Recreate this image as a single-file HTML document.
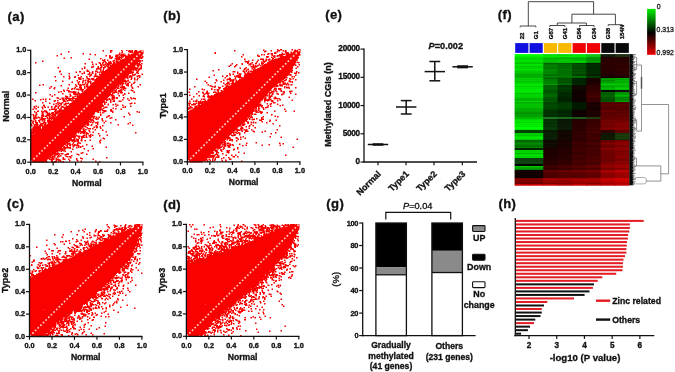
<!DOCTYPE html>
<html><head><meta charset="utf-8"><style>
html,body{margin:0;padding:0;background:#fff;width:675px;height:372px;overflow:hidden}
svg{display:block;font-family:"Liberation Sans", sans-serif}
svg{will-change:transform}
text{stroke:#111;stroke-width:0.32px}
</style></head><body>
<svg width="675" height="372" viewBox="0 0 675 372">
<rect width="675" height="372" fill="#fff"/>
<text x="7.44" y="21.3" font-size="13.1" font-weight="bold" text-anchor="start" fill="#111" stroke="#111" stroke-width="0.35" letter-spacing="0.4">(a)</text>
<text x="163.15" y="20.11" font-size="13.1" font-weight="bold" text-anchor="start" fill="#111" stroke="#111" stroke-width="0.35" letter-spacing="0.4">(b)</text>
<text x="6.94" y="207.5" font-size="13.1" font-weight="bold" text-anchor="start" fill="#111" stroke="#111" stroke-width="0.35" letter-spacing="0.4">(c)</text>
<text x="163.15" y="208.91" font-size="13.1" font-weight="bold" text-anchor="start" fill="#111" stroke="#111" stroke-width="0.35" letter-spacing="0.4">(d)</text>
<text x="325.15" y="19.01" font-size="13.1" font-weight="bold" text-anchor="start" fill="#111" stroke="#111" stroke-width="0.35" letter-spacing="0.4">(e)</text>
<text x="497.85" y="19.3" font-size="13.1" font-weight="bold" text-anchor="start" fill="#111" stroke="#111" stroke-width="0.35" letter-spacing="0.4">(f)</text>
<text x="326.35" y="208.31" font-size="13.1" font-weight="bold" text-anchor="start" fill="#111" stroke="#111" stroke-width="0.35" letter-spacing="0.4">(g)</text>
<text x="498.45" y="208.31" font-size="13.1" font-weight="bold" text-anchor="start" fill="#111" stroke="#111" stroke-width="0.35" letter-spacing="0.4">(h)</text>
<path d="M102.5 50h1.5v.5h-1.5zM110 50h2.5v.5h-2.5zM121 50h1.5v.5h-1.5zM126 50h1.5v.5h-1.5zM129 50h1.5v.5h-1.5zM131.5 50h1.5v.5h-1.5zM135 50h2v.5h-2zM140.5 50h3v.5h-3zM102.5 50.5h1.5v.5h-1.5zM110 50.5h2.5v.5h-2.5zM121 50.5h1.5v.5h-1.5zM126 50.5h1.5v.5h-1.5zM128 50.5h5v.5h-5zM134 50.5h3.5v.5h-3.5zM139.5 50.5h4v.5h-4zM68 51h1.5v.5h-1.5zM102.5 51h1.5v.5h-1.5zM110 51h2.5v.5h-2.5zM121.5 51h1.5v.5h-1.5zM128 51h5v.5h-5zM134 51h3.5v.5h-3.5zM138.5 51h5v.5h-5zM68 51.5h1.5v.5h-1.5zM110 51.5h1.5v.5h-1.5zM121.5 51.5h1.5v.5h-1.5zM128 51.5h5.5v.5h-5.5zM134 51.5h9.5v.5h-9.5zM68 52h1.5v.5h-1.5zM110 52h1.5v.5h-1.5zM121.5 52h1.5v.5h-1.5zM128.5 52h5v.5h-5zM134 52h9.5v.5h-9.5zM110 52.5h1.5v.5h-1.5zM119 52.5h1.5v.5h-1.5zM121.5 52.5h1.5v.5h-1.5zM130 52.5h1.5v.5h-1.5zM132 52.5h1.5v.5h-1.5zM134 52.5h9.5v.5h-9.5zM82.5 53h1.5v.5h-1.5zM119 53h1.5v.5h-1.5zM133.5 53h10v.5h-10zM60.5 53.5h1.5v.5h-1.5zM82.5 53.5h1.5v.5h-1.5zM89.5 53.5h1.5v.5h-1.5zM119 53.5h1.5v.5h-1.5zM121 53.5h3.5v.5h-3.5zM128 53.5h1.5v.5h-1.5zM131.5 53.5h12v.5h-12zM60.5 54h1.5v.5h-1.5zM82.5 54h1.5v.5h-1.5zM89.5 54h1.5v.5h-1.5zM94.5 54h1.5v.5h-1.5zM118.5 54h1.5v.5h-1.5zM121 54h3.5v.5h-3.5zM128 54h1.5v.5h-1.5zM131 54h12v.5h-12zM60.5 54.5h1.5v.5h-1.5zM89.5 54.5h1.5v.5h-1.5zM94.5 54.5h1.5v.5h-1.5zM115.5 54.5h10.5v.5h-10.5zM127.5 54.5h15v.5h-15zM56.5 55h1.5v.5h-1.5zM94.5 55h1.5v.5h-1.5zM105.5 55h1.5v.5h-1.5zM109 55h1.5v.5h-1.5zM115.5 55h10.5v.5h-10.5zM127.5 55h15v.5h-15zM56.5 55.5h1.5v.5h-1.5zM105.5 55.5h1.5v.5h-1.5zM109 55.5h2v.5h-2zM115 55.5h3.5v.5h-3.5zM120 55.5h7v.5h-7zM127.5 55.5h15v.5h-15zM56.5 56h1.5v.5h-1.5zM105.5 56h1.5v.5h-1.5zM109 56h2v.5h-2zM115 56h3v.5h-3zM118.5 56h1.5v.5h-1.5zM121 56h20.5v.5h-20.5zM142 56h1.5v.5h-1.5zM109 56.5h2v.5h-2zM111.5 56.5h1.5v.5h-1.5zM115 56.5h3v.5h-3zM118.5 56.5h5.5v.5h-5.5zM125 56.5h16.5v.5h-16.5zM142 56.5h1.5v.5h-1.5zM70.5 57h1.5v.5h-1.5zM109 57h1.5v.5h-1.5zM111 57h2v.5h-2zM115 57h1.5v.5h-1.5zM117 57h7v.5h-7zM125 57h18.5v.5h-18.5zM63.5 57.5h1.5v.5h-1.5zM70.5 57.5h1.5v.5h-1.5zM109 57.5h4v.5h-4zM116 57.5h6.5v.5h-6.5zM125 57.5h18v.5h-18zM63.5 58h1.5v.5h-1.5zM70.5 58h1.5v.5h-1.5zM100 58h1.5v.5h-1.5zM109 58h3.5v.5h-3.5zM114.5 58h5.5v.5h-5.5zM120.5 58h2v.5h-2zM124.5 58h18.5v.5h-18.5zM63.5 58.5h1.5v.5h-1.5zM88.5 58.5h1.5v.5h-1.5zM100 58.5h1.5v.5h-1.5zM110.5 58.5h1.5v.5h-1.5zM114.5 58.5h5.5v.5h-5.5zM120.5 58.5h1.5v.5h-1.5zM123.5 58.5h16.5v.5h-16.5zM140.5 58.5h1.5v.5h-1.5zM88.5 59h1.5v.5h-1.5zM100 59h1.5v.5h-1.5zM104 59h1.5v.5h-1.5zM114.5 59h25v.5h-25zM88.5 59.5h1.5v.5h-1.5zM102 59.5h1.5v.5h-1.5zM104 59.5h1.5v.5h-1.5zM107 59.5h1.5v.5h-1.5zM116 59.5h4.5v.5h-4.5zM122 59.5h17.5v.5h-17.5zM102 60h3.5v.5h-3.5zM107 60h1.5v.5h-1.5zM113.5 60h1.5v.5h-1.5zM116 60h25v.5h-25zM141.5 60h1.5v.5h-1.5zM42 60.5h1.5v.5h-1.5zM102 60.5h3v.5h-3zM107 60.5h1.5v.5h-1.5zM112.5 60.5h2.5v.5h-2.5zM115.5 60.5h2v.5h-2zM120 60.5h21v.5h-21zM141.5 60.5h1.5v.5h-1.5zM42 61h1.5v.5h-1.5zM103.5 61h2.5v.5h-2.5zM109.5 61h1.5v.5h-1.5zM112.5 61h2.5v.5h-2.5zM115.5 61h3v.5h-3zM119.5 61h21.5v.5h-21.5zM141.5 61h1.5v.5h-1.5zM42 61.5h1.5v.5h-1.5zM91.5 61.5h1.5v.5h-1.5zM102.5 61.5h3.5v.5h-3.5zM108 61.5h3.5v.5h-3.5zM112.5 61.5h1.5v.5h-1.5zM115.5 61.5h25.5v.5h-25.5zM35 62h1.5v.5h-1.5zM91.5 62h1.5v.5h-1.5zM98.5 62h1.5v.5h-1.5zM102.5 62h1.5v.5h-1.5zM104.5 62h2.5v.5h-2.5zM108 62h3.5v.5h-3.5zM113 62h2v.5h-2zM115.5 62h22.5v.5h-22.5zM138.5 62h2v.5h-2zM35 62.5h1.5v.5h-1.5zM91.5 62.5h1.5v.5h-1.5zM98.5 62.5h2.5v.5h-2.5zM102 62.5h2v.5h-2zM105.5 62.5h1.5v.5h-1.5zM108 62.5h4v.5h-4zM113 62.5h2v.5h-2zM115.5 62.5h22.5v.5h-22.5zM139 62.5h1.5v.5h-1.5zM35 63h1.5v.5h-1.5zM84.5 63h1.5v.5h-1.5zM98.5 63h2.5v.5h-2.5zM102 63h1.5v.5h-1.5zM105.5 63h6.5v.5h-6.5zM113 63h2v.5h-2zM115.5 63h25v.5h-25zM141 63h1.5v.5h-1.5zM84.5 63.5h1.5v.5h-1.5zM92 63.5h1.5v.5h-1.5zM95.5 63.5h1.5v.5h-1.5zM99.5 63.5h1.5v.5h-1.5zM102 63.5h1.5v.5h-1.5zM104.5 63.5h1.5v.5h-1.5zM106.5 63.5h33.5v.5h-33.5zM141 63.5h1.5v.5h-1.5zM84.5 64h1.5v.5h-1.5zM92 64h1.5v.5h-1.5zM95.5 64h1.5v.5h-1.5zM100 64h1.5v.5h-1.5zM102 64h1.5v.5h-1.5zM104.5 64h1.5v.5h-1.5zM106.5 64h4.5v.5h-4.5zM111.5 64h25v.5h-25zM137 64h5.5v.5h-5.5zM92 64.5h1.5v.5h-1.5zM95.5 64.5h1.5v.5h-1.5zM100 64.5h2.5v.5h-2.5zM103 64.5h7.5v.5h-7.5zM111.5 64.5h29.5v.5h-29.5zM100 65h2.5v.5h-2.5zM103 65h1.5v.5h-1.5zM106 65h1.5v.5h-1.5zM108 65h1.5v.5h-1.5zM110 65h25.5v.5h-25.5zM136.5 65h5.5v.5h-5.5zM92.5 65.5h1.5v.5h-1.5zM100.5 65.5h2v.5h-2zM103 65.5h6.5v.5h-6.5zM110 65.5h25.5v.5h-25.5zM136.5 65.5h3v.5h-3zM140.5 65.5h1.5v.5h-1.5zM92.5 66h1.5v.5h-1.5zM97.5 66h1.5v.5h-1.5zM100.5 66h2v.5h-2zM104.5 66h1.5v.5h-1.5zM106.5 66h3v.5h-3zM110 66h25v.5h-25zM137 66h2.5v.5h-2.5zM140.5 66h1.5v.5h-1.5zM84 66.5h1.5v.5h-1.5zM91 66.5h3v.5h-3zM97.5 66.5h1.5v.5h-1.5zM101 66.5h1.5v.5h-1.5zM104 66.5h2v.5h-2zM106.5 66.5h3v.5h-3zM110 66.5h25.5v.5h-25.5zM137.5 66.5h1.5v.5h-1.5zM140.5 66.5h1.5v.5h-1.5zM57.5 67h1.5v.5h-1.5zM84 67h1.5v.5h-1.5zM91 67h3v.5h-3zM97.5 67h1.5v.5h-1.5zM100 67h2.5v.5h-2.5zM103 67h3v.5h-3zM107 67h29.5v.5h-29.5zM137.5 67h1.5v.5h-1.5zM140.5 67h1.5v.5h-1.5zM57.5 67.5h1.5v.5h-1.5zM84 67.5h1.5v.5h-1.5zM91 67.5h1.5v.5h-1.5zM97.5 67.5h2v.5h-2zM100 67.5h2.5v.5h-2.5zM103 67.5h2.5v.5h-2.5zM108 67.5h30v.5h-30zM139.5 67.5h2.5v.5h-2.5zM57.5 68h1.5v.5h-1.5zM81.5 68h1.5v.5h-1.5zM84 68h1.5v.5h-1.5zM96.5 68h5.5v.5h-5.5zM103 68h1.5v.5h-1.5zM108 68h30v.5h-30zM139 68h3v.5h-3zM81.5 68.5h1.5v.5h-1.5zM84 68.5h1.5v.5h-1.5zM96 68.5h4.5v.5h-4.5zM103 68.5h1.5v.5h-1.5zM106.5 68.5h35.5v.5h-35.5zM81.5 69h1.5v.5h-1.5zM96 69h5.5v.5h-5.5zM103 69h1.5v.5h-1.5zM106.5 69h30.5v.5h-30.5zM137.5 69h4.5v.5h-4.5zM86.5 69.5h1.5v.5h-1.5zM96 69.5h1.5v.5h-1.5zM100 69.5h1.5v.5h-1.5zM102.5 69.5h1.5v.5h-1.5zM106.5 69.5h30.5v.5h-30.5zM137.5 69.5h2.5v.5h-2.5zM86.5 70h1.5v.5h-1.5zM100 70h1.5v.5h-1.5zM102.5 70h1.5v.5h-1.5zM105 70h27.5v.5h-27.5zM133 70h1.5v.5h-1.5zM135.5 70h1.5v.5h-1.5zM137.5 70h2.5v.5h-2.5zM59.5 70.5h1.5v.5h-1.5zM86.5 70.5h3v.5h-3zM95 70.5h2.5v.5h-2.5zM100 70.5h1.5v.5h-1.5zM102.5 70.5h1.5v.5h-1.5zM105 70.5h27.5v.5h-27.5zM133 70.5h1.5v.5h-1.5zM135.5 70.5h3.5v.5h-3.5zM59 71h2v.5h-2zM79 71h2v.5h-2zM86.5 71h3v.5h-3zM92 71h1.5v.5h-1.5zM95 71h2.5v.5h-2.5zM100 71h32.5v.5h-32.5zM136.5 71h2.5v.5h-2.5zM59 71.5h2v.5h-2zM75.5 71.5h1.5v.5h-1.5zM79 71.5h2v.5h-2zM83.5 71.5h1.5v.5h-1.5zM86.5 71.5h3v.5h-3zM92 71.5h1.5v.5h-1.5zM95 71.5h3.5v.5h-3.5zM99 71.5h1.5v.5h-1.5zM101.5 71.5h32.5v.5h-32.5zM136.5 71.5h2v.5h-2zM59 72h1.5v.5h-1.5zM75.5 72h1.5v.5h-1.5zM79 72h2v.5h-2zM83.5 72h1.5v.5h-1.5zM89 72h1.5v.5h-1.5zM92 72h1.5v.5h-1.5zM95 72h1.5v.5h-1.5zM97 72h1.5v.5h-1.5zM99 72h1.5v.5h-1.5zM101 72h33v.5h-33zM136 72h2v.5h-2zM75.5 72.5h1.5v.5h-1.5zM83.5 72.5h1.5v.5h-1.5zM89 72.5h1.5v.5h-1.5zM91.5 72.5h2v.5h-2zM97 72.5h1.5v.5h-1.5zM99 72.5h1.5v.5h-1.5zM101 72.5h33v.5h-33zM136 72.5h3v.5h-3zM68.5 73h1.5v.5h-1.5zM81.5 73h1.5v.5h-1.5zM83.5 73h1.5v.5h-1.5zM89 73h1.5v.5h-1.5zM91.5 73h2v.5h-2zM95 73h1.5v.5h-1.5zM101 73h31.5v.5h-31.5zM136 73h3v.5h-3zM60.5 73.5h1.5v.5h-1.5zM68.5 73.5h1.5v.5h-1.5zM81.5 73.5h1.5v.5h-1.5zM83.5 73.5h1.5v.5h-1.5zM87.5 73.5h2.5v.5h-2.5zM91.5 73.5h2v.5h-2zM95 73.5h1.5v.5h-1.5zM99 73.5h1.5v.5h-1.5zM101 73.5h30.5v.5h-30.5zM132 73.5h1.5v.5h-1.5zM134.5 73.5h1.5v.5h-1.5zM137.5 73.5h1.5v.5h-1.5zM141.5 73.5h1.5v.5h-1.5zM60.5 74h1.5v.5h-1.5zM68.5 74h1.5v.5h-1.5zM81.5 74h1.5v.5h-1.5zM87.5 74h2.5v.5h-2.5zM90.5 74h1.5v.5h-1.5zM95 74h1.5v.5h-1.5zM99 74h30v.5h-30zM132 74h1.5v.5h-1.5zM134 74h2v.5h-2zM141.5 74h1.5v.5h-1.5zM60.5 74.5h1.5v.5h-1.5zM77.5 74.5h1.5v.5h-1.5zM87.5 74.5h4.5v.5h-4.5zM94.5 74.5h2v.5h-2zM99 74.5h30v.5h-30zM132 74.5h4v.5h-4zM141.5 74.5h1.5v.5h-1.5zM77.5 75h1.5v.5h-1.5zM90 75h2v.5h-2zM94.5 75h2v.5h-2zM99.5 75h29.5v.5h-29.5zM129.5 75h2v.5h-2zM132 75h3.5v.5h-3.5zM138 75h2.5v.5h-2.5zM68.5 75.5h1.5v.5h-1.5zM77.5 75.5h1.5v.5h-1.5zM89 75.5h2.5v.5h-2.5zM94.5 75.5h4v.5h-4zM99.5 75.5h29v.5h-29zM129.5 75.5h3v.5h-3zM133 75.5h1.5v.5h-1.5zM136.5 75.5h4v.5h-4zM54.5 76h1.5v.5h-1.5zM63 76h1.5v.5h-1.5zM68.5 76h1.5v.5h-1.5zM74.5 76h1.5v.5h-1.5zM80.5 76h1.5v.5h-1.5zM86 76h1.5v.5h-1.5zM89 76h1.5v.5h-1.5zM93.5 76h35v.5h-35zM129 76h3.5v.5h-3.5zM136.5 76h4v.5h-4zM54.5 76.5h1.5v.5h-1.5zM63 76.5h1.5v.5h-1.5zM68.5 76.5h1.5v.5h-1.5zM74 76.5h2v.5h-2zM80.5 76.5h1.5v.5h-1.5zM86 76.5h1.5v.5h-1.5zM89 76.5h1.5v.5h-1.5zM93.5 76.5h35v.5h-35zM129 76.5h3.5v.5h-3.5zM136.5 76.5h1.5v.5h-1.5zM139 76.5h1.5v.5h-1.5zM54.5 77h1.5v.5h-1.5zM63 77h1.5v.5h-1.5zM69 77h1.5v.5h-1.5zM74 77h2v.5h-2zM78 77h1.5v.5h-1.5zM80.5 77h1.5v.5h-1.5zM86 77h1.5v.5h-1.5zM93.5 77h1.5v.5h-1.5zM97.5 77h31v.5h-31zM129 77h1.5v.5h-1.5zM131 77h1.5v.5h-1.5zM139 77h1.5v.5h-1.5zM69 77.5h1.5v.5h-1.5zM74 77.5h1.5v.5h-1.5zM78 77.5h3v.5h-3zM86.5 77.5h1.5v.5h-1.5zM96 77.5h32.5v.5h-32.5zM129 77.5h1.5v.5h-1.5zM131 77.5h1.5v.5h-1.5zM134 77.5h1.5v.5h-1.5zM137 77.5h1.5v.5h-1.5zM139 77.5h1.5v.5h-1.5zM68.5 78h2v.5h-2zM78 78h3.5v.5h-3.5zM82.5 78h1.5v.5h-1.5zM86.5 78h3v.5h-3zM91 78h3v.5h-3zM96 78h30.5v.5h-30.5zM127 78h1.5v.5h-1.5zM131 78h1.5v.5h-1.5zM134 78h1.5v.5h-1.5zM137 78h1.5v.5h-1.5zM68.5 78.5h1.5v.5h-1.5zM78.5 78.5h3v.5h-3zM82.5 78.5h1.5v.5h-1.5zM86.5 78.5h4v.5h-4zM91 78.5h3.5v.5h-3.5zM96 78.5h29v.5h-29zM127 78.5h1.5v.5h-1.5zM130.5 78.5h2v.5h-2zM134 78.5h1.5v.5h-1.5zM137 78.5h1.5v.5h-1.5zM68.5 79h1.5v.5h-1.5zM78.5 79h3v.5h-3zM82.5 79h1.5v.5h-1.5zM87.5 79h3v.5h-3zM91 79h3.5v.5h-3.5zM95 79h29.5v.5h-29.5zM130.5 79h1.5v.5h-1.5zM134 79h1.5v.5h-1.5zM136.5 79h1.5v.5h-1.5zM78.5 79.5h3v.5h-3zM85 79.5h1.5v.5h-1.5zM87.5 79.5h3v.5h-3zM91.5 79.5h34.5v.5h-34.5zM127.5 79.5h1.5v.5h-1.5zM130.5 79.5h1.5v.5h-1.5zM134 79.5h1.5v.5h-1.5zM136.5 79.5h1.5v.5h-1.5zM55 80h1.5v.5h-1.5zM76.5 80h1.5v.5h-1.5zM82.5 80h1.5v.5h-1.5zM84.5 80h2v.5h-2zM87.5 80h1.5v.5h-1.5zM92 80h34v.5h-34zM127.5 80h1.5v.5h-1.5zM134 80h1.5v.5h-1.5zM136.5 80h1.5v.5h-1.5zM55 80.5h1.5v.5h-1.5zM62 80.5h1.5v.5h-1.5zM76.5 80.5h1.5v.5h-1.5zM82.5 80.5h1.5v.5h-1.5zM84.5 80.5h2v.5h-2zM87 80.5h2v.5h-2zM89.5 80.5h1.5v.5h-1.5zM94.5 80.5h34.5v.5h-34.5zM55 81h1.5v.5h-1.5zM62 81h1.5v.5h-1.5zM76.5 81h1.5v.5h-1.5zM78.5 81h1.5v.5h-1.5zM82.5 81h1.5v.5h-1.5zM84.5 81h1.5v.5h-1.5zM87 81h4.5v.5h-4.5zM94.5 81h34.5v.5h-34.5zM62 81.5h1.5v.5h-1.5zM71.5 81.5h1.5v.5h-1.5zM78.5 81.5h1.5v.5h-1.5zM82 81.5h1.5v.5h-1.5zM87 81.5h4.5v.5h-4.5zM94 81.5h33.5v.5h-33.5zM129 81.5h1.5v.5h-1.5zM134 81.5h1.5v.5h-1.5zM71.5 82h1.5v.5h-1.5zM77.5 82h2.5v.5h-2.5zM82 82h1.5v.5h-1.5zM85 82h1.5v.5h-1.5zM87.5 82h4v.5h-4zM92.5 82h31.5v.5h-31.5zM125 82h1.5v.5h-1.5zM129 82h1.5v.5h-1.5zM134 82h1.5v.5h-1.5zM71.5 82.5h1.5v.5h-1.5zM77.5 82.5h1.5v.5h-1.5zM82 82.5h1.5v.5h-1.5zM85 82.5h1.5v.5h-1.5zM87.5 82.5h1.5v.5h-1.5zM90 82.5h1.5v.5h-1.5zM92.5 82.5h31v.5h-31zM124.5 82.5h2v.5h-2zM127.5 82.5h3v.5h-3zM133 82.5h2.5v.5h-2.5zM77.5 83h1.5v.5h-1.5zM85 83h1.5v.5h-1.5zM87 83h1.5v.5h-1.5zM90 83h1.5v.5h-1.5zM92 83h32v.5h-32zM124.5 83h2v.5h-2zM127 83h2v.5h-2zM133 83h1.5v.5h-1.5zM78 83.5h1.5v.5h-1.5zM82 83.5h1.5v.5h-1.5zM84 83.5h1.5v.5h-1.5zM87 83.5h1.5v.5h-1.5zM90 83.5h34v.5h-34zM124.5 83.5h2v.5h-2zM127 83.5h2v.5h-2zM131 83.5h1.5v.5h-1.5zM133 83.5h1.5v.5h-1.5zM42.5 84h1.5v.5h-1.5zM68.5 84h1.5v.5h-1.5zM75 84h1.5v.5h-1.5zM78 84h1.5v.5h-1.5zM80 84h1.5v.5h-1.5zM82 84h3.5v.5h-3.5zM86.5 84h2v.5h-2zM90 84h34v.5h-34zM125 84h1.5v.5h-1.5zM127 84h2v.5h-2zM131 84h1.5v.5h-1.5zM139.5 84h1.5v.5h-1.5zM39 84.5h1.5v.5h-1.5zM42.5 84.5h1.5v.5h-1.5zM68.5 84.5h1.5v.5h-1.5zM75 84.5h1.5v.5h-1.5zM78 84.5h3.5v.5h-3.5zM82 84.5h3.5v.5h-3.5zM86 84.5h2v.5h-2zM91 84.5h28v.5h-28zM119.5 84.5h1.5v.5h-1.5zM121.5 84.5h1.5v.5h-1.5zM126 84.5h3v.5h-3zM131 84.5h1.5v.5h-1.5zM139.5 84.5h1.5v.5h-1.5zM39 85h1.5v.5h-1.5zM42.5 85h1.5v.5h-1.5zM60.5 85h1.5v.5h-1.5zM68.5 85h1.5v.5h-1.5zM75 85h1.5v.5h-1.5zM79 85h3v.5h-3zM82.5 85h1.5v.5h-1.5zM86 85h2v.5h-2zM90 85h29v.5h-29zM119.5 85h1.5v.5h-1.5zM121.5 85h1.5v.5h-1.5zM126 85h3v.5h-3zM130.5 85h1.5v.5h-1.5zM139.5 85h1.5v.5h-1.5zM39 85.5h1.5v.5h-1.5zM60.5 85.5h1.5v.5h-1.5zM76 85.5h1.5v.5h-1.5zM79 85.5h3v.5h-3zM84 85.5h1.5v.5h-1.5zM86 85.5h2.5v.5h-2.5zM89.5 85.5h30v.5h-30zM121.5 85.5h1.5v.5h-1.5zM126 85.5h3v.5h-3zM130.5 85.5h1.5v.5h-1.5zM50.5 86h1.5v.5h-1.5zM60.5 86h1.5v.5h-1.5zM76 86h1.5v.5h-1.5zM79.5 86h2.5v.5h-2.5zM84 86h1.5v.5h-1.5zM86 86h2.5v.5h-2.5zM89 86h30.5v.5h-30.5zM121.5 86h3.5v.5h-3.5zM127.5 86h1.5v.5h-1.5zM130.5 86h1.5v.5h-1.5zM137.5 86h1.5v.5h-1.5zM50.5 86.5h1.5v.5h-1.5zM74.5 86.5h3v.5h-3zM79 86.5h2v.5h-2zM84 86.5h1.5v.5h-1.5zM86 86.5h31v.5h-31zM118 86.5h1.5v.5h-1.5zM120 86.5h5v.5h-5zM131.5 86.5h1.5v.5h-1.5zM137.5 86.5h1.5v.5h-1.5zM50.5 87h1.5v.5h-1.5zM54 87h1.5v.5h-1.5zM74.5 87h1.5v.5h-1.5zM79 87h3v.5h-3zM84 87h1.5v.5h-1.5zM86 87h32.5v.5h-32.5zM120 87h5v.5h-5zM131.5 87h1.5v.5h-1.5zM137.5 87h1.5v.5h-1.5zM49 87.5h1.5v.5h-1.5zM54 87.5h1.5v.5h-1.5zM67.5 87.5h1.5v.5h-1.5zM74.5 87.5h1.5v.5h-1.5zM79 87.5h3v.5h-3zM84 87.5h1.5v.5h-1.5zM87 87.5h32.5v.5h-32.5zM120 87.5h6.5v.5h-6.5zM131.5 87.5h2v.5h-2zM49 88h1.5v.5h-1.5zM53.5 88h2v.5h-2zM67.5 88h1.5v.5h-1.5zM72 88h1.5v.5h-1.5zM74 88h1.5v.5h-1.5zM79.5 88h2.5v.5h-2.5zM84 88h1.5v.5h-1.5zM87 88h32.5v.5h-32.5zM121.5 88h5v.5h-5zM131.5 88h2v.5h-2zM49 88.5h1.5v.5h-1.5zM53.5 88.5h1.5v.5h-1.5zM67.5 88.5h1.5v.5h-1.5zM71 88.5h2.5v.5h-2.5zM74 88.5h1.5v.5h-1.5zM76 88.5h3v.5h-3zM79.5 88.5h3v.5h-3zM84 88.5h1.5v.5h-1.5zM86.5 88.5h29.5v.5h-29.5zM117 88.5h2.5v.5h-2.5zM120.5 88.5h1.5v.5h-1.5zM122.5 88.5h4v.5h-4zM132 88.5h1.5v.5h-1.5zM53.5 89h1.5v.5h-1.5zM71 89h2.5v.5h-2.5zM74 89h1.5v.5h-1.5zM76 89h8v.5h-8zM86 89h29v.5h-29zM115.5 89h1.5v.5h-1.5zM120.5 89h1.5v.5h-1.5zM122.5 89h1.5v.5h-1.5zM63 89.5h1.5v.5h-1.5zM66.5 89.5h1.5v.5h-1.5zM71 89.5h1.5v.5h-1.5zM76 89.5h3.5v.5h-3.5zM80 89.5h4v.5h-4zM85.5 89.5h29v.5h-29zM115.5 89.5h1.5v.5h-1.5zM119.5 89.5h2.5v.5h-2.5zM122.5 89.5h3v.5h-3zM130.5 89.5h1.5v.5h-1.5zM63 90h1.5v.5h-1.5zM66.5 90h3v.5h-3zM78 90h1.5v.5h-1.5zM80 90h4v.5h-4zM84.5 90h32.5v.5h-32.5zM118 90h4.5v.5h-4.5zM124 90h1.5v.5h-1.5zM130.5 90h3v.5h-3zM63 90.5h2v.5h-2zM66.5 90.5h3v.5h-3zM81.5 90.5h1.5v.5h-1.5zM84.5 90.5h29v.5h-29zM114 90.5h2.5v.5h-2.5zM118 90.5h4.5v.5h-4.5zM124 90.5h1.5v.5h-1.5zM130.5 90.5h3v.5h-3zM60.5 91h1.5v.5h-1.5zM63.5 91h1.5v.5h-1.5zM68 91h3.5v.5h-3.5zM73 91h2.5v.5h-2.5zM81.5 91h1.5v.5h-1.5zM84 91h29.5v.5h-29.5zM114 91h2.5v.5h-2.5zM118 91h4.5v.5h-4.5zM132 91h1.5v.5h-1.5zM58 91.5h1.5v.5h-1.5zM60.5 91.5h1.5v.5h-1.5zM63.5 91.5h1.5v.5h-1.5zM68 91.5h8.5v.5h-8.5zM77.5 91.5h1.5v.5h-1.5zM81.5 91.5h32.5v.5h-32.5zM114.5 91.5h3v.5h-3zM118 91.5h4v.5h-4zM133.5 91.5h1.5v.5h-1.5zM35 92h1.5v.5h-1.5zM58 92h1.5v.5h-1.5zM60.5 92h1.5v.5h-1.5zM68 92h8.5v.5h-8.5zM77.5 92h1.5v.5h-1.5zM82.5 92h29.5v.5h-29.5zM112.5 92h5v.5h-5zM118 92h5v.5h-5zM133.5 92h1.5v.5h-1.5zM35 92.5h1.5v.5h-1.5zM58 92.5h1.5v.5h-1.5zM71.5 92.5h5v.5h-5zM77.5 92.5h2v.5h-2zM82 92.5h29.5v.5h-29.5zM112 92.5h5.5v.5h-5.5zM120 92.5h3v.5h-3zM128 92.5h1.5v.5h-1.5zM133.5 92.5h1.5v.5h-1.5zM35 93h1.5v.5h-1.5zM62 93h1.5v.5h-1.5zM73 93h3.5v.5h-3.5zM77.5 93h3v.5h-3zM81 93h30v.5h-30zM112 93h3v.5h-3zM117.5 93h1.5v.5h-1.5zM120 93h3v.5h-3zM124 93h1.5v.5h-1.5zM128 93h1.5v.5h-1.5zM62 93.5h1.5v.5h-1.5zM69.5 93.5h1.5v.5h-1.5zM73 93.5h7.5v.5h-7.5zM81 93.5h30v.5h-30zM112 93.5h1.5v.5h-1.5zM117.5 93.5h1.5v.5h-1.5zM124 93.5h1.5v.5h-1.5zM128 93.5h1.5v.5h-1.5zM49.5 94h1.5v.5h-1.5zM54 94h1.5v.5h-1.5zM62 94h1.5v.5h-1.5zM69.5 94h1.5v.5h-1.5zM73 94h40.5v.5h-40.5zM117.5 94h1.5v.5h-1.5zM124 94h1.5v.5h-1.5zM49.5 94.5h1.5v.5h-1.5zM54 94.5h1.5v.5h-1.5zM69.5 94.5h1.5v.5h-1.5zM73.5 94.5h4.5v.5h-4.5zM78.5 94.5h34.5v.5h-34.5zM122.5 94.5h3v.5h-3zM49.5 95h1.5v.5h-1.5zM54 95h1.5v.5h-1.5zM70 95h1.5v.5h-1.5zM76.5 95h1.5v.5h-1.5zM78.5 95h31.5v.5h-31.5zM110.5 95h4v.5h-4zM118.5 95h1.5v.5h-1.5zM122.5 95h1.5v.5h-1.5zM51.5 95.5h1.5v.5h-1.5zM65 95.5h1.5v.5h-1.5zM69.5 95.5h2v.5h-2zM74.5 95.5h1.5v.5h-1.5zM76.5 95.5h33.5v.5h-33.5zM110.5 95.5h4v.5h-4zM118.5 95.5h1.5v.5h-1.5zM122.5 95.5h1.5v.5h-1.5zM51.5 96h1.5v.5h-1.5zM65 96h3v.5h-3zM69.5 96h2v.5h-2zM74.5 96h1.5v.5h-1.5zM76.5 96h33v.5h-33zM110.5 96h4v.5h-4zM118.5 96h1.5v.5h-1.5zM51.5 96.5h1.5v.5h-1.5zM65 96.5h3v.5h-3zM69.5 96.5h1.5v.5h-1.5zM72 96.5h4v.5h-4zM76.5 96.5h32.5v.5h-32.5zM112 96.5h3v.5h-3zM56.5 97h1.5v.5h-1.5zM66 97h2v.5h-2zM72 97h2.5v.5h-2.5zM76.5 97h32v.5h-32zM111.5 97h3.5v.5h-3.5zM115.5 97h2v.5h-2zM123 97h1.5v.5h-1.5zM130 97h1.5v.5h-1.5zM56.5 97.5h2.5v.5h-2.5zM61.5 97.5h3v.5h-3zM65 97.5h4.5v.5h-4.5zM72 97.5h2.5v.5h-2.5zM76.5 97.5h31.5v.5h-31.5zM111.5 97.5h3.5v.5h-3.5zM115.5 97.5h2.5v.5h-2.5zM123 97.5h1.5v.5h-1.5zM130 97.5h1.5v.5h-1.5zM133 97.5h1.5v.5h-1.5zM56.5 98h2.5v.5h-2.5zM61.5 98h3v.5h-3zM65 98h43v.5h-43zM108.5 98h1.5v.5h-1.5zM111.5 98h3.5v.5h-3.5zM115.5 98h2.5v.5h-2.5zM123 98h1.5v.5h-1.5zM127 98h1.5v.5h-1.5zM130 98h2.5v.5h-2.5zM133 98h3v.5h-3zM32 98.5h1.5v.5h-1.5zM42.5 98.5h1.5v.5h-1.5zM45 98.5h1.5v.5h-1.5zM49 98.5h1.5v.5h-1.5zM57.5 98.5h1.5v.5h-1.5zM59.5 98.5h1.5v.5h-1.5zM61.5 98.5h3v.5h-3zM65 98.5h42v.5h-42zM108.5 98.5h2v.5h-2zM111.5 98.5h3.5v.5h-3.5zM116.5 98.5h1.5v.5h-1.5zM127 98.5h1.5v.5h-1.5zM131 98.5h1.5v.5h-1.5zM133 98.5h3v.5h-3zM32 99h1.5v.5h-1.5zM40 99h1.5v.5h-1.5zM42.5 99h1.5v.5h-1.5zM45 99h1.5v.5h-1.5zM49 99h1.5v.5h-1.5zM59.5 99h1.5v.5h-1.5zM61.5 99h3v.5h-3zM65.5 99h1.5v.5h-1.5zM68.5 99h5v.5h-5zM74.5 99h36v.5h-36zM111.5 99h2v.5h-2zM122 99h1.5v.5h-1.5zM127 99h1.5v.5h-1.5zM131 99h1.5v.5h-1.5zM134.5 99h1.5v.5h-1.5zM32 99.5h1.5v.5h-1.5zM40 99.5h1.5v.5h-1.5zM42.5 99.5h1.5v.5h-1.5zM45 99.5h1.5v.5h-1.5zM49 99.5h1.5v.5h-1.5zM59.5 99.5h1.5v.5h-1.5zM62.5 99.5h2.5v.5h-2.5zM65.5 99.5h1.5v.5h-1.5zM68 99.5h3v.5h-3zM72 99.5h1.5v.5h-1.5zM75 99.5h33.5v.5h-33.5zM109 99.5h2.5v.5h-2.5zM112 99.5h3v.5h-3zM122 99.5h1.5v.5h-1.5zM128.5 99.5h1.5v.5h-1.5zM34.5 100h1.5v.5h-1.5zM40 100h1.5v.5h-1.5zM54.5 100h1.5v.5h-1.5zM57 100h1.5v.5h-1.5zM62.5 100h2.5v.5h-2.5zM65.5 100h40v.5h-40zM106 100h2.5v.5h-2.5zM110 100h1.5v.5h-1.5zM113.5 100h1.5v.5h-1.5zM122 100h1.5v.5h-1.5zM128.5 100h1.5v.5h-1.5zM34.5 100.5h1.5v.5h-1.5zM45 100.5h1.5v.5h-1.5zM53.5 100.5h2.5v.5h-2.5zM57 100.5h1.5v.5h-1.5zM62.5 100.5h3v.5h-3zM67 100.5h5.5v.5h-5.5zM73 100.5h31.5v.5h-31.5zM106 100.5h1.5v.5h-1.5zM110 100.5h1.5v.5h-1.5zM112.5 100.5h2.5v.5h-2.5zM118.5 100.5h3v.5h-3zM128.5 100.5h1.5v.5h-1.5zM34.5 101h1.5v.5h-1.5zM45 101h1.5v.5h-1.5zM53.5 101h2.5v.5h-2.5zM57 101h1.5v.5h-1.5zM63 101h3.5v.5h-3.5zM67 101h1.5v.5h-1.5zM71 101h1.5v.5h-1.5zM73 101h32v.5h-32zM110 101h1.5v.5h-1.5zM112.5 101h2.5v.5h-2.5zM118.5 101h3v.5h-3zM45 101.5h1.5v.5h-1.5zM53.5 101.5h1.5v.5h-1.5zM63 101.5h3.5v.5h-3.5zM72 101.5h33v.5h-33zM105.5 101.5h1.5v.5h-1.5zM110 101.5h1.5v.5h-1.5zM112.5 101.5h2.5v.5h-2.5zM118.5 101.5h3v.5h-3zM42 102h1.5v.5h-1.5zM57 102h1.5v.5h-1.5zM62 102h1.5v.5h-1.5zM65 102h1.5v.5h-1.5zM72 102h33v.5h-33zM105.5 102h1.5v.5h-1.5zM110 102h1.5v.5h-1.5zM42 102.5h1.5v.5h-1.5zM49 102.5h1.5v.5h-1.5zM57 102.5h3v.5h-3zM60.5 102.5h3v.5h-3zM67.5 102.5h1.5v.5h-1.5zM71 102.5h32.5v.5h-32.5zM104 102.5h3v.5h-3zM110 102.5h1.5v.5h-1.5zM131 102.5h1.5v.5h-1.5zM134 102.5h1.5v.5h-1.5zM42 103h1.5v.5h-1.5zM49 103h1.5v.5h-1.5zM55.5 103h8v.5h-8zM64.5 103h4.5v.5h-4.5zM69.5 103h33.5v.5h-33.5zM104 103h1.5v.5h-1.5zM129.5 103h3v.5h-3zM134 103h1.5v.5h-1.5zM49 103.5h1.5v.5h-1.5zM53 103.5h1.5v.5h-1.5zM55.5 103.5h1.5v.5h-1.5zM58.5 103.5h3.5v.5h-3.5zM64.5 103.5h4.5v.5h-4.5zM69.5 103.5h33v.5h-33zM104 103.5h1.5v.5h-1.5zM107.5 103.5h1.5v.5h-1.5zM115 103.5h1.5v.5h-1.5zM129.5 103.5h3v.5h-3zM134 103.5h1.5v.5h-1.5zM53 104h1.5v.5h-1.5zM55.5 104h1.5v.5h-1.5zM57.5 104h1.5v.5h-1.5zM59.5 104h2.5v.5h-2.5zM63.5 104h4v.5h-4zM69 104h34v.5h-34zM104 104h1.5v.5h-1.5zM107.5 104h1.5v.5h-1.5zM112.5 104h1.5v.5h-1.5zM115 104h1.5v.5h-1.5zM129.5 104h1.5v.5h-1.5zM43 104.5h1.5v.5h-1.5zM53 104.5h1.5v.5h-1.5zM57.5 104.5h1.5v.5h-1.5zM60.5 104.5h1.5v.5h-1.5zM63.5 104.5h2.5v.5h-2.5zM69 104.5h34v.5h-34zM104 104.5h1.5v.5h-1.5zM107.5 104.5h1.5v.5h-1.5zM112.5 104.5h1.5v.5h-1.5zM115 104.5h1.5v.5h-1.5zM117 104.5h1.5v.5h-1.5zM122 104.5h1.5v.5h-1.5zM43 105h2v.5h-2zM55 105h1.5v.5h-1.5zM57.5 105h4.5v.5h-4.5zM63.5 105h1.5v.5h-1.5zM65.5 105h1.5v.5h-1.5zM68.5 105h35.5v.5h-35.5zM107.5 105h1.5v.5h-1.5zM112.5 105h1.5v.5h-1.5zM117 105h1.5v.5h-1.5zM122 105h1.5v.5h-1.5zM35.5 105.5h1.5v.5h-1.5zM43 105.5h2v.5h-2zM55 105.5h2v.5h-2zM59 105.5h1.5v.5h-1.5zM65.5 105.5h1.5v.5h-1.5zM68 105.5h36v.5h-36zM115.5 105.5h3v.5h-3zM122 105.5h1.5v.5h-1.5zM130 105.5h1.5v.5h-1.5zM33.5 106h1.5v.5h-1.5zM35.5 106h1.5v.5h-1.5zM43.5 106h1.5v.5h-1.5zM51 106h1.5v.5h-1.5zM54.5 106h2.5v.5h-2.5zM57.5 106h3v.5h-3zM61.5 106h2v.5h-2zM65.5 106h38.5v.5h-38.5zM115.5 106h1.5v.5h-1.5zM124.5 106h1.5v.5h-1.5zM130 106h1.5v.5h-1.5zM33.5 106.5h1.5v.5h-1.5zM35.5 106.5h1.5v.5h-1.5zM37.5 106.5h1.5v.5h-1.5zM41.5 106.5h1.5v.5h-1.5zM43.5 106.5h2.5v.5h-2.5zM47.5 106.5h1.5v.5h-1.5zM51 106.5h1.5v.5h-1.5zM54.5 106.5h2.5v.5h-2.5zM57.5 106.5h1.5v.5h-1.5zM61 106.5h3.5v.5h-3.5zM66 106.5h37.5v.5h-37.5zM104.5 106.5h3v.5h-3zM115.5 106.5h1.5v.5h-1.5zM122.5 106.5h1.5v.5h-1.5zM124.5 106.5h1.5v.5h-1.5zM130 106.5h1.5v.5h-1.5zM33.5 107h2v.5h-2zM37.5 107h1.5v.5h-1.5zM41.5 107h1.5v.5h-1.5zM43.5 107h2.5v.5h-2.5zM47.5 107h1.5v.5h-1.5zM51 107h1.5v.5h-1.5zM54 107h2v.5h-2zM57.5 107h1.5v.5h-1.5zM60.5 107h41.5v.5h-41.5zM104.5 107h3v.5h-3zM122.5 107h1.5v.5h-1.5zM124.5 107h1.5v.5h-1.5zM34 107.5h1.5v.5h-1.5zM37.5 107.5h1.5v.5h-1.5zM41.5 107.5h1.5v.5h-1.5zM44.5 107.5h1.5v.5h-1.5zM47.5 107.5h1.5v.5h-1.5zM51 107.5h1.5v.5h-1.5zM54 107.5h1.5v.5h-1.5zM57.5 107.5h1.5v.5h-1.5zM60.5 107.5h2v.5h-2zM63 107.5h38.5v.5h-38.5zM103 107.5h4.5v.5h-4.5zM112.5 107.5h1.5v.5h-1.5zM122.5 107.5h1.5v.5h-1.5zM124.5 107.5h1.5v.5h-1.5zM34 108h3v.5h-3zM42 108h1.5v.5h-1.5zM54 108h1.5v.5h-1.5zM57.5 108h1.5v.5h-1.5zM60.5 108h1.5v.5h-1.5zM63.5 108h38v.5h-38zM103 108h1.5v.5h-1.5zM112.5 108h1.5v.5h-1.5zM115 108h1.5v.5h-1.5zM32.5 108.5h1.5v.5h-1.5zM35.5 108.5h1.5v.5h-1.5zM42 108.5h1.5v.5h-1.5zM51 108.5h4v.5h-4zM55.5 108.5h1.5v.5h-1.5zM57.5 108.5h4v.5h-4zM64 108.5h40.5v.5h-40.5zM112.5 108.5h1.5v.5h-1.5zM115 108.5h1.5v.5h-1.5zM120.5 108.5h1.5v.5h-1.5zM32.5 109h1.5v.5h-1.5zM35.5 109h1.5v.5h-1.5zM42 109h1.5v.5h-1.5zM49 109h1.5v.5h-1.5zM51 109h6v.5h-6zM59 109h2.5v.5h-2.5zM64 109h39v.5h-39zM110.5 109h1.5v.5h-1.5zM115 109h1.5v.5h-1.5zM120.5 109h1.5v.5h-1.5zM32.5 109.5h1.5v.5h-1.5zM49 109.5h1.5v.5h-1.5zM51 109.5h6v.5h-6zM59 109.5h44.5v.5h-44.5zM110 109.5h2v.5h-2zM120.5 109.5h1.5v.5h-1.5zM44 110h1.5v.5h-1.5zM49 110h1.5v.5h-1.5zM54.5 110h2.5v.5h-2.5zM58.5 110h43v.5h-43zM102 110h4.5v.5h-4.5zM110 110h2v.5h-2zM37 110.5h2v.5h-2zM41 110.5h1.5v.5h-1.5zM44 110.5h3v.5h-3zM55 110.5h1.5v.5h-1.5zM57 110.5h44v.5h-44zM102 110.5h4.5v.5h-4.5zM110 110.5h3.5v.5h-3.5zM34 111h1.5v.5h-1.5zM37 111h2v.5h-2zM41 111h1.5v.5h-1.5zM43 111h4v.5h-4zM54 111h2.5v.5h-2.5zM57 111h42v.5h-42zM102.5 111h4v.5h-4zM110.5 111h3v.5h-3zM136.5 111h1.5v.5h-1.5zM34 111.5h1.5v.5h-1.5zM37 111.5h2v.5h-2zM41 111.5h3.5v.5h-3.5zM45 111.5h3v.5h-3zM54 111.5h45v.5h-45zM99.5 111.5h1.5v.5h-1.5zM103.5 111.5h3v.5h-3zM110.5 111.5h3v.5h-3zM136.5 111.5h1.5v.5h-1.5zM138.5 111.5h1.5v.5h-1.5zM34 112h3v.5h-3zM41.5 112h3v.5h-3zM45.5 112h2.5v.5h-2.5zM51.5 112h7.5v.5h-7.5zM59.5 112h36v.5h-36zM96.5 112h2.5v.5h-2.5zM99.5 112h1.5v.5h-1.5zM102 112h3v.5h-3zM112 112h1.5v.5h-1.5zM136.5 112h1.5v.5h-1.5zM138.5 112h1.5v.5h-1.5zM35.5 112.5h1.5v.5h-1.5zM41.5 112.5h2v.5h-2zM45.5 112.5h2.5v.5h-2.5zM48.5 112.5h1.5v.5h-1.5zM51 112.5h3v.5h-3zM55 112.5h40v.5h-40zM97.5 112.5h1.5v.5h-1.5zM99.5 112.5h1.5v.5h-1.5zM102 112.5h1.5v.5h-1.5zM112 112.5h1.5v.5h-1.5zM128 112.5h1.5v.5h-1.5zM138.5 112.5h1.5v.5h-1.5zM35.5 113h1.5v.5h-1.5zM41.5 113h2v.5h-2zM45.5 113h4.5v.5h-4.5zM51 113h3v.5h-3zM54.5 113h4v.5h-4zM59 113h36v.5h-36zM102 113h1.5v.5h-1.5zM128 113h1.5v.5h-1.5zM36 113.5h1.5v.5h-1.5zM41.5 113.5h2v.5h-2zM47 113.5h7v.5h-7zM54.5 113.5h40v.5h-40zM100 113.5h1.5v.5h-1.5zM128 113.5h1.5v.5h-1.5zM30.5 114h1v.5h-1zM32.5 114h1.5v.5h-1.5zM35.5 114h2v.5h-2zM42 114h2v.5h-2zM47 114h4v.5h-4zM51.5 114h5v.5h-5zM57.5 114h37v.5h-37zM100 114h1.5v.5h-1.5zM129 114h1.5v.5h-1.5zM30.5 114.5h1v.5h-1zM32.5 114.5h2v.5h-2zM35.5 114.5h2v.5h-2zM41.5 114.5h2.5v.5h-2.5zM46 114.5h5v.5h-5zM51.5 114.5h5v.5h-5zM57.5 114.5h37v.5h-37zM100 114.5h1.5v.5h-1.5zM129 114.5h1.5v.5h-1.5zM30.5 115h1v.5h-1zM32.5 115h2v.5h-2zM35 115h2v.5h-2zM41 115h3v.5h-3zM46 115h4.5v.5h-4.5zM51 115h2v.5h-2zM53.5 115h3v.5h-3zM57.5 115h37v.5h-37zM100 115h1.5v.5h-1.5zM108.5 115h1.5v.5h-1.5zM129 115h1.5v.5h-1.5zM33 115.5h1.5v.5h-1.5zM35 115.5h1.5v.5h-1.5zM41 115.5h3.5v.5h-3.5zM45 115.5h5.5v.5h-5.5zM51 115.5h5v.5h-5zM57 115.5h36v.5h-36zM100 115.5h1.5v.5h-1.5zM107.5 115.5h2.5v.5h-2.5zM33 116h1.5v.5h-1.5zM35 116h1.5v.5h-1.5zM41 116h3.5v.5h-3.5zM45 116h2.5v.5h-2.5zM48.5 116h2v.5h-2zM51 116h3v.5h-3zM54.5 116h1.5v.5h-1.5zM56.5 116h39v.5h-39zM107.5 116h2.5v.5h-2.5zM123.5 116h1.5v.5h-1.5zM33 116.5h1.5v.5h-1.5zM35 116.5h1.5v.5h-1.5zM37.5 116.5h1.5v.5h-1.5zM41.5 116.5h3v.5h-3zM45 116.5h2.5v.5h-2.5zM48.5 116.5h2.5v.5h-2.5zM52 116.5h43.5v.5h-43.5zM96 116.5h1.5v.5h-1.5zM98.5 116.5h1.5v.5h-1.5zM106 116.5h3v.5h-3zM123.5 116.5h1.5v.5h-1.5zM33.5 117h3v.5h-3zM37.5 117h2.5v.5h-2.5zM40.5 117h2.5v.5h-2.5zM46.5 117h1.5v.5h-1.5zM48.5 117h6.5v.5h-6.5zM55.5 117h40v.5h-40zM96 117h1.5v.5h-1.5zM98.5 117h1.5v.5h-1.5zM106 117h1.5v.5h-1.5zM111 117h1.5v.5h-1.5zM123.5 117h1.5v.5h-1.5zM33 117.5h7v.5h-7zM40.5 117.5h2.5v.5h-2.5zM46.5 117.5h1.5v.5h-1.5zM49 117.5h43.5v.5h-43.5zM93 117.5h1.5v.5h-1.5zM96 117.5h1.5v.5h-1.5zM98.5 117.5h1.5v.5h-1.5zM106 117.5h1.5v.5h-1.5zM109.5 117.5h3v.5h-3zM33 118h4.5v.5h-4.5zM38.5 118h1.5v.5h-1.5zM40.5 118h5.5v.5h-5.5zM46.5 118h2v.5h-2zM49 118h43.5v.5h-43.5zM93 118h1.5v.5h-1.5zM95 118h1.5v.5h-1.5zM97.5 118h1.5v.5h-1.5zM101.5 118h1.5v.5h-1.5zM109.5 118h3v.5h-3zM33 118.5h2.5v.5h-2.5zM36 118.5h1.5v.5h-1.5zM40.5 118.5h5.5v.5h-5.5zM47 118.5h44v.5h-44zM93 118.5h1.5v.5h-1.5zM95 118.5h4v.5h-4zM101.5 118.5h1.5v.5h-1.5zM109.5 118.5h1.5v.5h-1.5zM33.5 119h2v.5h-2zM39.5 119h6.5v.5h-6.5zM47 119h3v.5h-3zM50.5 119h1.5v.5h-1.5zM52.5 119h40.5v.5h-40.5zM95 119h4v.5h-4zM101.5 119h1.5v.5h-1.5zM115 119h1.5v.5h-1.5zM33.5 119.5h2v.5h-2zM39.5 119.5h5.5v.5h-5.5zM48.5 119.5h1.5v.5h-1.5zM50.5 119.5h1.5v.5h-1.5zM52.5 119.5h41.5v.5h-41.5zM96 119.5h1.5v.5h-1.5zM101.5 119.5h1.5v.5h-1.5zM115 119.5h1.5v.5h-1.5zM30.5 120h2v.5h-2zM35 120h1.5v.5h-1.5zM38 120h3v.5h-3zM41.5 120h1.5v.5h-1.5zM43.5 120h2v.5h-2zM47 120h5v.5h-5zM52.5 120h36.5v.5h-36.5zM90 120h4v.5h-4zM101.5 120h2v.5h-2zM115 120h1.5v.5h-1.5zM30.5 120.5h2v.5h-2zM33 120.5h1.5v.5h-1.5zM35 120.5h1.5v.5h-1.5zM38 120.5h2v.5h-2zM41.5 120.5h1.5v.5h-1.5zM43.5 120.5h2v.5h-2zM47 120.5h4v.5h-4zM52 120.5h38.5v.5h-38.5zM91 120.5h3v.5h-3zM102 120.5h1.5v.5h-1.5zM105 120.5h1.5v.5h-1.5zM30.5 121h2v.5h-2zM33 121h1.5v.5h-1.5zM35 121h1.5v.5h-1.5zM38 121h2v.5h-2zM41.5 121h1.5v.5h-1.5zM43.5 121h2v.5h-2zM47 121h43.5v.5h-43.5zM91 121h1.5v.5h-1.5zM93 121h1.5v.5h-1.5zM102 121h1.5v.5h-1.5zM105 121h1.5v.5h-1.5zM32 121.5h2.5v.5h-2.5zM35 121.5h1.5v.5h-1.5zM39 121.5h1.5v.5h-1.5zM43.5 121.5h1.5v.5h-1.5zM47 121.5h44.5v.5h-44.5zM93 121.5h1.5v.5h-1.5zM97 121.5h1.5v.5h-1.5zM105 121.5h1.5v.5h-1.5zM32 122h1.5v.5h-1.5zM35 122h3v.5h-3zM39 122h1.5v.5h-1.5zM43 122h3.5v.5h-3.5zM47 122h44.5v.5h-44.5zM92 122h2.5v.5h-2.5zM95 122h3.5v.5h-3.5zM103.5 122h1.5v.5h-1.5zM110 122h1.5v.5h-1.5zM129.5 122h1.5v.5h-1.5zM32 122.5h2v.5h-2zM35 122.5h3v.5h-3zM39 122.5h1.5v.5h-1.5zM42.5 122.5h4v.5h-4zM48 122.5h41v.5h-41zM90 122.5h1.5v.5h-1.5zM92 122.5h1.5v.5h-1.5zM95 122.5h3.5v.5h-3.5zM103.5 122.5h1.5v.5h-1.5zM110 122.5h1.5v.5h-1.5zM129.5 122.5h1.5v.5h-1.5zM30.5 123h1v.5h-1zM32.5 123h1.5v.5h-1.5zM35.5 123h2.5v.5h-2.5zM40.5 123h6v.5h-6zM48 123h41v.5h-41zM92 123h1.5v.5h-1.5zM95 123h3.5v.5h-3.5zM103.5 123h1.5v.5h-1.5zM110 123h1.5v.5h-1.5zM127.5 123h1.5v.5h-1.5zM129.5 123h1.5v.5h-1.5zM30.5 123.5h1.5v.5h-1.5zM32.5 123.5h1.5v.5h-1.5zM35.5 123.5h2.5v.5h-2.5zM40 123.5h4v.5h-4zM44.5 123.5h2v.5h-2zM47.5 123.5h41.5v.5h-41.5zM97 123.5h1.5v.5h-1.5zM127.5 123.5h1.5v.5h-1.5zM30.5 124h1.5v.5h-1.5zM33.5 124h5v.5h-5zM39.5 124h3.5v.5h-3.5zM43.5 124h3v.5h-3zM47 124h42.5v.5h-42.5zM91 124h1.5v.5h-1.5zM97 124h1.5v.5h-1.5zM117.5 124h1.5v.5h-1.5zM127.5 124h1.5v.5h-1.5zM30.5 124.5h2v.5h-2zM33.5 124.5h5v.5h-5zM39.5 124.5h3v.5h-3zM43.5 124.5h3v.5h-3zM47 124.5h39v.5h-39zM86.5 124.5h3v.5h-3zM90.5 124.5h2v.5h-2zM97 124.5h1.5v.5h-1.5zM117.5 124.5h1.5v.5h-1.5zM132 124.5h1.5v.5h-1.5zM30.5 125h2v.5h-2zM33.5 125h5v.5h-5zM39 125h4v.5h-4zM43.5 125h42.5v.5h-42.5zM86.5 125h3v.5h-3zM90.5 125h2v.5h-2zM95.5 125h2v.5h-2zM102 125h1.5v.5h-1.5zM117.5 125h1.5v.5h-1.5zM132 125h1.5v.5h-1.5zM30.5 125.5h2v.5h-2zM34 125.5h1.5v.5h-1.5zM36 125.5h2.5v.5h-2.5zM39 125.5h4v.5h-4zM43.5 125.5h41.5v.5h-41.5zM86.5 125.5h2v.5h-2zM90.5 125.5h1.5v.5h-1.5zM95.5 125.5h2v.5h-2zM102 125.5h1.5v.5h-1.5zM132 125.5h1.5v.5h-1.5zM30.5 126h1.5v.5h-1.5zM33.5 126h53v.5h-53zM95.5 126h2v.5h-2zM99.5 126h1.5v.5h-1.5zM102 126h1.5v.5h-1.5zM32.5 126.5h8.5v.5h-8.5zM42 126.5h42.5v.5h-42.5zM85 126.5h1.5v.5h-1.5zM93.5 126.5h1.5v.5h-1.5zM95.5 126.5h2.5v.5h-2.5zM99.5 126.5h1.5v.5h-1.5zM32.5 127h8.5v.5h-8.5zM42 127h42.5v.5h-42.5zM85 127h3v.5h-3zM93.5 127h1.5v.5h-1.5zM95.5 127h2.5v.5h-2.5zM99.5 127h1.5v.5h-1.5zM32.5 127.5h8.5v.5h-8.5zM42 127.5h41v.5h-41zM86.5 127.5h1.5v.5h-1.5zM93.5 127.5h1.5v.5h-1.5zM96 127.5h2v.5h-2zM100 127.5h1.5v.5h-1.5zM32.5 128h8.5v.5h-8.5zM42 128h42.5v.5h-42.5zM86.5 128h4.5v.5h-4.5zM92 128h1.5v.5h-1.5zM96 128h1.5v.5h-1.5zM100 128h1.5v.5h-1.5zM30.5 128.5h1v.5h-1zM32 128.5h9v.5h-9zM41.5 128.5h40.5v.5h-40.5zM83 128.5h1.5v.5h-1.5zM87.5 128.5h3.5v.5h-3.5zM92 128.5h1.5v.5h-1.5zM100 128.5h1.5v.5h-1.5zM30.5 129h51v.5h-51zM82.5 129h2v.5h-2zM85 129h1.5v.5h-1.5zM87.5 129h3.5v.5h-3.5zM92 129h1.5v.5h-1.5zM94.5 129h1.5v.5h-1.5zM30.5 129.5h51v.5h-51zM82.5 129.5h4v.5h-4zM94.5 129.5h1.5v.5h-1.5zM102 129.5h1.5v.5h-1.5zM31.5 130h49.5v.5h-49.5zM82.5 130h4v.5h-4zM88.5 130h1.5v.5h-1.5zM94.5 130h1.5v.5h-1.5zM102 130h1.5v.5h-1.5zM30.5 130.5h1.5v.5h-1.5zM32.5 130.5h48.5v.5h-48.5zM83 130.5h2v.5h-2zM88.5 130.5h1.5v.5h-1.5zM102 130.5h1.5v.5h-1.5zM30.5 131h55.5v.5h-55.5zM88.5 131h2v.5h-2zM105.5 131h1.5v.5h-1.5zM30.5 131.5h55.5v.5h-55.5zM89 131.5h1.5v.5h-1.5zM92.5 131.5h1.5v.5h-1.5zM105.5 131.5h1.5v.5h-1.5zM30.5 132h49v.5h-49zM80.5 132h7v.5h-7zM89 132h1.5v.5h-1.5zM92.5 132h1.5v.5h-1.5zM105.5 132h1.5v.5h-1.5zM135 132h1.5v.5h-1.5zM30.5 132.5h47v.5h-47zM78 132.5h1.5v.5h-1.5zM80 132.5h5v.5h-5zM85.5 132.5h2v.5h-2zM92.5 132.5h1.5v.5h-1.5zM135 132.5h1.5v.5h-1.5zM30.5 133h4v.5h-4zM35 133h42v.5h-42zM78 133h1.5v.5h-1.5zM80 133h1.5v.5h-1.5zM82.5 133h2.5v.5h-2.5zM85.5 133h3.5v.5h-3.5zM98 133h1.5v.5h-1.5zM135 133h1.5v.5h-1.5zM30.5 133.5h46v.5h-46zM80 133.5h1.5v.5h-1.5zM82.5 133.5h2.5v.5h-2.5zM85.5 133.5h3.5v.5h-3.5zM98 133.5h1.5v.5h-1.5zM30.5 134h2v.5h-2zM33 134h43.5v.5h-43.5zM85.5 134h3.5v.5h-3.5zM90 134h1.5v.5h-1.5zM98 134h1.5v.5h-1.5zM30.5 134.5h46v.5h-46zM83.5 134.5h1.5v.5h-1.5zM85.5 134.5h1.5v.5h-1.5zM90 134.5h1.5v.5h-1.5zM92 134.5h1.5v.5h-1.5zM106.5 134.5h1.5v.5h-1.5zM30.5 135h47v.5h-47zM82.5 135h2.5v.5h-2.5zM85.5 135h1.5v.5h-1.5zM88.5 135h3v.5h-3zM92 135h1.5v.5h-1.5zM99 135h1.5v.5h-1.5zM106.5 135h1.5v.5h-1.5zM30.5 135.5h45v.5h-45zM76 135.5h4.5v.5h-4.5zM82.5 135.5h2.5v.5h-2.5zM85.5 135.5h1.5v.5h-1.5zM88.5 135.5h3v.5h-3zM92 135.5h1.5v.5h-1.5zM99 135.5h1.5v.5h-1.5zM106.5 135.5h1.5v.5h-1.5zM30.5 136h50v.5h-50zM81 136h3v.5h-3zM85.5 136h1.5v.5h-1.5zM88.5 136h3v.5h-3zM99 136h1.5v.5h-1.5zM30.5 136.5h45.5v.5h-45.5zM77.5 136.5h3v.5h-3zM81 136.5h4v.5h-4zM85.5 136.5h2v.5h-2zM89.5 136.5h2v.5h-2zM30.5 137h45.5v.5h-45.5zM78 137h1.5v.5h-1.5zM81 137h4v.5h-4zM85.5 137h2v.5h-2zM89.5 137h1.5v.5h-1.5zM30.5 137.5h45v.5h-45zM78.5 137.5h1.5v.5h-1.5zM81 137.5h4v.5h-4zM85.5 137.5h2v.5h-2zM89.5 137.5h1.5v.5h-1.5zM102.5 137.5h1.5v.5h-1.5zM30.5 138h41.5v.5h-41.5zM73 138h2.5v.5h-2.5zM78.5 138h1.5v.5h-1.5zM81 138h1.5v.5h-1.5zM102.5 138h2.5v.5h-2.5zM30.5 138.5h41.5v.5h-41.5zM74 138.5h1.5v.5h-1.5zM76 138.5h1.5v.5h-1.5zM78.5 138.5h1.5v.5h-1.5zM81 138.5h1.5v.5h-1.5zM102.5 138.5h2.5v.5h-2.5zM30.5 139h41.5v.5h-41.5zM72.5 139h3v.5h-3zM76 139h3v.5h-3zM81 139h1.5v.5h-1.5zM103.5 139h1.5v.5h-1.5zM30.5 139.5h45v.5h-45zM76 139.5h3v.5h-3zM80.5 139.5h2v.5h-2zM89.5 139.5h1.5v.5h-1.5zM100 139.5h1.5v.5h-1.5zM30.5 140h45v.5h-45zM76.5 140h2.5v.5h-2.5zM80.5 140h2v.5h-2zM84.5 140h1.5v.5h-1.5zM89.5 140h1.5v.5h-1.5zM100 140h1.5v.5h-1.5zM30.5 140.5h48.5v.5h-48.5zM80.5 140.5h2v.5h-2zM84.5 140.5h1.5v.5h-1.5zM89.5 140.5h1.5v.5h-1.5zM99 140.5h2.5v.5h-2.5zM30.5 141h39.5v.5h-39.5zM71.5 141h5v.5h-5zM77 141h2v.5h-2zM81 141h1.5v.5h-1.5zM84.5 141h1.5v.5h-1.5zM99 141h1.5v.5h-1.5zM30.5 141.5h39.5v.5h-39.5zM71.5 141.5h1.5v.5h-1.5zM73.5 141.5h3v.5h-3zM77 141.5h2v.5h-2zM99 141.5h1.5v.5h-1.5zM30.5 142h38.5v.5h-38.5zM73.5 142h1.5v.5h-1.5zM77 142h2.5v.5h-2.5zM99.5 142h1.5v.5h-1.5zM30.5 142.5h37.5v.5h-37.5zM69 142.5h1.5v.5h-1.5zM72.5 142.5h1.5v.5h-1.5zM78 142.5h3v.5h-3zM99.5 142.5h1.5v.5h-1.5zM30.5 143h40v.5h-40zM72.5 143h1.5v.5h-1.5zM77 143h4v.5h-4zM99.5 143h1.5v.5h-1.5zM30.5 143.5h36v.5h-36zM67 143.5h3.5v.5h-3.5zM72.5 143.5h1.5v.5h-1.5zM77 143.5h1.5v.5h-1.5zM79.5 143.5h1.5v.5h-1.5zM30.5 144h35.5v.5h-35.5zM67 144h2.5v.5h-2.5zM70 144h1.5v.5h-1.5zM72 144h1.5v.5h-1.5zM74 144h1.5v.5h-1.5zM77 144h1.5v.5h-1.5zM86 144h1.5v.5h-1.5zM30.5 144.5h38v.5h-38zM69 144.5h2.5v.5h-2.5zM72 144.5h1.5v.5h-1.5zM74 144.5h4.5v.5h-4.5zM86 144.5h1.5v.5h-1.5zM30.5 145h34v.5h-34zM65.5 145h2.5v.5h-2.5zM69 145h2.5v.5h-2.5zM72 145h7.5v.5h-7.5zM86 145h1.5v.5h-1.5zM30.5 145.5h33.5v.5h-33.5zM65.5 145.5h2.5v.5h-2.5zM69 145.5h2v.5h-2zM73 145.5h2v.5h-2zM75.5 145.5h4v.5h-4zM82 145.5h1.5v.5h-1.5zM91.5 145.5h1.5v.5h-1.5zM30.5 146h34.5v.5h-34.5zM66.5 146h1.5v.5h-1.5zM69.5 146h1.5v.5h-1.5zM72.5 146h2.5v.5h-2.5zM76.5 146h3v.5h-3zM80 146h1.5v.5h-1.5zM82 146h1.5v.5h-1.5zM91.5 146h1.5v.5h-1.5zM30.5 146.5h32.5v.5h-32.5zM63.5 146.5h2v.5h-2zM66.5 146.5h2v.5h-2zM72.5 146.5h1.5v.5h-1.5zM78 146.5h1.5v.5h-1.5zM80 146.5h1.5v.5h-1.5zM82 146.5h1.5v.5h-1.5zM91.5 146.5h1.5v.5h-1.5zM105.5 146.5h1.5v.5h-1.5zM30.5 147h32v.5h-32zM63 147h8v.5h-8zM72.5 147h1.5v.5h-1.5zM76 147h1.5v.5h-1.5zM78 147h1.5v.5h-1.5zM80 147h1.5v.5h-1.5zM105.5 147h1.5v.5h-1.5zM30.5 147.5h31.5v.5h-31.5zM63 147.5h8v.5h-8zM76 147.5h1.5v.5h-1.5zM78 147.5h1.5v.5h-1.5zM80 147.5h1.5v.5h-1.5zM105.5 147.5h1.5v.5h-1.5zM30.5 148h40.5v.5h-40.5zM76 148h1.5v.5h-1.5zM83.5 148h1.5v.5h-1.5zM92.5 148h1.5v.5h-1.5zM30.5 148.5h32.5v.5h-32.5zM63.5 148.5h2.5v.5h-2.5zM69.5 148.5h1.5v.5h-1.5zM72 148.5h1.5v.5h-1.5zM83.5 148.5h1.5v.5h-1.5zM92.5 148.5h1.5v.5h-1.5zM30.5 149h32.5v.5h-32.5zM63.5 149h2.5v.5h-2.5zM72 149h1.5v.5h-1.5zM83.5 149h1.5v.5h-1.5zM92.5 149h1.5v.5h-1.5zM30.5 149.5h34.5v.5h-34.5zM72 149.5h1.5v.5h-1.5zM30.5 150h34.5v.5h-34.5zM87.5 150h1.5v.5h-1.5zM30.5 150.5h29.5v.5h-29.5zM60.5 150.5h5.5v.5h-5.5zM87.5 150.5h1.5v.5h-1.5zM30.5 151h27.5v.5h-27.5zM58.5 151h1.5v.5h-1.5zM60.5 151h1.5v.5h-1.5zM62.5 151h1.5v.5h-1.5zM64.5 151h1.5v.5h-1.5zM70.5 151h1.5v.5h-1.5zM87.5 151h1.5v.5h-1.5zM30.5 151.5h28v.5h-28zM60.5 151.5h1.5v.5h-1.5zM64.5 151.5h1.5v.5h-1.5zM70.5 151.5h1.5v.5h-1.5zM30.5 152h26v.5h-26zM57 152h1.5v.5h-1.5zM70.5 152h1.5v.5h-1.5zM82 152h1.5v.5h-1.5zM30.5 152.5h26v.5h-26zM57 152.5h1.5v.5h-1.5zM80.5 152.5h3v.5h-3zM30.5 153h29v.5h-29zM60.5 153h3v.5h-3zM67 153h1.5v.5h-1.5zM80.5 153h3v.5h-3zM30.5 153.5h29.5v.5h-29.5zM60.5 153.5h3v.5h-3zM66 153.5h3v.5h-3zM76.5 153.5h1.5v.5h-1.5zM80.5 153.5h1.5v.5h-1.5zM86 153.5h1.5v.5h-1.5zM30.5 154h29.5v.5h-29.5zM60.5 154h3v.5h-3zM64.5 154h4.5v.5h-4.5zM76.5 154h3v.5h-3zM86 154h1.5v.5h-1.5zM30.5 154.5h23v.5h-23zM54 154.5h4v.5h-4zM58.5 154.5h1.5v.5h-1.5zM64.5 154.5h4.5v.5h-4.5zM76.5 154.5h3v.5h-3zM86 154.5h1.5v.5h-1.5zM30.5 155h22v.5h-22zM54 155h3v.5h-3zM57.5 155h1.5v.5h-1.5zM59.5 155h2v.5h-2zM64.5 155h1.5v.5h-1.5zM71 155h1.5v.5h-1.5zM78 155h1.5v.5h-1.5zM30.5 155.5h25v.5h-25zM57.5 155.5h1.5v.5h-1.5zM59.5 155.5h2v.5h-2zM65.5 155.5h1.5v.5h-1.5zM71 155.5h1.5v.5h-1.5zM30.5 156h21v.5h-21zM52 156h3.5v.5h-3.5zM57 156h4.5v.5h-4.5zM65.5 156h3v.5h-3zM69 156h3.5v.5h-3.5zM30.5 156.5h21v.5h-21zM52 156.5h3.5v.5h-3.5zM57 156.5h2.5v.5h-2.5zM65.5 156.5h3v.5h-3zM69 156.5h2v.5h-2zM30.5 157h19v.5h-19zM50 157h3v.5h-3zM53.5 157h2v.5h-2zM57 157h2.5v.5h-2.5zM62.5 157h1.5v.5h-1.5zM67 157h1.5v.5h-1.5zM69 157h2.5v.5h-2.5zM106 157h1.5v.5h-1.5zM30.5 157.5h24v.5h-24zM55.5 157.5h1.5v.5h-1.5zM62.5 157.5h1.5v.5h-1.5zM70 157.5h1.5v.5h-1.5zM80 157.5h1.5v.5h-1.5zM106 157.5h1.5v.5h-1.5zM30.5 158h19.5v.5h-19.5zM51 158h3.5v.5h-3.5zM55.5 158h1.5v.5h-1.5zM62.5 158h1.5v.5h-1.5zM70 158h1.5v.5h-1.5zM76 158h1.5v.5h-1.5zM80 158h3v.5h-3zM106 158h1.5v.5h-1.5zM30.5 158.5h20.5v.5h-20.5zM51.5 158.5h3v.5h-3zM55.5 158.5h3.5v.5h-3.5zM62.5 158.5h3v.5h-3zM68 158.5h1.5v.5h-1.5zM76 158.5h1.5v.5h-1.5zM80 158.5h3v.5h-3zM92.5 158.5h1.5v.5h-1.5zM30.5 159h18v.5h-18zM49 159h5.5v.5h-5.5zM55.5 159h4v.5h-4zM62.5 159h3v.5h-3zM68 159h1.5v.5h-1.5zM76 159h1.5v.5h-1.5zM81.5 159h1.5v.5h-1.5zM92.5 159h1.5v.5h-1.5zM30.5 159.5h16.5v.5h-16.5zM49 159.5h5.5v.5h-5.5zM55.5 159.5h5.5v.5h-5.5zM62.5 159.5h3v.5h-3zM68 159.5h1.5v.5h-1.5zM76 159.5h1.5v.5h-1.5zM92.5 159.5h1.5v.5h-1.5zM30.5 160h16.5v.5h-16.5zM50.5 160h2.5v.5h-2.5zM55.5 160h1.5v.5h-1.5zM57.5 160h3.5v.5h-3.5zM69 160h1.5v.5h-1.5zM76 160h2.5v.5h-2.5zM30.5 160.5h16.5v.5h-16.5zM51 160.5h2v.5h-2zM55.5 160.5h1.5v.5h-1.5zM57.5 160.5h4v.5h-4zM69 160.5h1.5v.5h-1.5zM77 160.5h1.5v.5h-1.5zM80.5 160.5h1.5v.5h-1.5zM95 160.5h1.5v.5h-1.5zM30.5 161h17v.5h-17zM51 161h2v.5h-2zM53.5 161h3.5v.5h-3.5zM57.5 161h4v.5h-4zM62.5 161h1.5v.5h-1.5zM69 161h1.5v.5h-1.5zM77 161h1.5v.5h-1.5zM80.5 161h1.5v.5h-1.5zM95 161h1.5v.5h-1.5zM99 161h1.5v.5h-1.5zM30.5 161.5h17v.5h-17zM51 161.5h2v.5h-2zM53.5 161.5h3.5v.5h-3.5zM60 161.5h1.5v.5h-1.5zM62.5 161.5h1.5v.5h-1.5zM80.5 161.5h1.5v.5h-1.5zM95 161.5h1.5v.5h-1.5zM99 161.5h1.5v.5h-1.5zM30.5 162h14v.5h-14zM45 162h2.5v.5h-2.5zM51.5 162h1.5v.5h-1.5zM53.5 162h2.5v.5h-2.5zM62.5 162h1.5v.5h-1.5zM99 162h1.5v.5h-1.5z" fill="#fa0000"/>
<path d="M30.60 161.35a.95 .95 0 1 0 1.9 0a.95 .95 0 1 0 -1.9 0M33.23 158.73a.95 .95 0 1 0 1.9 0a.95 .95 0 1 0 -1.9 0M35.87 156.10a.95 .95 0 1 0 1.9 0a.95 .95 0 1 0 -1.9 0M38.50 153.47a.95 .95 0 1 0 1.9 0a.95 .95 0 1 0 -1.9 0M41.14 150.84a.95 .95 0 1 0 1.9 0a.95 .95 0 1 0 -1.9 0M43.77 148.22a.95 .95 0 1 0 1.9 0a.95 .95 0 1 0 -1.9 0M46.40 145.59a.95 .95 0 1 0 1.9 0a.95 .95 0 1 0 -1.9 0M49.04 142.96a.95 .95 0 1 0 1.9 0a.95 .95 0 1 0 -1.9 0M51.67 140.34a.95 .95 0 1 0 1.9 0a.95 .95 0 1 0 -1.9 0M54.31 137.71a.95 .95 0 1 0 1.9 0a.95 .95 0 1 0 -1.9 0M56.94 135.08a.95 .95 0 1 0 1.9 0a.95 .95 0 1 0 -1.9 0M59.57 132.46a.95 .95 0 1 0 1.9 0a.95 .95 0 1 0 -1.9 0M62.21 129.83a.95 .95 0 1 0 1.9 0a.95 .95 0 1 0 -1.9 0M64.84 127.20a.95 .95 0 1 0 1.9 0a.95 .95 0 1 0 -1.9 0M67.48 124.58a.95 .95 0 1 0 1.9 0a.95 .95 0 1 0 -1.9 0M70.11 121.95a.95 .95 0 1 0 1.9 0a.95 .95 0 1 0 -1.9 0M72.74 119.32a.95 .95 0 1 0 1.9 0a.95 .95 0 1 0 -1.9 0M75.38 116.70a.95 .95 0 1 0 1.9 0a.95 .95 0 1 0 -1.9 0M78.01 114.07a.95 .95 0 1 0 1.9 0a.95 .95 0 1 0 -1.9 0M80.64 111.44a.95 .95 0 1 0 1.9 0a.95 .95 0 1 0 -1.9 0M83.28 108.81a.95 .95 0 1 0 1.9 0a.95 .95 0 1 0 -1.9 0M85.91 106.19a.95 .95 0 1 0 1.9 0a.95 .95 0 1 0 -1.9 0M88.55 103.56a.95 .95 0 1 0 1.9 0a.95 .95 0 1 0 -1.9 0M91.18 100.93a.95 .95 0 1 0 1.9 0a.95 .95 0 1 0 -1.9 0M93.81 98.31a.95 .95 0 1 0 1.9 0a.95 .95 0 1 0 -1.9 0M96.45 95.68a.95 .95 0 1 0 1.9 0a.95 .95 0 1 0 -1.9 0M99.08 93.05a.95 .95 0 1 0 1.9 0a.95 .95 0 1 0 -1.9 0M101.72 90.43a.95 .95 0 1 0 1.9 0a.95 .95 0 1 0 -1.9 0M104.35 87.80a.95 .95 0 1 0 1.9 0a.95 .95 0 1 0 -1.9 0M106.98 85.17a.95 .95 0 1 0 1.9 0a.95 .95 0 1 0 -1.9 0M109.62 82.55a.95 .95 0 1 0 1.9 0a.95 .95 0 1 0 -1.9 0M112.25 79.92a.95 .95 0 1 0 1.9 0a.95 .95 0 1 0 -1.9 0M114.89 77.29a.95 .95 0 1 0 1.9 0a.95 .95 0 1 0 -1.9 0M117.52 74.66a.95 .95 0 1 0 1.9 0a.95 .95 0 1 0 -1.9 0M120.15 72.04a.95 .95 0 1 0 1.9 0a.95 .95 0 1 0 -1.9 0M122.79 69.41a.95 .95 0 1 0 1.9 0a.95 .95 0 1 0 -1.9 0M125.42 66.78a.95 .95 0 1 0 1.9 0a.95 .95 0 1 0 -1.9 0M128.06 64.16a.95 .95 0 1 0 1.9 0a.95 .95 0 1 0 -1.9 0M130.69 61.53a.95 .95 0 1 0 1.9 0a.95 .95 0 1 0 -1.9 0M133.32 58.90a.95 .95 0 1 0 1.9 0a.95 .95 0 1 0 -1.9 0M135.96 56.28a.95 .95 0 1 0 1.9 0a.95 .95 0 1 0 -1.9 0M138.59 53.65a.95 .95 0 1 0 1.9 0a.95 .95 0 1 0 -1.9 0M141.23 51.02a.95 .95 0 1 0 1.9 0a.95 .95 0 1 0 -1.9 0" fill="#fcd4d4"/>
<line x1="30.7" y1="49.699999999999996" x2="30.7" y2="162.79999999999998" stroke="#111" stroke-width="1.3" />
<line x1="30.099999999999998" y1="162.2" x2="143.5" y2="162.2" stroke="#111" stroke-width="1.3" />
<line x1="27.2" y1="162.2" x2="30.7" y2="162.2" stroke="#111" stroke-width="1.2" />
<line x1="30.7" y1="162.2" x2="30.7" y2="165.5" stroke="#111" stroke-width="1.2" />
<text x="26.4" y="164.25" font-size="7.3" font-weight="bold" text-anchor="end" fill="#111" >0.0</text>
<text x="30.7" y="173.8" font-size="7.3" font-weight="bold" text-anchor="middle" fill="#111" >0.0</text>
<line x1="27.2" y1="139.82" x2="30.7" y2="139.82" stroke="#111" stroke-width="1.2" />
<line x1="53.14" y1="162.2" x2="53.14" y2="165.5" stroke="#111" stroke-width="1.2" />
<text x="26.4" y="141.87" font-size="7.3" font-weight="bold" text-anchor="end" fill="#111" >0.2</text>
<text x="53.14" y="173.8" font-size="7.3" font-weight="bold" text-anchor="middle" fill="#111" >0.2</text>
<line x1="27.2" y1="117.44" x2="30.7" y2="117.44" stroke="#111" stroke-width="1.2" />
<line x1="75.58" y1="162.2" x2="75.58" y2="165.5" stroke="#111" stroke-width="1.2" />
<text x="26.4" y="119.49" font-size="7.3" font-weight="bold" text-anchor="end" fill="#111" >0.4</text>
<text x="75.58" y="173.8" font-size="7.3" font-weight="bold" text-anchor="middle" fill="#111" >0.4</text>
<line x1="27.2" y1="95.05999999999999" x2="30.7" y2="95.05999999999999" stroke="#111" stroke-width="1.2" />
<line x1="98.02000000000001" y1="162.2" x2="98.02000000000001" y2="165.5" stroke="#111" stroke-width="1.2" />
<text x="26.4" y="97.11" font-size="7.3" font-weight="bold" text-anchor="end" fill="#111" >0.6</text>
<text x="98.02" y="173.8" font-size="7.3" font-weight="bold" text-anchor="middle" fill="#111" >0.6</text>
<line x1="27.2" y1="72.67999999999999" x2="30.7" y2="72.67999999999999" stroke="#111" stroke-width="1.2" />
<line x1="120.46000000000001" y1="162.2" x2="120.46000000000001" y2="165.5" stroke="#111" stroke-width="1.2" />
<text x="26.4" y="74.73" font-size="7.3" font-weight="bold" text-anchor="end" fill="#111" >0.8</text>
<text x="120.46" y="173.8" font-size="7.3" font-weight="bold" text-anchor="middle" fill="#111" >0.8</text>
<line x1="27.2" y1="50.3" x2="30.7" y2="50.3" stroke="#111" stroke-width="1.2" />
<line x1="142.9" y1="162.2" x2="142.9" y2="165.5" stroke="#111" stroke-width="1.2" />
<text x="26.4" y="52.35" font-size="7.3" font-weight="bold" text-anchor="end" fill="#111" >1.0</text>
<text x="142.9" y="173.8" font-size="7.3" font-weight="bold" text-anchor="middle" fill="#111" >1.0</text>
<text x="86.8" y="185.7" font-size="8.6" font-weight="bold" text-anchor="middle" fill="#111" >Normal</text>
<text x="0" y="0" font-size="9.0" font-weight="bold" text-anchor="middle" fill="#111" transform="translate(9.3 106.25) rotate(-90)">Normal</text>
<path d="M277 49h1.5v.5h-1.5zM280 49h2v.5h-2zM291.5 49h1.5v.5h-1.5zM298.5 49h2v.5h-2zM263 49.5h1.5v.5h-1.5zM277 49.5h1.5v.5h-1.5zM280 49.5h2v.5h-2zM291.5 49.5h1.5v.5h-1.5zM294.5 49.5h1.5v.5h-1.5zM297.5 49.5h3v.5h-3zM234 50h1.5v.5h-1.5zM263 50h1.5v.5h-1.5zM270.5 50h1.5v.5h-1.5zM277 50h5v.5h-5zM282.5 50h1.5v.5h-1.5zM285 50h1.5v.5h-1.5zM291.5 50h1.5v.5h-1.5zM294 50h2v.5h-2zM296.5 50h4v.5h-4zM234 50.5h1.5v.5h-1.5zM263 50.5h1.5v.5h-1.5zM265 50.5h1.5v.5h-1.5zM270.5 50.5h1.5v.5h-1.5zM277.5 50.5h2.5v.5h-2.5zM282.5 50.5h1.5v.5h-1.5zM284.5 50.5h2v.5h-2zM294 50.5h6.5v.5h-6.5zM234 51h1.5v.5h-1.5zM264 51h2.5v.5h-2.5zM270.5 51h1.5v.5h-1.5zM276.5 51h3.5v.5h-3.5zM282.5 51h1.5v.5h-1.5zM284.5 51h2v.5h-2zM293.5 51h7v.5h-7zM264 51.5h2.5v.5h-2.5zM276.5 51.5h1.5v.5h-1.5zM284.5 51.5h2.5v.5h-2.5zM290.5 51.5h1.5v.5h-1.5zM293.5 51.5h7v.5h-7zM214.5 52h1.5v.5h-1.5zM264 52h1.5v.5h-1.5zM274.5 52h1.5v.5h-1.5zM276.5 52h1.5v.5h-1.5zM285 52h3.5v.5h-3.5zM290.5 52h1.5v.5h-1.5zM292.5 52h8v.5h-8zM214.5 52.5h1.5v.5h-1.5zM274 52.5h2.5v.5h-2.5zM281.5 52.5h1.5v.5h-1.5zM285 52.5h4v.5h-4zM290.5 52.5h1.5v.5h-1.5zM292.5 52.5h8v.5h-8zM214.5 53h1.5v.5h-1.5zM268 53h1.5v.5h-1.5zM270.5 53h2.5v.5h-2.5zM274 53h2.5v.5h-2.5zM281.5 53h1.5v.5h-1.5zM285.5 53h3.5v.5h-3.5zM290.5 53h9.5v.5h-9.5zM214.5 53.5h1.5v.5h-1.5zM267 53.5h2.5v.5h-2.5zM270.5 53.5h2.5v.5h-2.5zM274 53.5h2.5v.5h-2.5zM281.5 53.5h4v.5h-4zM286 53.5h14v.5h-14zM242.5 54h1.5v.5h-1.5zM261 54h1.5v.5h-1.5zM263.5 54h1.5v.5h-1.5zM267 54h2.5v.5h-2.5zM270.5 54h2.5v.5h-2.5zM279 54h6.5v.5h-6.5zM286 54h14.5v.5h-14.5zM242.5 54.5h1.5v.5h-1.5zM257 54.5h1.5v.5h-1.5zM261 54.5h1.5v.5h-1.5zM263.5 54.5h1.5v.5h-1.5zM267 54.5h1.5v.5h-1.5zM271.5 54.5h1.5v.5h-1.5zM279 54.5h6.5v.5h-6.5zM286 54.5h14.5v.5h-14.5zM242.5 55h1.5v.5h-1.5zM257 55h1.5v.5h-1.5zM261 55h1.5v.5h-1.5zM263.5 55h1.5v.5h-1.5zM271.5 55h1.5v.5h-1.5zM274 55h1.5v.5h-1.5zM277 55h6.5v.5h-6.5zM286 55h14.5v.5h-14.5zM257 55.5h3v.5h-3zM271.5 55.5h4v.5h-4zM276.5 55.5h6.5v.5h-6.5zM285 55.5h14.5v.5h-14.5zM241 56h1.5v.5h-1.5zM257.5 56h2.5v.5h-2.5zM266 56h3v.5h-3zM273 56h2.5v.5h-2.5zM276.5 56h22v.5h-22zM241 56.5h1.5v.5h-1.5zM257.5 56.5h2.5v.5h-2.5zM266 56.5h3v.5h-3zM271 56.5h1.5v.5h-1.5zM273 56.5h2.5v.5h-2.5zM276.5 56.5h1.5v.5h-1.5zM280 56.5h18.5v.5h-18.5zM241 57h1.5v.5h-1.5zM266 57h3v.5h-3zM271 57h1.5v.5h-1.5zM274 57h1.5v.5h-1.5zM280 57h19v.5h-19zM266.5 57.5h1.5v.5h-1.5zM271 57.5h4.5v.5h-4.5zM278.5 57.5h20.5v.5h-20.5zM272 58h2v.5h-2zM277.5 58h21.5v.5h-21.5zM244 58.5h1.5v.5h-1.5zM260 58.5h4v.5h-4zM265.5 58.5h1.5v.5h-1.5zM269 58.5h1.5v.5h-1.5zM272 58.5h2v.5h-2zM275 58.5h23v.5h-23zM244 59h1.5v.5h-1.5zM260 59h4v.5h-4zM265.5 59h2v.5h-2zM268 59h2.5v.5h-2.5zM272 59h1.5v.5h-1.5zM274 59h24v.5h-24zM244 59.5h1.5v.5h-1.5zM252 59.5h1.5v.5h-1.5zM257.5 59.5h1.5v.5h-1.5zM260 59.5h4v.5h-4zM265.5 59.5h2v.5h-2zM268 59.5h2.5v.5h-2.5zM271 59.5h26.5v.5h-26.5zM252 60h1.5v.5h-1.5zM257.5 60h1.5v.5h-1.5zM262.5 60h1.5v.5h-1.5zM265.5 60h2v.5h-2zM268 60h1.5v.5h-1.5zM271 60h26.5v.5h-26.5zM244.5 60.5h1.5v.5h-1.5zM248 60.5h1.5v.5h-1.5zM252 60.5h1.5v.5h-1.5zM257.5 60.5h1.5v.5h-1.5zM262.5 60.5h4.5v.5h-4.5zM268.5 60.5h29v.5h-29zM244.5 61h5v.5h-5zM256.5 61h1.5v.5h-1.5zM262.5 61h4.5v.5h-4.5zM268.5 61h27.5v.5h-27.5zM244.5 61.5h5v.5h-5zM256.5 61.5h1.5v.5h-1.5zM261 61.5h1.5v.5h-1.5zM263 61.5h3v.5h-3zM268.5 61.5h27.5v.5h-27.5zM296.5 61.5h1.5v.5h-1.5zM245 62h4v.5h-4zM251.5 62h1.5v.5h-1.5zM256.5 62h1.5v.5h-1.5zM261 62h1.5v.5h-1.5zM263.5 62h1.5v.5h-1.5zM267.5 62h28.5v.5h-28.5zM296.5 62h3v.5h-3zM247 62.5h2v.5h-2zM251.5 62.5h1.5v.5h-1.5zM255.5 62.5h1.5v.5h-1.5zM261 62.5h4v.5h-4zM267 62.5h29v.5h-29zM296.5 62.5h3v.5h-3zM231.5 63h1.5v.5h-1.5zM241.5 63h1.5v.5h-1.5zM247 63h2v.5h-2zM250 63h3v.5h-3zM255 63h2v.5h-2zM261 63h3v.5h-3zM267 63h29v.5h-29zM298 63h1.5v.5h-1.5zM231.5 63.5h1.5v.5h-1.5zM241.5 63.5h1.5v.5h-1.5zM247 63.5h1.5v.5h-1.5zM249 63.5h2.5v.5h-2.5zM255 63.5h2v.5h-2zM258.5 63.5h1.5v.5h-1.5zM261 63.5h3v.5h-3zM265 63.5h30v.5h-30zM231.5 64h1.5v.5h-1.5zM236 64h1.5v.5h-1.5zM241.5 64h1.5v.5h-1.5zM248.5 64h3v.5h-3zM252.5 64h1.5v.5h-1.5zM255 64h1.5v.5h-1.5zM258.5 64h1.5v.5h-1.5zM261 64h2v.5h-2zM264 64h31.5v.5h-31.5zM298.5 64h1.5v.5h-1.5zM230 64.5h1.5v.5h-1.5zM236 64.5h1.5v.5h-1.5zM241.5 64.5h1.5v.5h-1.5zM248.5 64.5h3v.5h-3zM252.5 64.5h1.5v.5h-1.5zM258.5 64.5h1.5v.5h-1.5zM261.5 64.5h35v.5h-35zM298.5 64.5h1.5v.5h-1.5zM230 65h1.5v.5h-1.5zM235 65h2.5v.5h-2.5zM248.5 65h3v.5h-3zM252.5 65h1.5v.5h-1.5zM254.5 65h1.5v.5h-1.5zM257 65h4.5v.5h-4.5zM262.5 65h34v.5h-34zM298.5 65h1.5v.5h-1.5zM228.5 65.5h3v.5h-3zM235 65.5h1.5v.5h-1.5zM252.5 65.5h1.5v.5h-1.5zM254.5 65.5h4v.5h-4zM260 65.5h1.5v.5h-1.5zM262 65.5h32v.5h-32zM295 65.5h1.5v.5h-1.5zM228.5 66h1.5v.5h-1.5zM234 66h2.5v.5h-2.5zM250.5 66h3.5v.5h-3.5zM254.5 66h4v.5h-4zM260 66h33.5v.5h-33.5zM297 66h1.5v.5h-1.5zM228.5 66.5h1.5v.5h-1.5zM234 66.5h1.5v.5h-1.5zM250.5 66.5h7v.5h-7zM261.5 66.5h31.5v.5h-31.5zM297 66.5h1.5v.5h-1.5zM234 67h1.5v.5h-1.5zM245.5 67h1.5v.5h-1.5zM250.5 67h6.5v.5h-6.5zM260 67h33v.5h-33zM297 67h1.5v.5h-1.5zM239.5 67.5h1.5v.5h-1.5zM245.5 67.5h1.5v.5h-1.5zM252.5 67.5h3v.5h-3zM259 67.5h34v.5h-34zM295.5 67.5h1.5v.5h-1.5zM239.5 68h1.5v.5h-1.5zM244 68h3v.5h-3zM251.5 68h4v.5h-4zM257.5 68h35.5v.5h-35.5zM295.5 68h1.5v.5h-1.5zM239.5 68.5h1.5v.5h-1.5zM244 68.5h2v.5h-2zM247.5 68.5h1.5v.5h-1.5zM251.5 68.5h1.5v.5h-1.5zM254 68.5h1.5v.5h-1.5zM257 68.5h36v.5h-36zM295.5 68.5h1.5v.5h-1.5zM218 69h1.5v.5h-1.5zM243.5 69h2.5v.5h-2.5zM247.5 69h1.5v.5h-1.5zM251.5 69h40.5v.5h-40.5zM218 69.5h1.5v.5h-1.5zM243.5 69.5h1.5v.5h-1.5zM246 69.5h3v.5h-3zM253 69.5h1.5v.5h-1.5zM255 69.5h38v.5h-38zM212.5 70h1.5v.5h-1.5zM218 70h1.5v.5h-1.5zM243.5 70h1.5v.5h-1.5zM246 70h1.5v.5h-1.5zM253 70h40v.5h-40zM212.5 70.5h1.5v.5h-1.5zM242.5 70.5h1.5v.5h-1.5zM245.5 70.5h2v.5h-2zM248 70.5h1.5v.5h-1.5zM250 70.5h2.5v.5h-2.5zM253 70.5h40v.5h-40zM212.5 71h1.5v.5h-1.5zM232.5 71h3v.5h-3zM242.5 71h2.5v.5h-2.5zM245.5 71h1.5v.5h-1.5zM248 71h1.5v.5h-1.5zM250 71h42.5v.5h-42.5zM296 71h1.5v.5h-1.5zM232.5 71.5h3v.5h-3zM237 71.5h1.5v.5h-1.5zM242.5 71.5h2.5v.5h-2.5zM245.5 71.5h1.5v.5h-1.5zM247.5 71.5h2v.5h-2zM250 71.5h42.5v.5h-42.5zM296 71.5h1.5v.5h-1.5zM232.5 72h3v.5h-3zM237 72h1.5v.5h-1.5zM243.5 72h2v.5h-2zM247.5 72h1.5v.5h-1.5zM251.5 72h41v.5h-41zM296 72h1.5v.5h-1.5zM298 72h1.5v.5h-1.5zM237 72.5h1.5v.5h-1.5zM244 72.5h1.5v.5h-1.5zM247 72.5h43.5v.5h-43.5zM291 72.5h1.5v.5h-1.5zM294 72.5h3v.5h-3zM298 72.5h1.5v.5h-1.5zM229 73h1.5v.5h-1.5zM237 73h1.5v.5h-1.5zM239 73h1.5v.5h-1.5zM244 73h2v.5h-2zM247 73h43v.5h-43zM294 73h3v.5h-3zM298 73h1.5v.5h-1.5zM229 73.5h1.5v.5h-1.5zM232.5 73.5h1.5v.5h-1.5zM237 73.5h1.5v.5h-1.5zM239 73.5h2.5v.5h-2.5zM244.5 73.5h45.5v.5h-45.5zM294 73.5h3v.5h-3zM229 74h1.5v.5h-1.5zM232.5 74h1.5v.5h-1.5zM239 74h2.5v.5h-2.5zM244.5 74h47v.5h-47zM213.5 74.5h1.5v.5h-1.5zM229.5 74.5h1.5v.5h-1.5zM232.5 74.5h1.5v.5h-1.5zM237.5 74.5h4v.5h-4zM244.5 74.5h47v.5h-47zM295 74.5h1.5v.5h-1.5zM213.5 75h1.5v.5h-1.5zM226.5 75h1.5v.5h-1.5zM229.5 75h1.5v.5h-1.5zM236 75h5v.5h-5zM244 75h47.5v.5h-47.5zM295 75h1.5v.5h-1.5zM213.5 75.5h1.5v.5h-1.5zM222 75.5h1.5v.5h-1.5zM226 75.5h2v.5h-2zM229.5 75.5h1.5v.5h-1.5zM234 75.5h1.5v.5h-1.5zM236 75.5h3v.5h-3zM239.5 75.5h1.5v.5h-1.5zM244 75.5h44v.5h-44zM290 75.5h1.5v.5h-1.5zM295 75.5h1.5v.5h-1.5zM222 76h1.5v.5h-1.5zM226 76h2v.5h-2zM234 76h1.5v.5h-1.5zM236 76h5v.5h-5zM244 76h43.5v.5h-43.5zM291.5 76h1.5v.5h-1.5zM293.5 76h1.5v.5h-1.5zM208.5 76.5h1.5v.5h-1.5zM222 76.5h1.5v.5h-1.5zM226 76.5h1.5v.5h-1.5zM234 76.5h2.5v.5h-2.5zM237 76.5h4.5v.5h-4.5zM243.5 76.5h43v.5h-43zM291.5 76.5h1.5v.5h-1.5zM293.5 76.5h1.5v.5h-1.5zM208.5 77h1.5v.5h-1.5zM224.5 77h1.5v.5h-1.5zM235 77h1.5v.5h-1.5zM237 77h5.5v.5h-5.5zM243.5 77h44v.5h-44zM291.5 77h1.5v.5h-1.5zM293.5 77h1.5v.5h-1.5zM208.5 77.5h1.5v.5h-1.5zM224.5 77.5h1.5v.5h-1.5zM229 77.5h1.5v.5h-1.5zM235 77.5h1.5v.5h-1.5zM238 77.5h49.5v.5h-49.5zM224.5 78h1.5v.5h-1.5zM229 78h2v.5h-2zM234.5 78h1.5v.5h-1.5zM241 78h46.5v.5h-46.5zM289 78h1.5v.5h-1.5zM292.5 78h1.5v.5h-1.5zM196 78.5h1.5v.5h-1.5zM227 78.5h4v.5h-4zM234.5 78.5h1.5v.5h-1.5zM239 78.5h46v.5h-46zM289 78.5h2.5v.5h-2.5zM292.5 78.5h1.5v.5h-1.5zM196 79h1.5v.5h-1.5zM215.5 79h1.5v.5h-1.5zM226.5 79h5v.5h-5zM232.5 79h1.5v.5h-1.5zM234.5 79h1.5v.5h-1.5zM239 79h45v.5h-45zM285.5 79h1.5v.5h-1.5zM289 79h2.5v.5h-2.5zM292.5 79h1.5v.5h-1.5zM295 79h1.5v.5h-1.5zM196 79.5h1.5v.5h-1.5zM215.5 79.5h1.5v.5h-1.5zM223 79.5h1.5v.5h-1.5zM226.5 79.5h8v.5h-8zM235.5 79.5h1.5v.5h-1.5zM239 79.5h45v.5h-45zM284.5 79.5h2.5v.5h-2.5zM290 79.5h1.5v.5h-1.5zM295 79.5h1.5v.5h-1.5zM215.5 80h2v.5h-2zM223 80h1.5v.5h-1.5zM226.5 80h1.5v.5h-1.5zM229.5 80h5v.5h-5zM235.5 80h1.5v.5h-1.5zM238 80h44.5v.5h-44.5zM284 80h3v.5h-3zM289 80h1.5v.5h-1.5zM295 80h1.5v.5h-1.5zM204.5 80.5h1.5v.5h-1.5zM216 80.5h1.5v.5h-1.5zM223 80.5h1.5v.5h-1.5zM229.5 80.5h5v.5h-5zM235.5 80.5h1.5v.5h-1.5zM237.5 80.5h48.5v.5h-48.5zM288.5 80.5h2v.5h-2zM204.5 81h1.5v.5h-1.5zM216 81h1.5v.5h-1.5zM220.5 81h1.5v.5h-1.5zM229.5 81h1.5v.5h-1.5zM231.5 81h2.5v.5h-2.5zM235.5 81h50v.5h-50zM288.5 81h2.5v.5h-2.5zM291.5 81h1.5v.5h-1.5zM204.5 81.5h1.5v.5h-1.5zM220.5 81.5h1.5v.5h-1.5zM227 81.5h1.5v.5h-1.5zM229.5 81.5h1.5v.5h-1.5zM231.5 81.5h2.5v.5h-2.5zM235.5 81.5h46v.5h-46zM282 81.5h2v.5h-2zM288.5 81.5h2.5v.5h-2.5zM291.5 81.5h1.5v.5h-1.5zM206 82h1.5v.5h-1.5zM214.5 82h1.5v.5h-1.5zM220.5 82h1.5v.5h-1.5zM227 82h2.5v.5h-2.5zM231.5 82h2.5v.5h-2.5zM235 82h46.5v.5h-46.5zM282 82h2v.5h-2zM289.5 82h1.5v.5h-1.5zM291.5 82h1.5v.5h-1.5zM206 82.5h1.5v.5h-1.5zM214.5 82.5h1.5v.5h-1.5zM223 82.5h1.5v.5h-1.5zM227 82.5h2.5v.5h-2.5zM232 82.5h2v.5h-2zM234.5 82.5h46.5v.5h-46.5zM282.5 82.5h3.5v.5h-3.5zM287 82.5h1.5v.5h-1.5zM291.5 82.5h1.5v.5h-1.5zM206 83h1.5v.5h-1.5zM214.5 83h1.5v.5h-1.5zM223 83h1.5v.5h-1.5zM226 83h3.5v.5h-3.5zM230.5 83h48.5v.5h-48.5zM282.5 83h3.5v.5h-3.5zM286.5 83h2v.5h-2zM223 83.5h1.5v.5h-1.5zM226 83.5h4v.5h-4zM230.5 83.5h47.5v.5h-47.5zM279 83.5h2.5v.5h-2.5zM282.5 83.5h3.5v.5h-3.5zM286.5 83.5h2v.5h-2zM207.5 84h1.5v.5h-1.5zM224.5 84h3v.5h-3zM228.5 84h1.5v.5h-1.5zM230.5 84h47v.5h-47zM279 84h2.5v.5h-2.5zM282.5 84h7v.5h-7zM290.5 84h2v.5h-2zM207.5 84.5h1.5v.5h-1.5zM224.5 84.5h1.5v.5h-1.5zM226.5 84.5h1.5v.5h-1.5zM228.5 84.5h1.5v.5h-1.5zM231.5 84.5h46v.5h-46zM279 84.5h6.5v.5h-6.5zM286 84.5h1.5v.5h-1.5zM288 84.5h1.5v.5h-1.5zM290.5 84.5h2v.5h-2zM207.5 85h1.5v.5h-1.5zM209.5 85h1.5v.5h-1.5zM224.5 85h1.5v.5h-1.5zM226.5 85h1.5v.5h-1.5zM230.5 85h48v.5h-48zM279 85h4v.5h-4zM286 85h1.5v.5h-1.5zM288 85h1.5v.5h-1.5zM290.5 85h2v.5h-2zM209.5 85.5h3v.5h-3zM214.5 85.5h1.5v.5h-1.5zM222 85.5h1.5v.5h-1.5zM226 85.5h52.5v.5h-52.5zM279.5 85.5h3.5v.5h-3.5zM194 86h1.5v.5h-1.5zM209.5 86h4v.5h-4zM214.5 86h1.5v.5h-1.5zM222 86h1.5v.5h-1.5zM226 86h52.5v.5h-52.5zM279.5 86h3.5v.5h-3.5zM284 86h1.5v.5h-1.5zM194 86.5h1.5v.5h-1.5zM211 86.5h2.5v.5h-2.5zM214 86.5h2v.5h-2zM218 86.5h1.5v.5h-1.5zM222 86.5h1.5v.5h-1.5zM225 86.5h50v.5h-50zM275.5 86.5h3v.5h-3zM284 86.5h1.5v.5h-1.5zM286 86.5h1.5v.5h-1.5zM288 86.5h1.5v.5h-1.5zM194 87h1.5v.5h-1.5zM212 87h1.5v.5h-1.5zM214 87h1.5v.5h-1.5zM218 87h3v.5h-3zM225 87h50v.5h-50zM284 87h1.5v.5h-1.5zM286 87h3.5v.5h-3.5zM295 87h1.5v.5h-1.5zM214 87.5h1.5v.5h-1.5zM218 87.5h3v.5h-3zM224 87.5h3v.5h-3zM227.5 87.5h45.5v.5h-45.5zM275 87.5h1.5v.5h-1.5zM284 87.5h1.5v.5h-1.5zM286 87.5h4v.5h-4zM295 87.5h1.5v.5h-1.5zM211 88h1.5v.5h-1.5zM218.5 88h2.5v.5h-2.5zM223 88h49.5v.5h-49.5zM274 88h2.5v.5h-2.5zM278 88h3.5v.5h-3.5zM284 88h1.5v.5h-1.5zM286.5 88h1.5v.5h-1.5zM288.5 88h1.5v.5h-1.5zM295 88h1.5v.5h-1.5zM189 88.5h1.5v.5h-1.5zM201.5 88.5h1.5v.5h-1.5zM211 88.5h1.5v.5h-1.5zM218.5 88.5h1.5v.5h-1.5zM223 88.5h49v.5h-49zM274 88.5h3v.5h-3zM278 88.5h3.5v.5h-3.5zM288.5 88.5h1.5v.5h-1.5zM189 89h1.5v.5h-1.5zM201.5 89h1.5v.5h-1.5zM203.5 89h1.5v.5h-1.5zM211 89h1.5v.5h-1.5zM214 89h1.5v.5h-1.5zM216.5 89h3v.5h-3zM223 89h48.5v.5h-48.5zM273.5 89h3.5v.5h-3.5zM278 89h3.5v.5h-3.5zM189 89.5h1.5v.5h-1.5zM201.5 89.5h1.5v.5h-1.5zM203.5 89.5h1.5v.5h-1.5zM211 89.5h1.5v.5h-1.5zM214 89.5h1.5v.5h-1.5zM216.5 89.5h3v.5h-3zM223.5 89.5h48v.5h-48zM273.5 89.5h1.5v.5h-1.5zM275.5 89.5h1.5v.5h-1.5zM278.5 89.5h2.5v.5h-2.5zM203.5 90h1.5v.5h-1.5zM214 90h1.5v.5h-1.5zM216.5 90h3v.5h-3zM220.5 90h1.5v.5h-1.5zM223.5 90h48v.5h-48zM273.5 90h3v.5h-3zM279.5 90h2.5v.5h-2.5zM206.5 90.5h1.5v.5h-1.5zM217 90.5h1.5v.5h-1.5zM220.5 90.5h51v.5h-51zM272.5 90.5h1.5v.5h-1.5zM275 90.5h1.5v.5h-1.5zM280.5 90.5h1.5v.5h-1.5zM289.5 90.5h3v.5h-3zM198 91h1.5v.5h-1.5zM206.5 91h1.5v.5h-1.5zM217.5 91h1.5v.5h-1.5zM220.5 91h49.5v.5h-49.5zM271 91h3.5v.5h-3.5zM275 91h2.5v.5h-2.5zM280.5 91h1.5v.5h-1.5zM282.5 91h2v.5h-2zM289 91h3.5v.5h-3.5zM188.5 91.5h1.5v.5h-1.5zM198 91.5h1.5v.5h-1.5zM202 91.5h1.5v.5h-1.5zM206 91.5h2v.5h-2zM213 91.5h3.5v.5h-3.5zM217.5 91.5h1.5v.5h-1.5zM221 91.5h48.5v.5h-48.5zM271 91.5h3.5v.5h-3.5zM276 91.5h1.5v.5h-1.5zM280.5 91.5h1.5v.5h-1.5zM282.5 91.5h2.5v.5h-2.5zM289 91.5h3.5v.5h-3.5zM188.5 92h1.5v.5h-1.5zM198 92h1.5v.5h-1.5zM202 92h1.5v.5h-1.5zM206 92h2v.5h-2zM213 92h3.5v.5h-3.5zM217.5 92h2v.5h-2zM220 92h52.5v.5h-52.5zM273 92h1.5v.5h-1.5zM276 92h1.5v.5h-1.5zM282.5 92h2.5v.5h-2.5zM289 92h1.5v.5h-1.5zM188.5 92.5h1.5v.5h-1.5zM202 92.5h2v.5h-2zM205.5 92.5h4v.5h-4zM213 92.5h55.5v.5h-55.5zM269 92.5h4.5v.5h-4.5zM283.5 92.5h1.5v.5h-1.5zM290 92.5h1.5v.5h-1.5zM196 93h1.5v.5h-1.5zM202.5 93h1.5v.5h-1.5zM205.5 93h4v.5h-4zM215.5 93h52.5v.5h-52.5zM269 93h4.5v.5h-4.5zM276.5 93h1.5v.5h-1.5zM283 93h1.5v.5h-1.5zM290 93h1.5v.5h-1.5zM196 93.5h1.5v.5h-1.5zM202.5 93.5h7v.5h-7zM215.5 93.5h52.5v.5h-52.5zM268.5 93.5h2v.5h-2zM272 93.5h1.5v.5h-1.5zM276.5 93.5h2.5v.5h-2.5zM281.5 93.5h3v.5h-3zM290 93.5h1.5v.5h-1.5zM295 93.5h1.5v.5h-1.5zM196 94h1.5v.5h-1.5zM204 94h1.5v.5h-1.5zM207 94h1.5v.5h-1.5zM214 94h53.5v.5h-53.5zM268.5 94h1.5v.5h-1.5zM272 94h1.5v.5h-1.5zM276.5 94h2.5v.5h-2.5zM281 94h3.5v.5h-3.5zM295 94h1.5v.5h-1.5zM189 94.5h1.5v.5h-1.5zM203 94.5h2.5v.5h-2.5zM207 94.5h2v.5h-2zM214 94.5h53.5v.5h-53.5zM268.5 94.5h1.5v.5h-1.5zM271 94.5h2.5v.5h-2.5zM277.5 94.5h1.5v.5h-1.5zM281 94.5h2v.5h-2zM295 94.5h1.5v.5h-1.5zM189 95h1.5v.5h-1.5zM198.5 95h1.5v.5h-1.5zM203 95h1.5v.5h-1.5zM207.5 95h1.5v.5h-1.5zM211 95h1.5v.5h-1.5zM213.5 95h54.5v.5h-54.5zM268.5 95h1.5v.5h-1.5zM271 95h1.5v.5h-1.5zM281 95h1.5v.5h-1.5zM189 95.5h1.5v.5h-1.5zM198.5 95.5h1.5v.5h-1.5zM202.5 95.5h2v.5h-2zM207.5 95.5h3v.5h-3zM211 95.5h57v.5h-57zM268.5 95.5h4v.5h-4zM193 96h1.5v.5h-1.5zM198.5 96h1.5v.5h-1.5zM202.5 96h2.5v.5h-2.5zM207 96h58.5v.5h-58.5zM266.5 96h1.5v.5h-1.5zM268.5 96h4v.5h-4zM193 96.5h1.5v.5h-1.5zM202.5 96.5h2.5v.5h-2.5zM207 96.5h59.5v.5h-59.5zM268.5 96.5h4v.5h-4zM274.5 96.5h1.5v.5h-1.5zM288.5 96.5h1.5v.5h-1.5zM193 97h1.5v.5h-1.5zM203.5 97h1.5v.5h-1.5zM207 97h59.5v.5h-59.5zM268.5 97h2.5v.5h-2.5zM274.5 97h1.5v.5h-1.5zM288.5 97h1.5v.5h-1.5zM208 97.5h56.5v.5h-56.5zM265 97.5h1.5v.5h-1.5zM268.5 97.5h2.5v.5h-2.5zM273.5 97.5h3.5v.5h-3.5zM288.5 97.5h1.5v.5h-1.5zM208 98h58.5v.5h-58.5zM268.5 98h1.5v.5h-1.5zM273.5 98h4.5v.5h-4.5zM278.5 98h1.5v.5h-1.5zM191 98.5h1.5v.5h-1.5zM201 98.5h1.5v.5h-1.5zM203 98.5h2.5v.5h-2.5zM209.5 98.5h53.5v.5h-53.5zM263.5 98.5h3v.5h-3zM268.5 98.5h3v.5h-3zM273.5 98.5h4.5v.5h-4.5zM278.5 98.5h1.5v.5h-1.5zM191 99h1.5v.5h-1.5zM201 99h1.5v.5h-1.5zM203 99h2.5v.5h-2.5zM207.5 99h55.5v.5h-55.5zM263.5 99h3v.5h-3zM267 99h4.5v.5h-4.5zM274 99h1.5v.5h-1.5zM276.5 99h1.5v.5h-1.5zM278.5 99h2.5v.5h-2.5zM191 99.5h1.5v.5h-1.5zM196 99.5h1.5v.5h-1.5zM201 99.5h1.5v.5h-1.5zM203 99.5h2.5v.5h-2.5zM207.5 99.5h55.5v.5h-55.5zM264 99.5h7.5v.5h-7.5zM279.5 99.5h1.5v.5h-1.5zM291.5 99.5h1.5v.5h-1.5zM196 100h1.5v.5h-1.5zM204.5 100h1.5v.5h-1.5zM207.5 100h55.5v.5h-55.5zM264 100h5.5v.5h-5.5zM270.5 100h3v.5h-3zM277 100h1.5v.5h-1.5zM279.5 100h1.5v.5h-1.5zM291.5 100h1.5v.5h-1.5zM189 100.5h1.5v.5h-1.5zM193 100.5h1.5v.5h-1.5zM195 100.5h2.5v.5h-2.5zM200 100.5h1.5v.5h-1.5zM204.5 100.5h1.5v.5h-1.5zM206.5 100.5h55v.5h-55zM264 100.5h5.5v.5h-5.5zM270.5 100.5h3v.5h-3zM277 100.5h1.5v.5h-1.5zM291.5 100.5h1.5v.5h-1.5zM189 101h1.5v.5h-1.5zM193 101h1.5v.5h-1.5zM195 101h2.5v.5h-2.5zM198 101h1.5v.5h-1.5zM200 101h1.5v.5h-1.5zM202 101h59.5v.5h-59.5zM264 101h1.5v.5h-1.5zM267 101h1.5v.5h-1.5zM270.5 101h3v.5h-3zM277 101h1.5v.5h-1.5zM187.5 101.5h0.5v.5h-0.5zM189 101.5h1.5v.5h-1.5zM193 101.5h1.5v.5h-1.5zM195 101.5h2.5v.5h-2.5zM198 101.5h63v.5h-63zM264 101.5h1.5v.5h-1.5zM271.5 101.5h2v.5h-2zM187.5 102h0.5v.5h-0.5zM198 102h62.5v.5h-62.5zM264 102h1.5v.5h-1.5zM271.5 102h4v.5h-4zM187.5 102.5h3.5v.5h-3.5zM195.5 102.5h1.5v.5h-1.5zM197.5 102.5h5.5v.5h-5.5zM203.5 102.5h57v.5h-57zM273 102.5h2.5v.5h-2.5zM188 103h3v.5h-3zM193 103h1.5v.5h-1.5zM195.5 103h1.5v.5h-1.5zM197.5 103h62v.5h-62zM266.5 103h1.5v.5h-1.5zM270.5 103h1.5v.5h-1.5zM273 103h2.5v.5h-2.5zM188 103.5h3v.5h-3zM193 103.5h4v.5h-4zM197.5 103.5h64v.5h-64zM266.5 103.5h1.5v.5h-1.5zM269.5 103.5h2.5v.5h-2.5zM277 103.5h1.5v.5h-1.5zM188.5 104h1.5v.5h-1.5zM191 104h5v.5h-5zM198.5 104h1.5v.5h-1.5zM201 104h60.5v.5h-60.5zM266.5 104h1.5v.5h-1.5zM269.5 104h2.5v.5h-2.5zM277 104h1.5v.5h-1.5zM188.5 104.5h1.5v.5h-1.5zM191 104.5h5v.5h-5zM197.5 104.5h2.5v.5h-2.5zM200.5 104.5h61v.5h-61zM269.5 104.5h1.5v.5h-1.5zM277 104.5h1.5v.5h-1.5zM282 104.5h1.5v.5h-1.5zM188.5 105h1.5v.5h-1.5zM191 105h3.5v.5h-3.5zM197.5 105h65.5v.5h-65.5zM267.5 105h1.5v.5h-1.5zM279.5 105h1.5v.5h-1.5zM282 105h1.5v.5h-1.5zM188.5 105.5h1.5v.5h-1.5zM194.5 105.5h68.5v.5h-68.5zM267.5 105.5h1.5v.5h-1.5zM270 105.5h1.5v.5h-1.5zM279.5 105.5h1.5v.5h-1.5zM282 105.5h1.5v.5h-1.5zM188.5 106h3v.5h-3zM194.5 106h3v.5h-3zM198 106h65v.5h-65zM267.5 106h1.5v.5h-1.5zM270 106h1.5v.5h-1.5zM279.5 106h1.5v.5h-1.5zM190 106.5h1.5v.5h-1.5zM194.5 106.5h65v.5h-65zM261 106.5h1.5v.5h-1.5zM266.5 106.5h2v.5h-2zM270 106.5h1.5v.5h-1.5zM188.5 107h4.5v.5h-4.5zM194.5 107h62.5v.5h-62.5zM258 107h1.5v.5h-1.5zM261 107h3v.5h-3zM265 107h3.5v.5h-3.5zM188 107.5h5v.5h-5zM194 107.5h63v.5h-63zM258 107.5h1.5v.5h-1.5zM262.5 107.5h1.5v.5h-1.5zM265 107.5h3.5v.5h-3.5zM188 108h5v.5h-5zM193.5 108h61.5v.5h-61.5zM255.5 108h1.5v.5h-1.5zM258 108h2v.5h-2zM262.5 108h1.5v.5h-1.5zM265 108h1.5v.5h-1.5zM187.5 108.5h3v.5h-3zM193 108.5h64v.5h-64zM258 108.5h2v.5h-2zM263 108.5h1.5v.5h-1.5zM284 108.5h1.5v.5h-1.5zM187.5 109h3v.5h-3zM192.5 109h64v.5h-64zM258 109h2v.5h-2zM263 109h1.5v.5h-1.5zM284 109h1.5v.5h-1.5zM187.5 109.5h1.5v.5h-1.5zM190.5 109.5h63.5v.5h-63.5zM255 109.5h2v.5h-2zM257.5 109.5h1.5v.5h-1.5zM263 109.5h1.5v.5h-1.5zM284 109.5h1.5v.5h-1.5zM190 110h65v.5h-65zM255.5 110h1.5v.5h-1.5zM257.5 110h1.5v.5h-1.5zM189 110.5h68v.5h-68zM257.5 110.5h3v.5h-3zM274 110.5h1.5v.5h-1.5zM285 110.5h1.5v.5h-1.5zM293.5 110.5h1.5v.5h-1.5zM187.5 111h70v.5h-70zM259 111h2.5v.5h-2.5zM274 111h1.5v.5h-1.5zM285 111h1.5v.5h-1.5zM293.5 111h1.5v.5h-1.5zM187.5 111.5h66.5v.5h-66.5zM255 111.5h8v.5h-8zM274 111.5h1.5v.5h-1.5zM285 111.5h1.5v.5h-1.5zM293.5 111.5h1.5v.5h-1.5zM187.5 112h65.5v.5h-65.5zM255.5 112h3.5v.5h-3.5zM259.5 112h3.5v.5h-3.5zM266.5 112h1.5v.5h-1.5zM187.5 112.5h65.5v.5h-65.5zM255.5 112.5h1.5v.5h-1.5zM257.5 112.5h1.5v.5h-1.5zM259.5 112.5h3.5v.5h-3.5zM266.5 112.5h1.5v.5h-1.5zM187.5 113h65.5v.5h-65.5zM260.5 113h1.5v.5h-1.5zM266.5 113h1.5v.5h-1.5zM187.5 113.5h65.5v.5h-65.5zM253.5 113.5h3v.5h-3zM260.5 113.5h1.5v.5h-1.5zM187.5 114h65.5v.5h-65.5zM253.5 114h3v.5h-3zM271 114h1.5v.5h-1.5zM187.5 114.5h63v.5h-63zM251.5 114.5h1.5v.5h-1.5zM253.5 114.5h3v.5h-3zM271 114.5h1.5v.5h-1.5zM187.5 115h64.5v.5h-64.5zM271 115h1.5v.5h-1.5zM187.5 115.5h62.5v.5h-62.5zM250.5 115.5h1.5v.5h-1.5zM274.5 115.5h1.5v.5h-1.5zM187.5 116h62.5v.5h-62.5zM250.5 116h1.5v.5h-1.5zM262.5 116h1.5v.5h-1.5zM274.5 116h1.5v.5h-1.5zM277 116h1.5v.5h-1.5zM187.5 116.5h65.5v.5h-65.5zM262.5 116.5h1.5v.5h-1.5zM274.5 116.5h1.5v.5h-1.5zM277 116.5h1.5v.5h-1.5zM187.5 117h65.5v.5h-65.5zM261 117h3v.5h-3zM277 117h1.5v.5h-1.5zM187.5 117.5h59.5v.5h-59.5zM247.5 117.5h1.5v.5h-1.5zM250 117.5h3v.5h-3zM261 117.5h1.5v.5h-1.5zM187.5 118h59.5v.5h-59.5zM247.5 118h3v.5h-3zM256 118h1.5v.5h-1.5zM261 118h1.5v.5h-1.5zM187.5 118.5h60.5v.5h-60.5zM249 118.5h1.5v.5h-1.5zM251.5 118.5h1.5v.5h-1.5zM253.5 118.5h1.5v.5h-1.5zM256 118.5h1.5v.5h-1.5zM261 118.5h3v.5h-3zM187.5 119h60.5v.5h-60.5zM249 119h1.5v.5h-1.5zM251.5 119h3.5v.5h-3.5zM256 119h1.5v.5h-1.5zM261 119h3v.5h-3zM187.5 119.5h60.5v.5h-60.5zM249 119.5h1.5v.5h-1.5zM251.5 119.5h3.5v.5h-3.5zM259 119.5h5v.5h-5zM269.5 119.5h1.5v.5h-1.5zM275.5 119.5h1.5v.5h-1.5zM187.5 120h59.5v.5h-59.5zM252 120h1.5v.5h-1.5zM259 120h3v.5h-3zM269.5 120h1.5v.5h-1.5zM275.5 120h1.5v.5h-1.5zM187.5 120.5h60v.5h-60zM259 120.5h3v.5h-3zM269 120.5h2v.5h-2zM275.5 120.5h1.5v.5h-1.5zM187.5 121h58v.5h-58zM246 121h1.5v.5h-1.5zM261.5 121h1.5v.5h-1.5zM269 121h1.5v.5h-1.5zM187.5 121.5h58v.5h-58zM246 121.5h3v.5h-3zM250.5 121.5h1.5v.5h-1.5zM253 121.5h1.5v.5h-1.5zM261.5 121.5h1.5v.5h-1.5zM269 121.5h1.5v.5h-1.5zM187.5 122h57.5v.5h-57.5zM247 122h2v.5h-2zM250.5 122h1.5v.5h-1.5zM252.5 122h2v.5h-2zM255 122h1.5v.5h-1.5zM261.5 122h1.5v.5h-1.5zM266 122h1.5v.5h-1.5zM187.5 122.5h57v.5h-57zM247 122.5h2v.5h-2zM250.5 122.5h1.5v.5h-1.5zM252.5 122.5h2v.5h-2zM255 122.5h1.5v.5h-1.5zM266 122.5h1.5v.5h-1.5zM187.5 123h57v.5h-57zM247 123h2v.5h-2zM252.5 123h1.5v.5h-1.5zM255 123h1.5v.5h-1.5zM266 123h1.5v.5h-1.5zM272.5 123h1.5v.5h-1.5zM187.5 123.5h56v.5h-56zM244 123.5h1.5v.5h-1.5zM247.5 123.5h1.5v.5h-1.5zM250.5 123.5h1.5v.5h-1.5zM272.5 123.5h1.5v.5h-1.5zM187.5 124h58v.5h-58zM250.5 124h1.5v.5h-1.5zM272.5 124h1.5v.5h-1.5zM187.5 124.5h54v.5h-54zM242 124.5h3.5v.5h-3.5zM250.5 124.5h1.5v.5h-1.5zM187.5 125h54v.5h-54zM242 125h2.5v.5h-2.5zM249 125h1.5v.5h-1.5zM252.5 125h1.5v.5h-1.5zM279 125h1.5v.5h-1.5zM187.5 125.5h54v.5h-54zM242 125.5h2.5v.5h-2.5zM248.5 125.5h2v.5h-2zM252.5 125.5h1.5v.5h-1.5zM279 125.5h1.5v.5h-1.5zM187.5 126h54v.5h-54zM245.5 126h1.5v.5h-1.5zM248.5 126h2v.5h-2zM252.5 126h1.5v.5h-1.5zM279 126h1.5v.5h-1.5zM187.5 126.5h51.5v.5h-51.5zM241 126.5h1.5v.5h-1.5zM245.5 126.5h1.5v.5h-1.5zM248.5 126.5h1.5v.5h-1.5zM187.5 127h51v.5h-51zM240.5 127h2.5v.5h-2.5zM245.5 127h1.5v.5h-1.5zM254.5 127h1.5v.5h-1.5zM187.5 127.5h50v.5h-50zM240.5 127.5h3v.5h-3zM248.5 127.5h1.5v.5h-1.5zM254.5 127.5h1.5v.5h-1.5zM187.5 128h50v.5h-50zM240 128h3.5v.5h-3.5zM248.5 128h1.5v.5h-1.5zM254.5 128h1.5v.5h-1.5zM187.5 128.5h50v.5h-50zM240 128.5h3.5v.5h-3.5zM248.5 128.5h1.5v.5h-1.5zM187.5 129h51v.5h-51zM240 129h2.5v.5h-2.5zM243.5 129h1.5v.5h-1.5zM246 129h1.5v.5h-1.5zM251 129h1.5v.5h-1.5zM276.5 129h1.5v.5h-1.5zM187.5 129.5h53v.5h-53zM241 129.5h1.5v.5h-1.5zM243.5 129.5h4v.5h-4zM251 129.5h1.5v.5h-1.5zM276.5 129.5h1.5v.5h-1.5zM187.5 130h53v.5h-53zM241 130h1.5v.5h-1.5zM243.5 130h4v.5h-4zM251 130h1.5v.5h-1.5zM276.5 130h1.5v.5h-1.5zM187.5 130.5h47.5v.5h-47.5zM236.5 130.5h4v.5h-4zM241 130.5h2v.5h-2zM245 130.5h3.5v.5h-3.5zM252.5 130.5h1.5v.5h-1.5zM264.5 130.5h1.5v.5h-1.5zM187.5 131h47v.5h-47zM236.5 131h1.5v.5h-1.5zM241.5 131h1.5v.5h-1.5zM245 131h3.5v.5h-3.5zM252.5 131h2.5v.5h-2.5zM264.5 131h1.5v.5h-1.5zM187.5 131.5h46.5v.5h-46.5zM234.5 131.5h1.5v.5h-1.5zM236.5 131.5h1.5v.5h-1.5zM241.5 131.5h1.5v.5h-1.5zM245 131.5h3.5v.5h-3.5zM252.5 131.5h2.5v.5h-2.5zM261.5 131.5h1.5v.5h-1.5zM264.5 131.5h1.5v.5h-1.5zM187.5 132h46.5v.5h-46.5zM234.5 132h2.5v.5h-2.5zM238 132h1.5v.5h-1.5zM244 132h1.5v.5h-1.5zM253.5 132h1.5v.5h-1.5zM261.5 132h1.5v.5h-1.5zM275 132h1.5v.5h-1.5zM187.5 132.5h53v.5h-53zM244 132.5h1.5v.5h-1.5zM261.5 132.5h1.5v.5h-1.5zM275 132.5h1.5v.5h-1.5zM187.5 133h44.5v.5h-44.5zM232.5 133h2v.5h-2zM235.5 133h5v.5h-5zM244 133h1.5v.5h-1.5zM270.5 133h1.5v.5h-1.5zM275 133h1.5v.5h-1.5zM187.5 133.5h44.5v.5h-44.5zM233 133.5h1.5v.5h-1.5zM236.5 133.5h1.5v.5h-1.5zM239 133.5h1.5v.5h-1.5zM270.5 133.5h1.5v.5h-1.5zM187.5 134h43.5v.5h-43.5zM233 134h3v.5h-3zM239 134h1.5v.5h-1.5zM270.5 134h1.5v.5h-1.5zM187.5 134.5h45v.5h-45zM233.5 134.5h2.5v.5h-2.5zM239 134.5h1.5v.5h-1.5zM187.5 135h42.5v.5h-42.5zM231 135h5v.5h-5zM239 135h1.5v.5h-1.5zM187.5 135.5h42v.5h-42zM231 135.5h4.5v.5h-4.5zM187.5 136h42v.5h-42zM232 136h1.5v.5h-1.5zM242.5 136h1.5v.5h-1.5zM269.5 136h1.5v.5h-1.5zM187.5 136.5h41.5v.5h-41.5zM240 136.5h1.5v.5h-1.5zM242.5 136.5h1.5v.5h-1.5zM269.5 136.5h1.5v.5h-1.5zM280.5 136.5h1.5v.5h-1.5zM187.5 137h43v.5h-43zM235.5 137h1.5v.5h-1.5zM240 137h1.5v.5h-1.5zM242.5 137h1.5v.5h-1.5zM269.5 137h1.5v.5h-1.5zM280.5 137h1.5v.5h-1.5zM187.5 137.5h43v.5h-43zM235.5 137.5h2.5v.5h-2.5zM240 137.5h1.5v.5h-1.5zM244.5 137.5h1.5v.5h-1.5zM280.5 137.5h1.5v.5h-1.5zM187.5 138h43v.5h-43zM235.5 138h2.5v.5h-2.5zM244.5 138h1.5v.5h-1.5zM187.5 138.5h38.5v.5h-38.5zM226.5 138.5h4.5v.5h-4.5zM236.5 138.5h2.5v.5h-2.5zM240 138.5h1.5v.5h-1.5zM244.5 138.5h1.5v.5h-1.5zM296.5 138.5h1.5v.5h-1.5zM187.5 139h38.5v.5h-38.5zM226.5 139h2v.5h-2zM229.5 139h3.5v.5h-3.5zM237.5 139h1.5v.5h-1.5zM240 139h1.5v.5h-1.5zM296.5 139h1.5v.5h-1.5zM187.5 139.5h38.5v.5h-38.5zM226.5 139.5h1.5v.5h-1.5zM229 139.5h4v.5h-4zM237.5 139.5h1.5v.5h-1.5zM240 139.5h1.5v.5h-1.5zM296.5 139.5h1.5v.5h-1.5zM187.5 140h37.5v.5h-37.5zM226.5 140h1.5v.5h-1.5zM229 140h4v.5h-4zM236 140h1.5v.5h-1.5zM187.5 140.5h38v.5h-38zM229 140.5h2v.5h-2zM231.5 140.5h1.5v.5h-1.5zM236 140.5h1.5v.5h-1.5zM187.5 141h38.5v.5h-38.5zM231.5 141h1.5v.5h-1.5zM236 141h1.5v.5h-1.5zM187.5 141.5h36v.5h-36zM224 141.5h2v.5h-2zM187.5 142h38.5v.5h-38.5zM255.5 142h1.5v.5h-1.5zM187.5 142.5h38v.5h-38zM226.5 142.5h3v.5h-3zM246 142.5h1.5v.5h-1.5zM255.5 142.5h1.5v.5h-1.5zM279 142.5h1.5v.5h-1.5zM187.5 143h38.5v.5h-38.5zM226.5 143h3v.5h-3zM246 143h1.5v.5h-1.5zM255.5 143h1.5v.5h-1.5zM279 143h1.5v.5h-1.5zM282.5 143h1.5v.5h-1.5zM187.5 143.5h35v.5h-35zM224 143.5h2v.5h-2zM226.5 143.5h4.5v.5h-4.5zM239 143.5h1.5v.5h-1.5zM246 143.5h1.5v.5h-1.5zM279 143.5h1.5v.5h-1.5zM282.5 143.5h1.5v.5h-1.5zM187.5 144h39v.5h-39zM229.5 144h1.5v.5h-1.5zM231.5 144h1.5v.5h-1.5zM239 144h1.5v.5h-1.5zM268.5 144h1.5v.5h-1.5zM282.5 144h1.5v.5h-1.5zM187.5 144.5h33.5v.5h-33.5zM222.5 144.5h4v.5h-4zM227 144.5h4v.5h-4zM231.5 144.5h2.5v.5h-2.5zM239 144.5h1.5v.5h-1.5zM245.5 144.5h1.5v.5h-1.5zM261.5 144.5h1.5v.5h-1.5zM268.5 144.5h1.5v.5h-1.5zM279.5 144.5h1.5v.5h-1.5zM187.5 145h33.5v.5h-33.5zM222.5 145h4v.5h-4zM227 145h4v.5h-4zM231.5 145h2.5v.5h-2.5zM242 145h1.5v.5h-1.5zM245.5 145h1.5v.5h-1.5zM261.5 145h1.5v.5h-1.5zM268.5 145h1.5v.5h-1.5zM279.5 145h1.5v.5h-1.5zM187.5 145.5h33v.5h-33zM221.5 145.5h1.5v.5h-1.5zM224 145.5h2.5v.5h-2.5zM227 145.5h4v.5h-4zM232.5 145.5h1.5v.5h-1.5zM242 145.5h1.5v.5h-1.5zM245.5 145.5h1.5v.5h-1.5zM261.5 145.5h1.5v.5h-1.5zM279.5 145.5h1.5v.5h-1.5zM187.5 146h33v.5h-33zM221.5 146h1.5v.5h-1.5zM224 146h2.5v.5h-2.5zM227.5 146h2.5v.5h-2.5zM242 146h1.5v.5h-1.5zM187.5 146.5h38v.5h-38zM227.5 146.5h3v.5h-3zM292.5 146.5h1.5v.5h-1.5zM187.5 147h34.5v.5h-34.5zM223 147h1.5v.5h-1.5zM227.5 147h3v.5h-3zM237 147h1.5v.5h-1.5zM292.5 147h1.5v.5h-1.5zM187.5 147.5h34.5v.5h-34.5zM223 147.5h2v.5h-2zM228.5 147.5h2v.5h-2zM237 147.5h1.5v.5h-1.5zM292.5 147.5h1.5v.5h-1.5zM187.5 148h33v.5h-33zM223.5 148h1.5v.5h-1.5zM237 148h1.5v.5h-1.5zM187.5 148.5h29v.5h-29zM217.5 148.5h3v.5h-3zM222.5 148.5h2.5v.5h-2.5zM233.5 148.5h1.5v.5h-1.5zM237 148.5h1.5v.5h-1.5zM187.5 149h28v.5h-28zM217.5 149h1.5v.5h-1.5zM220 149h1.5v.5h-1.5zM222.5 149h1.5v.5h-1.5zM233 149h2v.5h-2zM237 149h1.5v.5h-1.5zM187.5 149.5h30v.5h-30zM220 149.5h2v.5h-2zM222.5 149.5h1.5v.5h-1.5zM233 149.5h2v.5h-2zM187.5 150h30v.5h-30zM220 150h2v.5h-2zM226.5 150h1.5v.5h-1.5zM228.5 150h1.5v.5h-1.5zM233 150h1.5v.5h-1.5zM187.5 150.5h30.5v.5h-30.5zM220.5 150.5h2v.5h-2zM226.5 150.5h3.5v.5h-3.5zM187.5 151h26v.5h-26zM215 151h3v.5h-3zM221 151h1.5v.5h-1.5zM226.5 151h3.5v.5h-3.5zM187.5 151.5h26v.5h-26zM215 151.5h3v.5h-3zM221 151.5h1.5v.5h-1.5zM226.5 151.5h2.5v.5h-2.5zM238 151.5h1.5v.5h-1.5zM187.5 152h26.5v.5h-26.5zM216 152h3v.5h-3zM226.5 152h3v.5h-3zM238 152h1.5v.5h-1.5zM187.5 152.5h26.5v.5h-26.5zM216 152.5h3v.5h-3zM226.5 152.5h3v.5h-3zM238 152.5h1.5v.5h-1.5zM243.5 152.5h1.5v.5h-1.5zM187.5 153h26.5v.5h-26.5zM216 153h3v.5h-3zM222 153h1.5v.5h-1.5zM228 153h1.5v.5h-1.5zM243.5 153h1.5v.5h-1.5zM187.5 153.5h26v.5h-26zM215.5 153.5h1.5v.5h-1.5zM222 153.5h1.5v.5h-1.5zM243.5 153.5h1.5v.5h-1.5zM187.5 154h23v.5h-23zM212 154h1.5v.5h-1.5zM214.5 154h3.5v.5h-3.5zM222 154h1.5v.5h-1.5zM187.5 154.5h24v.5h-24zM214.5 154.5h4v.5h-4zM225.5 154.5h1.5v.5h-1.5zM231 154.5h1.5v.5h-1.5zM235 154.5h1.5v.5h-1.5zM285 154.5h1.5v.5h-1.5zM187.5 155h28.5v.5h-28.5zM216.5 155h2.5v.5h-2.5zM225.5 155h1.5v.5h-1.5zM231 155h1.5v.5h-1.5zM235 155h1.5v.5h-1.5zM285 155h1.5v.5h-1.5zM187.5 155.5h27.5v.5h-27.5zM217 155.5h2.5v.5h-2.5zM225.5 155.5h1.5v.5h-1.5zM231 155.5h1.5v.5h-1.5zM235 155.5h1.5v.5h-1.5zM285 155.5h1.5v.5h-1.5zM187.5 156h21.5v.5h-21.5zM209.5 156h5.5v.5h-5.5zM217.5 156h2v.5h-2zM232.5 156h2.5v.5h-2.5zM237 156h1.5v.5h-1.5zM187.5 156.5h27.5v.5h-27.5zM215.5 156.5h4v.5h-4zM232.5 156.5h2.5v.5h-2.5zM237 156.5h1.5v.5h-1.5zM187.5 157h26.5v.5h-26.5zM215.5 157h4v.5h-4zM223 157h1.5v.5h-1.5zM228 157h1.5v.5h-1.5zM232.5 157h2.5v.5h-2.5zM237 157h1.5v.5h-1.5zM187.5 157.5h24v.5h-24zM212.5 157.5h1.5v.5h-1.5zM214.5 157.5h5v.5h-5zM223 157.5h1.5v.5h-1.5zM228 157.5h1.5v.5h-1.5zM187.5 158h19.5v.5h-19.5zM212.5 158h1.5v.5h-1.5zM214.5 158h1.5v.5h-1.5zM221 158h1.5v.5h-1.5zM223 158h1.5v.5h-1.5zM228 158h1.5v.5h-1.5zM187.5 158.5h20v.5h-20zM208.5 158.5h1.5v.5h-1.5zM212 158.5h1.5v.5h-1.5zM214.5 158.5h1.5v.5h-1.5zM221 158.5h1.5v.5h-1.5zM229 158.5h2.5v.5h-2.5zM187.5 159h20v.5h-20zM208.5 159h1.5v.5h-1.5zM212 159h1.5v.5h-1.5zM214.5 159h1.5v.5h-1.5zM221 159h1.5v.5h-1.5zM229 159h2.5v.5h-2.5zM187.5 159.5h20v.5h-20zM208.5 159.5h2.5v.5h-2.5zM212 159.5h1.5v.5h-1.5zM214 159.5h2v.5h-2zM225 159.5h1.5v.5h-1.5zM229 159.5h2.5v.5h-2.5zM187.5 160h18.5v.5h-18.5zM206.5 160h1.5v.5h-1.5zM209.5 160h1.5v.5h-1.5zM212 160h1.5v.5h-1.5zM214 160h1.5v.5h-1.5zM221.5 160h1.5v.5h-1.5zM225 160h1.5v.5h-1.5zM187.5 160.5h18.5v.5h-18.5zM206.5 160.5h2v.5h-2zM209.5 160.5h1.5v.5h-1.5zM212 160.5h1.5v.5h-1.5zM214 160.5h1.5v.5h-1.5zM221.5 160.5h1.5v.5h-1.5zM225 160.5h2v.5h-2zM241 160.5h1.5v.5h-1.5zM187.5 161h16v.5h-16zM204.5 161h1.5v.5h-1.5zM206.5 161h2v.5h-2zM212 161h1.5v.5h-1.5zM221.5 161h1.5v.5h-1.5zM225.5 161h1.5v.5h-1.5zM241 161h1.5v.5h-1.5zM187.5 161.5h15v.5h-15zM207 161.5h1.5v.5h-1.5zM212 161.5h1.5v.5h-1.5zM225.5 161.5h1.5v.5h-1.5zM241 161.5h1.5v.5h-1.5zM189.5 162h13v.5h-13z" fill="#fa0000"/>
<path d="M187.30 160.95a.95 .95 0 1 0 1.9 0a.95 .95 0 1 0 -1.9 0M189.93 158.33a.95 .95 0 1 0 1.9 0a.95 .95 0 1 0 -1.9 0M192.57 155.70a.95 .95 0 1 0 1.9 0a.95 .95 0 1 0 -1.9 0M195.20 153.07a.95 .95 0 1 0 1.9 0a.95 .95 0 1 0 -1.9 0M197.84 150.44a.95 .95 0 1 0 1.9 0a.95 .95 0 1 0 -1.9 0M200.47 147.82a.95 .95 0 1 0 1.9 0a.95 .95 0 1 0 -1.9 0M203.10 145.19a.95 .95 0 1 0 1.9 0a.95 .95 0 1 0 -1.9 0M205.74 142.56a.95 .95 0 1 0 1.9 0a.95 .95 0 1 0 -1.9 0M208.37 139.94a.95 .95 0 1 0 1.9 0a.95 .95 0 1 0 -1.9 0M211.01 137.31a.95 .95 0 1 0 1.9 0a.95 .95 0 1 0 -1.9 0M213.64 134.68a.95 .95 0 1 0 1.9 0a.95 .95 0 1 0 -1.9 0M216.27 132.06a.95 .95 0 1 0 1.9 0a.95 .95 0 1 0 -1.9 0M218.91 129.43a.95 .95 0 1 0 1.9 0a.95 .95 0 1 0 -1.9 0M221.54 126.80a.95 .95 0 1 0 1.9 0a.95 .95 0 1 0 -1.9 0M224.17 124.18a.95 .95 0 1 0 1.9 0a.95 .95 0 1 0 -1.9 0M226.81 121.55a.95 .95 0 1 0 1.9 0a.95 .95 0 1 0 -1.9 0M229.44 118.92a.95 .95 0 1 0 1.9 0a.95 .95 0 1 0 -1.9 0M232.08 116.29a.95 .95 0 1 0 1.9 0a.95 .95 0 1 0 -1.9 0M234.71 113.67a.95 .95 0 1 0 1.9 0a.95 .95 0 1 0 -1.9 0M237.34 111.04a.95 .95 0 1 0 1.9 0a.95 .95 0 1 0 -1.9 0M239.98 108.41a.95 .95 0 1 0 1.9 0a.95 .95 0 1 0 -1.9 0M242.61 105.79a.95 .95 0 1 0 1.9 0a.95 .95 0 1 0 -1.9 0M245.25 103.16a.95 .95 0 1 0 1.9 0a.95 .95 0 1 0 -1.9 0M247.88 100.53a.95 .95 0 1 0 1.9 0a.95 .95 0 1 0 -1.9 0M250.51 97.91a.95 .95 0 1 0 1.9 0a.95 .95 0 1 0 -1.9 0M253.15 95.28a.95 .95 0 1 0 1.9 0a.95 .95 0 1 0 -1.9 0M255.78 92.65a.95 .95 0 1 0 1.9 0a.95 .95 0 1 0 -1.9 0M258.42 90.03a.95 .95 0 1 0 1.9 0a.95 .95 0 1 0 -1.9 0M261.05 87.40a.95 .95 0 1 0 1.9 0a.95 .95 0 1 0 -1.9 0M263.68 84.77a.95 .95 0 1 0 1.9 0a.95 .95 0 1 0 -1.9 0M266.32 82.14a.95 .95 0 1 0 1.9 0a.95 .95 0 1 0 -1.9 0M268.95 79.52a.95 .95 0 1 0 1.9 0a.95 .95 0 1 0 -1.9 0M271.59 76.89a.95 .95 0 1 0 1.9 0a.95 .95 0 1 0 -1.9 0M274.22 74.26a.95 .95 0 1 0 1.9 0a.95 .95 0 1 0 -1.9 0M276.85 71.64a.95 .95 0 1 0 1.9 0a.95 .95 0 1 0 -1.9 0M279.49 69.01a.95 .95 0 1 0 1.9 0a.95 .95 0 1 0 -1.9 0M282.12 66.38a.95 .95 0 1 0 1.9 0a.95 .95 0 1 0 -1.9 0M284.76 63.76a.95 .95 0 1 0 1.9 0a.95 .95 0 1 0 -1.9 0M287.39 61.13a.95 .95 0 1 0 1.9 0a.95 .95 0 1 0 -1.9 0M290.02 58.50a.95 .95 0 1 0 1.9 0a.95 .95 0 1 0 -1.9 0M292.66 55.88a.95 .95 0 1 0 1.9 0a.95 .95 0 1 0 -1.9 0M295.29 53.25a.95 .95 0 1 0 1.9 0a.95 .95 0 1 0 -1.9 0M297.93 50.62a.95 .95 0 1 0 1.9 0a.95 .95 0 1 0 -1.9 0" fill="#fcd4d4"/>
<line x1="187.4" y1="49.0" x2="187.4" y2="162.4" stroke="#111" stroke-width="1.3" />
<line x1="186.8" y1="161.8" x2="300.5" y2="161.8" stroke="#111" stroke-width="1.3" />
<line x1="183.9" y1="161.8" x2="187.4" y2="161.8" stroke="#111" stroke-width="1.2" />
<line x1="187.4" y1="161.8" x2="187.4" y2="165.10000000000002" stroke="#111" stroke-width="1.2" />
<text x="183.1" y="163.85" font-size="7.3" font-weight="bold" text-anchor="end" fill="#111" >0.0</text>
<text x="187.4" y="173.4" font-size="7.3" font-weight="bold" text-anchor="middle" fill="#111" >0.0</text>
<line x1="183.9" y1="139.36" x2="187.4" y2="139.36" stroke="#111" stroke-width="1.2" />
<line x1="209.9" y1="161.8" x2="209.9" y2="165.10000000000002" stroke="#111" stroke-width="1.2" />
<text x="183.1" y="141.41" font-size="7.3" font-weight="bold" text-anchor="end" fill="#111" >0.2</text>
<text x="209.9" y="173.4" font-size="7.3" font-weight="bold" text-anchor="middle" fill="#111" >0.2</text>
<line x1="183.9" y1="116.92" x2="187.4" y2="116.92" stroke="#111" stroke-width="1.2" />
<line x1="232.4" y1="161.8" x2="232.4" y2="165.10000000000002" stroke="#111" stroke-width="1.2" />
<text x="183.1" y="118.97" font-size="7.3" font-weight="bold" text-anchor="end" fill="#111" >0.4</text>
<text x="232.4" y="173.4" font-size="7.3" font-weight="bold" text-anchor="middle" fill="#111" >0.4</text>
<line x1="183.9" y1="94.47999999999999" x2="187.4" y2="94.47999999999999" stroke="#111" stroke-width="1.2" />
<line x1="254.9" y1="161.8" x2="254.9" y2="165.10000000000002" stroke="#111" stroke-width="1.2" />
<text x="183.1" y="96.53" font-size="7.3" font-weight="bold" text-anchor="end" fill="#111" >0.6</text>
<text x="254.9" y="173.4" font-size="7.3" font-weight="bold" text-anchor="middle" fill="#111" >0.6</text>
<line x1="183.9" y1="72.03999999999999" x2="187.4" y2="72.03999999999999" stroke="#111" stroke-width="1.2" />
<line x1="277.4" y1="161.8" x2="277.4" y2="165.10000000000002" stroke="#111" stroke-width="1.2" />
<text x="183.1" y="74.09" font-size="7.3" font-weight="bold" text-anchor="end" fill="#111" >0.8</text>
<text x="277.4" y="173.4" font-size="7.3" font-weight="bold" text-anchor="middle" fill="#111" >0.8</text>
<line x1="183.9" y1="49.599999999999994" x2="187.4" y2="49.599999999999994" stroke="#111" stroke-width="1.2" />
<line x1="299.9" y1="161.8" x2="299.9" y2="165.10000000000002" stroke="#111" stroke-width="1.2" />
<text x="183.1" y="51.65" font-size="7.3" font-weight="bold" text-anchor="end" fill="#111" >1.0</text>
<text x="299.9" y="173.4" font-size="7.3" font-weight="bold" text-anchor="middle" fill="#111" >1.0</text>
<text x="243.65" y="185.3" font-size="8.6" font-weight="bold" text-anchor="middle" fill="#111" >Normal</text>
<text x="0" y="0" font-size="9.0" font-weight="bold" text-anchor="middle" fill="#111" transform="translate(166.0 105.7) rotate(-90)">Type1</text>
<path d="M106.5 224h1.5v.5h-1.5zM125 224h1.5v.5h-1.5zM135.5 224h7v.5h-7zM106.5 224.5h1.5v.5h-1.5zM113.5 224.5h1.5v.5h-1.5zM125 224.5h1.5v.5h-1.5zM134 224.5h8.5v.5h-8.5zM106.5 225h1.5v.5h-1.5zM113.5 225h2.5v.5h-2.5zM120 225h1.5v.5h-1.5zM124.5 225h2v.5h-2zM128.5 225h2.5v.5h-2.5zM134 225h2v.5h-2zM136.5 225h6v.5h-6zM113.5 225.5h4v.5h-4zM120 225.5h1.5v.5h-1.5zM124.5 225.5h1.5v.5h-1.5zM128.5 225.5h4v.5h-4zM134 225.5h8.5v.5h-8.5zM107.5 226h1.5v.5h-1.5zM114.5 226h3v.5h-3zM120 226h1.5v.5h-1.5zM124.5 226h1.5v.5h-1.5zM128.5 226h4v.5h-4zM134 226h8.5v.5h-8.5zM107.5 226.5h1.5v.5h-1.5zM114 226.5h3.5v.5h-3.5zM124 226.5h2v.5h-2zM127.5 226.5h2.5v.5h-2.5zM131 226.5h1.5v.5h-1.5zM134 226.5h8.5v.5h-8.5zM107.5 227h2.5v.5h-2.5zM114 227h1.5v.5h-1.5zM122 227h1.5v.5h-1.5zM124 227h2v.5h-2zM127.5 227h1.5v.5h-1.5zM133.5 227h9v.5h-9zM108.5 227.5h1.5v.5h-1.5zM114 227.5h1.5v.5h-1.5zM118.5 227.5h1.5v.5h-1.5zM120.5 227.5h3v.5h-3zM124 227.5h3v.5h-3zM127.5 227.5h4v.5h-4zM133.5 227.5h9v.5h-9zM108.5 228h1.5v.5h-1.5zM116 228h1.5v.5h-1.5zM118.5 228h1.5v.5h-1.5zM120.5 228h3v.5h-3zM124 228h3v.5h-3zM129 228h2.5v.5h-2.5zM132.5 228h10v.5h-10zM84.5 228.5h1.5v.5h-1.5zM115.5 228.5h7.5v.5h-7.5zM124 228.5h3v.5h-3zM129 228.5h13.5v.5h-13.5zM84.5 229h1.5v.5h-1.5zM95.5 229h1.5v.5h-1.5zM107 229h1.5v.5h-1.5zM113.5 229h12.5v.5h-12.5zM127 229h2.5v.5h-2.5zM130 229h12v.5h-12zM82 229.5h1.5v.5h-1.5zM84.5 229.5h1.5v.5h-1.5zM95.5 229.5h1.5v.5h-1.5zM107 229.5h1.5v.5h-1.5zM113.5 229.5h12.5v.5h-12.5zM126.5 229.5h15.5v.5h-15.5zM78 230h1.5v.5h-1.5zM82 230h1.5v.5h-1.5zM95 230h2v.5h-2zM100 230h2v.5h-2zM107 230h1.5v.5h-1.5zM113.5 230h5v.5h-5zM120.5 230h4.5v.5h-4.5zM126.5 230h15.5v.5h-15.5zM78 230.5h1.5v.5h-1.5zM82 230.5h1.5v.5h-1.5zM95 230.5h1.5v.5h-1.5zM99.5 230.5h2.5v.5h-2.5zM104 230.5h4v.5h-4zM112.5 230.5h2.5v.5h-2.5zM117.5 230.5h1.5v.5h-1.5zM121 230.5h20.5v.5h-20.5zM70.5 231h1.5v.5h-1.5zM78 231h1.5v.5h-1.5zM83.5 231h1.5v.5h-1.5zM94.5 231h2v.5h-2zM98 231h4v.5h-4zM104 231h4v.5h-4zM112.5 231h1.5v.5h-1.5zM117.5 231h2v.5h-2zM121 231h2v.5h-2zM123.5 231h18v.5h-18zM70.5 231.5h1.5v.5h-1.5zM83.5 231.5h1.5v.5h-1.5zM94.5 231.5h1.5v.5h-1.5zM98 231.5h3v.5h-3zM104 231.5h4v.5h-4zM112.5 231.5h3v.5h-3zM117.5 231.5h2v.5h-2zM121 231.5h20.5v.5h-20.5zM70.5 232h1.5v.5h-1.5zM83.5 232h1.5v.5h-1.5zM89 232h1.5v.5h-1.5zM94.5 232h1.5v.5h-1.5zM98 232h2v.5h-2zM110.5 232h1.5v.5h-1.5zM113.5 232h2v.5h-2zM118 232h1.5v.5h-1.5zM121 232h20v.5h-20zM89 232.5h1.5v.5h-1.5zM97.5 232.5h2.5v.5h-2.5zM110.5 232.5h1.5v.5h-1.5zM112.5 232.5h3v.5h-3zM116 232.5h1.5v.5h-1.5zM118 232.5h1.5v.5h-1.5zM120 232.5h22.5v.5h-22.5zM89 233h1.5v.5h-1.5zM97.5 233h1.5v.5h-1.5zM110.5 233h1.5v.5h-1.5zM112.5 233h30v.5h-30zM86.5 233.5h1.5v.5h-1.5zM97.5 233.5h1.5v.5h-1.5zM112.5 233.5h1.5v.5h-1.5zM114.5 233.5h28v.5h-28zM54 234h1.5v.5h-1.5zM62.5 234h1.5v.5h-1.5zM76.5 234h1.5v.5h-1.5zM86.5 234h1.5v.5h-1.5zM97.5 234h1.5v.5h-1.5zM102 234h1.5v.5h-1.5zM107.5 234h1.5v.5h-1.5zM114.5 234h27v.5h-27zM54 234.5h1.5v.5h-1.5zM62.5 234.5h1.5v.5h-1.5zM76.5 234.5h1.5v.5h-1.5zM86.5 234.5h1.5v.5h-1.5zM89 234.5h1.5v.5h-1.5zM93.5 234.5h1.5v.5h-1.5zM97.5 234.5h1.5v.5h-1.5zM102 234.5h3v.5h-3zM107.5 234.5h4v.5h-4zM112.5 234.5h1.5v.5h-1.5zM116 234.5h26v.5h-26zM54 235h1.5v.5h-1.5zM62.5 235h1.5v.5h-1.5zM76.5 235h1.5v.5h-1.5zM89 235h1.5v.5h-1.5zM93.5 235h3v.5h-3zM97.5 235h3v.5h-3zM102 235h3v.5h-3zM107.5 235h4v.5h-4zM112.5 235h1.5v.5h-1.5zM115.5 235h26.5v.5h-26.5zM89 235.5h1.5v.5h-1.5zM93.5 235.5h3v.5h-3zM97.5 235.5h3v.5h-3zM102.5 235.5h2.5v.5h-2.5zM108 235.5h3.5v.5h-3.5zM112.5 235.5h29.5v.5h-29.5zM82 236h1.5v.5h-1.5zM93.5 236h3v.5h-3zM99 236h3v.5h-3zM102.5 236h2v.5h-2zM108 236h33v.5h-33zM61.5 236.5h1.5v.5h-1.5zM82 236.5h1.5v.5h-1.5zM90.5 236.5h1.5v.5h-1.5zM97 236.5h1.5v.5h-1.5zM100.5 236.5h3.5v.5h-3.5zM108 236.5h33v.5h-33zM61.5 237h1.5v.5h-1.5zM82 237h1.5v.5h-1.5zM89.5 237h2.5v.5h-2.5zM97 237h1.5v.5h-1.5zM99.5 237h3v.5h-3zM107.5 237h31.5v.5h-31.5zM140.5 237h1.5v.5h-1.5zM61.5 237.5h1.5v.5h-1.5zM82.5 237.5h1.5v.5h-1.5zM86.5 237.5h1.5v.5h-1.5zM89.5 237.5h2.5v.5h-2.5zM97 237.5h1.5v.5h-1.5zM99.5 237.5h3v.5h-3zM107.5 237.5h2v.5h-2zM110 237.5h29v.5h-29zM140.5 237.5h1.5v.5h-1.5zM72 238h1.5v.5h-1.5zM82.5 238h1.5v.5h-1.5zM86.5 238h1.5v.5h-1.5zM89.5 238h1.5v.5h-1.5zM98 238h3.5v.5h-3.5zM102 238h5v.5h-5zM107.5 238h1.5v.5h-1.5zM110 238h28.5v.5h-28.5zM139 238h3v.5h-3zM72 238.5h1.5v.5h-1.5zM82.5 238.5h1.5v.5h-1.5zM86.5 238.5h1.5v.5h-1.5zM96.5 238.5h4v.5h-4zM102 238.5h36.5v.5h-36.5zM139 238.5h1.5v.5h-1.5zM72 239h1.5v.5h-1.5zM76 239h1.5v.5h-1.5zM96.5 239h4.5v.5h-4.5zM102 239h39.5v.5h-39.5zM46 239.5h1.5v.5h-1.5zM76 239.5h1.5v.5h-1.5zM80.5 239.5h1.5v.5h-1.5zM96.5 239.5h1.5v.5h-1.5zM99.5 239.5h3v.5h-3zM104 239.5h35.5v.5h-35.5zM140 239.5h1.5v.5h-1.5zM46 240h1.5v.5h-1.5zM68.5 240h1.5v.5h-1.5zM76 240h1.5v.5h-1.5zM80.5 240h1.5v.5h-1.5zM95.5 240h1.5v.5h-1.5zM99.5 240h3v.5h-3zM104 240h35.5v.5h-35.5zM140 240h1.5v.5h-1.5zM46 240.5h1.5v.5h-1.5zM65 240.5h2v.5h-2zM68.5 240.5h1.5v.5h-1.5zM77 240.5h1.5v.5h-1.5zM80.5 240.5h1.5v.5h-1.5zM87 240.5h1.5v.5h-1.5zM92 240.5h1.5v.5h-1.5zM95.5 240.5h1.5v.5h-1.5zM100.5 240.5h38.5v.5h-38.5zM140 240.5h1.5v.5h-1.5zM60 241h1.5v.5h-1.5zM62 241h1.5v.5h-1.5zM65 241h2v.5h-2zM68.5 241h1.5v.5h-1.5zM75.5 241h3v.5h-3zM84 241h1.5v.5h-1.5zM87 241h1.5v.5h-1.5zM91.5 241h2v.5h-2zM95.5 241h1.5v.5h-1.5zM102.5 241h36.5v.5h-36.5zM140.5 241h1.5v.5h-1.5zM60 241.5h1.5v.5h-1.5zM62 241.5h1.5v.5h-1.5zM65 241.5h2v.5h-2zM75.5 241.5h3v.5h-3zM84 241.5h4.5v.5h-4.5zM91.5 241.5h3.5v.5h-3.5zM99.5 241.5h1.5v.5h-1.5zM102.5 241.5h34.5v.5h-34.5zM137.5 241.5h1.5v.5h-1.5zM140.5 241.5h1.5v.5h-1.5zM60 242h1.5v.5h-1.5zM62 242h1.5v.5h-1.5zM75.5 242h1.5v.5h-1.5zM84 242h4v.5h-4zM91.5 242h1.5v.5h-1.5zM93.5 242h3v.5h-3zM98.5 242h38.5v.5h-38.5zM137.5 242h1.5v.5h-1.5zM140.5 242h1.5v.5h-1.5zM69 242.5h1.5v.5h-1.5zM79 242.5h1.5v.5h-1.5zM85 242.5h4v.5h-4zM90.5 242.5h1.5v.5h-1.5zM93.5 242.5h3.5v.5h-3.5zM98.5 242.5h38.5v.5h-38.5zM137.5 242.5h1.5v.5h-1.5zM53.5 243h1.5v.5h-1.5zM69 243h1.5v.5h-1.5zM79 243h3v.5h-3zM85 243h1.5v.5h-1.5zM87.5 243h1.5v.5h-1.5zM90.5 243h1.5v.5h-1.5zM95 243h2v.5h-2zM98.5 243h40.5v.5h-40.5zM53.5 243.5h1.5v.5h-1.5zM63.5 243.5h1.5v.5h-1.5zM69 243.5h1.5v.5h-1.5zM79 243.5h3v.5h-3zM85 243.5h2v.5h-2zM87.5 243.5h1.5v.5h-1.5zM90.5 243.5h4v.5h-4zM95.5 243.5h1.5v.5h-1.5zM98.5 243.5h42v.5h-42zM53.5 244h2.5v.5h-2.5zM63.5 244h1.5v.5h-1.5zM73.5 244h1.5v.5h-1.5zM80.5 244h1.5v.5h-1.5zM85.5 244h1.5v.5h-1.5zM87.5 244h1.5v.5h-1.5zM90.5 244h6.5v.5h-6.5zM97.5 244h43v.5h-43zM46 244.5h1.5v.5h-1.5zM54.5 244.5h1.5v.5h-1.5zM63.5 244.5h1.5v.5h-1.5zM73.5 244.5h1.5v.5h-1.5zM79.5 244.5h3.5v.5h-3.5zM84 244.5h3v.5h-3zM87.5 244.5h53v.5h-53zM141 244.5h1.5v.5h-1.5zM46 245h1.5v.5h-1.5zM54.5 245h1.5v.5h-1.5zM73.5 245h3v.5h-3zM79.5 245h1.5v.5h-1.5zM81.5 245h1.5v.5h-1.5zM84 245h1.5v.5h-1.5zM87.5 245h50.5v.5h-50.5zM139 245h1.5v.5h-1.5zM141 245h1.5v.5h-1.5zM46 245.5h1.5v.5h-1.5zM74.5 245.5h3.5v.5h-3.5zM79.5 245.5h1.5v.5h-1.5zM81.5 245.5h1.5v.5h-1.5zM84 245.5h1.5v.5h-1.5zM88.5 245.5h3.5v.5h-3.5zM93 245.5h1.5v.5h-1.5zM95 245.5h45v.5h-45zM141 245.5h1.5v.5h-1.5zM74.5 246h3.5v.5h-3.5zM88.5 246h4v.5h-4zM93 246h47v.5h-47zM36 246.5h1.5v.5h-1.5zM71.5 246.5h1.5v.5h-1.5zM76 246.5h3.5v.5h-3.5zM86 246.5h1.5v.5h-1.5zM88.5 246.5h47v.5h-47zM137 246.5h3v.5h-3zM36 247h1.5v.5h-1.5zM67.5 247h1.5v.5h-1.5zM71.5 247h2.5v.5h-2.5zM76 247h3.5v.5h-3.5zM83 247h2.5v.5h-2.5zM86 247h1.5v.5h-1.5zM89.5 247h46v.5h-46zM136 247h1.5v.5h-1.5zM139.5 247h1.5v.5h-1.5zM36 247.5h1.5v.5h-1.5zM56.5 247.5h1.5v.5h-1.5zM67.5 247.5h1.5v.5h-1.5zM71.5 247.5h2.5v.5h-2.5zM76 247.5h3.5v.5h-3.5zM82.5 247.5h3v.5h-3zM86 247.5h2.5v.5h-2.5zM89.5 247.5h45.5v.5h-45.5zM136 247.5h1.5v.5h-1.5zM139.5 247.5h1.5v.5h-1.5zM56.5 248h1.5v.5h-1.5zM67.5 248h3v.5h-3zM72.5 248h3v.5h-3zM82.5 248h3v.5h-3zM87 248h1.5v.5h-1.5zM89.5 248h48v.5h-48zM139.5 248h1.5v.5h-1.5zM48.5 248.5h1.5v.5h-1.5zM56.5 248.5h1.5v.5h-1.5zM69 248.5h1.5v.5h-1.5zM74 248.5h1.5v.5h-1.5zM82.5 248.5h2v.5h-2zM87 248.5h1.5v.5h-1.5zM89 248.5h48v.5h-48zM48.5 249h1.5v.5h-1.5zM69 249h1.5v.5h-1.5zM71 249h1.5v.5h-1.5zM74 249h1.5v.5h-1.5zM76.5 249h1.5v.5h-1.5zM80 249h1.5v.5h-1.5zM83 249h1.5v.5h-1.5zM88 249h49v.5h-49zM48.5 249.5h1.5v.5h-1.5zM71 249.5h1.5v.5h-1.5zM73.5 249.5h1.5v.5h-1.5zM76.5 249.5h1.5v.5h-1.5zM80 249.5h1.5v.5h-1.5zM83 249.5h1.5v.5h-1.5zM86 249.5h48v.5h-48zM135.5 249.5h1.5v.5h-1.5zM51 250h3v.5h-3zM58 250h3v.5h-3zM69.5 250h3v.5h-3zM73.5 250h1.5v.5h-1.5zM76.5 250h1.5v.5h-1.5zM80 250h1.5v.5h-1.5zM83.5 250h50.5v.5h-50.5zM136 250h1.5v.5h-1.5zM139.5 250h1.5v.5h-1.5zM44.5 250.5h1.5v.5h-1.5zM51 250.5h3v.5h-3zM58 250.5h3v.5h-3zM69 250.5h3.5v.5h-3.5zM73.5 250.5h1.5v.5h-1.5zM75.5 250.5h2v.5h-2zM78.5 250.5h1.5v.5h-1.5zM83.5 250.5h54v.5h-54zM139.5 250.5h1.5v.5h-1.5zM44.5 251h1.5v.5h-1.5zM51 251h3v.5h-3zM58 251h3v.5h-3zM65 251h1.5v.5h-1.5zM69 251h8.5v.5h-8.5zM78.5 251h2.5v.5h-2.5zM83.5 251h50v.5h-50zM134 251h3.5v.5h-3.5zM139.5 251h1.5v.5h-1.5zM44.5 251.5h1.5v.5h-1.5zM57 251.5h1.5v.5h-1.5zM65 251.5h1.5v.5h-1.5zM69 251.5h8.5v.5h-8.5zM78.5 251.5h3v.5h-3zM83 251.5h50.5v.5h-50.5zM134 251.5h2.5v.5h-2.5zM57 252h1.5v.5h-1.5zM65 252h1.5v.5h-1.5zM72.5 252h3.5v.5h-3.5zM78.5 252h3.5v.5h-3.5zM82.5 252h51v.5h-51zM134 252h1.5v.5h-1.5zM45.5 252.5h1.5v.5h-1.5zM57 252.5h1.5v.5h-1.5zM65 252.5h1.5v.5h-1.5zM71.5 252.5h3.5v.5h-3.5zM78.5 252.5h54.5v.5h-54.5zM134 252.5h1.5v.5h-1.5zM45.5 253h1.5v.5h-1.5zM51.5 253h1.5v.5h-1.5zM59 253h1.5v.5h-1.5zM64.5 253h2v.5h-2zM71 253h5.5v.5h-5.5zM77.5 253h56.5v.5h-56.5zM137 253h3.5v.5h-3.5zM45.5 253.5h1.5v.5h-1.5zM51.5 253.5h1.5v.5h-1.5zM59 253.5h1.5v.5h-1.5zM64.5 253.5h2v.5h-2zM71 253.5h3.5v.5h-3.5zM75 253.5h1.5v.5h-1.5zM77 253.5h57v.5h-57zM137 253.5h3.5v.5h-3.5zM46.5 254h1.5v.5h-1.5zM51.5 254h1.5v.5h-1.5zM59 254h1.5v.5h-1.5zM64.5 254h1.5v.5h-1.5zM71 254h3.5v.5h-3.5zM75 254h59v.5h-59zM137 254h3.5v.5h-3.5zM46.5 254.5h1.5v.5h-1.5zM71.5 254.5h2.5v.5h-2.5zM75.5 254.5h58v.5h-58zM29.5 255h1.5v.5h-1.5zM46.5 255h1.5v.5h-1.5zM56 255h1.5v.5h-1.5zM66 255h4v.5h-4zM72.5 255h1.5v.5h-1.5zM75 255h58.5v.5h-58.5zM29.5 255.5h1.5v.5h-1.5zM56 255.5h1.5v.5h-1.5zM63 255.5h1.5v.5h-1.5zM66 255.5h67.5v.5h-67.5zM29.5 256h1.5v.5h-1.5zM47.5 256h2.5v.5h-2.5zM51.5 256h1.5v.5h-1.5zM53.5 256h1.5v.5h-1.5zM56 256h1.5v.5h-1.5zM62.5 256h2v.5h-2zM66 256h6.5v.5h-6.5zM73.5 256h59v.5h-59zM135 256h1.5v.5h-1.5zM47.5 256.5h2.5v.5h-2.5zM51.5 256.5h1.5v.5h-1.5zM53.5 256.5h1.5v.5h-1.5zM57 256.5h1.5v.5h-1.5zM61.5 256.5h4v.5h-4zM66.5 256.5h1.5v.5h-1.5zM69.5 256.5h64.5v.5h-64.5zM134.5 256.5h2v.5h-2zM46 257h4v.5h-4zM51.5 257h1.5v.5h-1.5zM53.5 257h1.5v.5h-1.5zM55.5 257h3v.5h-3zM61.5 257h5.5v.5h-5.5zM72 257h62v.5h-62zM134.5 257h2v.5h-2zM42.5 257.5h1.5v.5h-1.5zM46 257.5h1.5v.5h-1.5zM52 257.5h1.5v.5h-1.5zM54 257.5h4.5v.5h-4.5zM61.5 257.5h2v.5h-2zM64 257.5h3v.5h-3zM69.5 257.5h61.5v.5h-61.5zM132.5 257.5h3.5v.5h-3.5zM40.5 258h1.5v.5h-1.5zM42.5 258h1.5v.5h-1.5zM45 258h2.5v.5h-2.5zM52 258h1.5v.5h-1.5zM54 258h4.5v.5h-4.5zM65.5 258h1.5v.5h-1.5zM69.5 258h61.5v.5h-61.5zM134 258h2v.5h-2zM139 258h1.5v.5h-1.5zM40.5 258.5h6v.5h-6zM47.5 258.5h3v.5h-3zM52 258.5h1.5v.5h-1.5zM54 258.5h1.5v.5h-1.5zM56.5 258.5h3.5v.5h-3.5zM64.5 258.5h1.5v.5h-1.5zM66.5 258.5h1.5v.5h-1.5zM68.5 258.5h62v.5h-62zM134 258.5h2v.5h-2zM136.5 258.5h1.5v.5h-1.5zM139 258.5h1.5v.5h-1.5zM40.5 259h2v.5h-2zM43.5 259h3v.5h-3zM47 259h4v.5h-4zM52.5 259h1.5v.5h-1.5zM55 259h6.5v.5h-6.5zM62.5 259h68v.5h-68zM131 259h1.5v.5h-1.5zM134 259h2v.5h-2zM136.5 259h1.5v.5h-1.5zM139 259h1.5v.5h-1.5zM33 259.5h2v.5h-2zM41 259.5h1.5v.5h-1.5zM43.5 259.5h1.5v.5h-1.5zM47 259.5h4v.5h-4zM52.5 259.5h1.5v.5h-1.5zM55 259.5h6.5v.5h-6.5zM62.5 259.5h68v.5h-68zM131 259.5h1.5v.5h-1.5zM134 259.5h1.5v.5h-1.5zM136.5 259.5h1.5v.5h-1.5zM33 260h2v.5h-2zM47 260h1.5v.5h-1.5zM49.5 260h1.5v.5h-1.5zM52.5 260h1.5v.5h-1.5zM55 260h4.5v.5h-4.5zM60 260h1.5v.5h-1.5zM62.5 260h68v.5h-68zM131 260h1.5v.5h-1.5zM136.5 260h1.5v.5h-1.5zM33 260.5h2v.5h-2zM53.5 260.5h1.5v.5h-1.5zM56.5 260.5h2v.5h-2zM63 260.5h67.5v.5h-67.5zM133 260.5h1.5v.5h-1.5zM136.5 260.5h1.5v.5h-1.5zM33 261h1.5v.5h-1.5zM51.5 261h1.5v.5h-1.5zM53.5 261h1.5v.5h-1.5zM56.5 261h2.5v.5h-2.5zM62.5 261h65.5v.5h-65.5zM133 261h1.5v.5h-1.5zM136.5 261h1.5v.5h-1.5zM31.5 261.5h3v.5h-3zM50.5 261.5h2.5v.5h-2.5zM53.5 261.5h1.5v.5h-1.5zM56.5 261.5h3.5v.5h-3.5zM61.5 261.5h66.5v.5h-66.5zM129 261.5h2.5v.5h-2.5zM133 261.5h1.5v.5h-1.5zM31.5 262h1.5v.5h-1.5zM38.5 262h1.5v.5h-1.5zM41 262h1.5v.5h-1.5zM49 262h4v.5h-4zM53.5 262h3v.5h-3zM57.5 262h2.5v.5h-2.5zM61.5 262h70v.5h-70zM139 262h1.5v.5h-1.5zM31.5 262.5h1.5v.5h-1.5zM38.5 262.5h4v.5h-4zM47.5 262.5h9v.5h-9zM58 262.5h73.5v.5h-73.5zM135.5 262.5h1.5v.5h-1.5zM139 262.5h1.5v.5h-1.5zM38.5 263h4v.5h-4zM47.5 263h3v.5h-3zM51 263h5.5v.5h-5.5zM59 263h70v.5h-70zM129.5 263h1.5v.5h-1.5zM135.5 263h1.5v.5h-1.5zM139 263h1.5v.5h-1.5zM40 263.5h1.5v.5h-1.5zM47.5 263.5h2.5v.5h-2.5zM51 263.5h3.5v.5h-3.5zM57.5 263.5h68v.5h-68zM126.5 263.5h4.5v.5h-4.5zM135.5 263.5h1.5v.5h-1.5zM138 263.5h1.5v.5h-1.5zM31 264h1.5v.5h-1.5zM37.5 264h1.5v.5h-1.5zM44.5 264h2v.5h-2zM48.5 264h1.5v.5h-1.5zM52 264h3v.5h-3zM57.5 264h68v.5h-68zM126.5 264h3v.5h-3zM138 264h1.5v.5h-1.5zM31 264.5h1.5v.5h-1.5zM37.5 264.5h1.5v.5h-1.5zM39.5 264.5h1.5v.5h-1.5zM42 264.5h1.5v.5h-1.5zM44.5 264.5h2v.5h-2zM48.5 264.5h1.5v.5h-1.5zM51.5 264.5h74v.5h-74zM127 264.5h2.5v.5h-2.5zM131.5 264.5h1.5v.5h-1.5zM138 264.5h1.5v.5h-1.5zM31 265h1.5v.5h-1.5zM37.5 265h1.5v.5h-1.5zM39.5 265h1.5v.5h-1.5zM42 265h1.5v.5h-1.5zM44.5 265h2v.5h-2zM47 265h1.5v.5h-1.5zM49 265h1.5v.5h-1.5zM51.5 265h74v.5h-74zM126 265h1.5v.5h-1.5zM128 265h1.5v.5h-1.5zM131 265h2v.5h-2zM31 265.5h1.5v.5h-1.5zM39 265.5h2v.5h-2zM42 265.5h1.5v.5h-1.5zM45.5 265.5h3v.5h-3zM49 265.5h1.5v.5h-1.5zM51.5 265.5h2.5v.5h-2.5zM54.5 265.5h73v.5h-73zM128 265.5h1.5v.5h-1.5zM131 265.5h2v.5h-2zM39 266h1.5v.5h-1.5zM45.5 266h3v.5h-3zM49 266h1.5v.5h-1.5zM52 266h77.5v.5h-77.5zM131 266h1.5v.5h-1.5zM36.5 266.5h2v.5h-2zM39 266.5h1.5v.5h-1.5zM45.5 266.5h3v.5h-3zM49 266.5h1.5v.5h-1.5zM52 266.5h71.5v.5h-71.5zM124 266.5h5v.5h-5zM36.5 267h2v.5h-2zM40.5 267h1.5v.5h-1.5zM42.5 267h1.5v.5h-1.5zM49 267h74.5v.5h-74.5zM124 267h5v.5h-5zM135.5 267h1.5v.5h-1.5zM36.5 267.5h3v.5h-3zM40.5 267.5h3.5v.5h-3.5zM44.5 267.5h1.5v.5h-1.5zM48 267.5h47v.5h-47zM95.5 267.5h28v.5h-28zM124.5 267.5h3v.5h-3zM135.5 267.5h1.5v.5h-1.5zM37 268h2.5v.5h-2.5zM40.5 268h3.5v.5h-3.5zM44.5 268h1.5v.5h-1.5zM48 268h73.5v.5h-73.5zM122 268h6.5v.5h-6.5zM130.5 268h1.5v.5h-1.5zM135.5 268h1.5v.5h-1.5zM37 268.5h2.5v.5h-2.5zM41 268.5h2v.5h-2zM44.5 268.5h2.5v.5h-2.5zM48 268.5h72.5v.5h-72.5zM122 268.5h3v.5h-3zM125.5 268.5h3v.5h-3zM130.5 268.5h1.5v.5h-1.5zM33 269h1.5v.5h-1.5zM41.5 269h1.5v.5h-1.5zM44 269h76.5v.5h-76.5zM121.5 269h3.5v.5h-3.5zM127 269h1.5v.5h-1.5zM130.5 269h3v.5h-3zM33 269.5h1.5v.5h-1.5zM41.5 269.5h1.5v.5h-1.5zM44 269.5h76.5v.5h-76.5zM121.5 269.5h3.5v.5h-3.5zM130.5 269.5h3v.5h-3zM137.5 269.5h1.5v.5h-1.5zM29.5 270h1v.5h-1zM33 270h1.5v.5h-1.5zM35.5 270h1.5v.5h-1.5zM38.5 270h2.5v.5h-2.5zM41.5 270h79v.5h-79zM121.5 270h3.5v.5h-3.5zM130 270h1.5v.5h-1.5zM132 270h1.5v.5h-1.5zM137.5 270h1.5v.5h-1.5zM29.5 270.5h1v.5h-1zM31.5 270.5h1.5v.5h-1.5zM34.5 270.5h2.5v.5h-2.5zM38.5 270.5h2.5v.5h-2.5zM41.5 270.5h79v.5h-79zM122 270.5h3v.5h-3zM130 270.5h1.5v.5h-1.5zM137.5 270.5h1.5v.5h-1.5zM29.5 271h1v.5h-1zM31.5 271h2v.5h-2zM34.5 271h2.5v.5h-2.5zM38.5 271h2.5v.5h-2.5zM42 271h78.5v.5h-78.5zM122 271h2.5v.5h-2.5zM130 271h1.5v.5h-1.5zM31.5 271.5h2v.5h-2zM34.5 271.5h1.5v.5h-1.5zM38.5 271.5h1.5v.5h-1.5zM41 271.5h80.5v.5h-80.5zM123.5 271.5h3v.5h-3zM130 271.5h2.5v.5h-2.5zM31.5 272h2v.5h-2zM38.5 272h1.5v.5h-1.5zM40.5 272h81v.5h-81zM123.5 272h3v.5h-3zM128 272h1.5v.5h-1.5zM131 272h1.5v.5h-1.5zM29.5 272.5h1.5v.5h-1.5zM31.5 272.5h1.5v.5h-1.5zM39.5 272.5h82v.5h-82zM123.5 272.5h3v.5h-3zM127 272.5h2.5v.5h-2.5zM131 272.5h1.5v.5h-1.5zM141 272.5h1.5v.5h-1.5zM29.5 273h3.5v.5h-3.5zM38 273h79v.5h-79zM118 273h2.5v.5h-2.5zM123.5 273h1.5v.5h-1.5zM127 273h2.5v.5h-2.5zM141 273h1.5v.5h-1.5zM29.5 273.5h3v.5h-3zM36 273.5h1.5v.5h-1.5zM38 273.5h79v.5h-79zM119 273.5h1.5v.5h-1.5zM127 273.5h2v.5h-2zM141 273.5h1.5v.5h-1.5zM31 274h3v.5h-3zM36 274h80v.5h-80zM122 274h1.5v.5h-1.5zM125 274h4v.5h-4zM31 274.5h3v.5h-3zM36 274.5h80v.5h-80zM122 274.5h2.5v.5h-2.5zM125 274.5h2.5v.5h-2.5zM31 275h84.5v.5h-84.5zM116 275h1.5v.5h-1.5zM122 275h2.5v.5h-2.5zM125 275h2.5v.5h-2.5zM31 275.5h84.5v.5h-84.5zM116 275.5h1.5v.5h-1.5zM123 275.5h3v.5h-3zM127 275.5h1.5v.5h-1.5zM29.5 276h1.5v.5h-1.5zM32.5 276h82v.5h-82zM116 276h1.5v.5h-1.5zM124.5 276h1.5v.5h-1.5zM127 276h1.5v.5h-1.5zM29.5 276.5h85v.5h-85zM118 276.5h1.5v.5h-1.5zM121.5 276.5h1.5v.5h-1.5zM124.5 276.5h1.5v.5h-1.5zM126.5 276.5h3.5v.5h-3.5zM29.5 277h85v.5h-85zM115 277h4.5v.5h-4.5zM121.5 277h1.5v.5h-1.5zM125 277h5v.5h-5zM131 277h1.5v.5h-1.5zM29.5 277.5h91.5v.5h-91.5zM121.5 277.5h1.5v.5h-1.5zM125 277.5h5v.5h-5zM131 277.5h1.5v.5h-1.5zM29.5 278h89v.5h-89zM119.5 278h3v.5h-3zM125 278h2v.5h-2zM127.5 278h1.5v.5h-1.5zM131 278h1.5v.5h-1.5zM29.5 278.5h83.5v.5h-83.5zM114.5 278.5h3.5v.5h-3.5zM119.5 278.5h3v.5h-3zM29.5 279h83.5v.5h-83.5zM115.5 279h1.5v.5h-1.5zM121 279h1.5v.5h-1.5zM125.5 279h1.5v.5h-1.5zM29.5 279.5h81.5v.5h-81.5zM112.5 279.5h1.5v.5h-1.5zM121.5 279.5h1.5v.5h-1.5zM125.5 279.5h1.5v.5h-1.5zM131.5 279.5h1.5v.5h-1.5zM29.5 280h84.5v.5h-84.5zM116 280h3v.5h-3zM120.5 280h2.5v.5h-2.5zM125.5 280h1.5v.5h-1.5zM131.5 280h1.5v.5h-1.5zM29.5 280.5h85v.5h-85zM116 280.5h3v.5h-3zM120.5 280.5h2.5v.5h-2.5zM131.5 280.5h1.5v.5h-1.5zM29.5 281h83v.5h-83zM113 281h1.5v.5h-1.5zM115 281h7.5v.5h-7.5zM130 281h1.5v.5h-1.5zM29.5 281.5h81.5v.5h-81.5zM113 281.5h1.5v.5h-1.5zM115 281.5h3v.5h-3zM119 281.5h1.5v.5h-1.5zM121 281.5h1.5v.5h-1.5zM130 281.5h1.5v.5h-1.5zM29.5 282h79.5v.5h-79.5zM109.5 282h2v.5h-2zM113 282h3.5v.5h-3.5zM119 282h1.5v.5h-1.5zM121 282h1.5v.5h-1.5zM130 282h1.5v.5h-1.5zM29.5 282.5h79.5v.5h-79.5zM109.5 282.5h2v.5h-2zM113 282.5h3v.5h-3zM118 282.5h1.5v.5h-1.5zM127.5 282.5h1.5v.5h-1.5zM29.5 283h80v.5h-80zM110 283h1.5v.5h-1.5zM114.5 283h1.5v.5h-1.5zM118 283h1.5v.5h-1.5zM127.5 283h1.5v.5h-1.5zM29.5 283.5h77v.5h-77zM108 283.5h1.5v.5h-1.5zM110.5 283.5h2v.5h-2zM118 283.5h1.5v.5h-1.5zM127.5 283.5h1.5v.5h-1.5zM29.5 284h80v.5h-80zM110.5 284h2v.5h-2zM114.5 284h1.5v.5h-1.5zM29.5 284.5h78.5v.5h-78.5zM110.5 284.5h2v.5h-2zM114.5 284.5h1.5v.5h-1.5zM118 284.5h1.5v.5h-1.5zM123 284.5h1.5v.5h-1.5zM135 284.5h1.5v.5h-1.5zM29.5 285h75.5v.5h-75.5zM106 285h4v.5h-4zM113 285h3v.5h-3zM118 285h1.5v.5h-1.5zM123 285h1.5v.5h-1.5zM135 285h1.5v.5h-1.5zM29.5 285.5h77v.5h-77zM108 285.5h2v.5h-2zM113 285.5h1.5v.5h-1.5zM115 285.5h1.5v.5h-1.5zM118 285.5h1.5v.5h-1.5zM122.5 285.5h2v.5h-2zM135 285.5h1.5v.5h-1.5zM29.5 286h77v.5h-77zM107 286h3v.5h-3zM113 286h1.5v.5h-1.5zM115 286h1.5v.5h-1.5zM118 286h1.5v.5h-1.5zM122.5 286h1.5v.5h-1.5zM29.5 286.5h77v.5h-77zM107 286.5h3v.5h-3zM110.5 286.5h2.5v.5h-2.5zM115 286.5h1.5v.5h-1.5zM122.5 286.5h1.5v.5h-1.5zM29.5 287h73.5v.5h-73.5zM105.5 287h4.5v.5h-4.5zM110.5 287h2.5v.5h-2.5zM116.5 287h1.5v.5h-1.5zM29.5 287.5h73v.5h-73zM103.5 287.5h6.5v.5h-6.5zM110.5 287.5h2.5v.5h-2.5zM116.5 287.5h1.5v.5h-1.5zM127 287.5h1.5v.5h-1.5zM29.5 288h73v.5h-73zM103 288h5.5v.5h-5.5zM110 288h2.5v.5h-2.5zM116 288h2v.5h-2zM122.5 288h1.5v.5h-1.5zM127 288h1.5v.5h-1.5zM29.5 288.5h79v.5h-79zM110 288.5h2.5v.5h-2.5zM116 288.5h2v.5h-2zM122.5 288.5h1.5v.5h-1.5zM127 288.5h1.5v.5h-1.5zM29.5 289h79v.5h-79zM110 289h1.5v.5h-1.5zM113 289h1.5v.5h-1.5zM116 289h2v.5h-2zM122.5 289h1.5v.5h-1.5zM29.5 289.5h79v.5h-79zM110 289.5h1.5v.5h-1.5zM113 289.5h3v.5h-3zM127.5 289.5h1.5v.5h-1.5zM29.5 290h72.5v.5h-72.5zM102.5 290h3.5v.5h-3.5zM106.5 290h1.5v.5h-1.5zM109.5 290h1.5v.5h-1.5zM113 290h3v.5h-3zM127.5 290h1.5v.5h-1.5zM29.5 290.5h72.5v.5h-72.5zM103.5 290.5h1.5v.5h-1.5zM109.5 290.5h1.5v.5h-1.5zM114.5 290.5h1.5v.5h-1.5zM121 290.5h1.5v.5h-1.5zM127.5 290.5h1.5v.5h-1.5zM29.5 291h69v.5h-69zM103.5 291h1.5v.5h-1.5zM107 291h1.5v.5h-1.5zM109.5 291h1.5v.5h-1.5zM119 291h1.5v.5h-1.5zM121 291h1.5v.5h-1.5zM129 291h1.5v.5h-1.5zM29.5 291.5h69v.5h-69zM101 291.5h4v.5h-4zM107 291.5h1.5v.5h-1.5zM113.5 291.5h1.5v.5h-1.5zM117 291.5h1.5v.5h-1.5zM119 291.5h1.5v.5h-1.5zM121 291.5h1.5v.5h-1.5zM129 291.5h1.5v.5h-1.5zM29.5 292h67.5v.5h-67.5zM101 292h4.5v.5h-4.5zM107 292h1.5v.5h-1.5zM113.5 292h1.5v.5h-1.5zM117 292h1.5v.5h-1.5zM119 292h1.5v.5h-1.5zM129 292h1.5v.5h-1.5zM29.5 292.5h67.5v.5h-67.5zM100.5 292.5h5v.5h-5zM113.5 292.5h2.5v.5h-2.5zM117 292.5h1.5v.5h-1.5zM119 292.5h2v.5h-2zM122 292.5h1.5v.5h-1.5zM29.5 293h68v.5h-68zM100.5 293h2.5v.5h-2.5zM103.5 293h2v.5h-2zM112.5 293h1.5v.5h-1.5zM114.5 293h1.5v.5h-1.5zM119.5 293h1.5v.5h-1.5zM122 293h1.5v.5h-1.5zM29.5 293.5h68v.5h-68zM98 293.5h1.5v.5h-1.5zM100.5 293.5h4.5v.5h-4.5zM108 293.5h1.5v.5h-1.5zM112.5 293.5h3.5v.5h-3.5zM119.5 293.5h1.5v.5h-1.5zM122 293.5h1.5v.5h-1.5zM29.5 294h68v.5h-68zM98 294h1.5v.5h-1.5zM100.5 294h3.5v.5h-3.5zM108 294h3v.5h-3zM112.5 294h3v.5h-3zM29.5 294.5h67v.5h-67zM97 294.5h2.5v.5h-2.5zM100.5 294.5h4.5v.5h-4.5zM105.5 294.5h1.5v.5h-1.5zM108 294.5h3v.5h-3zM114 294.5h1.5v.5h-1.5zM118 294.5h1.5v.5h-1.5zM125 294.5h1.5v.5h-1.5zM29.5 295h67v.5h-67zM97 295h1.5v.5h-1.5zM100 295h3v.5h-3zM103.5 295h1.5v.5h-1.5zM105.5 295h3v.5h-3zM109.5 295h1.5v.5h-1.5zM118 295h1.5v.5h-1.5zM125 295h1.5v.5h-1.5zM29.5 295.5h67v.5h-67zM97 295.5h11.5v.5h-11.5zM112 295.5h1.5v.5h-1.5zM118 295.5h1.5v.5h-1.5zM125 295.5h1.5v.5h-1.5zM29.5 296h67.5v.5h-67.5zM98 296h3.5v.5h-3.5zM103 296h3v.5h-3zM107 296h3v.5h-3zM112 296h1.5v.5h-1.5zM29.5 296.5h67.5v.5h-67.5zM98 296.5h3.5v.5h-3.5zM103 296.5h3v.5h-3zM108.5 296.5h1.5v.5h-1.5zM112 296.5h1.5v.5h-1.5zM29.5 297h69v.5h-69zM99.5 297h1.5v.5h-1.5zM108.5 297h1.5v.5h-1.5zM29.5 297.5h69v.5h-69zM101 297.5h1.5v.5h-1.5zM105.5 297.5h1.5v.5h-1.5zM109.5 297.5h1.5v.5h-1.5zM29.5 298h61.5v.5h-61.5zM91.5 298h2.5v.5h-2.5zM95.5 298h3v.5h-3zM101 298h2v.5h-2zM105.5 298h1.5v.5h-1.5zM109.5 298h1.5v.5h-1.5zM117 298h1.5v.5h-1.5zM29.5 298.5h61.5v.5h-61.5zM92.5 298.5h1.5v.5h-1.5zM94.5 298.5h3v.5h-3zM101 298.5h2v.5h-2zM105.5 298.5h3v.5h-3zM109.5 298.5h1.5v.5h-1.5zM117 298.5h1.5v.5h-1.5zM29.5 299h60.5v.5h-60.5zM93.5 299h2.5v.5h-2.5zM101.5 299h1.5v.5h-1.5zM104.5 299h1.5v.5h-1.5zM107 299h1.5v.5h-1.5zM117 299h2v.5h-2zM29.5 299.5h61v.5h-61zM93.5 299.5h3.5v.5h-3.5zM104.5 299.5h1.5v.5h-1.5zM107 299.5h1.5v.5h-1.5zM117.5 299.5h1.5v.5h-1.5zM122 299.5h1.5v.5h-1.5zM29.5 300h62v.5h-62zM93.5 300h1.5v.5h-1.5zM95.5 300h3v.5h-3zM104.5 300h1.5v.5h-1.5zM117.5 300h1.5v.5h-1.5zM122 300h1.5v.5h-1.5zM29.5 300.5h62v.5h-62zM94 300.5h4.5v.5h-4.5zM116 300.5h1.5v.5h-1.5zM122 300.5h1.5v.5h-1.5zM29.5 301h60v.5h-60zM90 301h5.5v.5h-5.5zM97 301h2v.5h-2zM116 301h1.5v.5h-1.5zM29.5 301.5h58v.5h-58zM91 301.5h4.5v.5h-4.5zM97.5 301.5h1.5v.5h-1.5zM114 301.5h1.5v.5h-1.5zM116 301.5h1.5v.5h-1.5zM29.5 302h58.5v.5h-58.5zM89.5 302h4.5v.5h-4.5zM97.5 302h2.5v.5h-2.5zM102 302h1.5v.5h-1.5zM105 302h1.5v.5h-1.5zM114 302h1.5v.5h-1.5zM116 302h1.5v.5h-1.5zM29.5 302.5h58.5v.5h-58.5zM89.5 302.5h1.5v.5h-1.5zM97 302.5h3v.5h-3zM102 302.5h1.5v.5h-1.5zM105 302.5h1.5v.5h-1.5zM114 302.5h1.5v.5h-1.5zM116 302.5h1.5v.5h-1.5zM29.5 303h58.5v.5h-58.5zM89.5 303h1.5v.5h-1.5zM91.5 303h1.5v.5h-1.5zM97 303h3v.5h-3zM102 303h1.5v.5h-1.5zM104 303h2.5v.5h-2.5zM113 303h1.5v.5h-1.5zM116 303h1.5v.5h-1.5zM29.5 303.5h58v.5h-58zM90 303.5h3v.5h-3zM97 303.5h1.5v.5h-1.5zM99 303.5h1.5v.5h-1.5zM104 303.5h1.5v.5h-1.5zM113 303.5h1.5v.5h-1.5zM29.5 304h55.5v.5h-55.5zM86 304h2v.5h-2zM90 304h4v.5h-4zM94.5 304h1.5v.5h-1.5zM99 304h1.5v.5h-1.5zM104 304h1.5v.5h-1.5zM113 304h1.5v.5h-1.5zM29.5 304.5h53.5v.5h-53.5zM83.5 304.5h1.5v.5h-1.5zM86 304.5h2v.5h-2zM89.5 304.5h4.5v.5h-4.5zM94.5 304.5h3v.5h-3zM99 304.5h1.5v.5h-1.5zM109 304.5h1.5v.5h-1.5zM112 304.5h1.5v.5h-1.5zM126.5 304.5h1.5v.5h-1.5zM29.5 305h53.5v.5h-53.5zM86.5 305h2v.5h-2zM89.5 305h4.5v.5h-4.5zM94.5 305h3v.5h-3zM109 305h1.5v.5h-1.5zM112 305h1.5v.5h-1.5zM126.5 305h1.5v.5h-1.5zM29.5 305.5h53.5v.5h-53.5zM87 305.5h1.5v.5h-1.5zM89.5 305.5h3v.5h-3zM96 305.5h1.5v.5h-1.5zM98 305.5h1.5v.5h-1.5zM109 305.5h1.5v.5h-1.5zM112 305.5h1.5v.5h-1.5zM126.5 305.5h1.5v.5h-1.5zM29.5 306h53.5v.5h-53.5zM84.5 306h1.5v.5h-1.5zM87 306h5v.5h-5zM98 306h1.5v.5h-1.5zM101 306h1.5v.5h-1.5zM109 306h1.5v.5h-1.5zM29.5 306.5h53v.5h-53zM83.5 306.5h6.5v.5h-6.5zM90.5 306.5h1.5v.5h-1.5zM95 306.5h1.5v.5h-1.5zM98 306.5h1.5v.5h-1.5zM101 306.5h1.5v.5h-1.5zM109 306.5h1.5v.5h-1.5zM120 306.5h1.5v.5h-1.5zM29.5 307h53v.5h-53zM83 307h7v.5h-7zM95 307h1.5v.5h-1.5zM98 307h2v.5h-2zM101 307h1.5v.5h-1.5zM105.5 307h1.5v.5h-1.5zM109 307h1.5v.5h-1.5zM120 307h1.5v.5h-1.5zM29.5 307.5h53v.5h-53zM83 307.5h8.5v.5h-8.5zM92.5 307.5h1.5v.5h-1.5zM94.5 307.5h3v.5h-3zM98 307.5h2v.5h-2zM105.5 307.5h1.5v.5h-1.5zM120 307.5h1.5v.5h-1.5zM134 307.5h1.5v.5h-1.5zM29.5 308h52.5v.5h-52.5zM83 308h1.5v.5h-1.5zM85 308h1.5v.5h-1.5zM88.5 308h3v.5h-3zM92.5 308h1.5v.5h-1.5zM94.5 308h3v.5h-3zM98 308h2v.5h-2zM102 308h1.5v.5h-1.5zM105.5 308h1.5v.5h-1.5zM134 308h1.5v.5h-1.5zM29.5 308.5h52.5v.5h-52.5zM82.5 308.5h2v.5h-2zM88.5 308.5h3v.5h-3zM92.5 308.5h1.5v.5h-1.5zM94.5 308.5h3v.5h-3zM102 308.5h1.5v.5h-1.5zM105.5 308.5h1.5v.5h-1.5zM134 308.5h1.5v.5h-1.5zM29.5 309h52.5v.5h-52.5zM82.5 309h5v.5h-5zM88.5 309h3.5v.5h-3.5zM92.5 309h1.5v.5h-1.5zM102 309h1.5v.5h-1.5zM105.5 309h1.5v.5h-1.5zM29.5 309.5h13.5v.5h-13.5zM43.5 309.5h37.5v.5h-37.5zM82 309.5h6.5v.5h-6.5zM89.5 309.5h2.5v.5h-2.5zM113 309.5h1.5v.5h-1.5zM29.5 310h54v.5h-54zM84 310h4.5v.5h-4.5zM89.5 310h2.5v.5h-2.5zM113 310h1.5v.5h-1.5zM29.5 310.5h44v.5h-44zM74 310.5h11v.5h-11zM86 310.5h4v.5h-4zM90.5 310.5h1.5v.5h-1.5zM105 310.5h1.5v.5h-1.5zM113 310.5h1.5v.5h-1.5zM29.5 311h44v.5h-44zM74 311h8.5v.5h-8.5zM83.5 311h1.5v.5h-1.5zM86 311h4v.5h-4zM105 311h1.5v.5h-1.5zM29.5 311.5h43v.5h-43zM74 311.5h8.5v.5h-8.5zM83.5 311.5h1.5v.5h-1.5zM86 311.5h4v.5h-4zM103.5 311.5h3v.5h-3zM117.5 311.5h1.5v.5h-1.5zM29.5 312h43v.5h-43zM74 312h2.5v.5h-2.5zM86 312h2v.5h-2zM91.5 312h1.5v.5h-1.5zM103.5 312h1.5v.5h-1.5zM117.5 312h1.5v.5h-1.5zM29.5 312.5h43v.5h-43zM74 312.5h2.5v.5h-2.5zM81 312.5h2v.5h-2zM86 312.5h2v.5h-2zM91.5 312.5h1.5v.5h-1.5zM94.5 312.5h1.5v.5h-1.5zM101 312.5h1.5v.5h-1.5zM103.5 312.5h1.5v.5h-1.5zM117.5 312.5h1.5v.5h-1.5zM29.5 313h43v.5h-43zM74 313h2v.5h-2zM80.5 313h3v.5h-3zM87.5 313h2.5v.5h-2.5zM91.5 313h1.5v.5h-1.5zM94.5 313h1.5v.5h-1.5zM101 313h1.5v.5h-1.5zM29.5 313.5h42.5v.5h-42.5zM74.5 313.5h1.5v.5h-1.5zM80.5 313.5h5v.5h-5zM87.5 313.5h2.5v.5h-2.5zM92 313.5h1.5v.5h-1.5zM94.5 313.5h1.5v.5h-1.5zM101 313.5h1.5v.5h-1.5zM107.5 313.5h1.5v.5h-1.5zM29.5 314h41v.5h-41zM80.5 314h6v.5h-6zM87.5 314h2.5v.5h-2.5zM92 314h1.5v.5h-1.5zM96.5 314h1.5v.5h-1.5zM107.5 314h1.5v.5h-1.5zM29.5 314.5h38v.5h-38zM68 314.5h2.5v.5h-2.5zM74 314.5h1.5v.5h-1.5zM81.5 314.5h5v.5h-5zM91 314.5h2.5v.5h-2.5zM95.5 314.5h2.5v.5h-2.5zM107.5 314.5h1.5v.5h-1.5zM29.5 315h41v.5h-41zM74 315h1.5v.5h-1.5zM78 315h1.5v.5h-1.5zM83 315h3.5v.5h-3.5zM91 315h1.5v.5h-1.5zM95.5 315h2.5v.5h-2.5zM29.5 315.5h40v.5h-40zM74 315.5h1.5v.5h-1.5zM78 315.5h1.5v.5h-1.5zM83 315.5h3.5v.5h-3.5zM91 315.5h1.5v.5h-1.5zM95.5 315.5h1.5v.5h-1.5zM100.5 315.5h1.5v.5h-1.5zM29.5 316h40v.5h-40zM70 316h1.5v.5h-1.5zM77.5 316h2v.5h-2zM82 316h4.5v.5h-4.5zM87 316h1.5v.5h-1.5zM100.5 316h1.5v.5h-1.5zM105 316h1.5v.5h-1.5zM108 316h1.5v.5h-1.5zM29.5 316.5h38.5v.5h-38.5zM68.5 316.5h5v.5h-5zM77.5 316.5h3v.5h-3zM81.5 316.5h2v.5h-2zM87 316.5h1.5v.5h-1.5zM93 316.5h2v.5h-2zM100.5 316.5h1.5v.5h-1.5zM105 316.5h1.5v.5h-1.5zM108 316.5h1.5v.5h-1.5zM29.5 317h38.5v.5h-38.5zM68.5 317h5v.5h-5zM77.5 317h3v.5h-3zM81.5 317h2v.5h-2zM87 317h1.5v.5h-1.5zM93 317h2v.5h-2zM105 317h1.5v.5h-1.5zM108 317h1.5v.5h-1.5zM29.5 317.5h34v.5h-34zM64.5 317.5h2.5v.5h-2.5zM67.5 317.5h2.5v.5h-2.5zM71 317.5h2.5v.5h-2.5zM77 317.5h1.5v.5h-1.5zM79 317.5h2v.5h-2zM81.5 317.5h1.5v.5h-1.5zM89 317.5h1.5v.5h-1.5zM93 317.5h2v.5h-2zM29.5 318h34v.5h-34zM64.5 318h2.5v.5h-2.5zM67.5 318h2.5v.5h-2.5zM71 318h1.5v.5h-1.5zM73 318h1.5v.5h-1.5zM77 318h1.5v.5h-1.5zM79.5 318h3.5v.5h-3.5zM89 318h1.5v.5h-1.5zM29.5 318.5h33.5v.5h-33.5zM63.5 318.5h6.5v.5h-6.5zM71 318.5h1.5v.5h-1.5zM73 318.5h2v.5h-2zM77 318.5h1.5v.5h-1.5zM79 318.5h2.5v.5h-2.5zM89 318.5h1.5v.5h-1.5zM29.5 319h33.5v.5h-33.5zM63.5 319h4v.5h-4zM68.5 319h2v.5h-2zM71 319h4v.5h-4zM79 319h2.5v.5h-2.5zM87 319h1.5v.5h-1.5zM92.5 319h1.5v.5h-1.5zM29.5 319.5h33.5v.5h-33.5zM63.5 319.5h4v.5h-4zM69 319.5h1.5v.5h-1.5zM71.5 319.5h3.5v.5h-3.5zM79 319.5h1.5v.5h-1.5zM87 319.5h1.5v.5h-1.5zM91.5 319.5h2.5v.5h-2.5zM29.5 320h33.5v.5h-33.5zM63.5 320h3.5v.5h-3.5zM67.5 320h3v.5h-3zM71.5 320h3.5v.5h-3.5zM87 320h1.5v.5h-1.5zM91.5 320h2.5v.5h-2.5zM29.5 320.5h29.5v.5h-29.5zM59.5 320.5h3v.5h-3zM64 320.5h6.5v.5h-6.5zM73.5 320.5h1.5v.5h-1.5zM76.5 320.5h1.5v.5h-1.5zM81 320.5h1.5v.5h-1.5zM91.5 320.5h1.5v.5h-1.5zM29.5 321h29.5v.5h-29.5zM59.5 321h14v.5h-14zM76.5 321h1.5v.5h-1.5zM81 321h1.5v.5h-1.5zM29.5 321.5h29.5v.5h-29.5zM59.5 321.5h10v.5h-10zM70 321.5h5v.5h-5zM76.5 321.5h1.5v.5h-1.5zM81 321.5h1.5v.5h-1.5zM29.5 322h35v.5h-35zM66.5 322h3v.5h-3zM70 322h5v.5h-5zM87.5 322h1.5v.5h-1.5zM105 322h1.5v.5h-1.5zM29.5 322.5h27v.5h-27zM57 322.5h7.5v.5h-7.5zM66.5 322.5h3v.5h-3zM70.5 322.5h1.5v.5h-1.5zM72.5 322.5h2.5v.5h-2.5zM87.5 322.5h1.5v.5h-1.5zM105 322.5h1.5v.5h-1.5zM29.5 323h27v.5h-27zM57 323h2.5v.5h-2.5zM60.5 323h4v.5h-4zM66 323h3.5v.5h-3.5zM70.5 323h1.5v.5h-1.5zM72.5 323h1.5v.5h-1.5zM87.5 323h1.5v.5h-1.5zM105 323h1.5v.5h-1.5zM29.5 323.5h27v.5h-27zM57 323.5h3v.5h-3zM60.5 323.5h3.5v.5h-3.5zM66 323.5h1.5v.5h-1.5zM68 323.5h1.5v.5h-1.5zM71 323.5h4.5v.5h-4.5zM84.5 323.5h1.5v.5h-1.5zM29.5 324h27v.5h-27zM57 324h3v.5h-3zM60.5 324h5v.5h-5zM66 324h1.5v.5h-1.5zM68 324h1.5v.5h-1.5zM71 324h1.5v.5h-1.5zM74 324h2v.5h-2zM84.5 324h1.5v.5h-1.5zM29.5 324.5h27v.5h-27zM58.5 324.5h3v.5h-3zM62.5 324.5h3v.5h-3zM68 324.5h1.5v.5h-1.5zM71 324.5h5v.5h-5zM83.5 324.5h2.5v.5h-2.5zM29.5 325h27v.5h-27zM58.5 325h3v.5h-3zM62 325h3.5v.5h-3.5zM68 325h1.5v.5h-1.5zM72.5 325h1.5v.5h-1.5zM74.5 325h1.5v.5h-1.5zM83.5 325h1.5v.5h-1.5zM90.5 325h1.5v.5h-1.5zM29.5 325.5h26.5v.5h-26.5zM58.5 325.5h3v.5h-3zM62 325.5h3v.5h-3zM66 325.5h1.5v.5h-1.5zM68 325.5h1.5v.5h-1.5zM72 325.5h2v.5h-2zM83.5 325.5h1.5v.5h-1.5zM90.5 325.5h1.5v.5h-1.5zM104.5 325.5h1.5v.5h-1.5zM29.5 326h26.5v.5h-26.5zM58.5 326h2v.5h-2zM61 326h3v.5h-3zM66 326h1.5v.5h-1.5zM72 326h1.5v.5h-1.5zM90.5 326h1.5v.5h-1.5zM104.5 326h1.5v.5h-1.5zM29.5 326.5h26.5v.5h-26.5zM59 326.5h8.5v.5h-8.5zM72 326.5h2.5v.5h-2.5zM79.5 326.5h1.5v.5h-1.5zM83.5 326.5h1.5v.5h-1.5zM104.5 326.5h1.5v.5h-1.5zM29.5 327h26.5v.5h-26.5zM59.5 327h8v.5h-8zM72 327h2.5v.5h-2.5zM79.5 327h1.5v.5h-1.5zM83.5 327h1.5v.5h-1.5zM98.5 327h1.5v.5h-1.5zM29.5 327.5h23v.5h-23zM53.5 327.5h5v.5h-5zM59.5 327.5h1.5v.5h-1.5zM61.5 327.5h6.5v.5h-6.5zM72 327.5h2.5v.5h-2.5zM79.5 327.5h1.5v.5h-1.5zM83.5 327.5h1.5v.5h-1.5zM98.5 327.5h1.5v.5h-1.5zM29.5 328h23v.5h-23zM53.5 328h2v.5h-2zM56 328h2.5v.5h-2.5zM59 328h1.5v.5h-1.5zM62.5 328h1.5v.5h-1.5zM66.5 328h1.5v.5h-1.5zM70 328h1.5v.5h-1.5zM73 328h3v.5h-3zM98.5 328h1.5v.5h-1.5zM29.5 328.5h22.5v.5h-22.5zM53 328.5h2v.5h-2zM56 328.5h2.5v.5h-2.5zM59 328.5h1.5v.5h-1.5zM66 328.5h2v.5h-2zM70 328.5h1.5v.5h-1.5zM73 328.5h3v.5h-3zM80.5 328.5h1.5v.5h-1.5zM88.5 328.5h1.5v.5h-1.5zM96 328.5h1.5v.5h-1.5zM29.5 329h25v.5h-25zM56 329h2v.5h-2zM59 329h1.5v.5h-1.5zM66 329h1.5v.5h-1.5zM68.5 329h3v.5h-3zM73 329h3v.5h-3zM80.5 329h1.5v.5h-1.5zM83 329h1.5v.5h-1.5zM88.5 329h1.5v.5h-1.5zM96 329h1.5v.5h-1.5zM29.5 329.5h28.5v.5h-28.5zM60.5 329.5h1.5v.5h-1.5zM62.5 329.5h1.5v.5h-1.5zM66 329.5h1.5v.5h-1.5zM68.5 329.5h1.5v.5h-1.5zM78.5 329.5h1.5v.5h-1.5zM80.5 329.5h1.5v.5h-1.5zM83 329.5h1.5v.5h-1.5zM88.5 329.5h1.5v.5h-1.5zM96 329.5h1.5v.5h-1.5zM29.5 330h21v.5h-21zM51.5 330h4.5v.5h-4.5zM56.5 330h1.5v.5h-1.5zM58.5 330h1.5v.5h-1.5zM60.5 330h1.5v.5h-1.5zM62.5 330h1.5v.5h-1.5zM66 330h4v.5h-4zM78.5 330h1.5v.5h-1.5zM83 330h1.5v.5h-1.5zM29.5 330.5h21v.5h-21zM51.5 330.5h4.5v.5h-4.5zM58 330.5h2v.5h-2zM60.5 330.5h1.5v.5h-1.5zM62.5 330.5h6v.5h-6zM78.5 330.5h1.5v.5h-1.5zM29.5 331h21v.5h-21zM51 331h3v.5h-3zM58 331h2v.5h-2zM63.5 331h2.5v.5h-2.5zM67 331h1.5v.5h-1.5zM69 331h1.5v.5h-1.5zM83.5 331h1.5v.5h-1.5zM29.5 331.5h24.5v.5h-24.5zM58 331.5h1.5v.5h-1.5zM63.5 331.5h5v.5h-5zM69 331.5h1.5v.5h-1.5zM83.5 331.5h1.5v.5h-1.5zM29.5 332h25.5v.5h-25.5zM58 332h1.5v.5h-1.5zM66 332h2.5v.5h-2.5zM69 332h1.5v.5h-1.5zM71.5 332h1.5v.5h-1.5zM82 332h3v.5h-3zM29.5 332.5h25.5v.5h-25.5zM56 332.5h1.5v.5h-1.5zM58 332.5h2v.5h-2zM66 332.5h2.5v.5h-2.5zM71.5 332.5h1.5v.5h-1.5zM82 332.5h1.5v.5h-1.5zM90.5 332.5h1.5v.5h-1.5zM29.5 333h17v.5h-17zM47.5 333h7.5v.5h-7.5zM56 333h4v.5h-4zM71.5 333h1.5v.5h-1.5zM76 333h1.5v.5h-1.5zM81.5 333h2v.5h-2zM90.5 333h1.5v.5h-1.5zM103.5 333h1.5v.5h-1.5zM29.5 333.5h17v.5h-17zM47.5 333.5h5.5v.5h-5.5zM56 333.5h4v.5h-4zM71 333.5h2v.5h-2zM74.5 333.5h3v.5h-3zM81.5 333.5h1.5v.5h-1.5zM90.5 333.5h1.5v.5h-1.5zM103.5 333.5h1.5v.5h-1.5zM29.5 334h22v.5h-22zM52 334h1.5v.5h-1.5zM57 334h1.5v.5h-1.5zM60.5 334h2.5v.5h-2.5zM71 334h1.5v.5h-1.5zM74.5 334h4v.5h-4zM81.5 334h1.5v.5h-1.5zM85.5 334h1.5v.5h-1.5zM92 334h1.5v.5h-1.5zM103.5 334h1.5v.5h-1.5zM29.5 334.5h19.5v.5h-19.5zM49.5 334.5h1.5v.5h-1.5zM52 334.5h1.5v.5h-1.5zM55.5 334.5h1.5v.5h-1.5zM60.5 334.5h2.5v.5h-2.5zM71 334.5h1.5v.5h-1.5zM74.5 334.5h1.5v.5h-1.5zM77 334.5h1.5v.5h-1.5zM85.5 334.5h1.5v.5h-1.5zM92 334.5h1.5v.5h-1.5zM29.5 335h19.5v.5h-19.5zM49.5 335h1.5v.5h-1.5zM52 335h1.5v.5h-1.5zM55 335h3.5v.5h-3.5zM60.5 335h2.5v.5h-2.5zM68 335h1.5v.5h-1.5zM77 335h1.5v.5h-1.5zM85.5 335h1.5v.5h-1.5zM92 335h1.5v.5h-1.5zM29.5 335.5h15v.5h-15zM45 335.5h3.5v.5h-3.5zM49.5 335.5h1.5v.5h-1.5zM55 335.5h3.5v.5h-3.5zM61.5 335.5h1.5v.5h-1.5zM68 335.5h1.5v.5h-1.5zM72 335.5h1.5v.5h-1.5zM29.5 336h14.5v.5h-14.5zM45 336h3.5v.5h-3.5zM55 336h3.5v.5h-3.5zM61.5 336h1.5v.5h-1.5zM68 336h1.5v.5h-1.5zM72 336h1.5v.5h-1.5zM29.5 336.5h14.5v.5h-14.5zM45 336.5h3v.5h-3zM57 336.5h1.5v.5h-1.5zM61.5 336.5h1.5v.5h-1.5zM72 336.5h1.5v.5h-1.5z" fill="#fa0000"/>
<path d="M29.40 335.65a.95 .95 0 1 0 1.9 0a.95 .95 0 1 0 -1.9 0M32.03 333.03a.95 .95 0 1 0 1.9 0a.95 .95 0 1 0 -1.9 0M34.67 330.40a.95 .95 0 1 0 1.9 0a.95 .95 0 1 0 -1.9 0M37.30 327.77a.95 .95 0 1 0 1.9 0a.95 .95 0 1 0 -1.9 0M39.94 325.14a.95 .95 0 1 0 1.9 0a.95 .95 0 1 0 -1.9 0M42.57 322.52a.95 .95 0 1 0 1.9 0a.95 .95 0 1 0 -1.9 0M45.20 319.89a.95 .95 0 1 0 1.9 0a.95 .95 0 1 0 -1.9 0M47.84 317.26a.95 .95 0 1 0 1.9 0a.95 .95 0 1 0 -1.9 0M50.47 314.64a.95 .95 0 1 0 1.9 0a.95 .95 0 1 0 -1.9 0M53.11 312.01a.95 .95 0 1 0 1.9 0a.95 .95 0 1 0 -1.9 0M55.74 309.38a.95 .95 0 1 0 1.9 0a.95 .95 0 1 0 -1.9 0M58.37 306.76a.95 .95 0 1 0 1.9 0a.95 .95 0 1 0 -1.9 0M61.01 304.13a.95 .95 0 1 0 1.9 0a.95 .95 0 1 0 -1.9 0M63.64 301.50a.95 .95 0 1 0 1.9 0a.95 .95 0 1 0 -1.9 0M66.27 298.88a.95 .95 0 1 0 1.9 0a.95 .95 0 1 0 -1.9 0M68.91 296.25a.95 .95 0 1 0 1.9 0a.95 .95 0 1 0 -1.9 0M71.54 293.62a.95 .95 0 1 0 1.9 0a.95 .95 0 1 0 -1.9 0M74.18 290.99a.95 .95 0 1 0 1.9 0a.95 .95 0 1 0 -1.9 0M76.81 288.37a.95 .95 0 1 0 1.9 0a.95 .95 0 1 0 -1.9 0M79.44 285.74a.95 .95 0 1 0 1.9 0a.95 .95 0 1 0 -1.9 0M82.08 283.11a.95 .95 0 1 0 1.9 0a.95 .95 0 1 0 -1.9 0M84.71 280.49a.95 .95 0 1 0 1.9 0a.95 .95 0 1 0 -1.9 0M87.35 277.86a.95 .95 0 1 0 1.9 0a.95 .95 0 1 0 -1.9 0M89.98 275.23a.95 .95 0 1 0 1.9 0a.95 .95 0 1 0 -1.9 0M92.61 272.61a.95 .95 0 1 0 1.9 0a.95 .95 0 1 0 -1.9 0M95.25 269.98a.95 .95 0 1 0 1.9 0a.95 .95 0 1 0 -1.9 0M97.88 267.35a.95 .95 0 1 0 1.9 0a.95 .95 0 1 0 -1.9 0M100.52 264.73a.95 .95 0 1 0 1.9 0a.95 .95 0 1 0 -1.9 0M103.15 262.10a.95 .95 0 1 0 1.9 0a.95 .95 0 1 0 -1.9 0M105.78 259.47a.95 .95 0 1 0 1.9 0a.95 .95 0 1 0 -1.9 0M108.42 256.85a.95 .95 0 1 0 1.9 0a.95 .95 0 1 0 -1.9 0M111.05 254.22a.95 .95 0 1 0 1.9 0a.95 .95 0 1 0 -1.9 0M113.69 251.59a.95 .95 0 1 0 1.9 0a.95 .95 0 1 0 -1.9 0M116.32 248.96a.95 .95 0 1 0 1.9 0a.95 .95 0 1 0 -1.9 0M118.95 246.34a.95 .95 0 1 0 1.9 0a.95 .95 0 1 0 -1.9 0M121.59 243.71a.95 .95 0 1 0 1.9 0a.95 .95 0 1 0 -1.9 0M124.22 241.08a.95 .95 0 1 0 1.9 0a.95 .95 0 1 0 -1.9 0M126.86 238.46a.95 .95 0 1 0 1.9 0a.95 .95 0 1 0 -1.9 0M129.49 235.83a.95 .95 0 1 0 1.9 0a.95 .95 0 1 0 -1.9 0M132.12 233.20a.95 .95 0 1 0 1.9 0a.95 .95 0 1 0 -1.9 0M134.76 230.58a.95 .95 0 1 0 1.9 0a.95 .95 0 1 0 -1.9 0M137.39 227.95a.95 .95 0 1 0 1.9 0a.95 .95 0 1 0 -1.9 0M140.03 225.32a.95 .95 0 1 0 1.9 0a.95 .95 0 1 0 -1.9 0" fill="#fcd4d4"/>
<line x1="29.5" y1="223.8" x2="29.5" y2="337.1" stroke="#111" stroke-width="1.3" />
<line x1="28.9" y1="336.5" x2="142.5" y2="336.5" stroke="#111" stroke-width="1.3" />
<line x1="26.0" y1="336.5" x2="29.5" y2="336.5" stroke="#111" stroke-width="1.2" />
<line x1="29.5" y1="336.5" x2="29.5" y2="339.8" stroke="#111" stroke-width="1.2" />
<text x="25.2" y="338.55" font-size="7.3" font-weight="bold" text-anchor="end" fill="#111" >0.0</text>
<text x="29.5" y="348.1" font-size="7.3" font-weight="bold" text-anchor="middle" fill="#111" >0.0</text>
<line x1="26.0" y1="314.08" x2="29.5" y2="314.08" stroke="#111" stroke-width="1.2" />
<line x1="51.980000000000004" y1="336.5" x2="51.980000000000004" y2="339.8" stroke="#111" stroke-width="1.2" />
<text x="25.2" y="316.13" font-size="7.3" font-weight="bold" text-anchor="end" fill="#111" >0.2</text>
<text x="51.98" y="348.1" font-size="7.3" font-weight="bold" text-anchor="middle" fill="#111" >0.2</text>
<line x1="26.0" y1="291.65999999999997" x2="29.5" y2="291.65999999999997" stroke="#111" stroke-width="1.2" />
<line x1="74.46000000000001" y1="336.5" x2="74.46000000000001" y2="339.8" stroke="#111" stroke-width="1.2" />
<text x="25.2" y="293.71" font-size="7.3" font-weight="bold" text-anchor="end" fill="#111" >0.4</text>
<text x="74.46" y="348.1" font-size="7.3" font-weight="bold" text-anchor="middle" fill="#111" >0.4</text>
<line x1="26.0" y1="269.24" x2="29.5" y2="269.24" stroke="#111" stroke-width="1.2" />
<line x1="96.94000000000001" y1="336.5" x2="96.94000000000001" y2="339.8" stroke="#111" stroke-width="1.2" />
<text x="25.2" y="271.29" font-size="7.3" font-weight="bold" text-anchor="end" fill="#111" >0.6</text>
<text x="96.94" y="348.1" font-size="7.3" font-weight="bold" text-anchor="middle" fill="#111" >0.6</text>
<line x1="26.0" y1="246.82" x2="29.5" y2="246.82" stroke="#111" stroke-width="1.2" />
<line x1="119.42000000000002" y1="336.5" x2="119.42000000000002" y2="339.8" stroke="#111" stroke-width="1.2" />
<text x="25.2" y="248.87" font-size="7.3" font-weight="bold" text-anchor="end" fill="#111" >0.8</text>
<text x="119.42" y="348.1" font-size="7.3" font-weight="bold" text-anchor="middle" fill="#111" >0.8</text>
<line x1="26.0" y1="224.4" x2="29.5" y2="224.4" stroke="#111" stroke-width="1.2" />
<line x1="141.9" y1="336.5" x2="141.9" y2="339.8" stroke="#111" stroke-width="1.2" />
<text x="25.2" y="226.45" font-size="7.3" font-weight="bold" text-anchor="end" fill="#111" >1.0</text>
<text x="141.9" y="348.1" font-size="7.3" font-weight="bold" text-anchor="middle" fill="#111" >1.0</text>
<text x="85.7" y="360.0" font-size="8.6" font-weight="bold" text-anchor="middle" fill="#111" >Normal</text>
<text x="0" y="0" font-size="9.0" font-weight="bold" text-anchor="middle" fill="#111" transform="translate(8.100000000000001 280.45) rotate(-90)">Type2</text>
<path d="M189 224h1.5v.5h-1.5zM192 224h1.5v.5h-1.5zM203.5 224h1.5v.5h-1.5zM219.5 224h1.5v.5h-1.5zM237.5 224h1.5v.5h-1.5zM242.5 224h2v.5h-2zM253.5 224h2v.5h-2zM257.5 224h1.5v.5h-1.5zM262.5 224h1.5v.5h-1.5zM271.5 224h2v.5h-2zM284.5 224h1.5v.5h-1.5zM287.5 224h1.5v.5h-1.5zM290 224h5.5v.5h-5.5zM296 224h3.5v.5h-3.5zM189 224.5h1.5v.5h-1.5zM192 224.5h1.5v.5h-1.5zM203.5 224.5h1.5v.5h-1.5zM219.5 224.5h1.5v.5h-1.5zM233.5 224.5h1.5v.5h-1.5zM237.5 224.5h1.5v.5h-1.5zM242.5 224.5h2v.5h-2zM253.5 224.5h3v.5h-3zM257.5 224.5h2v.5h-2zM262.5 224.5h1.5v.5h-1.5zM269.5 224.5h5v.5h-5zM276.5 224.5h1.5v.5h-1.5zM281.5 224.5h1.5v.5h-1.5zM284.5 224.5h4.5v.5h-4.5zM289.5 224.5h10v.5h-10zM189 225h1.5v.5h-1.5zM192 225h1.5v.5h-1.5zM203.5 225h1.5v.5h-1.5zM219.5 225h1.5v.5h-1.5zM233.5 225h1.5v.5h-1.5zM237.5 225h1.5v.5h-1.5zM242.5 225h2v.5h-2zM254 225h2.5v.5h-2.5zM257.5 225h2v.5h-2zM261 225h3v.5h-3zM264.5 225h1.5v.5h-1.5zM269.5 225h6v.5h-6zM276.5 225h1.5v.5h-1.5zM281.5 225h18v.5h-18zM233.5 225.5h1.5v.5h-1.5zM237 225.5h1.5v.5h-1.5zM239.5 225.5h1.5v.5h-1.5zM244.5 225.5h1.5v.5h-1.5zM255 225.5h1.5v.5h-1.5zM258 225.5h1.5v.5h-1.5zM260.5 225.5h2.5v.5h-2.5zM264.5 225.5h1.5v.5h-1.5zM269.5 225.5h2.5v.5h-2.5zM272.5 225.5h3.5v.5h-3.5zM276.5 225.5h4v.5h-4zM281.5 225.5h3v.5h-3zM285 225.5h14.5v.5h-14.5zM190.5 226h1.5v.5h-1.5zM220 226h1.5v.5h-1.5zM237 226h1.5v.5h-1.5zM239.5 226h3v.5h-3zM244.5 226h1.5v.5h-1.5zM258.5 226h4.5v.5h-4.5zM264.5 226h2v.5h-2zM270.5 226h10v.5h-10zM283 226h2v.5h-2zM286 226h1.5v.5h-1.5zM288 226h11.5v.5h-11.5zM190.5 226.5h1.5v.5h-1.5zM212.5 226.5h1.5v.5h-1.5zM220 226.5h1.5v.5h-1.5zM236 226.5h2.5v.5h-2.5zM239.5 226.5h3v.5h-3zM244.5 226.5h1.5v.5h-1.5zM246.5 226.5h1.5v.5h-1.5zM255 226.5h1.5v.5h-1.5zM258 226.5h5.5v.5h-5.5zM265 226.5h1.5v.5h-1.5zM270.5 226.5h10v.5h-10zM283 226.5h3v.5h-3zM287 226.5h12.5v.5h-12.5zM190.5 227h1.5v.5h-1.5zM209.5 227h1.5v.5h-1.5zM212.5 227h1.5v.5h-1.5zM220 227h1.5v.5h-1.5zM226 227h1.5v.5h-1.5zM236 227h2.5v.5h-2.5zM240 227h2.5v.5h-2.5zM246.5 227h1.5v.5h-1.5zM250.5 227h1.5v.5h-1.5zM255 227h2.5v.5h-2.5zM258 227h8.5v.5h-8.5zM267 227h2.5v.5h-2.5zM270 227h4.5v.5h-4.5zM275 227h3.5v.5h-3.5zM279 227h1.5v.5h-1.5zM281.5 227h18v.5h-18zM209.5 227.5h1.5v.5h-1.5zM212.5 227.5h1.5v.5h-1.5zM226 227.5h1.5v.5h-1.5zM229 227.5h1.5v.5h-1.5zM236 227.5h5.5v.5h-5.5zM242 227.5h1.5v.5h-1.5zM246.5 227.5h1.5v.5h-1.5zM250.5 227.5h3v.5h-3zM255 227.5h2.5v.5h-2.5zM258 227.5h1.5v.5h-1.5zM260.5 227.5h9v.5h-9zM270 227.5h4.5v.5h-4.5zM275.5 227.5h3v.5h-3zM279 227.5h2v.5h-2zM281.5 227.5h1.5v.5h-1.5zM283.5 227.5h16v.5h-16zM209.5 228h1.5v.5h-1.5zM226 228h1.5v.5h-1.5zM229 228h1.5v.5h-1.5zM235 228h5v.5h-5zM242 228h1.5v.5h-1.5zM246.5 228h1.5v.5h-1.5zM250.5 228h3v.5h-3zM256 228h1.5v.5h-1.5zM258 228h1.5v.5h-1.5zM260.5 228h5.5v.5h-5.5zM266.5 228h8v.5h-8zM275.5 228h3v.5h-3zM279 228h20.5v.5h-20.5zM194 228.5h1.5v.5h-1.5zM196 228.5h1.5v.5h-1.5zM229 228.5h1.5v.5h-1.5zM235 228.5h2.5v.5h-2.5zM238.5 228.5h1.5v.5h-1.5zM242 228.5h1.5v.5h-1.5zM244 228.5h1.5v.5h-1.5zM246.5 228.5h1.5v.5h-1.5zM252 228.5h1.5v.5h-1.5zM258 228.5h1.5v.5h-1.5zM260 228.5h10v.5h-10zM271 228.5h3.5v.5h-3.5zM275.5 228.5h3v.5h-3zM279 228.5h20.5v.5h-20.5zM194 229h1.5v.5h-1.5zM196 229h1.5v.5h-1.5zM219.5 229h1.5v.5h-1.5zM229 229h1.5v.5h-1.5zM235 229h2.5v.5h-2.5zM244 229h1.5v.5h-1.5zM246.5 229h1.5v.5h-1.5zM254 229h1.5v.5h-1.5zM258.5 229h6v.5h-6zM266 229h4v.5h-4zM271 229h2.5v.5h-2.5zM275 229h24.5v.5h-24.5zM194 229.5h1.5v.5h-1.5zM196 229.5h1.5v.5h-1.5zM219.5 229.5h1.5v.5h-1.5zM233 229.5h1.5v.5h-1.5zM236 229.5h1.5v.5h-1.5zM244 229.5h1.5v.5h-1.5zM252.5 229.5h3v.5h-3zM258.5 229.5h6v.5h-6zM266 229.5h2v.5h-2zM268.5 229.5h1.5v.5h-1.5zM271.5 229.5h2v.5h-2zM274 229.5h25v.5h-25zM219 230h2v.5h-2zM233 230h1.5v.5h-1.5zM235.5 230h2v.5h-2zM252.5 230h3v.5h-3zM258.5 230h6v.5h-6zM265.5 230h8v.5h-8zM274 230h24.5v.5h-24.5zM187.5 230.5h1.5v.5h-1.5zM214 230.5h1.5v.5h-1.5zM219 230.5h1.5v.5h-1.5zM228.5 230.5h1.5v.5h-1.5zM233 230.5h1.5v.5h-1.5zM235.5 230.5h2v.5h-2zM245.5 230.5h1.5v.5h-1.5zM252.5 230.5h1.5v.5h-1.5zM258.5 230.5h6v.5h-6zM265.5 230.5h3.5v.5h-3.5zM269.5 230.5h4v.5h-4zM274 230.5h24.5v.5h-24.5zM187.5 231h1.5v.5h-1.5zM208 231h1.5v.5h-1.5zM214 231h1.5v.5h-1.5zM216.5 231h1.5v.5h-1.5zM219 231h1.5v.5h-1.5zM226 231h1.5v.5h-1.5zM228.5 231h1.5v.5h-1.5zM232.5 231h1.5v.5h-1.5zM235.5 231h2v.5h-2zM240.5 231h1.5v.5h-1.5zM245.5 231h1.5v.5h-1.5zM252.5 231h3v.5h-3zM256 231h1.5v.5h-1.5zM258.5 231h6.5v.5h-6.5zM265.5 231h8v.5h-8zM274.5 231h23.5v.5h-23.5zM187.5 231.5h1.5v.5h-1.5zM200.5 231.5h1.5v.5h-1.5zM208 231.5h1.5v.5h-1.5zM214 231.5h1.5v.5h-1.5zM216.5 231.5h1.5v.5h-1.5zM220 231.5h3.5v.5h-3.5zM226 231.5h1.5v.5h-1.5zM228.5 231.5h1.5v.5h-1.5zM231 231.5h3v.5h-3zM236 231.5h1.5v.5h-1.5zM240.5 231.5h1.5v.5h-1.5zM244.5 231.5h5.5v.5h-5.5zM254 231.5h4v.5h-4zM262.5 231.5h2.5v.5h-2.5zM265.5 231.5h4.5v.5h-4.5zM271 231.5h27v.5h-27zM200.5 232h1.5v.5h-1.5zM203 232h1.5v.5h-1.5zM208 232h1.5v.5h-1.5zM216.5 232h1.5v.5h-1.5zM220 232h3.5v.5h-3.5zM226 232h1.5v.5h-1.5zM229.5 232h5v.5h-5zM238.5 232h3.5v.5h-3.5zM244.5 232h1.5v.5h-1.5zM247 232h3v.5h-3zM250.5 232h1.5v.5h-1.5zM253.5 232h4.5v.5h-4.5zM259.5 232h5.5v.5h-5.5zM265.5 232h32v.5h-32zM200.5 232.5h1.5v.5h-1.5zM203 232.5h1.5v.5h-1.5zM216 232.5h1.5v.5h-1.5zM220 232.5h3.5v.5h-3.5zM229.5 232.5h5v.5h-5zM237 232.5h4v.5h-4zM243.5 232.5h8.5v.5h-8.5zM253.5 232.5h4.5v.5h-4.5zM259.5 232.5h5.5v.5h-5.5zM269.5 232.5h29v.5h-29zM203 233h1.5v.5h-1.5zM216 233h1.5v.5h-1.5zM219.5 233h3v.5h-3zM229.5 233h1.5v.5h-1.5zM232 233h2.5v.5h-2.5zM237 233h4v.5h-4zM243.5 233h4v.5h-4zM250 233h2v.5h-2zM253.5 233h4.5v.5h-4.5zM259.5 233h3v.5h-3zM263.5 233h1.5v.5h-1.5zM266 233h1.5v.5h-1.5zM268.5 233h30v.5h-30zM193.5 233.5h1.5v.5h-1.5zM201 233.5h1.5v.5h-1.5zM216 233.5h1.5v.5h-1.5zM219.5 233.5h3v.5h-3zM228.5 233.5h1.5v.5h-1.5zM232 233.5h1.5v.5h-1.5zM237 233.5h4v.5h-4zM242.5 233.5h5v.5h-5zM248.5 233.5h3v.5h-3zM252.5 233.5h1.5v.5h-1.5zM255 233.5h4.5v.5h-4.5zM260.5 233.5h1.5v.5h-1.5zM263.5 233.5h4v.5h-4zM268 233.5h30.5v.5h-30.5zM193.5 234h1.5v.5h-1.5zM196.5 234h3v.5h-3zM201 234h1.5v.5h-1.5zM208 234h1.5v.5h-1.5zM216 234h1.5v.5h-1.5zM219.5 234h3v.5h-3zM225.5 234h1.5v.5h-1.5zM228.5 234h1.5v.5h-1.5zM231 234h1.5v.5h-1.5zM237.5 234h3.5v.5h-3.5zM242.5 234h2.5v.5h-2.5zM246 234h1.5v.5h-1.5zM248.5 234h3v.5h-3zM252.5 234h1.5v.5h-1.5zM255 234h2v.5h-2zM258 234h2v.5h-2zM263 234h33.5v.5h-33.5zM193.5 234.5h1.5v.5h-1.5zM196.5 234.5h3v.5h-3zM201 234.5h1.5v.5h-1.5zM204 234.5h1.5v.5h-1.5zM208 234.5h1.5v.5h-1.5zM216 234.5h1.5v.5h-1.5zM218 234.5h1.5v.5h-1.5zM225.5 234.5h1.5v.5h-1.5zM228.5 234.5h1.5v.5h-1.5zM231 234.5h1.5v.5h-1.5zM237.5 234.5h3.5v.5h-3.5zM242.5 234.5h2.5v.5h-2.5zM248.5 234.5h1.5v.5h-1.5zM252.5 234.5h1.5v.5h-1.5zM255.5 234.5h1.5v.5h-1.5zM258 234.5h2v.5h-2zM263 234.5h33v.5h-33zM196.5 235h3v.5h-3zM204 235h1.5v.5h-1.5zM208 235h1.5v.5h-1.5zM211 235h1.5v.5h-1.5zM213 235h2.5v.5h-2.5zM216 235h3.5v.5h-3.5zM222.5 235h1.5v.5h-1.5zM225.5 235h1.5v.5h-1.5zM231 235h1.5v.5h-1.5zM237.5 235h2v.5h-2zM240 235h1.5v.5h-1.5zM243.5 235h7v.5h-7zM251 235h4.5v.5h-4.5zM257.5 235h2.5v.5h-2.5zM260.5 235h1.5v.5h-1.5zM263 235h33v.5h-33zM204 235.5h1.5v.5h-1.5zM211 235.5h1.5v.5h-1.5zM213 235.5h3v.5h-3zM217 235.5h2.5v.5h-2.5zM221 235.5h3v.5h-3zM225.5 235.5h1.5v.5h-1.5zM237.5 235.5h1.5v.5h-1.5zM240 235.5h1.5v.5h-1.5zM245 235.5h10.5v.5h-10.5zM256.5 235.5h2.5v.5h-2.5zM260.5 235.5h1.5v.5h-1.5zM263.5 235.5h34v.5h-34zM191 236h1.5v.5h-1.5zM211 236h1.5v.5h-1.5zM213 236h3v.5h-3zM217 236h1.5v.5h-1.5zM221 236h3v.5h-3zM225.5 236h1.5v.5h-1.5zM227.5 236h3v.5h-3zM231 236h1.5v.5h-1.5zM237.5 236h1.5v.5h-1.5zM240 236h1.5v.5h-1.5zM244 236h12v.5h-12zM256.5 236h2.5v.5h-2.5zM260.5 236h38.5v.5h-38.5zM191 236.5h1.5v.5h-1.5zM214.5 236.5h1.5v.5h-1.5zM221 236.5h2v.5h-2zM225.5 236.5h1.5v.5h-1.5zM227.5 236.5h3v.5h-3zM231 236.5h1.5v.5h-1.5zM234 236.5h1.5v.5h-1.5zM237.5 236.5h1.5v.5h-1.5zM240.5 236.5h15.5v.5h-15.5zM256.5 236.5h1.5v.5h-1.5zM258.5 236.5h1.5v.5h-1.5zM261 236.5h38v.5h-38zM191 237h1.5v.5h-1.5zM202 237h1.5v.5h-1.5zM221.5 237h1.5v.5h-1.5zM227.5 237h3v.5h-3zM231 237h5.5v.5h-5.5zM237.5 237h1.5v.5h-1.5zM240.5 237h5v.5h-5zM247 237h4v.5h-4zM251.5 237h44.5v.5h-44.5zM297.5 237h1.5v.5h-1.5zM193 237.5h1.5v.5h-1.5zM200 237.5h1.5v.5h-1.5zM202 237.5h1.5v.5h-1.5zM209.5 237.5h1.5v.5h-1.5zM221.5 237.5h3v.5h-3zM232.5 237.5h4v.5h-4zM237.5 237.5h1.5v.5h-1.5zM240.5 237.5h4v.5h-4zM245.5 237.5h3v.5h-3zM249 237.5h2v.5h-2zM251.5 237.5h1.5v.5h-1.5zM253.5 237.5h43v.5h-43zM193 238h1.5v.5h-1.5zM195 238h1.5v.5h-1.5zM200 238h3.5v.5h-3.5zM209.5 238h1.5v.5h-1.5zM222 238h2.5v.5h-2.5zM226 238h1.5v.5h-1.5zM232.5 238h1.5v.5h-1.5zM234.5 238h2v.5h-2zM238.5 238h5v.5h-5zM245.5 238h1.5v.5h-1.5zM248.5 238h46v.5h-46zM295 238h1.5v.5h-1.5zM193 238.5h1.5v.5h-1.5zM195 238.5h1.5v.5h-1.5zM200 238.5h2v.5h-2zM206.5 238.5h1.5v.5h-1.5zM209.5 238.5h1.5v.5h-1.5zM217.5 238.5h1.5v.5h-1.5zM222 238.5h2.5v.5h-2.5zM225 238.5h5v.5h-5zM232.5 238.5h1.5v.5h-1.5zM235 238.5h1.5v.5h-1.5zM238.5 238.5h4v.5h-4zM245.5 238.5h1.5v.5h-1.5zM248.5 238.5h4v.5h-4zM253 238.5h41v.5h-41zM295 238.5h1.5v.5h-1.5zM297 238.5h1.5v.5h-1.5zM195 239h1.5v.5h-1.5zM198 239h1.5v.5h-1.5zM200.5 239h1.5v.5h-1.5zM206.5 239h1.5v.5h-1.5zM217.5 239h1.5v.5h-1.5zM225 239h5v.5h-5zM232.5 239h1.5v.5h-1.5zM238.5 239h4v.5h-4zM245 239h1.5v.5h-1.5zM248.5 239h1.5v.5h-1.5zM251 239h1.5v.5h-1.5zM253 239h41v.5h-41zM297 239h1.5v.5h-1.5zM198 239.5h1.5v.5h-1.5zM200.5 239.5h3v.5h-3zM206.5 239.5h1.5v.5h-1.5zM217.5 239.5h1.5v.5h-1.5zM225 239.5h5v.5h-5zM232.5 239.5h1.5v.5h-1.5zM236.5 239.5h1.5v.5h-1.5zM239 239.5h3v.5h-3zM242.5 239.5h1.5v.5h-1.5zM245 239.5h1.5v.5h-1.5zM254 239.5h40v.5h-40zM297 239.5h1.5v.5h-1.5zM195 240h1.5v.5h-1.5zM198 240h1.5v.5h-1.5zM200.5 240h3v.5h-3zM213.5 240h1.5v.5h-1.5zM217.5 240h1.5v.5h-1.5zM226.5 240h1.5v.5h-1.5zM230 240h1.5v.5h-1.5zM232.5 240h1.5v.5h-1.5zM236.5 240h2.5v.5h-2.5zM239.5 240h2.5v.5h-2.5zM242.5 240h5.5v.5h-5.5zM248.5 240h1.5v.5h-1.5zM253.5 240h41.5v.5h-41.5zM297.5 240h1.5v.5h-1.5zM195 240.5h1.5v.5h-1.5zM200 240.5h3.5v.5h-3.5zM213.5 240.5h1.5v.5h-1.5zM217.5 240.5h1.5v.5h-1.5zM226.5 240.5h1.5v.5h-1.5zM228.5 240.5h5.5v.5h-5.5zM236.5 240.5h2.5v.5h-2.5zM240 240.5h8v.5h-8zM248.5 240.5h1.5v.5h-1.5zM252 240.5h41v.5h-41zM293.5 240.5h1.5v.5h-1.5zM297.5 240.5h1.5v.5h-1.5zM195 241h1.5v.5h-1.5zM200 241h2.5v.5h-2.5zM213 241h2v.5h-2zM218.5 241h1.5v.5h-1.5zM221.5 241h1.5v.5h-1.5zM227 241h5.5v.5h-5.5zM236 241h7v.5h-7zM244 241h4v.5h-4zM248.5 241h44.5v.5h-44.5zM293.5 241h1.5v.5h-1.5zM297.5 241h1.5v.5h-1.5zM195 241.5h1.5v.5h-1.5zM200 241.5h2.5v.5h-2.5zM207.5 241.5h1.5v.5h-1.5zM213 241.5h2.5v.5h-2.5zM218.5 241.5h1.5v.5h-1.5zM221.5 241.5h2v.5h-2zM227 241.5h3v.5h-3zM231 241.5h12v.5h-12zM243.5 241.5h5.5v.5h-5.5zM249.5 241.5h44.5v.5h-44.5zM195 242h1.5v.5h-1.5zM197.5 242h2v.5h-2zM201 242h1.5v.5h-1.5zM207.5 242h1.5v.5h-1.5zM213 242h4v.5h-4zM218.5 242h1.5v.5h-1.5zM221.5 242h2v.5h-2zM224.5 242h5v.5h-5zM232 242h8v.5h-8zM241 242h2v.5h-2zM243.5 242h3v.5h-3zM247.5 242h47v.5h-47zM196.5 242.5h3v.5h-3zM200.5 242.5h1.5v.5h-1.5zM207.5 242.5h1.5v.5h-1.5zM212 242.5h5v.5h-5zM220.5 242.5h3v.5h-3zM224.5 242.5h3v.5h-3zM231 242.5h5.5v.5h-5.5zM237 242.5h1.5v.5h-1.5zM242 242.5h4v.5h-4zM247 242.5h47.5v.5h-47.5zM196.5 243h3v.5h-3zM200.5 243h1.5v.5h-1.5zM209 243h1.5v.5h-1.5zM212 243h3v.5h-3zM215.5 243h1.5v.5h-1.5zM220.5 243h3v.5h-3zM224 243h3.5v.5h-3.5zM231 243h5v.5h-5zM237 243h3v.5h-3zM242 243h1.5v.5h-1.5zM244.5 243h47.5v.5h-47.5zM292.5 243h3v.5h-3zM196.5 243.5h1.5v.5h-1.5zM200.5 243.5h1.5v.5h-1.5zM209 243.5h1.5v.5h-1.5zM212 243.5h3v.5h-3zM220.5 243.5h1.5v.5h-1.5zM224 243.5h2v.5h-2zM226.5 243.5h2v.5h-2zM231 243.5h3.5v.5h-3.5zM236 243.5h4v.5h-4zM241 243.5h2.5v.5h-2.5zM244.5 243.5h47.5v.5h-47.5zM292.5 243.5h4v.5h-4zM204.5 244h1.5v.5h-1.5zM209 244h1.5v.5h-1.5zM216.5 244h2.5v.5h-2.5zM221 244h1.5v.5h-1.5zM224 244h2v.5h-2zM226.5 244h2v.5h-2zM229 244h5.5v.5h-5.5zM236 244h4v.5h-4zM241 244h2v.5h-2zM244 244h48v.5h-48zM294 244h2.5v.5h-2.5zM297.5 244h1.5v.5h-1.5zM195.5 244.5h1.5v.5h-1.5zM204.5 244.5h3v.5h-3zM210 244.5h1.5v.5h-1.5zM215 244.5h4v.5h-4zM220.5 244.5h2v.5h-2zM224 244.5h4.5v.5h-4.5zM229 244.5h4.5v.5h-4.5zM236 244.5h1.5v.5h-1.5zM238 244.5h2v.5h-2zM241 244.5h51v.5h-51zM294 244.5h2.5v.5h-2.5zM297.5 244.5h1.5v.5h-1.5zM195.5 245h1.5v.5h-1.5zM204.5 245h3v.5h-3zM208.5 245h3v.5h-3zM215 245h8.5v.5h-8.5zM224.5 245h2v.5h-2zM228.5 245h3.5v.5h-3.5zM234.5 245h1.5v.5h-1.5zM238 245h2v.5h-2zM240.5 245h51v.5h-51zM294 245h2.5v.5h-2.5zM297.5 245h1.5v.5h-1.5zM195.5 245.5h1.5v.5h-1.5zM197.5 245.5h1.5v.5h-1.5zM206 245.5h2v.5h-2zM208.5 245.5h3v.5h-3zM215 245.5h8.5v.5h-8.5zM224.5 245.5h2.5v.5h-2.5zM228.5 245.5h1.5v.5h-1.5zM230.5 245.5h1.5v.5h-1.5zM234.5 245.5h1.5v.5h-1.5zM236.5 245.5h1.5v.5h-1.5zM238.5 245.5h53v.5h-53zM294 245.5h4v.5h-4zM187.5 246h1.5v.5h-1.5zM195 246h2v.5h-2zM197.5 246h1.5v.5h-1.5zM201 246h1.5v.5h-1.5zM203.5 246h1.5v.5h-1.5zM206.5 246h3.5v.5h-3.5zM214 246h1.5v.5h-1.5zM216 246h1.5v.5h-1.5zM219 246h8v.5h-8zM228.5 246h1.5v.5h-1.5zM230.5 246h1.5v.5h-1.5zM232.5 246h1.5v.5h-1.5zM234.5 246h57v.5h-57zM294 246h2v.5h-2zM296.5 246h1.5v.5h-1.5zM187.5 246.5h1.5v.5h-1.5zM193.5 246.5h3.5v.5h-3.5zM197.5 246.5h2.5v.5h-2.5zM201 246.5h1.5v.5h-1.5zM203.5 246.5h1.5v.5h-1.5zM206.5 246.5h3v.5h-3zM211 246.5h1.5v.5h-1.5zM214 246.5h1.5v.5h-1.5zM216 246.5h1.5v.5h-1.5zM219 246.5h2.5v.5h-2.5zM222 246.5h5.5v.5h-5.5zM228.5 246.5h1.5v.5h-1.5zM231 246.5h61v.5h-61zM294 246.5h2v.5h-2zM296.5 246.5h1.5v.5h-1.5zM187.5 247h1.5v.5h-1.5zM192.5 247h4.5v.5h-4.5zM198.5 247h1.5v.5h-1.5zM201 247h1.5v.5h-1.5zM203.5 247h1.5v.5h-1.5zM206.5 247h3v.5h-3zM211 247h1.5v.5h-1.5zM214 247h1.5v.5h-1.5zM216 247h1.5v.5h-1.5zM219 247h8.5v.5h-8.5zM228.5 247h2v.5h-2zM231 247h61v.5h-61zM294 247h2v.5h-2zM188.5 247.5h1.5v.5h-1.5zM192.5 247.5h4.5v.5h-4.5zM198.5 247.5h1.5v.5h-1.5zM200.5 247.5h1.5v.5h-1.5zM208 247.5h4.5v.5h-4.5zM216 247.5h1.5v.5h-1.5zM219 247.5h3v.5h-3zM223 247.5h2v.5h-2zM225.5 247.5h2.5v.5h-2.5zM229 247.5h1.5v.5h-1.5zM231 247.5h61v.5h-61zM294.5 247.5h1.5v.5h-1.5zM188.5 248h1.5v.5h-1.5zM192.5 248h2.5v.5h-2.5zM195.5 248h4.5v.5h-4.5zM200.5 248h2v.5h-2zM205.5 248h1.5v.5h-1.5zM208 248h3.5v.5h-3.5zM212 248h1.5v.5h-1.5zM216 248h1.5v.5h-1.5zM218 248h7v.5h-7zM226 248h2v.5h-2zM229 248h1.5v.5h-1.5zM231 248h59v.5h-59zM290.5 248h2.5v.5h-2.5zM188.5 248.5h1.5v.5h-1.5zM192.5 248.5h2.5v.5h-2.5zM195.5 248.5h4.5v.5h-4.5zM200.5 248.5h2v.5h-2zM205.5 248.5h1.5v.5h-1.5zM208 248.5h3.5v.5h-3.5zM212 248.5h1.5v.5h-1.5zM217.5 248.5h2.5v.5h-2.5zM220.5 248.5h2.5v.5h-2.5zM223.5 248.5h1.5v.5h-1.5zM226 248.5h3.5v.5h-3.5zM231 248.5h58v.5h-58zM290 248.5h4v.5h-4zM191 249h1.5v.5h-1.5zM193.5 249h1.5v.5h-1.5zM195.5 249h3v.5h-3zM201 249h1.5v.5h-1.5zM205 249h2v.5h-2zM209 249h2.5v.5h-2.5zM212 249h1.5v.5h-1.5zM217.5 249h2.5v.5h-2.5zM220.5 249h9v.5h-9zM230 249h58.5v.5h-58.5zM290 249h4v.5h-4zM186.5 249.5h0.5v.5h-0.5zM191 249.5h1.5v.5h-1.5zM193.5 249.5h5v.5h-5zM199 249.5h2v.5h-2zM202 249.5h1.5v.5h-1.5zM205 249.5h2.5v.5h-2.5zM209 249.5h4v.5h-4zM217.5 249.5h2v.5h-2zM220.5 249.5h68v.5h-68zM290 249.5h1.5v.5h-1.5zM292.5 249.5h1.5v.5h-1.5zM186.5 250h0.5v.5h-0.5zM190.5 250h2.5v.5h-2.5zM195 250h1.5v.5h-1.5zM199 250h4.5v.5h-4.5zM205 250h2.5v.5h-2.5zM209 250h4v.5h-4zM215 250h1.5v.5h-1.5zM220.5 250h69v.5h-69zM293 250h1.5v.5h-1.5zM186.5 250.5h0.5v.5h-0.5zM189 250.5h4v.5h-4zM195 250.5h1.5v.5h-1.5zM199 250.5h4.5v.5h-4.5zM206 250.5h1.5v.5h-1.5zM209 250.5h1.5v.5h-1.5zM211.5 250.5h1.5v.5h-1.5zM215 250.5h1.5v.5h-1.5zM219.5 250.5h71v.5h-71zM293 250.5h3v.5h-3zM188 251h6.5v.5h-6.5zM195 251h3v.5h-3zM199 251h4v.5h-4zM203.5 251h1.5v.5h-1.5zM209 251h1.5v.5h-1.5zM214 251h4v.5h-4zM218.5 251h3.5v.5h-3.5zM223.5 251h67v.5h-67zM293 251h3v.5h-3zM188 251.5h3v.5h-3zM191.5 251.5h3v.5h-3zM195 251.5h3v.5h-3zM199 251.5h1.5v.5h-1.5zM201 251.5h2v.5h-2zM203.5 251.5h1.5v.5h-1.5zM208.5 251.5h4v.5h-4zM213.5 251.5h2v.5h-2zM216.5 251.5h5.5v.5h-5.5zM223 251.5h64v.5h-64zM289 251.5h1.5v.5h-1.5zM293.5 251.5h2.5v.5h-2.5zM188 252h3v.5h-3zM192.5 252h2v.5h-2zM195 252h3.5v.5h-3.5zM201 252h1.5v.5h-1.5zM203.5 252h1.5v.5h-1.5zM205.5 252h1.5v.5h-1.5zM208.5 252h4v.5h-4zM213.5 252h6.5v.5h-6.5zM220.5 252h67.5v.5h-67.5zM293.5 252h1.5v.5h-1.5zM187.5 252.5h3.5v.5h-3.5zM192.5 252.5h2v.5h-2zM197 252.5h2.5v.5h-2.5zM200.5 252.5h1.5v.5h-1.5zM205.5 252.5h1.5v.5h-1.5zM208.5 252.5h4.5v.5h-4.5zM213.5 252.5h5v.5h-5zM219 252.5h69v.5h-69zM187.5 253h7v.5h-7zM195.5 253h4.5v.5h-4.5zM200.5 253h1.5v.5h-1.5zM202.5 253h1.5v.5h-1.5zM205.5 253h1.5v.5h-1.5zM210 253h78v.5h-78zM289 253h1.5v.5h-1.5zM291 253h1.5v.5h-1.5zM187.5 253.5h1.5v.5h-1.5zM189.5 253.5h5v.5h-5zM195.5 253.5h6.5v.5h-6.5zM202.5 253.5h1.5v.5h-1.5zM204.5 253.5h1.5v.5h-1.5zM208.5 253.5h79.5v.5h-79.5zM289 253.5h1.5v.5h-1.5zM291 253.5h1.5v.5h-1.5zM293.5 253.5h1.5v.5h-1.5zM190 254h3.5v.5h-3.5zM195.5 254h2.5v.5h-2.5zM198.5 254h2.5v.5h-2.5zM202 254h2v.5h-2zM204.5 254h1.5v.5h-1.5zM207 254h5v.5h-5zM213 254h74.5v.5h-74.5zM289 254h1.5v.5h-1.5zM291 254h1.5v.5h-1.5zM293.5 254h2v.5h-2zM191 254.5h10v.5h-10zM202 254.5h1.5v.5h-1.5zM204.5 254.5h2v.5h-2zM207 254.5h5v.5h-5zM212.5 254.5h75.5v.5h-75.5zM293.5 254.5h2v.5h-2zM191.5 255h8.5v.5h-8.5zM201 255h2.5v.5h-2.5zM204 255h2.5v.5h-2.5zM207 255h1.5v.5h-1.5zM209 255h76v.5h-76zM285.5 255h2.5v.5h-2.5zM289.5 255h1.5v.5h-1.5zM291.5 255h1.5v.5h-1.5zM294 255h1.5v.5h-1.5zM186.5 255.5h1.5v.5h-1.5zM191.5 255.5h8.5v.5h-8.5zM201 255.5h2v.5h-2zM204 255.5h2.5v.5h-2.5zM207 255.5h78v.5h-78zM285.5 255.5h2.5v.5h-2.5zM289.5 255.5h3.5v.5h-3.5zM186.5 256h3v.5h-3zM191.5 256h1.5v.5h-1.5zM193.5 256h4.5v.5h-4.5zM199 256h1.5v.5h-1.5zM201 256h2v.5h-2zM204 256h2.5v.5h-2.5zM207 256h80.5v.5h-80.5zM288.5 256h4.5v.5h-4.5zM293.5 256h1.5v.5h-1.5zM186.5 256.5h3.5v.5h-3.5zM193.5 256.5h4.5v.5h-4.5zM199 256.5h1.5v.5h-1.5zM201.5 256.5h2.5v.5h-2.5zM205 256.5h1.5v.5h-1.5zM207 256.5h80v.5h-80zM288.5 256.5h3v.5h-3zM293.5 256.5h1.5v.5h-1.5zM187.5 257h2.5v.5h-2.5zM190.5 257h1.5v.5h-1.5zM194 257h4v.5h-4zM199 257h1.5v.5h-1.5zM202.5 257h2v.5h-2zM206.5 257h84.5v.5h-84.5zM293.5 257h1.5v.5h-1.5zM296 257h1.5v.5h-1.5zM187 257.5h3v.5h-3zM190.5 257.5h1.5v.5h-1.5zM194.5 257.5h3.5v.5h-3.5zM198.5 257.5h1.5v.5h-1.5zM202.5 257.5h2v.5h-2zM205.5 257.5h83v.5h-83zM296 257.5h1.5v.5h-1.5zM186.5 258h5.5v.5h-5.5zM193 258h5v.5h-5zM198.5 258h6v.5h-6zM205.5 258h83v.5h-83zM291.5 258h1.5v.5h-1.5zM296 258h1.5v.5h-1.5zM186.5 258.5h4.5v.5h-4.5zM193 258.5h3v.5h-3zM196.5 258.5h86v.5h-86zM286 258.5h1.5v.5h-1.5zM291.5 258.5h1.5v.5h-1.5zM186.5 259h6v.5h-6zM193 259h2v.5h-2zM196 259h84.5v.5h-84.5zM281 259h1.5v.5h-1.5zM291.5 259h1.5v.5h-1.5zM188 259.5h1.5v.5h-1.5zM191 259.5h3.5v.5h-3.5zM195 259.5h85.5v.5h-85.5zM281 259.5h1.5v.5h-1.5zM284 259.5h1.5v.5h-1.5zM293.5 259.5h1.5v.5h-1.5zM186.5 260h1v.5h-1zM188 260h5v.5h-5zM193.5 260h86.5v.5h-86.5zM284 260h1.5v.5h-1.5zM293.5 260h1.5v.5h-1.5zM186.5 260.5h6.5v.5h-6.5zM193.5 260.5h86.5v.5h-86.5zM284 260.5h1.5v.5h-1.5zM291 260.5h1.5v.5h-1.5zM293.5 260.5h1.5v.5h-1.5zM186.5 261h6.5v.5h-6.5zM193.5 261h85.5v.5h-85.5zM281.5 261h1.5v.5h-1.5zM290 261h2.5v.5h-2.5zM186.5 261.5h92.5v.5h-92.5zM279.5 261.5h3.5v.5h-3.5zM284.5 261.5h1.5v.5h-1.5zM289.5 261.5h3v.5h-3zM186.5 262h96.5v.5h-96.5zM284.5 262h1.5v.5h-1.5zM289.5 262h2v.5h-2zM186.5 262.5h3.5v.5h-3.5zM191 262.5h90.5v.5h-90.5zM283 262.5h3v.5h-3zM289.5 262.5h1.5v.5h-1.5zM186.5 263h91v.5h-91zM278.5 263h6v.5h-6zM187 263.5h90.5v.5h-90.5zM278.5 263.5h6v.5h-6zM289 263.5h1.5v.5h-1.5zM186.5 264h89.5v.5h-89.5zM279.5 264h5v.5h-5zM285 264h1.5v.5h-1.5zM289 264h1.5v.5h-1.5zM186.5 264.5h89v.5h-89zM276 264.5h1.5v.5h-1.5zM279.5 264.5h1.5v.5h-1.5zM283 264.5h1.5v.5h-1.5zM285 264.5h1.5v.5h-1.5zM289 264.5h1.5v.5h-1.5zM186.5 265h89v.5h-89zM276 265h5.5v.5h-5.5zM285 265h4v.5h-4zM292.5 265h1.5v.5h-1.5zM295 265h1.5v.5h-1.5zM186.5 265.5h89v.5h-89zM276 265.5h5.5v.5h-5.5zM283.5 265.5h5.5v.5h-5.5zM292.5 265.5h1.5v.5h-1.5zM295 265.5h1.5v.5h-1.5zM186.5 266h88.5v.5h-88.5zM277.5 266h4v.5h-4zM283 266h6v.5h-6zM292.5 266h4v.5h-4zM186.5 266.5h88v.5h-88zM281 266.5h1.5v.5h-1.5zM283 266.5h3v.5h-3zM294 266.5h1.5v.5h-1.5zM186.5 267h88.5v.5h-88.5zM277.5 267h1.5v.5h-1.5zM279.5 267h3v.5h-3zM283 267h3v.5h-3zM294 267h1.5v.5h-1.5zM186.5 267.5h88.5v.5h-88.5zM277.5 267.5h1.5v.5h-1.5zM279.5 267.5h3v.5h-3zM283 267.5h3v.5h-3zM186.5 268h88.5v.5h-88.5zM275.5 268h1.5v.5h-1.5zM277.5 268h4.5v.5h-4.5zM283 268h2v.5h-2zM289.5 268h1.5v.5h-1.5zM186.5 268.5h88.5v.5h-88.5zM275.5 268.5h1.5v.5h-1.5zM279 268.5h3.5v.5h-3.5zM286.5 268.5h1.5v.5h-1.5zM289.5 268.5h1.5v.5h-1.5zM186.5 269h90.5v.5h-90.5zM279 269h1.5v.5h-1.5zM281 269h1.5v.5h-1.5zM286.5 269h1.5v.5h-1.5zM289.5 269h1.5v.5h-1.5zM186.5 269.5h89.5v.5h-89.5zM281 269.5h1.5v.5h-1.5zM286 269.5h2v.5h-2zM186.5 270h89.5v.5h-89.5zM286 270h1.5v.5h-1.5zM186.5 270.5h83.5v.5h-83.5zM270.5 270.5h4.5v.5h-4.5zM286 270.5h1.5v.5h-1.5zM186.5 271h83v.5h-83zM270 271h6.5v.5h-6.5zM291 271h2.5v.5h-2.5zM186.5 271.5h88v.5h-88zM275 271.5h1.5v.5h-1.5zM284 271.5h1.5v.5h-1.5zM289 271.5h1.5v.5h-1.5zM291 271.5h2.5v.5h-2.5zM186.5 272h88v.5h-88zM275 272h1.5v.5h-1.5zM281 272h1.5v.5h-1.5zM284 272h1.5v.5h-1.5zM289 272h1.5v.5h-1.5zM291 272h2.5v.5h-2.5zM186.5 272.5h84.5v.5h-84.5zM272 272.5h2.5v.5h-2.5zM279 272.5h1.5v.5h-1.5zM281 272.5h2.5v.5h-2.5zM284 272.5h1.5v.5h-1.5zM289 272.5h1.5v.5h-1.5zM186.5 273h83.5v.5h-83.5zM272 273h2.5v.5h-2.5zM279 273h1.5v.5h-1.5zM281 273h3.5v.5h-3.5zM186.5 273.5h83.5v.5h-83.5zM272 273.5h1.5v.5h-1.5zM274 273.5h1.5v.5h-1.5zM279 273.5h1.5v.5h-1.5zM281.5 273.5h3.5v.5h-3.5zM186.5 274h83.5v.5h-83.5zM270.5 274h5v.5h-5zM276 274h1.5v.5h-1.5zM281.5 274h3.5v.5h-3.5zM291.5 274h1.5v.5h-1.5zM186.5 274.5h79v.5h-79zM266 274.5h2v.5h-2zM268.5 274.5h1.5v.5h-1.5zM270.5 274.5h7.5v.5h-7.5zM281.5 274.5h1.5v.5h-1.5zM283.5 274.5h1.5v.5h-1.5zM291.5 274.5h1.5v.5h-1.5zM186.5 275h78.5v.5h-78.5zM266 275h2v.5h-2zM268.5 275h6v.5h-6zM275 275h3v.5h-3zM278.5 275h2v.5h-2zM291.5 275h1.5v.5h-1.5zM186.5 275.5h81.5v.5h-81.5zM268.5 275.5h6v.5h-6zM275 275.5h3v.5h-3zM278.5 275.5h2v.5h-2zM291 275.5h1.5v.5h-1.5zM186.5 276h81.5v.5h-81.5zM270 276h1.5v.5h-1.5zM272.5 276h2v.5h-2zM275 276h1.5v.5h-1.5zM278.5 276h3.5v.5h-3.5zM291 276h1.5v.5h-1.5zM186.5 276.5h82.5v.5h-82.5zM272.5 276.5h2v.5h-2zM275 276.5h2v.5h-2zM280.5 276.5h1.5v.5h-1.5zM289 276.5h1.5v.5h-1.5zM291 276.5h1.5v.5h-1.5zM186.5 277h82.5v.5h-82.5zM270 277h2v.5h-2zM273 277h1.5v.5h-1.5zM275 277h2v.5h-2zM280.5 277h1.5v.5h-1.5zM288 277h2.5v.5h-2.5zM186.5 277.5h80.5v.5h-80.5zM267.5 277.5h1.5v.5h-1.5zM270 277.5h4.5v.5h-4.5zM275.5 277.5h1.5v.5h-1.5zM278.5 277.5h1.5v.5h-1.5zM288 277.5h3.5v.5h-3.5zM186.5 278h76.5v.5h-76.5zM263.5 278h3.5v.5h-3.5zM270 278h3v.5h-3zM278.5 278h1.5v.5h-1.5zM288 278h1.5v.5h-1.5zM290 278h1.5v.5h-1.5zM186.5 278.5h81v.5h-81zM271.5 278.5h1.5v.5h-1.5zM278.5 278.5h1.5v.5h-1.5zM290 278.5h1.5v.5h-1.5zM186.5 279h81v.5h-81zM271.5 279h1.5v.5h-1.5zM280.5 279h1.5v.5h-1.5zM186.5 279.5h78.5v.5h-78.5zM265.5 279.5h2v.5h-2zM271.5 279.5h3v.5h-3zM278.5 279.5h1.5v.5h-1.5zM280.5 279.5h1.5v.5h-1.5zM186.5 280h76.5v.5h-76.5zM263.5 280h3.5v.5h-3.5zM271.5 280h3v.5h-3zM275.5 280h1.5v.5h-1.5zM278.5 280h1.5v.5h-1.5zM280.5 280h1.5v.5h-1.5zM186.5 280.5h76.5v.5h-76.5zM265 280.5h1.5v.5h-1.5zM273 280.5h1.5v.5h-1.5zM275 280.5h2v.5h-2zM278.5 280.5h1.5v.5h-1.5zM186.5 281h73v.5h-73zM260.5 281h2.5v.5h-2.5zM265 281h1.5v.5h-1.5zM275 281h2v.5h-2zM186.5 281.5h74.5v.5h-74.5zM261.5 281.5h1.5v.5h-1.5zM265.5 281.5h1.5v.5h-1.5zM275 281.5h1.5v.5h-1.5zM186.5 282h77.5v.5h-77.5zM265.5 282h2v.5h-2zM273.5 282h1.5v.5h-1.5zM186.5 282.5h72.5v.5h-72.5zM259.5 282.5h4.5v.5h-4.5zM265.5 282.5h2v.5h-2zM273.5 282.5h1.5v.5h-1.5zM186.5 283h73v.5h-73zM260.5 283h3.5v.5h-3.5zM266 283h1.5v.5h-1.5zM273.5 283h1.5v.5h-1.5zM186.5 283.5h73v.5h-73zM261 283.5h1.5v.5h-1.5zM186.5 284h73v.5h-73zM261 284h1.5v.5h-1.5zM271 284h1.5v.5h-1.5zM186.5 284.5h72v.5h-72zM261 284.5h1.5v.5h-1.5zM267.5 284.5h2v.5h-2zM271 284.5h1.5v.5h-1.5zM277.5 284.5h1.5v.5h-1.5zM279.5 284.5h1.5v.5h-1.5zM186.5 285h70v.5h-70zM257 285h1.5v.5h-1.5zM263 285h1.5v.5h-1.5zM267.5 285h2v.5h-2zM271 285h1.5v.5h-1.5zM277.5 285h1.5v.5h-1.5zM279.5 285h1.5v.5h-1.5zM186.5 285.5h73.5v.5h-73.5zM261 285.5h4v.5h-4zM267.5 285.5h2v.5h-2zM276 285.5h3v.5h-3zM279.5 285.5h1.5v.5h-1.5zM186.5 286h70.5v.5h-70.5zM258.5 286h1.5v.5h-1.5zM260.5 286h4.5v.5h-4.5zM276 286h1.5v.5h-1.5zM279.5 286h1.5v.5h-1.5zM186.5 286.5h70.5v.5h-70.5zM258.5 286.5h6.5v.5h-6.5zM265.5 286.5h1.5v.5h-1.5zM276 286.5h1.5v.5h-1.5zM278 286.5h1.5v.5h-1.5zM186.5 287h69v.5h-69zM256 287h6v.5h-6zM265.5 287h1.5v.5h-1.5zM278 287h1.5v.5h-1.5zM186.5 287.5h75.5v.5h-75.5zM262.5 287.5h1.5v.5h-1.5zM265.5 287.5h1.5v.5h-1.5zM278 287.5h1.5v.5h-1.5zM186.5 288h65v.5h-65zM252 288h8v.5h-8zM260.5 288h3.5v.5h-3.5zM186.5 288.5h71.5v.5h-71.5zM258.5 288.5h1.5v.5h-1.5zM261.5 288.5h2.5v.5h-2.5zM271.5 288.5h1.5v.5h-1.5zM186.5 289h69.5v.5h-69.5zM256.5 289h1.5v.5h-1.5zM261.5 289h1.5v.5h-1.5zM271.5 289h1.5v.5h-1.5zM186.5 289.5h71.5v.5h-71.5zM267.5 289.5h1.5v.5h-1.5zM271.5 289.5h1.5v.5h-1.5zM186.5 290h71.5v.5h-71.5zM261.5 290h1.5v.5h-1.5zM267.5 290h1.5v.5h-1.5zM186.5 290.5h64.5v.5h-64.5zM252 290.5h6v.5h-6zM261.5 290.5h1.5v.5h-1.5zM267.5 290.5h1.5v.5h-1.5zM276.5 290.5h1.5v.5h-1.5zM186.5 291h65v.5h-65zM252 291h2.5v.5h-2.5zM255.5 291h1.5v.5h-1.5zM261.5 291h1.5v.5h-1.5zM276.5 291h2v.5h-2zM186.5 291.5h65v.5h-65zM252 291.5h2.5v.5h-2.5zM255.5 291.5h2.5v.5h-2.5zM262 291.5h1.5v.5h-1.5zM276.5 291.5h2v.5h-2zM186.5 292h65v.5h-65zM252.5 292h2v.5h-2zM255.5 292h2.5v.5h-2.5zM259.5 292h1.5v.5h-1.5zM262 292h3v.5h-3zM277 292h1.5v.5h-1.5zM186.5 292.5h63.5v.5h-63.5zM252.5 292.5h2v.5h-2zM256.5 292.5h1.5v.5h-1.5zM259.5 292.5h1.5v.5h-1.5zM262 292.5h3v.5h-3zM279.5 292.5h1.5v.5h-1.5zM186.5 293h61v.5h-61zM248.5 293h1.5v.5h-1.5zM252.5 293h2v.5h-2zM259.5 293h1.5v.5h-1.5zM263 293h2v.5h-2zM279.5 293h1.5v.5h-1.5zM186.5 293.5h61v.5h-61zM248.5 293.5h1.5v.5h-1.5zM253 293.5h1.5v.5h-1.5zM255.5 293.5h1.5v.5h-1.5zM259.5 293.5h1.5v.5h-1.5zM263 293.5h1.5v.5h-1.5zM268.5 293.5h3v.5h-3zM279.5 293.5h2.5v.5h-2.5zM186.5 294h61v.5h-61zM248.5 294h1.5v.5h-1.5zM254.5 294h2.5v.5h-2.5zM259.5 294h1.5v.5h-1.5zM263 294h1.5v.5h-1.5zM268.5 294h3v.5h-3zM280.5 294h1.5v.5h-1.5zM186.5 294.5h61v.5h-61zM248.5 294.5h1.5v.5h-1.5zM254.5 294.5h2.5v.5h-2.5zM259.5 294.5h1.5v.5h-1.5zM268.5 294.5h3v.5h-3zM280.5 294.5h1.5v.5h-1.5zM186.5 295h59.5v.5h-59.5zM248 295h1.5v.5h-1.5zM250.5 295h1.5v.5h-1.5zM254.5 295h2.5v.5h-2.5zM186.5 295.5h57v.5h-57zM244.5 295.5h1.5v.5h-1.5zM248 295.5h4v.5h-4zM255.5 295.5h1.5v.5h-1.5zM265.5 295.5h1.5v.5h-1.5zM270.5 295.5h1.5v.5h-1.5zM186.5 296h57v.5h-57zM244.5 296h2.5v.5h-2.5zM248 296h6v.5h-6zM255.5 296h1.5v.5h-1.5zM258.5 296h1.5v.5h-1.5zM262.5 296h1.5v.5h-1.5zM265.5 296h1.5v.5h-1.5zM270.5 296h1.5v.5h-1.5zM186.5 296.5h60.5v.5h-60.5zM249 296.5h2v.5h-2zM251.5 296.5h3.5v.5h-3.5zM258.5 296.5h1.5v.5h-1.5zM262.5 296.5h1.5v.5h-1.5zM265.5 296.5h1.5v.5h-1.5zM270.5 296.5h1.5v.5h-1.5zM186.5 297h60.5v.5h-60.5zM251 297h4v.5h-4zM258.5 297h1.5v.5h-1.5zM262 297h3.5v.5h-3.5zM186.5 297.5h59.5v.5h-59.5zM251 297.5h1.5v.5h-1.5zM253 297.5h3.5v.5h-3.5zM258.5 297.5h1.5v.5h-1.5zM262 297.5h1.5v.5h-1.5zM264 297.5h1.5v.5h-1.5zM186.5 298h56.5v.5h-56.5zM243.5 298h2.5v.5h-2.5zM251 298h1.5v.5h-1.5zM255 298h1.5v.5h-1.5zM258 298h1.5v.5h-1.5zM262 298h1.5v.5h-1.5zM264 298h1.5v.5h-1.5zM186.5 298.5h55.5v.5h-55.5zM244.5 298.5h1.5v.5h-1.5zM254.5 298.5h3v.5h-3zM258 298.5h1.5v.5h-1.5zM264 298.5h1.5v.5h-1.5zM280.5 298.5h1.5v.5h-1.5zM186.5 299h54v.5h-54zM250.5 299h1.5v.5h-1.5zM252.5 299h5v.5h-5zM258 299h1.5v.5h-1.5zM264 299h1.5v.5h-1.5zM280.5 299h1.5v.5h-1.5zM186.5 299.5h54.5v.5h-54.5zM246 299.5h1.5v.5h-1.5zM250 299.5h7.5v.5h-7.5zM264 299.5h1.5v.5h-1.5zM280.5 299.5h1.5v.5h-1.5zM186.5 300h54.5v.5h-54.5zM242 300h1.5v.5h-1.5zM245 300h2.5v.5h-2.5zM250 300h4.5v.5h-4.5zM186.5 300.5h51.5v.5h-51.5zM238.5 300.5h2.5v.5h-2.5zM242 300.5h1.5v.5h-1.5zM245 300.5h2.5v.5h-2.5zM250 300.5h2.5v.5h-2.5zM263 300.5h1.5v.5h-1.5zM278.5 300.5h1.5v.5h-1.5zM186.5 301h51v.5h-51zM238 301h1.5v.5h-1.5zM242 301h1.5v.5h-1.5zM244 301h2.5v.5h-2.5zM249.5 301h2v.5h-2zM252.5 301h1.5v.5h-1.5zM259.5 301h1.5v.5h-1.5zM263 301h1.5v.5h-1.5zM278.5 301h1.5v.5h-1.5zM186.5 301.5h50v.5h-50zM237.5 301.5h2v.5h-2zM240 301.5h1.5v.5h-1.5zM244 301.5h2.5v.5h-2.5zM248.5 301.5h3v.5h-3zM252.5 301.5h1.5v.5h-1.5zM259.5 301.5h1.5v.5h-1.5zM263 301.5h1.5v.5h-1.5zM278.5 301.5h1.5v.5h-1.5zM186.5 302h50v.5h-50zM237.5 302h2v.5h-2zM240 302h1.5v.5h-1.5zM244 302h2v.5h-2zM248.5 302h2.5v.5h-2.5zM252.5 302h1.5v.5h-1.5zM259.5 302h2v.5h-2zM186.5 302.5h50v.5h-50zM237.5 302.5h1.5v.5h-1.5zM239.5 302.5h2v.5h-2zM244 302.5h2v.5h-2zM248.5 302.5h1.5v.5h-1.5zM260 302.5h1.5v.5h-1.5zM186.5 303h50v.5h-50zM239.5 303h3.5v.5h-3.5zM245.5 303h1.5v.5h-1.5zM251 303h1.5v.5h-1.5zM260 303h1.5v.5h-1.5zM264 303h1.5v.5h-1.5zM186.5 303.5h49.5v.5h-49.5zM239 303.5h4v.5h-4zM244 303.5h3v.5h-3zM251 303.5h1.5v.5h-1.5zM253.5 303.5h1.5v.5h-1.5zM264 303.5h1.5v.5h-1.5zM186.5 304h49.5v.5h-49.5zM236.5 304h1.5v.5h-1.5zM239 304h1.5v.5h-1.5zM241.5 304h1.5v.5h-1.5zM244 304h3v.5h-3zM251 304h1.5v.5h-1.5zM253.5 304h1.5v.5h-1.5zM264 304h1.5v.5h-1.5zM281.5 304h1.5v.5h-1.5zM186.5 304.5h18.5v.5h-18.5zM205.5 304.5h29v.5h-29zM235.5 304.5h2.5v.5h-2.5zM239 304.5h1.5v.5h-1.5zM244 304.5h3.5v.5h-3.5zM248.5 304.5h1.5v.5h-1.5zM253.5 304.5h1.5v.5h-1.5zM281.5 304.5h1.5v.5h-1.5zM186.5 305h48v.5h-48zM235.5 305h2.5v.5h-2.5zM245 305h2.5v.5h-2.5zM248.5 305h1.5v.5h-1.5zM281.5 305h1.5v.5h-1.5zM186.5 305.5h48v.5h-48zM235.5 305.5h1.5v.5h-1.5zM245 305.5h2.5v.5h-2.5zM248.5 305.5h3v.5h-3zM256.5 305.5h1.5v.5h-1.5zM283 305.5h1.5v.5h-1.5zM186.5 306h46v.5h-46zM233 306h1.5v.5h-1.5zM250 306h1.5v.5h-1.5zM256.5 306h1.5v.5h-1.5zM283 306h1.5v.5h-1.5zM186.5 306.5h46v.5h-46zM248 306.5h1.5v.5h-1.5zM250 306.5h1.5v.5h-1.5zM256.5 306.5h1.5v.5h-1.5zM261.5 306.5h1.5v.5h-1.5zM283 306.5h1.5v.5h-1.5zM186.5 307h45v.5h-45zM233.5 307h1.5v.5h-1.5zM236.5 307h1.5v.5h-1.5zM240 307h1.5v.5h-1.5zM243.5 307h1.5v.5h-1.5zM248 307h1.5v.5h-1.5zM261.5 307h1.5v.5h-1.5zM186.5 307.5h42v.5h-42zM229 307.5h2.5v.5h-2.5zM233.5 307.5h1.5v.5h-1.5zM236 307.5h2v.5h-2zM240 307.5h1.5v.5h-1.5zM243.5 307.5h1.5v.5h-1.5zM248 307.5h1.5v.5h-1.5zM261.5 307.5h1.5v.5h-1.5zM186.5 308h42v.5h-42zM229 308h2.5v.5h-2.5zM233.5 308h1.5v.5h-1.5zM236 308h2v.5h-2zM239.5 308h3.5v.5h-3.5zM243.5 308h1.5v.5h-1.5zM250.5 308h1.5v.5h-1.5zM255 308h1.5v.5h-1.5zM186.5 308.5h44v.5h-44zM234 308.5h1.5v.5h-1.5zM236 308.5h2v.5h-2zM239 308.5h2v.5h-2zM241.5 308.5h1.5v.5h-1.5zM250.5 308.5h1.5v.5h-1.5zM255 308.5h1.5v.5h-1.5zM186.5 309h45.5v.5h-45.5zM234 309h1.5v.5h-1.5zM239 309h2v.5h-2zM241.5 309h2v.5h-2zM250.5 309h1.5v.5h-1.5zM255 309h1.5v.5h-1.5zM259 309h1.5v.5h-1.5zM263 309h1.5v.5h-1.5zM186.5 309.5h43.5v.5h-43.5zM230.5 309.5h1.5v.5h-1.5zM234 309.5h2.5v.5h-2.5zM239 309.5h1.5v.5h-1.5zM241 309.5h4.5v.5h-4.5zM259 309.5h1.5v.5h-1.5zM263 309.5h1.5v.5h-1.5zM186.5 310h38v.5h-38zM225 310h4.5v.5h-4.5zM230.5 310h3.5v.5h-3.5zM235 310h1.5v.5h-1.5zM239 310h1.5v.5h-1.5zM241 310h4.5v.5h-4.5zM259 310h1.5v.5h-1.5zM263 310h1.5v.5h-1.5zM186.5 310.5h40.5v.5h-40.5zM227.5 310.5h2v.5h-2zM230.5 310.5h3.5v.5h-3.5zM235 310.5h1.5v.5h-1.5zM237.5 310.5h1.5v.5h-1.5zM241 310.5h4.5v.5h-4.5zM248 310.5h1.5v.5h-1.5zM251 310.5h1.5v.5h-1.5zM186.5 311h38.5v.5h-38.5zM225.5 311h2v.5h-2zM228 311h6v.5h-6zM237.5 311h5.5v.5h-5.5zM248 311h1.5v.5h-1.5zM251 311h1.5v.5h-1.5zM186.5 311.5h41v.5h-41zM228 311.5h3v.5h-3zM232.5 311.5h1.5v.5h-1.5zM237.5 311.5h5.5v.5h-5.5zM248 311.5h1.5v.5h-1.5zM251 311.5h1.5v.5h-1.5zM262.5 311.5h1.5v.5h-1.5zM186.5 312h41v.5h-41zM228 312h3v.5h-3zM232.5 312h2v.5h-2zM238 312h4v.5h-4zM262.5 312h1.5v.5h-1.5zM186.5 312.5h40v.5h-40zM228 312.5h6.5v.5h-6.5zM238.5 312.5h2.5v.5h-2.5zM258 312.5h1.5v.5h-1.5zM262.5 312.5h1.5v.5h-1.5zM186.5 313h37v.5h-37zM224 313h2.5v.5h-2.5zM227 313h2.5v.5h-2.5zM231 313h1.5v.5h-1.5zM233 313h3v.5h-3zM238.5 313h2.5v.5h-2.5zM258 313h1.5v.5h-1.5zM263 313h1.5v.5h-1.5zM186.5 313.5h37.5v.5h-37.5zM224.5 313.5h1.5v.5h-1.5zM226.5 313.5h3v.5h-3zM231 313.5h1.5v.5h-1.5zM234.5 313.5h1.5v.5h-1.5zM258 313.5h1.5v.5h-1.5zM263 313.5h1.5v.5h-1.5zM186.5 314h35v.5h-35zM222.5 314h1.5v.5h-1.5zM224.5 314h5v.5h-5zM234.5 314h1.5v.5h-1.5zM236.5 314h1.5v.5h-1.5zM263 314h1.5v.5h-1.5zM186.5 314.5h37.5v.5h-37.5zM224.5 314.5h3.5v.5h-3.5zM234.5 314.5h1.5v.5h-1.5zM236.5 314.5h1.5v.5h-1.5zM186.5 315h36.5v.5h-36.5zM223.5 315h1.5v.5h-1.5zM225.5 315h2.5v.5h-2.5zM229.5 315h1.5v.5h-1.5zM236.5 315h1.5v.5h-1.5zM238.5 315h1.5v.5h-1.5zM186.5 315.5h34.5v.5h-34.5zM221.5 315.5h1.5v.5h-1.5zM223.5 315.5h1.5v.5h-1.5zM225.5 315.5h2.5v.5h-2.5zM229.5 315.5h1.5v.5h-1.5zM238.5 315.5h1.5v.5h-1.5zM264.5 315.5h1.5v.5h-1.5zM186.5 316h34.5v.5h-34.5zM223.5 316h1.5v.5h-1.5zM225.5 316h2.5v.5h-2.5zM229.5 316h1.5v.5h-1.5zM232 316h1.5v.5h-1.5zM238.5 316h1.5v.5h-1.5zM252.5 316h1.5v.5h-1.5zM264.5 316h1.5v.5h-1.5zM186.5 316.5h34v.5h-34zM221.5 316.5h1.5v.5h-1.5zM225.5 316.5h2.5v.5h-2.5zM230 316.5h1.5v.5h-1.5zM232 316.5h1.5v.5h-1.5zM252.5 316.5h1.5v.5h-1.5zM259 316.5h1.5v.5h-1.5zM264.5 316.5h1.5v.5h-1.5zM186.5 317h33.5v.5h-33.5zM221.5 317h1.5v.5h-1.5zM225.5 317h2.5v.5h-2.5zM228.5 317h3v.5h-3zM232 317h1.5v.5h-1.5zM244.5 317h1.5v.5h-1.5zM250.5 317h1.5v.5h-1.5zM252.5 317h1.5v.5h-1.5zM254.5 317h1.5v.5h-1.5zM259 317h1.5v.5h-1.5zM269.5 317h1.5v.5h-1.5zM186.5 317.5h33.5v.5h-33.5zM221.5 317.5h1.5v.5h-1.5zM228.5 317.5h3v.5h-3zM232 317.5h2.5v.5h-2.5zM244.5 317.5h1.5v.5h-1.5zM250.5 317.5h1.5v.5h-1.5zM254.5 317.5h1.5v.5h-1.5zM259 317.5h1.5v.5h-1.5zM269.5 317.5h1.5v.5h-1.5zM186.5 318h28.5v.5h-28.5zM215.5 318h4.5v.5h-4.5zM228.5 318h2v.5h-2zM232 318h2.5v.5h-2.5zM244.5 318h1.5v.5h-1.5zM250.5 318h1.5v.5h-1.5zM254.5 318h1.5v.5h-1.5zM269.5 318h1.5v.5h-1.5zM186.5 318.5h33.5v.5h-33.5zM222 318.5h1.5v.5h-1.5zM224.5 318.5h1.5v.5h-1.5zM229 318.5h1.5v.5h-1.5zM232 318.5h2.5v.5h-2.5zM260 318.5h1.5v.5h-1.5zM186.5 319h30.5v.5h-30.5zM218.5 319h3v.5h-3zM222 319h1.5v.5h-1.5zM224.5 319h1.5v.5h-1.5zM235 319h1.5v.5h-1.5zM244 319h2v.5h-2zM260 319h1.5v.5h-1.5zM186.5 319.5h30v.5h-30zM217 319.5h4.5v.5h-4.5zM222 319.5h1.5v.5h-1.5zM224.5 319.5h1.5v.5h-1.5zM227 319.5h1.5v.5h-1.5zM229.5 319.5h1.5v.5h-1.5zM232.5 319.5h1.5v.5h-1.5zM235 319.5h2.5v.5h-2.5zM244 319.5h2v.5h-2zM260 319.5h1.5v.5h-1.5zM186.5 320h30v.5h-30zM217 320h1.5v.5h-1.5zM220 320h1.5v.5h-1.5zM222 320h1.5v.5h-1.5zM226.5 320h2v.5h-2zM229.5 320h2.5v.5h-2.5zM232.5 320h1.5v.5h-1.5zM235 320h2.5v.5h-2.5zM244 320h2v.5h-2zM186.5 320.5h33v.5h-33zM222 320.5h1.5v.5h-1.5zM226.5 320.5h2v.5h-2zM229 320.5h3v.5h-3zM232.5 320.5h1.5v.5h-1.5zM236 320.5h4v.5h-4zM186.5 321h26.5v.5h-26.5zM215.5 321h5v.5h-5zM222 321h1.5v.5h-1.5zM226.5 321h5.5v.5h-5.5zM232.5 321h1.5v.5h-1.5zM237.5 321h2.5v.5h-2.5zM186.5 321.5h26.5v.5h-26.5zM214.5 321.5h6.5v.5h-6.5zM225.5 321.5h1.5v.5h-1.5zM228 321.5h4v.5h-4zM237.5 321.5h3v.5h-3zM186.5 322h25.5v.5h-25.5zM214.5 322h1.5v.5h-1.5zM217 322h4v.5h-4zM222 322h1.5v.5h-1.5zM225.5 322h1.5v.5h-1.5zM228 322h2v.5h-2zM230.5 322h1.5v.5h-1.5zM239 322h1.5v.5h-1.5zM186.5 322.5h26.5v.5h-26.5zM214.5 322.5h4.5v.5h-4.5zM219.5 322.5h4v.5h-4zM224 322.5h3v.5h-3zM228.5 322.5h1.5v.5h-1.5zM231 322.5h1.5v.5h-1.5zM238 322.5h2.5v.5h-2.5zM255 322.5h1.5v.5h-1.5zM186.5 323h27.5v.5h-27.5zM214.5 323h4.5v.5h-4.5zM219.5 323h4v.5h-4zM224 323h1.5v.5h-1.5zM226.5 323h1.5v.5h-1.5zM231 323h1.5v.5h-1.5zM233 323h1.5v.5h-1.5zM238 323h1.5v.5h-1.5zM255 323h1.5v.5h-1.5zM186.5 323.5h27.5v.5h-27.5zM216 323.5h1.5v.5h-1.5zM220 323.5h2v.5h-2zM224 323.5h1.5v.5h-1.5zM226.5 323.5h1.5v.5h-1.5zM230.5 323.5h2v.5h-2zM233 323.5h1.5v.5h-1.5zM238 323.5h1.5v.5h-1.5zM255 323.5h1.5v.5h-1.5zM186.5 324h27.5v.5h-27.5zM215 324h2.5v.5h-2.5zM220 324h1.5v.5h-1.5zM226.5 324h1.5v.5h-1.5zM228.5 324h1.5v.5h-1.5zM230.5 324h1.5v.5h-1.5zM233 324h1.5v.5h-1.5zM186.5 324.5h26.5v.5h-26.5zM213.5 324.5h3v.5h-3zM220 324.5h1.5v.5h-1.5zM224 324.5h1.5v.5h-1.5zM228 324.5h2v.5h-2zM230.5 324.5h1.5v.5h-1.5zM186.5 325h25v.5h-25zM213.5 325h4.5v.5h-4.5zM219 325h1.5v.5h-1.5zM221.5 325h1.5v.5h-1.5zM224 325h3.5v.5h-3.5zM228 325h2v.5h-2zM186.5 325.5h25v.5h-25zM213.5 325.5h4.5v.5h-4.5zM219 325.5h1.5v.5h-1.5zM221.5 325.5h1.5v.5h-1.5zM224 325.5h3.5v.5h-3.5zM228 325.5h1.5v.5h-1.5zM237.5 325.5h1.5v.5h-1.5zM239.5 325.5h1.5v.5h-1.5zM284.5 325.5h1.5v.5h-1.5zM186.5 326h24.5v.5h-24.5zM216 326h7v.5h-7zM225.5 326h2v.5h-2zM237.5 326h1.5v.5h-1.5zM239.5 326h1.5v.5h-1.5zM284.5 326h1.5v.5h-1.5zM186.5 326.5h24.5v.5h-24.5zM212 326.5h3v.5h-3zM216 326.5h6v.5h-6zM237.5 326.5h1.5v.5h-1.5zM239.5 326.5h1.5v.5h-1.5zM284.5 326.5h1.5v.5h-1.5zM186.5 327h22v.5h-22zM212 327h3v.5h-3zM216.5 327h5.5v.5h-5.5zM232 327h1.5v.5h-1.5zM236 327h1.5v.5h-1.5zM186.5 327.5h23v.5h-23zM211.5 327.5h9.5v.5h-9.5zM232 327.5h1.5v.5h-1.5zM236 327.5h1.5v.5h-1.5zM186.5 328h23v.5h-23zM211.5 328h1.5v.5h-1.5zM215 328h1.5v.5h-1.5zM217 328h2.5v.5h-2.5zM226 328h1.5v.5h-1.5zM232 328h2v.5h-2zM236 328h1.5v.5h-1.5zM186.5 328.5h23v.5h-23zM211.5 328.5h1.5v.5h-1.5zM215 328.5h1.5v.5h-1.5zM217.5 328.5h2v.5h-2zM226 328.5h1.5v.5h-1.5zM232 328.5h2v.5h-2zM236.5 328.5h1.5v.5h-1.5zM239 328.5h1.5v.5h-1.5zM256 328.5h1.5v.5h-1.5zM186.5 329h20v.5h-20zM207 329h1.5v.5h-1.5zM213 329h2v.5h-2zM226 329h4v.5h-4zM232.5 329h1.5v.5h-1.5zM236.5 329h1.5v.5h-1.5zM239 329h1.5v.5h-1.5zM256 329h1.5v.5h-1.5zM186.5 329.5h20v.5h-20zM207 329.5h1.5v.5h-1.5zM212.5 329.5h3.5v.5h-3.5zM217 329.5h1.5v.5h-1.5zM219.5 329.5h1.5v.5h-1.5zM227 329.5h3v.5h-3zM230.5 329.5h1.5v.5h-1.5zM236.5 329.5h1.5v.5h-1.5zM239 329.5h1.5v.5h-1.5zM256 329.5h1.5v.5h-1.5zM186.5 330h18.5v.5h-18.5zM212.5 330h3.5v.5h-3.5zM217 330h1.5v.5h-1.5zM219.5 330h2v.5h-2zM227 330h3v.5h-3zM230.5 330h1.5v.5h-1.5zM245 330h1.5v.5h-1.5zM280.5 330h1.5v.5h-1.5zM186.5 330.5h18.5v.5h-18.5zM212.5 330.5h3.5v.5h-3.5zM217 330.5h1.5v.5h-1.5zM219.5 330.5h2v.5h-2zM223 330.5h1.5v.5h-1.5zM228 330.5h1.5v.5h-1.5zM230.5 330.5h1.5v.5h-1.5zM245 330.5h1.5v.5h-1.5zM269 330.5h1.5v.5h-1.5zM280.5 330.5h1.5v.5h-1.5zM186.5 331h19.5v.5h-19.5zM208 331h1.5v.5h-1.5zM214 331h2v.5h-2zM217 331h1.5v.5h-1.5zM220 331h1.5v.5h-1.5zM223 331h1.5v.5h-1.5zM226 331h1.5v.5h-1.5zM232.5 331h1.5v.5h-1.5zM245 331h1.5v.5h-1.5zM269 331h1.5v.5h-1.5zM280.5 331h1.5v.5h-1.5zM186.5 331.5h20.5v.5h-20.5zM208 331.5h3v.5h-3zM211.5 331.5h1.5v.5h-1.5zM214 331.5h1.5v.5h-1.5zM217 331.5h1.5v.5h-1.5zM223 331.5h4.5v.5h-4.5zM232.5 331.5h1.5v.5h-1.5zM257.5 331.5h1.5v.5h-1.5zM269 331.5h1.5v.5h-1.5zM186.5 332h21v.5h-21zM208 332h3v.5h-3zM211.5 332h1.5v.5h-1.5zM213.5 332h1.5v.5h-1.5zM217 332h1.5v.5h-1.5zM220.5 332h1.5v.5h-1.5zM224.5 332h3v.5h-3zM232.5 332h1.5v.5h-1.5zM257.5 332h1.5v.5h-1.5zM186.5 332.5h21v.5h-21zM208 332.5h5v.5h-5zM213.5 332.5h1.5v.5h-1.5zM220.5 332.5h1.5v.5h-1.5zM224.5 332.5h1.5v.5h-1.5zM231 332.5h1.5v.5h-1.5zM257.5 332.5h1.5v.5h-1.5zM186.5 333h18.5v.5h-18.5zM205.5 333h2v.5h-2zM210.5 333h1.5v.5h-1.5zM213.5 333h1.5v.5h-1.5zM220.5 333h1.5v.5h-1.5zM231 333h1.5v.5h-1.5zM186.5 333.5h19.5v.5h-19.5zM210.5 333.5h1.5v.5h-1.5zM231 333.5h1.5v.5h-1.5zM186.5 334h19.5v.5h-19.5zM213.5 334h1.5v.5h-1.5zM223 334h1.5v.5h-1.5zM186.5 334.5h16.5v.5h-16.5zM204.5 334.5h1.5v.5h-1.5zM207 334.5h1.5v.5h-1.5zM213.5 334.5h1.5v.5h-1.5zM223 334.5h1.5v.5h-1.5zM228 334.5h1.5v.5h-1.5zM186.5 335h16v.5h-16zM204 335h2.5v.5h-2.5zM207 335h1.5v.5h-1.5zM213.5 335h1.5v.5h-1.5zM223 335h1.5v.5h-1.5zM228 335h1.5v.5h-1.5zM240 335h1.5v.5h-1.5zM186.5 335.5h13v.5h-13zM200 335.5h3v.5h-3zM204 335.5h2.5v.5h-2.5zM207 335.5h1.5v.5h-1.5zM210 335.5h1.5v.5h-1.5zM228 335.5h1.5v.5h-1.5zM240 335.5h1.5v.5h-1.5zM186.5 336h13v.5h-13zM200 336h3v.5h-3zM204 336h2.5v.5h-2.5zM210 336h1.5v.5h-1.5zM240 336h1.5v.5h-1.5zM187.5 336.5h1.5v.5h-1.5zM189.5 336.5h8.5v.5h-8.5zM201 336.5h2v.5h-2zM204.5 336.5h1.5v.5h-1.5zM210 336.5h1.5v.5h-1.5z" fill="#fa0000"/>
<path d="M186.30 335.45a.95 .95 0 1 0 1.9 0a.95 .95 0 1 0 -1.9 0M188.94 332.83a.95 .95 0 1 0 1.9 0a.95 .95 0 1 0 -1.9 0M191.57 330.20a.95 .95 0 1 0 1.9 0a.95 .95 0 1 0 -1.9 0M194.21 327.58a.95 .95 0 1 0 1.9 0a.95 .95 0 1 0 -1.9 0M196.85 324.96a.95 .95 0 1 0 1.9 0a.95 .95 0 1 0 -1.9 0M199.48 322.33a.95 .95 0 1 0 1.9 0a.95 .95 0 1 0 -1.9 0M202.12 319.71a.95 .95 0 1 0 1.9 0a.95 .95 0 1 0 -1.9 0M204.75 317.08a.95 .95 0 1 0 1.9 0a.95 .95 0 1 0 -1.9 0M207.39 314.46a.95 .95 0 1 0 1.9 0a.95 .95 0 1 0 -1.9 0M210.03 311.83a.95 .95 0 1 0 1.9 0a.95 .95 0 1 0 -1.9 0M212.66 309.21a.95 .95 0 1 0 1.9 0a.95 .95 0 1 0 -1.9 0M215.30 306.58a.95 .95 0 1 0 1.9 0a.95 .95 0 1 0 -1.9 0M217.94 303.96a.95 .95 0 1 0 1.9 0a.95 .95 0 1 0 -1.9 0M220.57 301.33a.95 .95 0 1 0 1.9 0a.95 .95 0 1 0 -1.9 0M223.21 298.71a.95 .95 0 1 0 1.9 0a.95 .95 0 1 0 -1.9 0M225.84 296.08a.95 .95 0 1 0 1.9 0a.95 .95 0 1 0 -1.9 0M228.48 293.46a.95 .95 0 1 0 1.9 0a.95 .95 0 1 0 -1.9 0M231.12 290.84a.95 .95 0 1 0 1.9 0a.95 .95 0 1 0 -1.9 0M233.75 288.21a.95 .95 0 1 0 1.9 0a.95 .95 0 1 0 -1.9 0M236.39 285.59a.95 .95 0 1 0 1.9 0a.95 .95 0 1 0 -1.9 0M239.03 282.96a.95 .95 0 1 0 1.9 0a.95 .95 0 1 0 -1.9 0M241.66 280.34a.95 .95 0 1 0 1.9 0a.95 .95 0 1 0 -1.9 0M244.30 277.71a.95 .95 0 1 0 1.9 0a.95 .95 0 1 0 -1.9 0M246.94 275.09a.95 .95 0 1 0 1.9 0a.95 .95 0 1 0 -1.9 0M249.57 272.46a.95 .95 0 1 0 1.9 0a.95 .95 0 1 0 -1.9 0M252.21 269.84a.95 .95 0 1 0 1.9 0a.95 .95 0 1 0 -1.9 0M254.84 267.21a.95 .95 0 1 0 1.9 0a.95 .95 0 1 0 -1.9 0M257.48 264.59a.95 .95 0 1 0 1.9 0a.95 .95 0 1 0 -1.9 0M260.12 261.97a.95 .95 0 1 0 1.9 0a.95 .95 0 1 0 -1.9 0M262.75 259.34a.95 .95 0 1 0 1.9 0a.95 .95 0 1 0 -1.9 0M265.39 256.72a.95 .95 0 1 0 1.9 0a.95 .95 0 1 0 -1.9 0M268.03 254.09a.95 .95 0 1 0 1.9 0a.95 .95 0 1 0 -1.9 0M270.66 251.47a.95 .95 0 1 0 1.9 0a.95 .95 0 1 0 -1.9 0M273.30 248.84a.95 .95 0 1 0 1.9 0a.95 .95 0 1 0 -1.9 0M275.93 246.22a.95 .95 0 1 0 1.9 0a.95 .95 0 1 0 -1.9 0M278.57 243.59a.95 .95 0 1 0 1.9 0a.95 .95 0 1 0 -1.9 0M281.21 240.97a.95 .95 0 1 0 1.9 0a.95 .95 0 1 0 -1.9 0M283.84 238.34a.95 .95 0 1 0 1.9 0a.95 .95 0 1 0 -1.9 0M286.48 235.72a.95 .95 0 1 0 1.9 0a.95 .95 0 1 0 -1.9 0M289.12 233.10a.95 .95 0 1 0 1.9 0a.95 .95 0 1 0 -1.9 0M291.75 230.47a.95 .95 0 1 0 1.9 0a.95 .95 0 1 0 -1.9 0M294.39 227.85a.95 .95 0 1 0 1.9 0a.95 .95 0 1 0 -1.9 0M297.02 225.22a.95 .95 0 1 0 1.9 0a.95 .95 0 1 0 -1.9 0" fill="#fcd4d4"/>
<line x1="186.4" y1="223.8" x2="186.4" y2="336.90000000000003" stroke="#111" stroke-width="1.3" />
<line x1="185.8" y1="336.3" x2="299.40000000000003" y2="336.3" stroke="#111" stroke-width="1.3" />
<line x1="182.9" y1="336.3" x2="186.4" y2="336.3" stroke="#111" stroke-width="1.2" />
<line x1="186.4" y1="336.3" x2="186.4" y2="339.6" stroke="#111" stroke-width="1.2" />
<text x="182.1" y="338.35" font-size="7.3" font-weight="bold" text-anchor="end" fill="#111" >0.0</text>
<text x="186.4" y="347.9" font-size="7.3" font-weight="bold" text-anchor="middle" fill="#111" >0.0</text>
<line x1="182.9" y1="313.92" x2="186.4" y2="313.92" stroke="#111" stroke-width="1.2" />
<line x1="208.88" y1="336.3" x2="208.88" y2="339.6" stroke="#111" stroke-width="1.2" />
<text x="182.1" y="315.97" font-size="7.3" font-weight="bold" text-anchor="end" fill="#111" >0.2</text>
<text x="208.88" y="347.9" font-size="7.3" font-weight="bold" text-anchor="middle" fill="#111" >0.2</text>
<line x1="182.9" y1="291.54" x2="186.4" y2="291.54" stroke="#111" stroke-width="1.2" />
<line x1="231.36" y1="336.3" x2="231.36" y2="339.6" stroke="#111" stroke-width="1.2" />
<text x="182.1" y="293.59" font-size="7.3" font-weight="bold" text-anchor="end" fill="#111" >0.4</text>
<text x="231.36" y="347.9" font-size="7.3" font-weight="bold" text-anchor="middle" fill="#111" >0.4</text>
<line x1="182.9" y1="269.15999999999997" x2="186.4" y2="269.15999999999997" stroke="#111" stroke-width="1.2" />
<line x1="253.84000000000003" y1="336.3" x2="253.84000000000003" y2="339.6" stroke="#111" stroke-width="1.2" />
<text x="182.1" y="271.21" font-size="7.3" font-weight="bold" text-anchor="end" fill="#111" >0.6</text>
<text x="253.84" y="347.9" font-size="7.3" font-weight="bold" text-anchor="middle" fill="#111" >0.6</text>
<line x1="182.9" y1="246.78" x2="186.4" y2="246.78" stroke="#111" stroke-width="1.2" />
<line x1="276.32000000000005" y1="336.3" x2="276.32000000000005" y2="339.6" stroke="#111" stroke-width="1.2" />
<text x="182.1" y="248.83" font-size="7.3" font-weight="bold" text-anchor="end" fill="#111" >0.8</text>
<text x="276.32" y="347.9" font-size="7.3" font-weight="bold" text-anchor="middle" fill="#111" >0.8</text>
<line x1="182.9" y1="224.4" x2="186.4" y2="224.4" stroke="#111" stroke-width="1.2" />
<line x1="298.8" y1="336.3" x2="298.8" y2="339.6" stroke="#111" stroke-width="1.2" />
<text x="182.1" y="226.45" font-size="7.3" font-weight="bold" text-anchor="end" fill="#111" >1.0</text>
<text x="298.8" y="347.9" font-size="7.3" font-weight="bold" text-anchor="middle" fill="#111" >1.0</text>
<text x="242.6" y="359.8" font-size="8.6" font-weight="bold" text-anchor="middle" fill="#111" >Normal</text>
<text x="0" y="0" font-size="9.0" font-weight="bold" text-anchor="middle" fill="#111" transform="translate(165.0 280.35) rotate(-90)">Type3</text>
<line x1="364" y1="48.52" x2="364" y2="162.6" stroke="#111" stroke-width="1.3" />
<line x1="363.4" y1="162" x2="477" y2="162" stroke="#111" stroke-width="1.3" />
<line x1="360.5" y1="162.0" x2="364" y2="162.0" stroke="#111" stroke-width="1.2" />
<text x="359.9" y="164.15" font-size="8.2" font-weight="bold" text-anchor="end" fill="#111" letter-spacing="-0.25">0</text>
<line x1="360.5" y1="133.78" x2="364" y2="133.78" stroke="#111" stroke-width="1.2" />
<text x="359.9" y="135.93" font-size="8.2" font-weight="bold" text-anchor="end" fill="#111" letter-spacing="-0.25">5000</text>
<line x1="360.5" y1="105.56" x2="364" y2="105.56" stroke="#111" stroke-width="1.2" />
<text x="359.9" y="107.71" font-size="8.2" font-weight="bold" text-anchor="end" fill="#111" letter-spacing="-0.25">10000</text>
<line x1="360.5" y1="77.34" x2="364" y2="77.34" stroke="#111" stroke-width="1.2" />
<text x="359.9" y="79.49" font-size="8.2" font-weight="bold" text-anchor="end" fill="#111" letter-spacing="-0.25">15000</text>
<line x1="360.5" y1="49.120000000000005" x2="364" y2="49.120000000000005" stroke="#111" stroke-width="1.2" />
<text x="359.9" y="51.27" font-size="8.2" font-weight="bold" text-anchor="end" fill="#111" letter-spacing="-0.25">20000</text>
<line x1="378" y1="162" x2="378" y2="165.3" stroke="#111" stroke-width="1.2" />
<text x="0" y="0" font-size="8.9" font-weight="bold" text-anchor="end" fill="#111" transform="translate(381.6 174.4) rotate(-45)">Normal</text>
<line x1="406" y1="162" x2="406" y2="165.3" stroke="#111" stroke-width="1.2" />
<text x="0" y="0" font-size="8.9" font-weight="bold" text-anchor="end" fill="#111" transform="translate(409.6 174.4) rotate(-45)">Type1</text>
<line x1="434" y1="162" x2="434" y2="165.3" stroke="#111" stroke-width="1.2" />
<text x="0" y="0" font-size="8.9" font-weight="bold" text-anchor="end" fill="#111" transform="translate(437.6 174.4) rotate(-45)">Type2</text>
<line x1="462.3" y1="162" x2="462.3" y2="165.3" stroke="#111" stroke-width="1.2" />
<text x="0" y="0" font-size="8.9" font-weight="bold" text-anchor="end" fill="#111" transform="translate(465.90000000000003 174.4) rotate(-45)">Type3</text>
<text x="0" y="0" font-size="9.0" font-weight="bold" text-anchor="middle" fill="#111" transform="translate(331.2 104.6) rotate(-90)">Methylated CGIs (n)</text>
<line x1="367.8" y1="144.5" x2="388.2" y2="144.5" stroke="#111" stroke-width="1.5" />
<line x1="378" y1="144.0" x2="378" y2="145.0" stroke="#111" stroke-width="1.5" />
<line x1="372.6" y1="144.0" x2="383.4" y2="144.0" stroke="#111" stroke-width="1.5" />
<line x1="372.6" y1="145.0" x2="383.4" y2="145.0" stroke="#111" stroke-width="1.5" />
<line x1="396.0" y1="107" x2="416.4" y2="107" stroke="#111" stroke-width="1.5" />
<line x1="406.2" y1="100.6" x2="406.2" y2="114" stroke="#111" stroke-width="1.5" />
<line x1="400.8" y1="100.6" x2="411.59999999999997" y2="100.6" stroke="#111" stroke-width="1.5" />
<line x1="400.8" y1="114" x2="411.59999999999997" y2="114" stroke="#111" stroke-width="1.5" />
<line x1="424.6" y1="71.6" x2="445.0" y2="71.6" stroke="#111" stroke-width="1.5" />
<line x1="434.8" y1="61.5" x2="434.8" y2="80.8" stroke="#111" stroke-width="1.5" />
<line x1="429.40000000000003" y1="61.5" x2="440.2" y2="61.5" stroke="#111" stroke-width="1.5" />
<line x1="429.40000000000003" y1="80.8" x2="440.2" y2="80.8" stroke="#111" stroke-width="1.5" />
<line x1="452.40000000000003" y1="66.8" x2="472.8" y2="66.8" stroke="#111" stroke-width="1.5" />
<line x1="462.6" y1="66.0" x2="462.6" y2="67.6" stroke="#111" stroke-width="1.5" />
<line x1="457.20000000000005" y1="66.0" x2="468.0" y2="66.0" stroke="#111" stroke-width="1.5" />
<line x1="457.20000000000005" y1="67.6" x2="468.0" y2="67.6" stroke="#111" stroke-width="1.5" />
<text x="428.6" y="48.7" font-size="9.2" font-weight="bold" fill="#111"><tspan font-style="italic">P</tspan>=0.002</text>
<line x1="362.7" y1="222.40000000000003" x2="362.7" y2="336.20000000000005" stroke="#111" stroke-width="1.3" />
<line x1="362.09999999999997" y1="335.6" x2="475.6" y2="335.6" stroke="#111" stroke-width="1.3" />
<line x1="359.2" y1="335.6" x2="362.7" y2="335.6" stroke="#111" stroke-width="1.2" />
<text x="358.2" y="338.2" font-size="7.4" font-weight="bold" text-anchor="end" fill="#111" letter-spacing="-0.3">0</text>
<line x1="359.2" y1="313.08000000000004" x2="362.7" y2="313.08000000000004" stroke="#111" stroke-width="1.2" />
<text x="358.2" y="315.68" font-size="7.4" font-weight="bold" text-anchor="end" fill="#111" letter-spacing="-0.3">20</text>
<line x1="359.2" y1="290.56" x2="362.7" y2="290.56" stroke="#111" stroke-width="1.2" />
<text x="358.2" y="293.16" font-size="7.4" font-weight="bold" text-anchor="end" fill="#111" letter-spacing="-0.3">40</text>
<line x1="359.2" y1="268.04" x2="362.7" y2="268.04" stroke="#111" stroke-width="1.2" />
<text x="358.2" y="270.64" font-size="7.4" font-weight="bold" text-anchor="end" fill="#111" letter-spacing="-0.3">60</text>
<line x1="359.2" y1="245.52000000000004" x2="362.7" y2="245.52000000000004" stroke="#111" stroke-width="1.2" />
<text x="358.2" y="248.12" font-size="7.4" font-weight="bold" text-anchor="end" fill="#111" letter-spacing="-0.3">80</text>
<line x1="359.2" y1="223.00000000000003" x2="362.7" y2="223.00000000000003" stroke="#111" stroke-width="1.2" />
<text x="358.2" y="225.6" font-size="7.4" font-weight="bold" text-anchor="end" fill="#111" letter-spacing="-0.3">100</text>
<rect x="375.9" y="223.00000000000003" width="30.5" height="44.36440000000002" fill="#000" />
<rect x="375.9" y="267.36440000000005" width="30.5" height="7.431600000000003" fill="#8a8a8a" />
<rect x="375.9" y="223.00000000000003" width="30.5" height="112.6" fill="none" stroke="#111" stroke-width="1.3"/>
<line x1="375.9" y1="274.79600000000005" x2="406.4" y2="274.79600000000005" stroke="#111" stroke-width="1.3" />
<rect x="431.9" y="223.00000000000003" width="30.5" height="27.81219999999999" fill="#000" />
<rect x="431.9" y="250.81220000000002" width="30.5" height="21.73180000000002" fill="#8a8a8a" />
<rect x="431.9" y="223.00000000000003" width="30.5" height="112.6" fill="none" stroke="#111" stroke-width="1.3"/>
<line x1="431.9" y1="272.54400000000004" x2="462.4" y2="272.54400000000004" stroke="#111" stroke-width="1.3" />
<path d="M385.8 219.6V212.4H450.7V219.6" fill="none" stroke="#111" stroke-width="1.2"/>
<text x="403.0" y="208.7" font-size="9.2" font-weight="normal" fill="#111" stroke="#111" stroke-width="0.25"><tspan font-style="italic">P</tspan>=0.04</text>
<rect x="472.6" y="225.6" width="12.4" height="5.9" rx="0.9" fill="#8a8a8a" stroke="#111" stroke-width="1.1"/>
<text x="479.2" y="241.3" font-size="8.9" font-weight="bold" text-anchor="middle" fill="#111" >UP</text>
<rect x="472.6" y="254.3" width="12.4" height="5.9" rx="0.9" fill="#000" stroke="#111" stroke-width="1.1"/>
<text x="479.2" y="270.0" font-size="8.9" font-weight="bold" text-anchor="middle" fill="#111" >Down</text>
<rect x="472.6" y="281.7" width="12.4" height="5.9" rx="0.9" fill="#fff" stroke="#111" stroke-width="1.1"/>
<text x="479.2" y="297.4" font-size="8.9" font-weight="bold" text-anchor="middle" fill="#111" >No</text>
<text x="479.2" y="308.4" font-size="8.9" font-weight="bold" text-anchor="middle" fill="#111" >change</text>
<text x="0" y="0" font-size="9.6" font-weight="normal" text-anchor="middle" fill="#111" transform="translate(339.4 279.2) rotate(-90)">(%)</text>
<text x="391" y="348.2" font-size="8.6" font-weight="bold" text-anchor="middle" fill="#111" >Gradually</text>
<text x="391" y="358.5" font-size="8.6" font-weight="bold" text-anchor="middle" fill="#111" >methylated</text>
<text x="391" y="368.8" font-size="8.6" font-weight="bold" text-anchor="middle" fill="#111" >(41 genes)</text>
<text x="449.3" y="349.3" font-size="8.6" font-weight="bold" text-anchor="middle" fill="#111" >Others</text>
<text x="449.3" y="360.1" font-size="8.6" font-weight="bold" text-anchor="middle" fill="#111" >(231 genes)</text>
<rect x="515.3" y="219.9" width="128.4" height="2.0" fill="#e31b23" />
<rect x="515.3" y="223.43" width="114.6" height="2.0" fill="#e31b23" />
<rect x="515.3" y="226.95" width="114.6" height="2.0" fill="#e31b23" />
<rect x="515.3" y="230.47" width="114.0" height="2.0" fill="#e31b23" />
<rect x="515.3" y="234.0" width="112.8" height="2.0" fill="#e31b23" />
<rect x="515.3" y="237.53" width="112.6" height="2.0" fill="#e31b23" />
<rect x="515.3" y="241.05" width="111.7" height="2.0" fill="#e31b23" />
<rect x="515.3" y="244.58" width="111.4" height="2.0" fill="#e31b23" />
<rect x="515.3" y="248.1" width="111.1" height="2.0" fill="#e31b23" />
<rect x="515.3" y="251.62" width="111.1" height="2.0" fill="#e31b23" />
<rect x="515.3" y="255.15" width="109.7" height="2.0" fill="#e31b23" />
<rect x="515.3" y="258.68" width="108.2" height="2.0" fill="#e31b23" />
<rect x="515.3" y="262.2" width="107.7" height="2.0" fill="#e31b23" />
<rect x="515.3" y="265.73" width="107.6" height="2.0" fill="#e31b23" />
<rect x="515.3" y="269.25" width="107.2" height="2.0" fill="#e31b23" />
<rect x="515.3" y="272.77" width="100.9" height="2.0" fill="#e31b23" />
<rect x="515.3" y="276.3" width="87.0" height="2.0" fill="#e31b23" />
<rect x="515.3" y="279.82" width="82.4" height="2.0" fill="#e31b23" />
<rect x="515.3" y="283.35" width="78.7" height="2.0" fill="#111" />
<rect x="515.3" y="286.88" width="77.6" height="2.0" fill="#e31b23" />
<rect x="515.3" y="290.4" width="74.2" height="2.0" fill="#111" />
<rect x="515.3" y="293.93" width="69.3" height="2.0" fill="#111" />
<rect x="515.3" y="297.45" width="58.7" height="2.0" fill="#e31b23" />
<rect x="515.3" y="300.98" width="32.0" height="2.0" fill="#e31b23" />
<rect x="515.3" y="304.5" width="28.7" height="2.0" fill="#111" />
<rect x="515.3" y="308.02" width="26.5" height="2.0" fill="#e31b23" />
<rect x="515.3" y="311.55" width="26.5" height="2.0" fill="#111" />
<rect x="515.3" y="315.07" width="25.2" height="2.0" fill="#111" />
<rect x="515.3" y="318.6" width="20.0" height="2.0" fill="#111" />
<rect x="515.3" y="322.12" width="18.7" height="2.0" fill="#e31b23" />
<rect x="515.3" y="325.65" width="14.7" height="2.0" fill="#111" />
<rect x="515.3" y="329.18" width="12.6" height="2.0" fill="#111" />
<rect x="515.3" y="332.7" width="5.8" height="2.0" fill="#111" />
<line x1="515.3" y1="218" x2="515.3" y2="336.20000000000005" stroke="#111" stroke-width="1.3" />
<line x1="514.3" y1="335.6" x2="654.3" y2="335.6" stroke="#111" stroke-width="1.3" />
<line x1="529.0" y1="335.6" x2="529.0" y2="338.90000000000003" stroke="#111" stroke-width="1.2" />
<text x="529.0" y="347.8" font-size="8.2" font-weight="bold" text-anchor="middle" fill="#111" >2</text>
<line x1="556.72" y1="335.6" x2="556.72" y2="338.90000000000003" stroke="#111" stroke-width="1.2" />
<text x="556.72" y="347.8" font-size="8.2" font-weight="bold" text-anchor="middle" fill="#111" >3</text>
<line x1="584.44" y1="335.6" x2="584.44" y2="338.90000000000003" stroke="#111" stroke-width="1.2" />
<text x="584.44" y="347.8" font-size="8.2" font-weight="bold" text-anchor="middle" fill="#111" >4</text>
<line x1="612.16" y1="335.6" x2="612.16" y2="338.90000000000003" stroke="#111" stroke-width="1.2" />
<text x="612.16" y="347.8" font-size="8.2" font-weight="bold" text-anchor="middle" fill="#111" >5</text>
<line x1="639.88" y1="335.6" x2="639.88" y2="338.90000000000003" stroke="#111" stroke-width="1.2" />
<text x="639.88" y="347.8" font-size="8.2" font-weight="bold" text-anchor="middle" fill="#111" >6</text>
<text x="585" y="361.3" font-size="9.6" font-weight="bold" text-anchor="middle" fill="#111" >-log10 (P value)</text>
<line x1="596" y1="300.7" x2="610.2" y2="300.7" stroke="#e31b23" stroke-width="2.4" />
<line x1="596" y1="319.6" x2="610.2" y2="319.6" stroke="#111" stroke-width="2.4" />
<text x="612.2" y="303.9" font-size="8.7" font-weight="bold" text-anchor="start" fill="#111" >Zinc related</text>
<text x="612.2" y="322.9" font-size="8.7" font-weight="bold" text-anchor="start" fill="#111" >Others</text>
<rect x="515.2" y="43.1" width="13.2" height="9.8" fill="#1010e0" />
<rect x="529.55" y="43.1" width="13.2" height="9.8" fill="#1010e0" />
<rect x="543.9" y="43.1" width="13.2" height="9.8" fill="#f8b800" />
<rect x="558.25" y="43.1" width="13.2" height="9.8" fill="#f8b800" />
<rect x="572.6" y="43.1" width="13.2" height="9.8" fill="#f00000" />
<rect x="586.95" y="43.1" width="13.2" height="9.8" fill="#f00000" />
<rect x="601.3" y="43.1" width="13.2" height="9.8" fill="#080808" />
<rect x="615.65" y="43.1" width="13.2" height="9.8" fill="#080808" />
<rect x="514.7" y="54.1" width="15.04" height="2.5" fill="#00ff00" />
<rect x="514.7" y="56" width="15.04" height="1.6" fill="#00ee00" />
<rect x="514.7" y="57" width="15.04" height="1.6" fill="#00e400" />
<rect x="514.7" y="58" width="15.04" height="1.6" fill="#00d200" />
<rect x="514.7" y="59" width="15.04" height="1.6" fill="#00df00" />
<rect x="514.7" y="60" width="15.04" height="1.6" fill="#00e000" />
<rect x="514.7" y="61" width="15.04" height="1.6" fill="#00e800" />
<rect x="514.7" y="62" width="15.04" height="1.6" fill="#00c800" />
<rect x="514.7" y="63" width="15.04" height="1.6" fill="#00c600" />
<rect x="514.7" y="64" width="15.04" height="1.6" fill="#00e500" />
<rect x="514.7" y="65" width="15.04" height="1.6" fill="#00de00" />
<rect x="514.7" y="66" width="15.04" height="1.6" fill="#00cc00" />
<rect x="514.7" y="67" width="15.04" height="1.6" fill="#00d500" />
<rect x="514.7" y="68" width="15.04" height="1.6" fill="#00ce00" />
<rect x="514.7" y="69" width="15.04" height="1.6" fill="#00e900" />
<rect x="514.7" y="70" width="15.04" height="1.6" fill="#00d300" />
<rect x="514.7" y="71" width="15.04" height="1.6" fill="#00c800" />
<rect x="514.7" y="72" width="15.04" height="1.6" fill="#00c500" />
<rect x="514.7" y="73" width="15.04" height="1.6" fill="#00bb00" />
<rect x="514.7" y="74" width="15.04" height="1.6" fill="#00ab00" />
<rect x="514.7" y="75" width="15.04" height="1.6" fill="#00ac00" />
<rect x="514.7" y="76" width="15.04" height="2.6" fill="#00af00" />
<rect x="514.7" y="78" width="15.04" height="1.6" fill="#00d000" />
<rect x="514.7" y="79" width="15.04" height="1.6" fill="#00c700" />
<rect x="514.7" y="80" width="15.04" height="1.6" fill="#00d300" />
<rect x="514.7" y="81" width="15.04" height="1.6" fill="#00c100" />
<rect x="514.7" y="82" width="15.04" height="1.6" fill="#00ce00" />
<rect x="514.7" y="83" width="15.04" height="1.6" fill="#00d700" />
<rect x="514.7" y="84" width="15.04" height="1.6" fill="#00ec00" />
<rect x="514.7" y="85" width="15.04" height="1.6" fill="#00e500" />
<rect x="514.7" y="86" width="15.04" height="1.6" fill="#00cb00" />
<rect x="514.7" y="87" width="15.04" height="1.6" fill="#00e600" />
<rect x="514.7" y="88" width="15.04" height="1.6" fill="#00df00" />
<rect x="514.7" y="89" width="15.04" height="1.6" fill="#00ef00" />
<rect x="514.7" y="90" width="15.04" height="1.6" fill="#00e100" />
<rect x="514.7" y="91" width="15.04" height="1.6" fill="#00ed00" />
<rect x="514.7" y="92" width="15.04" height="1.6" fill="#00e000" />
<rect x="514.7" y="93" width="15.04" height="1.6" fill="#00c400" />
<rect x="514.7" y="94" width="15.04" height="1.6" fill="#00d100" />
<rect x="514.7" y="95" width="15.04" height="1.6" fill="#00d700" />
<rect x="514.7" y="96" width="15.04" height="1.6" fill="#00d400" />
<rect x="514.7" y="97" width="15.04" height="1.6" fill="#00cc00" />
<rect x="514.7" y="98" width="15.04" height="1.6" fill="#00b900" />
<rect x="514.7" y="99" width="15.04" height="1.6" fill="#00b200" />
<rect x="514.7" y="100" width="15.04" height="1.6" fill="#00b700" />
<rect x="514.7" y="101" width="15.04" height="1.6" fill="#00d500" />
<rect x="514.7" y="102" width="15.04" height="1.6" fill="#00a900" />
<rect x="514.7" y="103" width="15.04" height="1.6" fill="#00bc00" />
<rect x="514.7" y="104" width="15.04" height="1.6" fill="#00c800" />
<rect x="514.7" y="105" width="15.04" height="1.6" fill="#00bc00" />
<rect x="514.7" y="106" width="15.04" height="1.6" fill="#00c100" />
<rect x="514.7" y="107" width="15.04" height="1.6" fill="#00c000" />
<rect x="514.7" y="108" width="15.04" height="1.6" fill="#00af00" />
<rect x="514.7" y="109" width="15.04" height="1.6" fill="#00a900" />
<rect x="514.7" y="110" width="15.04" height="1.6" fill="#00ae00" />
<rect x="514.7" y="111" width="15.04" height="1.6" fill="#00a300" />
<rect x="514.7" y="112" width="15.04" height="1.6" fill="#009900" />
<rect x="514.7" y="113" width="15.04" height="1.6" fill="#008e00" />
<rect x="514.7" y="114" width="15.04" height="1.6" fill="#00a600" />
<rect x="514.7" y="115" width="15.04" height="2.6" fill="#009e00" />
<rect x="514.7" y="117" width="15.04" height="1.6" fill="#00bb00" />
<rect x="514.7" y="118" width="15.04" height="1.6" fill="#00b400" />
<rect x="514.7" y="119" width="15.04" height="1.6" fill="#00d600" />
<rect x="514.7" y="120" width="15.04" height="1.6" fill="#00e500" />
<rect x="514.7" y="121" width="15.04" height="1.6" fill="#00e800" />
<rect x="514.7" y="122" width="15.04" height="1.6" fill="#00d700" />
<rect x="514.7" y="123" width="15.04" height="1.6" fill="#00ee00" />
<rect x="514.7" y="124" width="15.04" height="1.6" fill="#00ea00" />
<rect x="514.7" y="125" width="15.04" height="1.6" fill="#00ec00" />
<rect x="514.7" y="126" width="15.04" height="1.6" fill="#00e200" />
<rect x="514.7" y="127" width="15.04" height="2.6" fill="#00ff00" />
<rect x="514.7" y="129" width="15.04" height="1.6" fill="#00ed00" />
<rect x="514.7" y="130" width="15.04" height="1.6" fill="#003d00" />
<rect x="514.7" y="131" width="15.04" height="1.6" fill="#004300" />
<rect x="514.7" y="132" width="15.04" height="1.6" fill="#004800" />
<rect x="514.7" y="133" width="15.04" height="1.6" fill="#00c800" />
<rect x="514.7" y="134" width="15.04" height="1.6" fill="#00d300" />
<rect x="514.7" y="135" width="15.04" height="1.6" fill="#00c600" />
<rect x="514.7" y="136" width="15.04" height="1.6" fill="#00db00" />
<rect x="514.7" y="137" width="15.04" height="1.6" fill="#00e900" />
<rect x="514.7" y="138" width="15.04" height="1.6" fill="#00e600" />
<rect x="514.7" y="139" width="15.04" height="1.6" fill="#00cb00" />
<rect x="514.7" y="140" width="15.04" height="1.6" fill="#006500" />
<rect x="514.7" y="141" width="15.04" height="1.6" fill="#006c00" />
<rect x="514.7" y="142" width="15.04" height="1.6" fill="#007c00" />
<rect x="514.7" y="143" width="15.04" height="1.6" fill="#008c00" />
<rect x="514.7" y="144" width="15.04" height="1.6" fill="#008500" />
<rect x="514.7" y="145" width="15.04" height="1.6" fill="#007100" />
<rect x="514.7" y="146" width="15.04" height="1.6" fill="#007000" />
<rect x="514.7" y="147" width="15.04" height="1.6" fill="#008400" />
<rect x="514.7" y="148" width="15.04" height="1.6" fill="#002500" />
<rect x="514.7" y="149" width="15.04" height="1.6" fill="#002000" />
<rect x="514.7" y="150" width="15.04" height="1.6" fill="#00d700" />
<rect x="514.7" y="151" width="15.04" height="1.6" fill="#00d100" />
<rect x="514.7" y="152" width="15.04" height="1.6" fill="#00d800" />
<rect x="514.7" y="153" width="15.04" height="1.6" fill="#00bb00" />
<rect x="514.7" y="154" width="15.04" height="1.6" fill="#00d200" />
<rect x="514.7" y="155" width="15.04" height="1.6" fill="#00e500" />
<rect x="514.7" y="156" width="15.04" height="1.6" fill="#00d200" />
<rect x="514.7" y="157" width="15.04" height="1.6" fill="#00d900" />
<rect x="514.7" y="158" width="15.04" height="1.6" fill="#0e3a0e" />
<rect x="514.7" y="159" width="15.04" height="1.6" fill="#0f3f0f" />
<rect x="514.7" y="160" width="15.04" height="1.6" fill="#0f3c0f" />
<rect x="514.7" y="161" width="15.04" height="1.6" fill="#114511" />
<rect x="514.7" y="162" width="15.04" height="1.6" fill="#104210" />
<rect x="514.7" y="163" width="15.04" height="1.6" fill="#104110" />
<rect x="514.7" y="164" width="15.04" height="2.6" fill="#000000" />
<rect x="514.7" y="166" width="15.04" height="1.6" fill="#00c800" />
<rect x="514.7" y="167" width="15.04" height="1.6" fill="#00aa00" />
<rect x="514.7" y="168" width="15.04" height="1.6" fill="#009b00" />
<rect x="514.7" y="169" width="15.04" height="1.6" fill="#008b00" />
<rect x="514.7" y="170" width="15.04" height="1.6" fill="#120000" />
<rect x="514.7" y="171" width="15.04" height="1.6" fill="#140000" />
<rect x="514.7" y="172" width="15.04" height="1.6" fill="#110000" />
<rect x="514.7" y="173" width="15.04" height="2.6" fill="#100000" />
<rect x="514.7" y="175" width="15.04" height="1.6" fill="#0f0000" />
<rect x="514.7" y="176" width="15.04" height="1.6" fill="#0e0000" />
<rect x="514.7" y="177" width="15.04" height="1.6" fill="#110000" />
<rect x="514.7" y="178" width="15.04" height="1.6" fill="#790000" />
<rect x="514.7" y="179" width="15.04" height="1.6" fill="#840000" />
<rect x="514.7" y="180" width="15.04" height="1.6" fill="#7c0000" />
<rect x="514.7" y="181" width="15.04" height="1.6" fill="#7f0000" />
<rect x="514.7" y="182" width="15.04" height="1.6" fill="#780000" />
<rect x="514.7" y="183" width="15.04" height="1.6" fill="#700000" />
<rect x="514.7" y="184" width="15.04" height="1.6" fill="#d00000" />
<rect x="514.7" y="185" width="15.04" height="0.3" fill="#ce0000" />
<rect x="529.04" y="54.1" width="15.04" height="2.5" fill="#00ff00" />
<rect x="529.04" y="56" width="15.04" height="1.6" fill="#00ee00" />
<rect x="529.04" y="57" width="15.04" height="1.6" fill="#00e400" />
<rect x="529.04" y="58" width="15.04" height="1.6" fill="#00d200" />
<rect x="529.04" y="59" width="15.04" height="1.6" fill="#00df00" />
<rect x="529.04" y="60" width="15.04" height="1.6" fill="#00e000" />
<rect x="529.04" y="61" width="15.04" height="1.6" fill="#00e800" />
<rect x="529.04" y="62" width="15.04" height="1.6" fill="#00c800" />
<rect x="529.04" y="63" width="15.04" height="1.6" fill="#00c600" />
<rect x="529.04" y="64" width="15.04" height="1.6" fill="#00e500" />
<rect x="529.04" y="65" width="15.04" height="1.6" fill="#00de00" />
<rect x="529.04" y="66" width="15.04" height="1.6" fill="#00cc00" />
<rect x="529.04" y="67" width="15.04" height="1.6" fill="#00d500" />
<rect x="529.04" y="68" width="15.04" height="1.6" fill="#00ce00" />
<rect x="529.04" y="69" width="15.04" height="1.6" fill="#00e900" />
<rect x="529.04" y="70" width="15.04" height="1.6" fill="#00d300" />
<rect x="529.04" y="71" width="15.04" height="1.6" fill="#00c800" />
<rect x="529.04" y="72" width="15.04" height="1.6" fill="#00c500" />
<rect x="529.04" y="73" width="15.04" height="1.6" fill="#00bb00" />
<rect x="529.04" y="74" width="15.04" height="1.6" fill="#00ab00" />
<rect x="529.04" y="75" width="15.04" height="1.6" fill="#00ac00" />
<rect x="529.04" y="76" width="15.04" height="2.6" fill="#00af00" />
<rect x="529.04" y="78" width="15.04" height="1.6" fill="#00d000" />
<rect x="529.04" y="79" width="15.04" height="1.6" fill="#00c700" />
<rect x="529.04" y="80" width="15.04" height="1.6" fill="#00d300" />
<rect x="529.04" y="81" width="15.04" height="1.6" fill="#00c100" />
<rect x="529.04" y="82" width="15.04" height="1.6" fill="#00ce00" />
<rect x="529.04" y="83" width="15.04" height="1.6" fill="#00d700" />
<rect x="529.04" y="84" width="15.04" height="1.6" fill="#00ec00" />
<rect x="529.04" y="85" width="15.04" height="1.6" fill="#00e500" />
<rect x="529.04" y="86" width="15.04" height="1.6" fill="#00cb00" />
<rect x="529.04" y="87" width="15.04" height="1.6" fill="#00e600" />
<rect x="529.04" y="88" width="15.04" height="1.6" fill="#00df00" />
<rect x="529.04" y="89" width="15.04" height="1.6" fill="#00ef00" />
<rect x="529.04" y="90" width="15.04" height="1.6" fill="#00e100" />
<rect x="529.04" y="91" width="15.04" height="1.6" fill="#00ed00" />
<rect x="529.04" y="92" width="15.04" height="1.6" fill="#00e000" />
<rect x="529.04" y="93" width="15.04" height="1.6" fill="#00c400" />
<rect x="529.04" y="94" width="15.04" height="1.6" fill="#00d100" />
<rect x="529.04" y="95" width="15.04" height="1.6" fill="#00d700" />
<rect x="529.04" y="96" width="15.04" height="1.6" fill="#00d400" />
<rect x="529.04" y="97" width="15.04" height="1.6" fill="#00cc00" />
<rect x="529.04" y="98" width="15.04" height="1.6" fill="#00b900" />
<rect x="529.04" y="99" width="15.04" height="1.6" fill="#00b200" />
<rect x="529.04" y="100" width="15.04" height="1.6" fill="#00b700" />
<rect x="529.04" y="101" width="15.04" height="1.6" fill="#00d500" />
<rect x="529.04" y="102" width="15.04" height="1.6" fill="#00a900" />
<rect x="529.04" y="103" width="15.04" height="1.6" fill="#00bc00" />
<rect x="529.04" y="104" width="15.04" height="1.6" fill="#00c800" />
<rect x="529.04" y="105" width="15.04" height="1.6" fill="#00bc00" />
<rect x="529.04" y="106" width="15.04" height="1.6" fill="#00c100" />
<rect x="529.04" y="107" width="15.04" height="1.6" fill="#00c000" />
<rect x="529.04" y="108" width="15.04" height="1.6" fill="#00af00" />
<rect x="529.04" y="109" width="15.04" height="1.6" fill="#00a900" />
<rect x="529.04" y="110" width="15.04" height="1.6" fill="#00ae00" />
<rect x="529.04" y="111" width="15.04" height="1.6" fill="#00a300" />
<rect x="529.04" y="112" width="15.04" height="1.6" fill="#009900" />
<rect x="529.04" y="113" width="15.04" height="1.6" fill="#008e00" />
<rect x="529.04" y="114" width="15.04" height="1.6" fill="#00a600" />
<rect x="529.04" y="115" width="15.04" height="2.6" fill="#009e00" />
<rect x="529.04" y="117" width="15.04" height="1.6" fill="#00bb00" />
<rect x="529.04" y="118" width="15.04" height="1.6" fill="#00b400" />
<rect x="529.04" y="119" width="15.04" height="1.6" fill="#00d600" />
<rect x="529.04" y="120" width="15.04" height="1.6" fill="#00e500" />
<rect x="529.04" y="121" width="15.04" height="1.6" fill="#00e800" />
<rect x="529.04" y="122" width="15.04" height="1.6" fill="#00d700" />
<rect x="529.04" y="123" width="15.04" height="1.6" fill="#00ee00" />
<rect x="529.04" y="124" width="15.04" height="1.6" fill="#00ea00" />
<rect x="529.04" y="125" width="15.04" height="1.6" fill="#00ec00" />
<rect x="529.04" y="126" width="15.04" height="1.6" fill="#00e200" />
<rect x="529.04" y="127" width="15.04" height="2.6" fill="#00ff00" />
<rect x="529.04" y="129" width="15.04" height="1.6" fill="#00ed00" />
<rect x="529.04" y="130" width="15.04" height="1.6" fill="#003d00" />
<rect x="529.04" y="131" width="15.04" height="1.6" fill="#004300" />
<rect x="529.04" y="132" width="15.04" height="1.6" fill="#004800" />
<rect x="529.04" y="133" width="15.04" height="1.6" fill="#00c800" />
<rect x="529.04" y="134" width="15.04" height="1.6" fill="#00d300" />
<rect x="529.04" y="135" width="15.04" height="1.6" fill="#00c600" />
<rect x="529.04" y="136" width="15.04" height="1.6" fill="#00db00" />
<rect x="529.04" y="137" width="15.04" height="1.6" fill="#00e900" />
<rect x="529.04" y="138" width="15.04" height="1.6" fill="#00e600" />
<rect x="529.04" y="139" width="15.04" height="1.6" fill="#00cb00" />
<rect x="529.04" y="140" width="15.04" height="1.6" fill="#006500" />
<rect x="529.04" y="141" width="15.04" height="1.6" fill="#006c00" />
<rect x="529.04" y="142" width="15.04" height="1.6" fill="#007c00" />
<rect x="529.04" y="143" width="15.04" height="1.6" fill="#008c00" />
<rect x="529.04" y="144" width="15.04" height="1.6" fill="#008500" />
<rect x="529.04" y="145" width="15.04" height="1.6" fill="#007100" />
<rect x="529.04" y="146" width="15.04" height="1.6" fill="#007000" />
<rect x="529.04" y="147" width="15.04" height="1.6" fill="#008400" />
<rect x="529.04" y="148" width="15.04" height="1.6" fill="#002500" />
<rect x="529.04" y="149" width="15.04" height="1.6" fill="#002000" />
<rect x="529.04" y="150" width="15.04" height="1.6" fill="#00d700" />
<rect x="529.04" y="151" width="15.04" height="1.6" fill="#00d100" />
<rect x="529.04" y="152" width="15.04" height="1.6" fill="#00d800" />
<rect x="529.04" y="153" width="15.04" height="1.6" fill="#00bb00" />
<rect x="529.04" y="154" width="15.04" height="1.6" fill="#00d200" />
<rect x="529.04" y="155" width="15.04" height="1.6" fill="#00e500" />
<rect x="529.04" y="156" width="15.04" height="1.6" fill="#00d200" />
<rect x="529.04" y="157" width="15.04" height="1.6" fill="#00d900" />
<rect x="529.04" y="158" width="15.04" height="1.6" fill="#0e3a0e" />
<rect x="529.04" y="159" width="15.04" height="1.6" fill="#0f3f0f" />
<rect x="529.04" y="160" width="15.04" height="1.6" fill="#0f3c0f" />
<rect x="529.04" y="161" width="15.04" height="1.6" fill="#114511" />
<rect x="529.04" y="162" width="15.04" height="1.6" fill="#104210" />
<rect x="529.04" y="163" width="15.04" height="1.6" fill="#104110" />
<rect x="529.04" y="164" width="15.04" height="2.6" fill="#000000" />
<rect x="529.04" y="166" width="15.04" height="1.6" fill="#00c800" />
<rect x="529.04" y="167" width="15.04" height="1.6" fill="#00aa00" />
<rect x="529.04" y="168" width="15.04" height="1.6" fill="#009b00" />
<rect x="529.04" y="169" width="15.04" height="1.6" fill="#008b00" />
<rect x="529.04" y="170" width="15.04" height="1.6" fill="#120000" />
<rect x="529.04" y="171" width="15.04" height="1.6" fill="#140000" />
<rect x="529.04" y="172" width="15.04" height="1.6" fill="#110000" />
<rect x="529.04" y="173" width="15.04" height="2.6" fill="#100000" />
<rect x="529.04" y="175" width="15.04" height="1.6" fill="#0f0000" />
<rect x="529.04" y="176" width="15.04" height="1.6" fill="#0e0000" />
<rect x="529.04" y="177" width="15.04" height="1.6" fill="#110000" />
<rect x="529.04" y="178" width="15.04" height="1.6" fill="#790000" />
<rect x="529.04" y="179" width="15.04" height="1.6" fill="#840000" />
<rect x="529.04" y="180" width="15.04" height="1.6" fill="#7c0000" />
<rect x="529.04" y="181" width="15.04" height="1.6" fill="#7f0000" />
<rect x="529.04" y="182" width="15.04" height="1.6" fill="#780000" />
<rect x="529.04" y="183" width="15.04" height="1.6" fill="#700000" />
<rect x="529.04" y="184" width="15.04" height="1.6" fill="#d00000" />
<rect x="529.04" y="185" width="15.04" height="0.3" fill="#ce0000" />
<rect x="543.38" y="54.1" width="15.04" height="1.5" fill="#00dc00" />
<rect x="543.38" y="55" width="15.04" height="1.6" fill="#00e300" />
<rect x="543.38" y="56" width="15.04" height="1.6" fill="#00e500" />
<rect x="543.38" y="57" width="15.04" height="1.6" fill="#00d800" />
<rect x="543.38" y="58" width="15.04" height="1.6" fill="#00aa00" />
<rect x="543.38" y="59" width="15.04" height="1.6" fill="#00c100" />
<rect x="543.38" y="60" width="15.04" height="1.6" fill="#00ba00" />
<rect x="543.38" y="61" width="15.04" height="1.6" fill="#00c100" />
<rect x="543.38" y="62" width="15.04" height="1.6" fill="#00b200" />
<rect x="543.38" y="63" width="15.04" height="1.6" fill="#005f00" />
<rect x="543.38" y="64" width="15.04" height="1.6" fill="#007600" />
<rect x="543.38" y="65" width="15.04" height="2.6" fill="#008100" />
<rect x="543.38" y="67" width="15.04" height="1.6" fill="#007500" />
<rect x="543.38" y="68" width="15.04" height="1.6" fill="#007c00" />
<rect x="543.38" y="69" width="15.04" height="1.6" fill="#008200" />
<rect x="543.38" y="70" width="15.04" height="1.6" fill="#009200" />
<rect x="543.38" y="71" width="15.04" height="1.6" fill="#008500" />
<rect x="543.38" y="72" width="15.04" height="1.6" fill="#008300" />
<rect x="543.38" y="73" width="15.04" height="1.6" fill="#008b00" />
<rect x="543.38" y="74" width="15.04" height="1.6" fill="#006a00" />
<rect x="543.38" y="75" width="15.04" height="1.6" fill="#007200" />
<rect x="543.38" y="76" width="15.04" height="1.6" fill="#008400" />
<rect x="543.38" y="77" width="15.04" height="1.6" fill="#007a00" />
<rect x="543.38" y="78" width="15.04" height="1.6" fill="#006100" />
<rect x="543.38" y="79" width="15.04" height="1.6" fill="#007d00" />
<rect x="543.38" y="80" width="15.04" height="1.6" fill="#008000" />
<rect x="543.38" y="81" width="15.04" height="1.6" fill="#008100" />
<rect x="543.38" y="82" width="15.04" height="1.6" fill="#008500" />
<rect x="543.38" y="83" width="15.04" height="1.6" fill="#008200" />
<rect x="543.38" y="84" width="15.04" height="1.6" fill="#009d00" />
<rect x="543.38" y="85" width="15.04" height="1.6" fill="#005c00" />
<rect x="543.38" y="86" width="15.04" height="1.6" fill="#006300" />
<rect x="543.38" y="87" width="15.04" height="2.6" fill="#006400" />
<rect x="543.38" y="89" width="15.04" height="1.6" fill="#006100" />
<rect x="543.38" y="90" width="15.04" height="1.6" fill="#005500" />
<rect x="543.38" y="91" width="15.04" height="1.6" fill="#005000" />
<rect x="543.38" y="92" width="15.04" height="1.6" fill="#005b00" />
<rect x="543.38" y="93" width="15.04" height="1.6" fill="#006000" />
<rect x="543.38" y="94" width="15.04" height="1.6" fill="#006800" />
<rect x="543.38" y="95" width="15.04" height="1.6" fill="#006900" />
<rect x="543.38" y="96" width="15.04" height="1.6" fill="#006700" />
<rect x="543.38" y="97" width="15.04" height="1.6" fill="#005900" />
<rect x="543.38" y="98" width="15.04" height="1.6" fill="#005500" />
<rect x="543.38" y="99" width="15.04" height="1.6" fill="#005300" />
<rect x="543.38" y="100" width="15.04" height="1.6" fill="#004d00" />
<rect x="543.38" y="101" width="15.04" height="1.6" fill="#006100" />
<rect x="543.38" y="102" width="15.04" height="2.6" fill="#004200" />
<rect x="543.38" y="104" width="15.04" height="1.6" fill="#004700" />
<rect x="543.38" y="105" width="15.04" height="2.6" fill="#004d00" />
<rect x="543.38" y="107" width="15.04" height="1.6" fill="#004b00" />
<rect x="543.38" y="108" width="15.04" height="2.6" fill="#004200" />
<rect x="543.38" y="110" width="15.04" height="1.6" fill="#002e00" />
<rect x="543.38" y="111" width="15.04" height="1.6" fill="#003400" />
<rect x="543.38" y="112" width="15.04" height="1.6" fill="#002d00" />
<rect x="543.38" y="113" width="15.04" height="1.6" fill="#003500" />
<rect x="543.38" y="114" width="15.04" height="1.6" fill="#003700" />
<rect x="543.38" y="115" width="15.04" height="1.6" fill="#003100" />
<rect x="543.38" y="116" width="15.04" height="1.6" fill="#002f00" />
<rect x="543.38" y="117" width="15.04" height="1.6" fill="#207220" />
<rect x="543.38" y="118" width="15.04" height="1.6" fill="#227722" />
<rect x="543.38" y="119" width="15.04" height="1.6" fill="#052e05" />
<rect x="543.38" y="120" width="15.04" height="2.6" fill="#063306" />
<rect x="543.38" y="122" width="15.04" height="1.6" fill="#063206" />
<rect x="543.38" y="123" width="15.04" height="1.6" fill="#052e05" />
<rect x="543.38" y="124" width="15.04" height="1.6" fill="#063306" />
<rect x="543.38" y="125" width="15.04" height="1.6" fill="#073807" />
<rect x="543.38" y="126" width="15.04" height="1.6" fill="#052f05" />
<rect x="543.38" y="127" width="15.04" height="1.6" fill="#063706" />
<rect x="543.38" y="128" width="15.04" height="1.6" fill="#073b07" />
<rect x="543.38" y="129" width="15.04" height="1.6" fill="#063706" />
<rect x="543.38" y="130" width="15.04" height="1.6" fill="#091803" />
<rect x="543.38" y="131" width="15.04" height="1.6" fill="#091903" />
<rect x="543.38" y="132" width="15.04" height="1.6" fill="#0b1d04" />
<rect x="543.38" y="133" width="15.04" height="1.6" fill="#091f05" />
<rect x="543.38" y="134" width="15.04" height="1.6" fill="#0a2006" />
<rect x="543.38" y="135" width="15.04" height="1.6" fill="#091f05" />
<rect x="543.38" y="136" width="15.04" height="1.6" fill="#091c05" />
<rect x="543.38" y="137" width="15.04" height="1.6" fill="#0a2006" />
<rect x="543.38" y="138" width="15.04" height="1.6" fill="#0a2206" />
<rect x="543.38" y="139" width="15.04" height="1.6" fill="#081c05" />
<rect x="543.38" y="140" width="15.04" height="1.6" fill="#0e0900" />
<rect x="543.38" y="141" width="15.04" height="1.6" fill="#0d0800" />
<rect x="543.38" y="142" width="15.04" height="1.6" fill="#100a00" />
<rect x="543.38" y="143" width="15.04" height="1.6" fill="#130c00" />
<rect x="543.38" y="144" width="15.04" height="1.6" fill="#110a00" />
<rect x="543.38" y="145" width="15.04" height="1.6" fill="#0f0900" />
<rect x="543.38" y="146" width="15.04" height="1.6" fill="#0e0900" />
<rect x="543.38" y="147" width="15.04" height="1.6" fill="#110b00" />
<rect x="543.38" y="148" width="15.04" height="1.6" fill="#1b0000" />
<rect x="543.38" y="149" width="15.04" height="1.6" fill="#190000" />
<rect x="543.38" y="150" width="15.04" height="1.6" fill="#230000" />
<rect x="543.38" y="151" width="15.04" height="2.6" fill="#200000" />
<rect x="543.38" y="153" width="15.04" height="1.6" fill="#1d0000" />
<rect x="543.38" y="154" width="15.04" height="1.6" fill="#1e0000" />
<rect x="543.38" y="155" width="15.04" height="2.6" fill="#210000" />
<rect x="543.38" y="157" width="15.04" height="1.6" fill="#220000" />
<rect x="543.38" y="158" width="15.04" height="1.6" fill="#230000" />
<rect x="543.38" y="159" width="15.04" height="2.6" fill="#240000" />
<rect x="543.38" y="161" width="15.04" height="1.6" fill="#290000" />
<rect x="543.38" y="162" width="15.04" height="1.6" fill="#2b0000" />
<rect x="543.38" y="163" width="15.04" height="1.6" fill="#260000" />
<rect x="543.38" y="164" width="15.04" height="1.6" fill="#2f0000" />
<rect x="543.38" y="165" width="15.04" height="1.6" fill="#3d0000" />
<rect x="543.38" y="166" width="15.04" height="1.6" fill="#3e0000" />
<rect x="543.38" y="167" width="15.04" height="1.6" fill="#3d0000" />
<rect x="543.38" y="168" width="15.04" height="1.6" fill="#350000" />
<rect x="543.38" y="169" width="15.04" height="1.6" fill="#330000" />
<rect x="543.38" y="170" width="15.04" height="1.6" fill="#610000" />
<rect x="543.38" y="171" width="15.04" height="1.6" fill="#600000" />
<rect x="543.38" y="172" width="15.04" height="1.6" fill="#4d0000" />
<rect x="543.38" y="173" width="15.04" height="1.6" fill="#4c0000" />
<rect x="543.38" y="174" width="15.04" height="1.6" fill="#510000" />
<rect x="543.38" y="175" width="15.04" height="1.6" fill="#500000" />
<rect x="543.38" y="176" width="15.04" height="1.6" fill="#4d0000" />
<rect x="543.38" y="177" width="15.04" height="1.6" fill="#480000" />
<rect x="543.38" y="178" width="15.04" height="1.6" fill="#9d0000" />
<rect x="543.38" y="179" width="15.04" height="1.6" fill="#a60000" />
<rect x="543.38" y="180" width="15.04" height="1.6" fill="#9d0000" />
<rect x="543.38" y="181" width="15.04" height="1.6" fill="#950000" />
<rect x="543.38" y="182" width="15.04" height="1.6" fill="#8a0000" />
<rect x="543.38" y="183" width="15.04" height="1.6" fill="#7d0000" />
<rect x="543.38" y="184" width="15.04" height="1.6" fill="#c80000" />
<rect x="543.38" y="185" width="15.04" height="0.3" fill="#cb0000" />
<rect x="557.71" y="54.1" width="15.04" height="1.5" fill="#00db00" />
<rect x="557.71" y="55" width="15.04" height="1.6" fill="#00dc00" />
<rect x="557.71" y="56" width="15.04" height="1.6" fill="#00ee00" />
<rect x="557.71" y="57" width="15.04" height="1.6" fill="#00bb00" />
<rect x="557.71" y="58" width="15.04" height="1.6" fill="#00b700" />
<rect x="557.71" y="59" width="15.04" height="1.6" fill="#00bf00" />
<rect x="557.71" y="60" width="15.04" height="1.6" fill="#00d000" />
<rect x="557.71" y="61" width="15.04" height="1.6" fill="#00c300" />
<rect x="557.71" y="62" width="15.04" height="1.6" fill="#00c500" />
<rect x="557.71" y="63" width="15.04" height="1.6" fill="#005c00" />
<rect x="557.71" y="64" width="15.04" height="1.6" fill="#006e00" />
<rect x="557.71" y="65" width="15.04" height="1.6" fill="#006300" />
<rect x="557.71" y="66" width="15.04" height="1.6" fill="#007400" />
<rect x="557.71" y="67" width="15.04" height="1.6" fill="#006900" />
<rect x="557.71" y="68" width="15.04" height="1.6" fill="#006f00" />
<rect x="557.71" y="69" width="15.04" height="1.6" fill="#007700" />
<rect x="557.71" y="70" width="15.04" height="1.6" fill="#007000" />
<rect x="557.71" y="71" width="15.04" height="1.6" fill="#006e00" />
<rect x="557.71" y="72" width="15.04" height="1.6" fill="#006f00" />
<rect x="557.71" y="73" width="15.04" height="1.6" fill="#007300" />
<rect x="557.71" y="74" width="15.04" height="1.6" fill="#006d00" />
<rect x="557.71" y="75" width="15.04" height="1.6" fill="#007600" />
<rect x="557.71" y="76" width="15.04" height="1.6" fill="#007900" />
<rect x="557.71" y="77" width="15.04" height="1.6" fill="#007200" />
<rect x="557.71" y="78" width="15.04" height="1.6" fill="#004d00" />
<rect x="557.71" y="79" width="15.04" height="2.6" fill="#005200" />
<rect x="557.71" y="81" width="15.04" height="1.6" fill="#005300" />
<rect x="557.71" y="82" width="15.04" height="1.6" fill="#004c00" />
<rect x="557.71" y="83" width="15.04" height="1.6" fill="#006000" />
<rect x="557.71" y="84" width="15.04" height="1.6" fill="#006700" />
<rect x="557.71" y="85" width="15.04" height="1.6" fill="#003500" />
<rect x="557.71" y="86" width="15.04" height="1.6" fill="#002e00" />
<rect x="557.71" y="87" width="15.04" height="1.6" fill="#003a00" />
<rect x="557.71" y="88" width="15.04" height="1.6" fill="#003d00" />
<rect x="557.71" y="89" width="15.04" height="1.6" fill="#003800" />
<rect x="557.71" y="90" width="15.04" height="1.6" fill="#003000" />
<rect x="557.71" y="91" width="15.04" height="1.6" fill="#003800" />
<rect x="557.71" y="92" width="15.04" height="1.6" fill="#002700" />
<rect x="557.71" y="93" width="15.04" height="2.6" fill="#002800" />
<rect x="557.71" y="95" width="15.04" height="1.6" fill="#002b00" />
<rect x="557.71" y="96" width="15.04" height="1.6" fill="#002600" />
<rect x="557.71" y="97" width="15.04" height="1.6" fill="#002700" />
<rect x="557.71" y="98" width="15.04" height="1.6" fill="#002000" />
<rect x="557.71" y="99" width="15.04" height="1.6" fill="#002100" />
<rect x="557.71" y="100" width="15.04" height="1.6" fill="#002000" />
<rect x="557.71" y="101" width="15.04" height="1.6" fill="#002600" />
<rect x="557.71" y="102" width="15.04" height="1.6" fill="#003800" />
<rect x="557.71" y="103" width="15.04" height="1.6" fill="#003700" />
<rect x="557.71" y="104" width="15.04" height="3.6" fill="#003b00" />
<rect x="557.71" y="107" width="15.04" height="1.6" fill="#003d00" />
<rect x="557.71" y="108" width="15.04" height="1.6" fill="#003700" />
<rect x="557.71" y="109" width="15.04" height="1.6" fill="#003200" />
<rect x="557.71" y="110" width="15.04" height="1.6" fill="#002a00" />
<rect x="557.71" y="111" width="15.04" height="1.6" fill="#002400" />
<rect x="557.71" y="112" width="15.04" height="1.6" fill="#002500" />
<rect x="557.71" y="113" width="15.04" height="1.6" fill="#002400" />
<rect x="557.71" y="114" width="15.04" height="1.6" fill="#002b00" />
<rect x="557.71" y="115" width="15.04" height="1.6" fill="#002800" />
<rect x="557.71" y="116" width="15.04" height="1.6" fill="#002700" />
<rect x="557.71" y="117" width="15.04" height="1.6" fill="#1f6e1f" />
<rect x="557.71" y="118" width="15.04" height="1.6" fill="#1c631c" />
<rect x="557.71" y="119" width="15.04" height="1.6" fill="#081405" />
<rect x="557.71" y="120" width="15.04" height="1.6" fill="#0a1906" />
<rect x="557.71" y="121" width="15.04" height="1.6" fill="#0a1806" />
<rect x="557.71" y="122" width="15.04" height="1.6" fill="#091605" />
<rect x="557.71" y="123" width="15.04" height="1.6" fill="#0a1806" />
<rect x="557.71" y="124" width="15.04" height="1.6" fill="#0b1a06" />
<rect x="557.71" y="125" width="15.04" height="1.6" fill="#0a1906" />
<rect x="557.71" y="126" width="15.04" height="1.6" fill="#0a1806" />
<rect x="557.71" y="127" width="15.04" height="1.6" fill="#0b1b06" />
<rect x="557.71" y="128" width="15.04" height="1.6" fill="#0c1d07" />
<rect x="557.71" y="129" width="15.04" height="1.6" fill="#0a1806" />
<rect x="557.71" y="130" width="15.04" height="1.6" fill="#0f0700" />
<rect x="557.71" y="131" width="15.04" height="1.6" fill="#110800" />
<rect x="557.71" y="132" width="15.04" height="1.6" fill="#100800" />
<rect x="557.71" y="133" width="15.04" height="1.6" fill="#140800" />
<rect x="557.71" y="134" width="15.04" height="3.6" fill="#120700" />
<rect x="557.71" y="137" width="15.04" height="3.6" fill="#130700" />
<rect x="557.71" y="140" width="15.04" height="2.6" fill="#160300" />
<rect x="557.71" y="142" width="15.04" height="1.6" fill="#1b0400" />
<rect x="557.71" y="143" width="15.04" height="1.6" fill="#1e0400" />
<rect x="557.71" y="144" width="15.04" height="1.6" fill="#1d0400" />
<rect x="557.71" y="145" width="15.04" height="1.6" fill="#180300" />
<rect x="557.71" y="146" width="15.04" height="1.6" fill="#170300" />
<rect x="557.71" y="147" width="15.04" height="1.6" fill="#1d0400" />
<rect x="557.71" y="148" width="15.04" height="1.6" fill="#270000" />
<rect x="557.71" y="149" width="15.04" height="1.6" fill="#230000" />
<rect x="557.71" y="150" width="15.04" height="1.6" fill="#270000" />
<rect x="557.71" y="151" width="15.04" height="1.6" fill="#250000" />
<rect x="557.71" y="152" width="15.04" height="1.6" fill="#260000" />
<rect x="557.71" y="153" width="15.04" height="2.6" fill="#250000" />
<rect x="557.71" y="155" width="15.04" height="1.6" fill="#2a0000" />
<rect x="557.71" y="156" width="15.04" height="1.6" fill="#2c0000" />
<rect x="557.71" y="157" width="15.04" height="1.6" fill="#280000" />
<rect x="557.71" y="158" width="15.04" height="1.6" fill="#2a0000" />
<rect x="557.71" y="159" width="15.04" height="1.6" fill="#270000" />
<rect x="557.71" y="160" width="15.04" height="1.6" fill="#300000" />
<rect x="557.71" y="161" width="15.04" height="1.6" fill="#330000" />
<rect x="557.71" y="162" width="15.04" height="1.6" fill="#2e0000" />
<rect x="557.71" y="163" width="15.04" height="1.6" fill="#2d0000" />
<rect x="557.71" y="164" width="15.04" height="1.6" fill="#3f0000" />
<rect x="557.71" y="165" width="15.04" height="1.6" fill="#3d0000" />
<rect x="557.71" y="166" width="15.04" height="1.6" fill="#4f0000" />
<rect x="557.71" y="167" width="15.04" height="1.6" fill="#450000" />
<rect x="557.71" y="168" width="15.04" height="1.6" fill="#3b0000" />
<rect x="557.71" y="169" width="15.04" height="1.6" fill="#3e0000" />
<rect x="557.71" y="170" width="15.04" height="1.6" fill="#5c0000" />
<rect x="557.71" y="171" width="15.04" height="1.6" fill="#760000" />
<rect x="557.71" y="172" width="15.04" height="1.6" fill="#550000" />
<rect x="557.71" y="173" width="15.04" height="1.6" fill="#520000" />
<rect x="557.71" y="174" width="15.04" height="1.6" fill="#5b0000" />
<rect x="557.71" y="175" width="15.04" height="1.6" fill="#550000" />
<rect x="557.71" y="176" width="15.04" height="1.6" fill="#520000" />
<rect x="557.71" y="177" width="15.04" height="1.6" fill="#5b0000" />
<rect x="557.71" y="178" width="15.04" height="1.6" fill="#960000" />
<rect x="557.71" y="179" width="15.04" height="1.6" fill="#a50000" />
<rect x="557.71" y="180" width="15.04" height="1.6" fill="#970000" />
<rect x="557.71" y="181" width="15.04" height="1.6" fill="#8b0000" />
<rect x="557.71" y="182" width="15.04" height="1.6" fill="#980000" />
<rect x="557.71" y="183" width="15.04" height="1.6" fill="#850000" />
<rect x="557.71" y="184" width="15.04" height="1.6" fill="#af0000" />
<rect x="557.71" y="185" width="15.04" height="0.3" fill="#b40000" />
<rect x="572.05" y="54.1" width="15.04" height="1.5" fill="#00e300" />
<rect x="572.05" y="55" width="15.04" height="1.6" fill="#00e200" />
<rect x="572.05" y="56" width="15.04" height="1.6" fill="#00e900" />
<rect x="572.05" y="57" width="15.04" height="1.6" fill="#00c300" />
<rect x="572.05" y="58" width="15.04" height="1.6" fill="#00ad00" />
<rect x="572.05" y="59" width="15.04" height="1.6" fill="#00b600" />
<rect x="572.05" y="60" width="15.04" height="1.6" fill="#00bc00" />
<rect x="572.05" y="61" width="15.04" height="1.6" fill="#00d400" />
<rect x="572.05" y="62" width="15.04" height="1.6" fill="#00c200" />
<rect x="572.05" y="63" width="15.04" height="1.6" fill="#003d00" />
<rect x="572.05" y="64" width="15.04" height="1.6" fill="#005100" />
<rect x="572.05" y="65" width="15.04" height="1.6" fill="#004d00" />
<rect x="572.05" y="66" width="15.04" height="2.6" fill="#004a00" />
<rect x="572.05" y="68" width="15.04" height="1.6" fill="#004500" />
<rect x="572.05" y="69" width="15.04" height="1.6" fill="#004e00" />
<rect x="572.05" y="70" width="15.04" height="1.6" fill="#005700" />
<rect x="572.05" y="71" width="15.04" height="1.6" fill="#004900" />
<rect x="572.05" y="72" width="15.04" height="1.6" fill="#005500" />
<rect x="572.05" y="73" width="15.04" height="1.6" fill="#004f00" />
<rect x="572.05" y="74" width="15.04" height="1.6" fill="#004600" />
<rect x="572.05" y="75" width="15.04" height="1.6" fill="#004100" />
<rect x="572.05" y="76" width="15.04" height="1.6" fill="#007300" />
<rect x="572.05" y="77" width="15.04" height="1.6" fill="#006900" />
<rect x="572.05" y="78" width="15.04" height="1.6" fill="#002000" />
<rect x="572.05" y="79" width="15.04" height="3.6" fill="#002400" />
<rect x="572.05" y="82" width="15.04" height="1.6" fill="#001f00" />
<rect x="572.05" y="83" width="15.04" height="1.6" fill="#002800" />
<rect x="572.05" y="84" width="15.04" height="1.6" fill="#002b00" />
<rect x="572.05" y="85" width="15.04" height="2.6" fill="#0f0700" />
<rect x="572.05" y="87" width="15.04" height="3.6" fill="#100800" />
<rect x="572.05" y="90" width="15.04" height="2.6" fill="#100000" />
<rect x="572.05" y="92" width="15.04" height="2.6" fill="#0e0000" />
<rect x="572.05" y="94" width="15.04" height="1.6" fill="#0f0000" />
<rect x="572.05" y="95" width="15.04" height="1.6" fill="#100000" />
<rect x="572.05" y="96" width="15.04" height="1.6" fill="#110000" />
<rect x="572.05" y="97" width="15.04" height="1.6" fill="#0d0000" />
<rect x="572.05" y="98" width="15.04" height="1.6" fill="#0e0000" />
<rect x="572.05" y="99" width="15.04" height="1.6" fill="#0c0000" />
<rect x="572.05" y="100" width="15.04" height="1.6" fill="#0d0000" />
<rect x="572.05" y="101" width="15.04" height="1.6" fill="#0f0000" />
<rect x="572.05" y="102" width="15.04" height="1.6" fill="#001600" />
<rect x="572.05" y="103" width="15.04" height="1.6" fill="#001700" />
<rect x="572.05" y="104" width="15.04" height="4.6" fill="#001a00" />
<rect x="572.05" y="108" width="15.04" height="1.6" fill="#001800" />
<rect x="572.05" y="109" width="15.04" height="1.6" fill="#001600" />
<rect x="572.05" y="110" width="15.04" height="1.6" fill="#110000" />
<rect x="572.05" y="111" width="15.04" height="1.6" fill="#0d0000" />
<rect x="572.05" y="112" width="15.04" height="1.6" fill="#0f0000" />
<rect x="572.05" y="113" width="15.04" height="1.6" fill="#100000" />
<rect x="572.05" y="114" width="15.04" height="1.6" fill="#110000" />
<rect x="572.05" y="115" width="15.04" height="2.6" fill="#0f0000" />
<rect x="572.05" y="117" width="15.04" height="1.6" fill="#1e5c1e" />
<rect x="572.05" y="118" width="15.04" height="1.6" fill="#1c561c" />
<rect x="572.05" y="119" width="15.04" height="1.6" fill="#220000" />
<rect x="572.05" y="120" width="15.04" height="1.6" fill="#260000" />
<rect x="572.05" y="121" width="15.04" height="1.6" fill="#280000" />
<rect x="572.05" y="122" width="15.04" height="1.6" fill="#2b0000" />
<rect x="572.05" y="123" width="15.04" height="1.6" fill="#270000" />
<rect x="572.05" y="124" width="15.04" height="1.6" fill="#2c0000" />
<rect x="572.05" y="125" width="15.04" height="2.6" fill="#280000" />
<rect x="572.05" y="127" width="15.04" height="1.6" fill="#2a0000" />
<rect x="572.05" y="128" width="15.04" height="2.6" fill="#2c0000" />
<rect x="572.05" y="130" width="15.04" height="1.6" fill="#2d0000" />
<rect x="572.05" y="131" width="15.04" height="2.6" fill="#310000" />
<rect x="572.05" y="133" width="15.04" height="2.6" fill="#2c0000" />
<rect x="572.05" y="135" width="15.04" height="1.6" fill="#360000" />
<rect x="572.05" y="136" width="15.04" height="1.6" fill="#310000" />
<rect x="572.05" y="137" width="15.04" height="1.6" fill="#370000" />
<rect x="572.05" y="138" width="15.04" height="1.6" fill="#2f0000" />
<rect x="572.05" y="139" width="15.04" height="1.6" fill="#2c0000" />
<rect x="572.05" y="140" width="15.04" height="2.6" fill="#330000" />
<rect x="572.05" y="142" width="15.04" height="1.6" fill="#3e0000" />
<rect x="572.05" y="143" width="15.04" height="1.6" fill="#3f0000" />
<rect x="572.05" y="144" width="15.04" height="1.6" fill="#3c0000" />
<rect x="572.05" y="145" width="15.04" height="1.6" fill="#340000" />
<rect x="572.05" y="146" width="15.04" height="1.6" fill="#390000" />
<rect x="572.05" y="147" width="15.04" height="1.6" fill="#380000" />
<rect x="572.05" y="148" width="15.04" height="1.6" fill="#420000" />
<rect x="572.05" y="149" width="15.04" height="1.6" fill="#410000" />
<rect x="572.05" y="150" width="15.04" height="1.6" fill="#3c0000" />
<rect x="572.05" y="151" width="15.04" height="1.6" fill="#430000" />
<rect x="572.05" y="152" width="15.04" height="1.6" fill="#390000" />
<rect x="572.05" y="153" width="15.04" height="1.6" fill="#3b0000" />
<rect x="572.05" y="154" width="15.04" height="1.6" fill="#380000" />
<rect x="572.05" y="155" width="15.04" height="1.6" fill="#430000" />
<rect x="572.05" y="156" width="15.04" height="1.6" fill="#460000" />
<rect x="572.05" y="157" width="15.04" height="1.6" fill="#3d0000" />
<rect x="572.05" y="158" width="15.04" height="1.6" fill="#3c0000" />
<rect x="572.05" y="159" width="15.04" height="1.6" fill="#400000" />
<rect x="572.05" y="160" width="15.04" height="1.6" fill="#460000" />
<rect x="572.05" y="161" width="15.04" height="1.6" fill="#4b0000" />
<rect x="572.05" y="162" width="15.04" height="1.6" fill="#460000" />
<rect x="572.05" y="163" width="15.04" height="1.6" fill="#3c0000" />
<rect x="572.05" y="164" width="15.04" height="1.6" fill="#420000" />
<rect x="572.05" y="165" width="15.04" height="1.6" fill="#4e0000" />
<rect x="572.05" y="166" width="15.04" height="1.6" fill="#630000" />
<rect x="572.05" y="167" width="15.04" height="1.6" fill="#4f0000" />
<rect x="572.05" y="168" width="15.04" height="1.6" fill="#4a0000" />
<rect x="572.05" y="169" width="15.04" height="1.6" fill="#490000" />
<rect x="572.05" y="170" width="15.04" height="1.6" fill="#6b0000" />
<rect x="572.05" y="171" width="15.04" height="1.6" fill="#6e0000" />
<rect x="572.05" y="172" width="15.04" height="1.6" fill="#640000" />
<rect x="572.05" y="173" width="15.04" height="1.6" fill="#540000" />
<rect x="572.05" y="174" width="15.04" height="1.6" fill="#5c0000" />
<rect x="572.05" y="175" width="15.04" height="1.6" fill="#560000" />
<rect x="572.05" y="176" width="15.04" height="1.6" fill="#550000" />
<rect x="572.05" y="177" width="15.04" height="1.6" fill="#5e0000" />
<rect x="572.05" y="178" width="15.04" height="1.6" fill="#8d0000" />
<rect x="572.05" y="179" width="15.04" height="1.6" fill="#b50000" />
<rect x="572.05" y="180" width="15.04" height="1.6" fill="#aa0000" />
<rect x="572.05" y="181" width="15.04" height="1.6" fill="#a40000" />
<rect x="572.05" y="182" width="15.04" height="1.6" fill="#960000" />
<rect x="572.05" y="183" width="15.04" height="1.6" fill="#920000" />
<rect x="572.05" y="184" width="15.04" height="1.6" fill="#cb0000" />
<rect x="572.05" y="185" width="15.04" height="0.3" fill="#aa0000" />
<rect x="586.39" y="54.1" width="15.04" height="1.5" fill="#11bf11" />
<rect x="586.39" y="55" width="15.04" height="1.6" fill="#12c712" />
<rect x="586.39" y="56" width="15.04" height="1.6" fill="#11be11" />
<rect x="586.39" y="57" width="15.04" height="1.6" fill="#009d00" />
<rect x="586.39" y="58" width="15.04" height="1.6" fill="#009200" />
<rect x="586.39" y="59" width="15.04" height="1.6" fill="#009400" />
<rect x="586.39" y="60" width="15.04" height="1.6" fill="#009700" />
<rect x="586.39" y="61" width="15.04" height="1.6" fill="#00a000" />
<rect x="586.39" y="62" width="15.04" height="1.6" fill="#008c00" />
<rect x="586.39" y="63" width="15.04" height="1.6" fill="#001e00" />
<rect x="586.39" y="64" width="15.04" height="1.6" fill="#002b00" />
<rect x="586.39" y="65" width="15.04" height="1.6" fill="#002800" />
<rect x="586.39" y="66" width="15.04" height="1.6" fill="#002b00" />
<rect x="586.39" y="67" width="15.04" height="1.6" fill="#002600" />
<rect x="586.39" y="68" width="15.04" height="2.6" fill="#002800" />
<rect x="586.39" y="70" width="15.04" height="1.6" fill="#002c00" />
<rect x="586.39" y="71" width="15.04" height="1.6" fill="#002800" />
<rect x="586.39" y="72" width="15.04" height="1.6" fill="#002a00" />
<rect x="586.39" y="73" width="15.04" height="1.6" fill="#002b00" />
<rect x="586.39" y="74" width="15.04" height="1.6" fill="#002200" />
<rect x="586.39" y="75" width="15.04" height="1.6" fill="#002500" />
<rect x="586.39" y="76" width="15.04" height="1.6" fill="#003a00" />
<rect x="586.39" y="77" width="15.04" height="1.6" fill="#003900" />
<rect x="586.39" y="78" width="15.04" height="1.6" fill="#1b0000" />
<rect x="586.39" y="79" width="15.04" height="1.6" fill="#1d0000" />
<rect x="586.39" y="80" width="15.04" height="1.6" fill="#1b0000" />
<rect x="586.39" y="81" width="15.04" height="1.6" fill="#170000" />
<rect x="586.39" y="82" width="15.04" height="1.6" fill="#1c0000" />
<rect x="586.39" y="83" width="15.04" height="1.6" fill="#1f0000" />
<rect x="586.39" y="84" width="15.04" height="1.6" fill="#200000" />
<rect x="586.39" y="85" width="15.04" height="1.6" fill="#300000" />
<rect x="586.39" y="86" width="15.04" height="1.6" fill="#2c0000" />
<rect x="586.39" y="87" width="15.04" height="1.6" fill="#2f0000" />
<rect x="586.39" y="88" width="15.04" height="1.6" fill="#310000" />
<rect x="586.39" y="89" width="15.04" height="2.6" fill="#330000" />
<rect x="586.39" y="91" width="15.04" height="1.6" fill="#320000" />
<rect x="586.39" y="92" width="15.04" height="1.6" fill="#3e0000" />
<rect x="586.39" y="93" width="15.04" height="1.6" fill="#3a0000" />
<rect x="586.39" y="94" width="15.04" height="1.6" fill="#420000" />
<rect x="586.39" y="95" width="15.04" height="1.6" fill="#3c0000" />
<rect x="586.39" y="96" width="15.04" height="1.6" fill="#460000" />
<rect x="586.39" y="97" width="15.04" height="1.6" fill="#3e0000" />
<rect x="586.39" y="98" width="15.04" height="1.6" fill="#350000" />
<rect x="586.39" y="99" width="15.04" height="1.6" fill="#3a0000" />
<rect x="586.39" y="100" width="15.04" height="1.6" fill="#370000" />
<rect x="586.39" y="101" width="15.04" height="1.6" fill="#3f0000" />
<rect x="586.39" y="102" width="15.04" height="2.6" fill="#190000" />
<rect x="586.39" y="104" width="15.04" height="1.6" fill="#1a0000" />
<rect x="586.39" y="105" width="15.04" height="1.6" fill="#1c0000" />
<rect x="586.39" y="106" width="15.04" height="1.6" fill="#1b0000" />
<rect x="586.39" y="107" width="15.04" height="1.6" fill="#180000" />
<rect x="586.39" y="108" width="15.04" height="1.6" fill="#170000" />
<rect x="586.39" y="109" width="15.04" height="1.6" fill="#150000" />
<rect x="586.39" y="110" width="15.04" height="1.6" fill="#1f0000" />
<rect x="586.39" y="111" width="15.04" height="1.6" fill="#200000" />
<rect x="586.39" y="112" width="15.04" height="1.6" fill="#1b0000" />
<rect x="586.39" y="113" width="15.04" height="2.6" fill="#1e0000" />
<rect x="586.39" y="115" width="15.04" height="1.6" fill="#230000" />
<rect x="586.39" y="116" width="15.04" height="1.6" fill="#200000" />
<rect x="586.39" y="117" width="15.04" height="1.6" fill="#1f3f0f" />
<rect x="586.39" y="118" width="15.04" height="1.6" fill="#1d3b0e" />
<rect x="586.39" y="119" width="15.04" height="1.6" fill="#390000" />
<rect x="586.39" y="120" width="15.04" height="1.6" fill="#350000" />
<rect x="586.39" y="121" width="15.04" height="2.6" fill="#370000" />
<rect x="586.39" y="123" width="15.04" height="1.6" fill="#380000" />
<rect x="586.39" y="124" width="15.04" height="1.6" fill="#3b0000" />
<rect x="586.39" y="125" width="15.04" height="1.6" fill="#3e0000" />
<rect x="586.39" y="126" width="15.04" height="1.6" fill="#3c0000" />
<rect x="586.39" y="127" width="15.04" height="1.6" fill="#380000" />
<rect x="586.39" y="128" width="15.04" height="1.6" fill="#450000" />
<rect x="586.39" y="129" width="15.04" height="1.6" fill="#3e0000" />
<rect x="586.39" y="130" width="15.04" height="1.6" fill="#3c0000" />
<rect x="586.39" y="131" width="15.04" height="1.6" fill="#420000" />
<rect x="586.39" y="132" width="15.04" height="1.6" fill="#480000" />
<rect x="586.39" y="133" width="15.04" height="1.6" fill="#420000" />
<rect x="586.39" y="134" width="15.04" height="1.6" fill="#380000" />
<rect x="586.39" y="135" width="15.04" height="2.6" fill="#3d0000" />
<rect x="586.39" y="137" width="15.04" height="1.6" fill="#480000" />
<rect x="586.39" y="138" width="15.04" height="1.6" fill="#410000" />
<rect x="586.39" y="139" width="15.04" height="1.6" fill="#3e0000" />
<rect x="586.39" y="140" width="15.04" height="1.6" fill="#390000" />
<rect x="586.39" y="141" width="15.04" height="1.6" fill="#3d0000" />
<rect x="586.39" y="142" width="15.04" height="1.6" fill="#410000" />
<rect x="586.39" y="143" width="15.04" height="1.6" fill="#4f0000" />
<rect x="586.39" y="144" width="15.04" height="1.6" fill="#4b0000" />
<rect x="586.39" y="145" width="15.04" height="1.6" fill="#3b0000" />
<rect x="586.39" y="146" width="15.04" height="1.6" fill="#380000" />
<rect x="586.39" y="147" width="15.04" height="1.6" fill="#450000" />
<rect x="586.39" y="148" width="15.04" height="1.6" fill="#4a0000" />
<rect x="586.39" y="149" width="15.04" height="1.6" fill="#3f0000" />
<rect x="586.39" y="150" width="15.04" height="1.6" fill="#460000" />
<rect x="586.39" y="151" width="15.04" height="1.6" fill="#430000" />
<rect x="586.39" y="152" width="15.04" height="1.6" fill="#440000" />
<rect x="586.39" y="153" width="15.04" height="1.6" fill="#420000" />
<rect x="586.39" y="154" width="15.04" height="1.6" fill="#470000" />
<rect x="586.39" y="155" width="15.04" height="1.6" fill="#440000" />
<rect x="586.39" y="156" width="15.04" height="1.6" fill="#4d0000" />
<rect x="586.39" y="157" width="15.04" height="1.6" fill="#4c0000" />
<rect x="586.39" y="158" width="15.04" height="1.6" fill="#530000" />
<rect x="586.39" y="159" width="15.04" height="1.6" fill="#450000" />
<rect x="586.39" y="160" width="15.04" height="1.6" fill="#4e0000" />
<rect x="586.39" y="161" width="15.04" height="1.6" fill="#500000" />
<rect x="586.39" y="162" width="15.04" height="1.6" fill="#4a0000" />
<rect x="586.39" y="163" width="15.04" height="1.6" fill="#3e0000" />
<rect x="586.39" y="164" width="15.04" height="1.6" fill="#530000" />
<rect x="586.39" y="165" width="15.04" height="1.6" fill="#5d0000" />
<rect x="586.39" y="166" width="15.04" height="1.6" fill="#6d0000" />
<rect x="586.39" y="167" width="15.04" height="1.6" fill="#5e0000" />
<rect x="586.39" y="168" width="15.04" height="1.6" fill="#4d0000" />
<rect x="586.39" y="169" width="15.04" height="1.6" fill="#510000" />
<rect x="586.39" y="170" width="15.04" height="1.6" fill="#790000" />
<rect x="586.39" y="171" width="15.04" height="1.6" fill="#7d0000" />
<rect x="586.39" y="172" width="15.04" height="1.6" fill="#6b0000" />
<rect x="586.39" y="173" width="15.04" height="1.6" fill="#620000" />
<rect x="586.39" y="174" width="15.04" height="1.6" fill="#610000" />
<rect x="586.39" y="175" width="15.04" height="1.6" fill="#600000" />
<rect x="586.39" y="176" width="15.04" height="1.6" fill="#5e0000" />
<rect x="586.39" y="177" width="15.04" height="1.6" fill="#670000" />
<rect x="586.39" y="178" width="15.04" height="1.6" fill="#a40000" />
<rect x="586.39" y="179" width="15.04" height="1.6" fill="#a20000" />
<rect x="586.39" y="180" width="15.04" height="1.6" fill="#a90000" />
<rect x="586.39" y="181" width="15.04" height="1.6" fill="#ac0000" />
<rect x="586.39" y="182" width="15.04" height="1.6" fill="#9e0000" />
<rect x="586.39" y="183" width="15.04" height="1.6" fill="#850000" />
<rect x="586.39" y="184" width="15.04" height="1.6" fill="#bb0000" />
<rect x="586.39" y="185" width="15.04" height="0.3" fill="#9a0000" />
<rect x="600.73" y="54.1" width="15.04" height="1.5" fill="#111c08" />
<rect x="600.73" y="55" width="15.04" height="1.6" fill="#121d09" />
<rect x="600.73" y="56" width="15.04" height="1.6" fill="#111c08" />
<rect x="600.73" y="57" width="15.04" height="1.6" fill="#2b0000" />
<rect x="600.73" y="58" width="15.04" height="1.6" fill="#260000" />
<rect x="600.73" y="59" width="15.04" height="1.6" fill="#270000" />
<rect x="600.73" y="60" width="15.04" height="1.6" fill="#2a0000" />
<rect x="600.73" y="61" width="15.04" height="1.6" fill="#290000" />
<rect x="600.73" y="62" width="15.04" height="1.6" fill="#2a0000" />
<rect x="600.73" y="63" width="15.04" height="1.6" fill="#2f0000" />
<rect x="600.73" y="64" width="15.04" height="1.6" fill="#2a0000" />
<rect x="600.73" y="65" width="15.04" height="2.6" fill="#2b0000" />
<rect x="600.73" y="67" width="15.04" height="1.6" fill="#260000" />
<rect x="600.73" y="68" width="15.04" height="1.6" fill="#2b0000" />
<rect x="600.73" y="69" width="15.04" height="1.6" fill="#2d0000" />
<rect x="600.73" y="70" width="15.04" height="3.6" fill="#280000" />
<rect x="600.73" y="73" width="15.04" height="1.6" fill="#270000" />
<rect x="600.73" y="74" width="15.04" height="1.6" fill="#230000" />
<rect x="600.73" y="75" width="15.04" height="1.6" fill="#220000" />
<rect x="600.73" y="76" width="15.04" height="1.6" fill="#180000" />
<rect x="600.73" y="77" width="15.04" height="1.6" fill="#160000" />
<rect x="600.73" y="78" width="15.04" height="1.6" fill="#009400" />
<rect x="600.73" y="79" width="15.04" height="1.6" fill="#00a300" />
<rect x="600.73" y="80" width="15.04" height="1.6" fill="#008b00" />
<rect x="600.73" y="81" width="15.04" height="1.6" fill="#009900" />
<rect x="600.73" y="82" width="15.04" height="1.6" fill="#009d00" />
<rect x="600.73" y="83" width="15.04" height="1.6" fill="#00b800" />
<rect x="600.73" y="84" width="15.04" height="1.6" fill="#00d200" />
<rect x="600.73" y="85" width="15.04" height="1.6" fill="#00ab00" />
<rect x="600.73" y="86" width="15.04" height="1.6" fill="#00a300" />
<rect x="600.73" y="87" width="15.04" height="1.6" fill="#00b000" />
<rect x="600.73" y="88" width="15.04" height="1.6" fill="#00bd00" />
<rect x="600.73" y="89" width="15.04" height="1.6" fill="#00ac00" />
<rect x="600.73" y="90" width="15.04" height="2.6" fill="#080808" />
<rect x="600.73" y="92" width="15.04" height="1.6" fill="#006300" />
<rect x="600.73" y="93" width="15.04" height="1.6" fill="#005d00" />
<rect x="600.73" y="94" width="15.04" height="1.6" fill="#005700" />
<rect x="600.73" y="95" width="15.04" height="1.6" fill="#006900" />
<rect x="600.73" y="96" width="15.04" height="1.6" fill="#006400" />
<rect x="600.73" y="97" width="15.04" height="2.6" fill="#005600" />
<rect x="600.73" y="99" width="15.04" height="1.6" fill="#005500" />
<rect x="600.73" y="100" width="15.04" height="1.6" fill="#004e00" />
<rect x="600.73" y="101" width="15.04" height="1.6" fill="#005c00" />
<rect x="600.73" y="102" width="15.04" height="1.6" fill="#560000" />
<rect x="600.73" y="103" width="15.04" height="1.6" fill="#510000" />
<rect x="600.73" y="104" width="15.04" height="1.6" fill="#5a0000" />
<rect x="600.73" y="105" width="15.04" height="1.6" fill="#5e0000" />
<rect x="600.73" y="106" width="15.04" height="1.6" fill="#550000" />
<rect x="600.73" y="107" width="15.04" height="2.6" fill="#530000" />
<rect x="600.73" y="109" width="15.04" height="1.6" fill="#500000" />
<rect x="600.73" y="110" width="15.04" height="1.6" fill="#660000" />
<rect x="600.73" y="111" width="15.04" height="1.6" fill="#6b0000" />
<rect x="600.73" y="112" width="15.04" height="3.6" fill="#5a0000" />
<rect x="600.73" y="115" width="15.04" height="1.6" fill="#5e0000" />
<rect x="600.73" y="116" width="15.04" height="2.6" fill="#610000" />
<rect x="600.73" y="118" width="15.04" height="1.6" fill="#5e0000" />
<rect x="600.73" y="119" width="15.04" height="1.6" fill="#6d0000" />
<rect x="600.73" y="120" width="15.04" height="1.6" fill="#750000" />
<rect x="600.73" y="121" width="15.04" height="1.6" fill="#740000" />
<rect x="600.73" y="122" width="15.04" height="1.6" fill="#6b0000" />
<rect x="600.73" y="123" width="15.04" height="1.6" fill="#7a0000" />
<rect x="600.73" y="124" width="15.04" height="1.6" fill="#790000" />
<rect x="600.73" y="125" width="15.04" height="1.6" fill="#730000" />
<rect x="600.73" y="126" width="15.04" height="1.6" fill="#6f0000" />
<rect x="600.73" y="127" width="15.04" height="1.6" fill="#7b0000" />
<rect x="600.73" y="128" width="15.04" height="1.6" fill="#840000" />
<rect x="600.73" y="129" width="15.04" height="1.6" fill="#7b0000" />
<rect x="600.73" y="130" width="15.04" height="2.6" fill="#300000" />
<rect x="600.73" y="132" width="15.04" height="1.6" fill="#330000" />
<rect x="600.73" y="133" width="15.04" height="2.6" fill="#0e1704" />
<rect x="600.73" y="135" width="15.04" height="1.6" fill="#0f1804" />
<rect x="600.73" y="136" width="15.04" height="1.6" fill="#0e1804" />
<rect x="600.73" y="137" width="15.04" height="1.6" fill="#111c05" />
<rect x="600.73" y="138" width="15.04" height="1.6" fill="#101a05" />
<rect x="600.73" y="139" width="15.04" height="1.6" fill="#0e1604" />
<rect x="600.73" y="140" width="15.04" height="1.6" fill="#640000" />
<rect x="600.73" y="141" width="15.04" height="1.6" fill="#690000" />
<rect x="600.73" y="142" width="15.04" height="1.6" fill="#740000" />
<rect x="600.73" y="143" width="15.04" height="1.6" fill="#830000" />
<rect x="600.73" y="144" width="15.04" height="1.6" fill="#760000" />
<rect x="600.73" y="145" width="15.04" height="1.6" fill="#6e0000" />
<rect x="600.73" y="146" width="15.04" height="1.6" fill="#680000" />
<rect x="600.73" y="147" width="15.04" height="1.6" fill="#720000" />
<rect x="600.73" y="148" width="15.04" height="1.6" fill="#880000" />
<rect x="600.73" y="149" width="15.04" height="1.6" fill="#840000" />
<rect x="600.73" y="150" width="15.04" height="1.6" fill="#650000" />
<rect x="600.73" y="151" width="15.04" height="1.6" fill="#740000" />
<rect x="600.73" y="152" width="15.04" height="2.6" fill="#700000" />
<rect x="600.73" y="154" width="15.04" height="1.6" fill="#6b0000" />
<rect x="600.73" y="155" width="15.04" height="1.6" fill="#6f0000" />
<rect x="600.73" y="156" width="15.04" height="1.6" fill="#720000" />
<rect x="600.73" y="157" width="15.04" height="1.6" fill="#6e0000" />
<rect x="600.73" y="158" width="15.04" height="1.6" fill="#6f0000" />
<rect x="600.73" y="159" width="15.04" height="1.6" fill="#6d0000" />
<rect x="600.73" y="160" width="15.04" height="1.6" fill="#670000" />
<rect x="600.73" y="161" width="15.04" height="1.6" fill="#7a0000" />
<rect x="600.73" y="162" width="15.04" height="1.6" fill="#730000" />
<rect x="600.73" y="163" width="15.04" height="1.6" fill="#7e0000" />
<rect x="600.73" y="164" width="15.04" height="1.6" fill="#840000" />
<rect x="600.73" y="165" width="15.04" height="1.6" fill="#930000" />
<rect x="600.73" y="166" width="15.04" height="1.6" fill="#920000" />
<rect x="600.73" y="167" width="15.04" height="1.6" fill="#880000" />
<rect x="600.73" y="168" width="15.04" height="2.6" fill="#780000" />
<rect x="600.73" y="170" width="15.04" height="1.6" fill="#a50000" />
<rect x="600.73" y="171" width="15.04" height="1.6" fill="#a90000" />
<rect x="600.73" y="172" width="15.04" height="1.6" fill="#9f0000" />
<rect x="600.73" y="173" width="15.04" height="1.6" fill="#870000" />
<rect x="600.73" y="174" width="15.04" height="1.6" fill="#8c0000" />
<rect x="600.73" y="175" width="15.04" height="1.6" fill="#840000" />
<rect x="600.73" y="176" width="15.04" height="1.6" fill="#880000" />
<rect x="600.73" y="177" width="15.04" height="1.6" fill="#8e0000" />
<rect x="600.73" y="178" width="15.04" height="1.6" fill="#ba0000" />
<rect x="600.73" y="179" width="15.04" height="1.6" fill="#c60000" />
<rect x="600.73" y="180" width="15.04" height="1.6" fill="#be0000" />
<rect x="600.73" y="181" width="15.04" height="1.6" fill="#b90000" />
<rect x="600.73" y="182" width="15.04" height="1.6" fill="#b30000" />
<rect x="600.73" y="183" width="15.04" height="1.6" fill="#a20000" />
<rect x="600.73" y="184" width="15.04" height="1.6" fill="#ba0000" />
<rect x="600.73" y="185" width="15.04" height="0.3" fill="#b40000" />
<rect x="615.06" y="54.1" width="14.34" height="1.5" fill="#1b2b10" />
<rect x="615.06" y="55" width="14.34" height="1.6" fill="#1d2f11" />
<rect x="615.06" y="56" width="14.34" height="1.6" fill="#1f3313" />
<rect x="615.06" y="57" width="14.34" height="1.6" fill="#2b0000" />
<rect x="615.06" y="58" width="14.34" height="1.6" fill="#280000" />
<rect x="615.06" y="59" width="14.34" height="2.6" fill="#290000" />
<rect x="615.06" y="61" width="14.34" height="3.6" fill="#2b0000" />
<rect x="615.06" y="64" width="14.34" height="1.6" fill="#330000" />
<rect x="615.06" y="65" width="14.34" height="1.6" fill="#2f0000" />
<rect x="615.06" y="66" width="14.34" height="1.6" fill="#2d0000" />
<rect x="615.06" y="67" width="14.34" height="1.6" fill="#2f0000" />
<rect x="615.06" y="68" width="14.34" height="1.6" fill="#300000" />
<rect x="615.06" y="69" width="14.34" height="1.6" fill="#350000" />
<rect x="615.06" y="70" width="14.34" height="1.6" fill="#330000" />
<rect x="615.06" y="71" width="14.34" height="3.6" fill="#2f0000" />
<rect x="615.06" y="74" width="14.34" height="1.6" fill="#290000" />
<rect x="615.06" y="75" width="14.34" height="1.6" fill="#280000" />
<rect x="615.06" y="76" width="14.34" height="1.6" fill="#230000" />
<rect x="615.06" y="77" width="14.34" height="1.6" fill="#1d0000" />
<rect x="615.06" y="78" width="14.34" height="1.6" fill="#00ae00" />
<rect x="615.06" y="79" width="14.34" height="1.6" fill="#00a100" />
<rect x="615.06" y="80" width="14.34" height="1.6" fill="#00b500" />
<rect x="615.06" y="81" width="14.34" height="1.6" fill="#00a700" />
<rect x="615.06" y="82" width="14.34" height="1.6" fill="#00ad00" />
<rect x="615.06" y="83" width="14.34" height="1.6" fill="#00bb00" />
<rect x="615.06" y="84" width="14.34" height="1.6" fill="#00c900" />
<rect x="615.06" y="85" width="14.34" height="1.6" fill="#00b100" />
<rect x="615.06" y="86" width="14.34" height="1.6" fill="#00b200" />
<rect x="615.06" y="87" width="14.34" height="1.6" fill="#00c200" />
<rect x="615.06" y="88" width="14.34" height="1.6" fill="#00d300" />
<rect x="615.06" y="89" width="14.34" height="1.6" fill="#00b600" />
<rect x="615.06" y="90" width="14.34" height="1.6" fill="#0f0f0f" />
<rect x="615.06" y="91" width="14.34" height="1.6" fill="#101010" />
<rect x="615.06" y="92" width="14.34" height="1.6" fill="#009100" />
<rect x="615.06" y="93" width="14.34" height="1.6" fill="#009400" />
<rect x="615.06" y="94" width="14.34" height="1.6" fill="#00a000" />
<rect x="615.06" y="95" width="14.34" height="1.6" fill="#00b700" />
<rect x="615.06" y="96" width="14.34" height="1.6" fill="#00a500" />
<rect x="615.06" y="97" width="14.34" height="1.6" fill="#008300" />
<rect x="615.06" y="98" width="14.34" height="1.6" fill="#008700" />
<rect x="615.06" y="99" width="14.34" height="1.6" fill="#008600" />
<rect x="615.06" y="100" width="14.34" height="1.6" fill="#008e00" />
<rect x="615.06" y="101" width="14.34" height="1.6" fill="#00a100" />
<rect x="615.06" y="102" width="14.34" height="1.6" fill="#550000" />
<rect x="615.06" y="103" width="14.34" height="1.6" fill="#510000" />
<rect x="615.06" y="104" width="14.34" height="1.6" fill="#5c0000" />
<rect x="615.06" y="105" width="14.34" height="1.6" fill="#5e0000" />
<rect x="615.06" y="106" width="14.34" height="1.6" fill="#540000" />
<rect x="615.06" y="107" width="14.34" height="1.6" fill="#570000" />
<rect x="615.06" y="108" width="14.34" height="1.6" fill="#590000" />
<rect x="615.06" y="109" width="14.34" height="1.6" fill="#480000" />
<rect x="615.06" y="110" width="14.34" height="1.6" fill="#590000" />
<rect x="615.06" y="111" width="14.34" height="1.6" fill="#5d0000" />
<rect x="615.06" y="112" width="14.34" height="1.6" fill="#580000" />
<rect x="615.06" y="113" width="14.34" height="1.6" fill="#620000" />
<rect x="615.06" y="114" width="14.34" height="1.6" fill="#670000" />
<rect x="615.06" y="115" width="14.34" height="1.6" fill="#620000" />
<rect x="615.06" y="116" width="14.34" height="1.6" fill="#5d0000" />
<rect x="615.06" y="117" width="14.34" height="1.6" fill="#6a0000" />
<rect x="615.06" y="118" width="14.34" height="1.6" fill="#6b0000" />
<rect x="615.06" y="119" width="14.34" height="1.6" fill="#6c0000" />
<rect x="615.06" y="120" width="14.34" height="1.6" fill="#720000" />
<rect x="615.06" y="121" width="14.34" height="1.6" fill="#700000" />
<rect x="615.06" y="122" width="14.34" height="1.6" fill="#810000" />
<rect x="615.06" y="123" width="14.34" height="1.6" fill="#7c0000" />
<rect x="615.06" y="124" width="14.34" height="1.6" fill="#8f0000" />
<rect x="615.06" y="125" width="14.34" height="1.6" fill="#7d0000" />
<rect x="615.06" y="126" width="14.34" height="1.6" fill="#780000" />
<rect x="615.06" y="127" width="14.34" height="1.6" fill="#850000" />
<rect x="615.06" y="128" width="14.34" height="1.6" fill="#890000" />
<rect x="615.06" y="129" width="14.34" height="1.6" fill="#820000" />
<rect x="615.06" y="130" width="14.34" height="2.6" fill="#600000" />
<rect x="615.06" y="132" width="14.34" height="1.6" fill="#650000" />
<rect x="615.06" y="133" width="14.34" height="1.6" fill="#183609" />
<rect x="615.06" y="134" width="14.34" height="1.6" fill="#173509" />
<rect x="615.06" y="135" width="14.34" height="1.6" fill="#1b3e0a" />
<rect x="615.06" y="136" width="14.34" height="1.6" fill="#193809" />
<rect x="615.06" y="137" width="14.34" height="1.6" fill="#1a3b0a" />
<rect x="615.06" y="138" width="14.34" height="1.6" fill="#1c3e0a" />
<rect x="615.06" y="139" width="14.34" height="1.6" fill="#142d07" />
<rect x="615.06" y="140" width="14.34" height="1.6" fill="#6c0000" />
<rect x="615.06" y="141" width="14.34" height="1.6" fill="#770000" />
<rect x="615.06" y="142" width="14.34" height="1.6" fill="#890000" />
<rect x="615.06" y="143" width="14.34" height="1.6" fill="#8c0000" />
<rect x="615.06" y="144" width="14.34" height="1.6" fill="#920000" />
<rect x="615.06" y="145" width="14.34" height="1.6" fill="#720000" />
<rect x="615.06" y="146" width="14.34" height="1.6" fill="#770000" />
<rect x="615.06" y="147" width="14.34" height="1.6" fill="#8c0000" />
<rect x="615.06" y="148" width="14.34" height="1.6" fill="#8d0000" />
<rect x="615.06" y="149" width="14.34" height="1.6" fill="#910000" />
<rect x="615.06" y="150" width="14.34" height="1.6" fill="#7f0000" />
<rect x="615.06" y="151" width="14.34" height="1.6" fill="#750000" />
<rect x="615.06" y="152" width="14.34" height="1.6" fill="#840000" />
<rect x="615.06" y="153" width="14.34" height="1.6" fill="#810000" />
<rect x="615.06" y="154" width="14.34" height="1.6" fill="#770000" />
<rect x="615.06" y="155" width="14.34" height="1.6" fill="#880000" />
<rect x="615.06" y="156" width="14.34" height="1.6" fill="#8a0000" />
<rect x="615.06" y="157" width="14.34" height="1.6" fill="#830000" />
<rect x="615.06" y="158" width="14.34" height="1.6" fill="#810000" />
<rect x="615.06" y="159" width="14.34" height="1.6" fill="#790000" />
<rect x="615.06" y="160" width="14.34" height="1.6" fill="#700000" />
<rect x="615.06" y="161" width="14.34" height="1.6" fill="#910000" />
<rect x="615.06" y="162" width="14.34" height="1.6" fill="#880000" />
<rect x="615.06" y="163" width="14.34" height="1.6" fill="#850000" />
<rect x="615.06" y="164" width="14.34" height="1.6" fill="#910000" />
<rect x="615.06" y="165" width="14.34" height="1.6" fill="#9d0000" />
<rect x="615.06" y="166" width="14.34" height="1.6" fill="#9f0000" />
<rect x="615.06" y="167" width="14.34" height="1.6" fill="#990000" />
<rect x="615.06" y="168" width="14.34" height="1.6" fill="#830000" />
<rect x="615.06" y="169" width="14.34" height="1.6" fill="#850000" />
<rect x="615.06" y="170" width="14.34" height="1.6" fill="#b90000" />
<rect x="615.06" y="171" width="14.34" height="1.6" fill="#bb0000" />
<rect x="615.06" y="172" width="14.34" height="1.6" fill="#a90000" />
<rect x="615.06" y="173" width="14.34" height="1.6" fill="#950000" />
<rect x="615.06" y="174" width="14.34" height="1.6" fill="#a00000" />
<rect x="615.06" y="175" width="14.34" height="1.6" fill="#990000" />
<rect x="615.06" y="176" width="14.34" height="1.6" fill="#9a0000" />
<rect x="615.06" y="177" width="14.34" height="1.6" fill="#930000" />
<rect x="615.06" y="178" width="14.34" height="1.6" fill="#d40000" />
<rect x="615.06" y="179" width="14.34" height="1.6" fill="#d50000" />
<rect x="615.06" y="180" width="14.34" height="1.6" fill="#c90000" />
<rect x="615.06" y="181" width="14.34" height="1.6" fill="#c80000" />
<rect x="615.06" y="182" width="14.34" height="1.6" fill="#ba0000" />
<rect x="615.06" y="183" width="14.34" height="1.6" fill="#ab0000" />
<rect x="615.06" y="184" width="14.34" height="1.6" fill="#be0000" />
<rect x="615.06" y="185" width="14.34" height="0.3" fill="#c10000" />
<path d="M528.3 26V1.7H593.6V14.2 M520.2 27.3V26H535.8V27.3 M571.9 14.2H615.4 M571.9 14.2V23 M615.4 14.2V24.7 M557.3 23H586.4 M557.3 23V25.5 M586.4 23V25.5 M549.8 27V25.5H564.9V27 M579.6 27V25.5H594V27 M608.2 26.2V24.7H622.2V26.2" stroke="#333" stroke-width="0.9" fill="none"/>
<text x="0" y="0" font-size="6.1" font-weight="bold" text-anchor="start" fill="#111" transform="translate(523.9000000000001 39.3) rotate(-90)">22</text>
<text x="0" y="0" font-size="6.1" font-weight="bold" text-anchor="start" fill="#111" transform="translate(538.2500000000001 39.3) rotate(-90)">G1</text>
<text x="0" y="0" font-size="6.1" font-weight="bold" text-anchor="start" fill="#111" transform="translate(552.6000000000001 39.3) rotate(-90)">G67</text>
<text x="0" y="0" font-size="6.1" font-weight="bold" text-anchor="start" fill="#111" transform="translate(566.95 39.3) rotate(-90)">G41</text>
<text x="0" y="0" font-size="6.1" font-weight="bold" text-anchor="start" fill="#111" transform="translate(581.3000000000001 39.3) rotate(-90)">G54</text>
<text x="0" y="0" font-size="6.1" font-weight="bold" text-anchor="start" fill="#111" transform="translate(595.6500000000001 39.3) rotate(-90)">G34</text>
<text x="0" y="0" font-size="6.1" font-weight="bold" text-anchor="start" fill="#111" transform="translate(610.0000000000001 39.3) rotate(-90)">G38</text>
<text x="0" y="0" font-size="6.1" font-weight="bold" text-anchor="start" fill="#111" transform="translate(624.3500000000001 39.3) rotate(-90)">154N</text>
<rect x="629.3" y="54.1" width="4.0" height="131.2" fill="#0a0a0a"/>
<path d="M633.2 54.6h2.7M633.2 56.2h1.9M633.2 57.4h0.7M633.2 58.6h1.7M633.2 59.6h0.7M633.2 61.4h2.3M633.2 62.5h1.7M633.2 64.3h2.9M633.2 65.9h1.6M633.2 67.3h2.4M633.2 68.2h2.0M633.2 69.4h2.9M633.2 70.3h2.4M633.2 72.0h1.2M633.2 73.7h2.9M633.2 74.6h2.4M633.2 75.5h1.9M633.2 76.8h1.1M633.2 78.0h2.7M633.2 79.2h1.0M633.2 80.7h1.8M633.2 82.3h1.2M633.2 83.5h2.7M633.2 84.9h1.9M633.2 86.0h0.6M633.2 87.7h0.8M633.2 89.4h1.6M633.2 91.2h1.6M633.2 92.9h2.0M633.2 94.0h2.5M633.2 95.5h2.4M633.2 96.8h1.2M633.2 98.3h0.9M633.2 99.8h2.3M633.2 101.1h2.7M633.2 102.2h1.6M633.2 103.8h1.6M633.2 105.3h2.2M633.2 107.1h3.2M633.2 108.6h2.7M633.2 109.6h2.5M633.2 111.3h1.6M633.2 112.7h1.8M633.2 114.5h1.4M633.2 115.7h0.6M633.2 117.0h2.2M633.2 118.8h3.0M633.2 119.9h3.2M633.2 121.0h2.7M633.2 122.1h1.7M633.2 123.0h2.8M633.2 124.7h1.0M633.2 126.0h1.3M633.2 127.4h2.0M633.2 128.4h2.8M633.2 129.5h1.8M633.2 130.5h0.6M633.2 131.6h1.5M633.2 133.3h2.9M633.2 134.6h1.8M633.2 136.1h2.8M633.2 137.3h2.7M633.2 138.6h2.1M633.2 140.2h1.9M633.2 141.7h2.4M633.2 142.6h0.7M633.2 143.6h1.2M633.2 144.7h0.7M633.2 145.8h2.2M633.2 147.5h1.5M633.2 148.7h1.7M633.2 150.2h2.6M633.2 152.0h1.6M633.2 153.5h1.5M633.2 155.2h1.2M633.2 156.8h1.9M633.2 158.4h2.0M633.2 159.6h1.9M633.2 160.5h0.7M633.2 161.9h1.8M633.2 163.6h0.7M633.2 165.0h1.9M633.2 166.4h2.5M633.2 167.8h2.1M633.2 169.1h2.2M633.2 170.2h2.0M633.2 171.7h1.1M633.2 173.5h2.5M633.2 175.3h1.4M633.2 176.6h1.3M633.2 177.5h0.6M633.2 178.6h2.8M633.2 179.7h2.4M633.2 180.8h0.8M633.2 181.9h2.4M633.2 183.2h2.0M633.2 184.6h1.3" stroke="#333" stroke-width="0.6" fill="none"/>
<path d="M632.3 55.0h0.9M631.8 58.3h0.9M631.7 60.6h1.9M631.7 63.1h0.6M631.8 64.7h1.2M632.4 67.7h1.8M632.1 69.8h1.9M632.3 71.6h1.2M631.9 75.0h1.5M631.7 77.8h1.7M632.0 81.3h1.1M631.9 85.2h1.8M631.9 87.8h1.1M631.8 89.4h0.9M632.0 91.1h1.2M631.7 92.6h1.9M631.9 94.5h1.9M631.9 96.2h1.7M631.7 97.8h1.9M631.8 101.0h1.3M632.3 103.1h1.9M632.0 104.8h0.9M632.2 107.3h1.6M631.9 109.3h1.2M632.1 111.8h1.7M632.0 114.1h0.7M632.4 116.5h1.3M632.1 119.4h1.4M631.8 122.9h1.0M632.0 126.6h1.9M632.2 128.5h1.3M632.3 131.2h0.8M631.8 134.0h1.1M631.9 137.5h1.7M632.4 139.0h1.9M631.8 142.2h1.5M631.9 144.2h0.6M631.7 145.9h0.9M631.8 149.5h1.8M631.6 151.0h0.7M632.3 154.8h0.6M631.8 158.6h1.0M631.8 161.6h2.0M632.1 164.0h1.4M632.2 166.2h2.0M631.7 169.2h1.7M632.0 172.4h1.5M631.8 174.5h1.3M632.1 176.2h0.9M632.3 178.3h1.4M632.2 180.5h2.0M632.2 184.2h1.1" stroke="#bbb" stroke-width="0.5" fill="none"/>
<path d="M635.9 65H641.5V131.1H636 M641.5 104.5H668.6V173.8H660.8 M660.8 165.9V181.1 M635.9 165.9H660.8 M645.6 181.1H660.8 M634 57.3H636.6V69.4H634 M634 81.5H636.6V94.8H634 M634 120.2H636.6V130H634 M634 158H636.4V166H634" stroke="#777" stroke-width="0.8" fill="none"/>
<path d="M641.5 77.1V88.7" stroke="#555" stroke-width="1.5"/>
<path d="M635.5 177.5h8.5a2.6 3.2 0 0 1 0 6.4h-8.5" stroke="#999" stroke-width="0.8" fill="none"/>
<defs><linearGradient id="cb" x1="0" y1="0" x2="0" y2="1"><stop offset="0" stop-color="#00f000"/><stop offset="0.52" stop-color="#000"/><stop offset="1" stop-color="#f00000"/></linearGradient></defs>
<rect x="647.1" y="8.9" width="8.5" height="45.9" fill="url(#cb)" />
<text x="656.8" y="8.9" font-size="6.9" font-weight="normal" text-anchor="start" fill="#333" >0</text>
<text x="656.6" y="32.0" font-size="6.9" font-weight="normal" text-anchor="start" fill="#333" >0.313</text>
<text x="656.6" y="54.9" font-size="6.9" font-weight="normal" text-anchor="start" fill="#333" >0.992</text>
</svg></body></html>
